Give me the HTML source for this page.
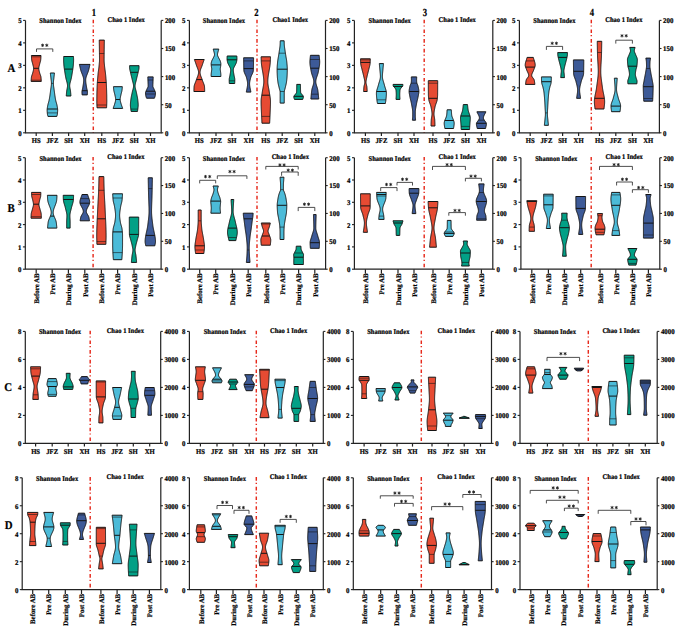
<!DOCTYPE html><html><head><meta charset="utf-8"><style>html,body{margin:0;padding:0;background:#fff;}svg{display:block;font-family:"Liberation Serif",serif;}text{stroke:#000;stroke-width:0.22px;fill:#000;text-rendering:geometricPrecision;}text.r{stroke-width:0.2px;}</style></head><body><svg width="685" height="626" viewBox="0 0 685 626" font-family="Liberation Serif, serif" font-weight="bold" fill="#111"><rect width="685" height="626" fill="#fff"/><g><line x1="93.3" y1="19.7" x2="93.3" y2="132.8" stroke="#E62A1C" stroke-width="1.45" stroke-dasharray="3.6 2.1 1.2 2.8"/><path d="M25.5,20.4 V132.8 H161.2 V20.4" fill="none" stroke="#222" stroke-width="1.2"/><line x1="23.1" y1="132.8" x2="25.5" y2="132.8" stroke="#222" stroke-width="1.1"/><text transform="translate(21.6,135.7) scale(0.95,1)" font-size="7.2" text-anchor="end">0</text><line x1="23.1" y1="110.32" x2="25.5" y2="110.32" stroke="#222" stroke-width="1.1"/><text transform="translate(21.6,113.22) scale(0.95,1)" font-size="7.2" text-anchor="end">1</text><line x1="23.1" y1="87.84" x2="25.5" y2="87.84" stroke="#222" stroke-width="1.1"/><text transform="translate(21.6,90.74) scale(0.95,1)" font-size="7.2" text-anchor="end">2</text><line x1="23.1" y1="65.36" x2="25.5" y2="65.36" stroke="#222" stroke-width="1.1"/><text transform="translate(21.6,68.26) scale(0.95,1)" font-size="7.2" text-anchor="end">3</text><line x1="23.1" y1="42.88" x2="25.5" y2="42.88" stroke="#222" stroke-width="1.1"/><text transform="translate(21.6,45.78) scale(0.95,1)" font-size="7.2" text-anchor="end">4</text><line x1="23.1" y1="20.4" x2="25.5" y2="20.4" stroke="#222" stroke-width="1.1"/><text transform="translate(21.6,23.3) scale(0.95,1)" font-size="7.2" text-anchor="end">5</text><line x1="161.2" y1="132.8" x2="163.29999999999998" y2="132.8" stroke="#222" stroke-width="1.1"/><text transform="translate(164.9,135.7) scale(0.95,1)" font-size="7.2">0</text><line x1="161.2" y1="104.7" x2="163.29999999999998" y2="104.7" stroke="#222" stroke-width="1.1"/><text transform="translate(164.9,107.6) scale(0.95,1)" font-size="7.2">50</text><line x1="161.2" y1="76.6" x2="163.29999999999998" y2="76.6" stroke="#222" stroke-width="1.1"/><text transform="translate(164.9,79.5) scale(0.95,1)" font-size="7.2">100</text><line x1="161.2" y1="48.5" x2="163.29999999999998" y2="48.5" stroke="#222" stroke-width="1.1"/><text transform="translate(164.9,51.4) scale(0.95,1)" font-size="7.2">150</text><line x1="161.2" y1="20.4" x2="163.29999999999998" y2="20.4" stroke="#222" stroke-width="1.1"/><text transform="translate(164.9,23.3) scale(0.95,1)" font-size="7.2">200</text><text transform="translate(60.45,23.3) scale(0.906,1)" font-size="7.2" text-anchor="middle">Shannon Index</text><text transform="translate(126.15,21.7) scale(0.906,1)" font-size="7.2" text-anchor="middle">Chao 1 Index</text><line x1="36.2" y1="132.8" x2="36.2" y2="136.0" stroke="#222" stroke-width="1.2"/><text transform="translate(36.2,142.5) scale(0.93,1)" font-size="7.2" text-anchor="middle">HS</text><path d="M41,55.5 L40.96,56.1 L40.93,56.7 L40.9,57.31 L40.86,57.91 L40.83,58.51 L40.78,59.11 L40.73,59.72 L40.66,60.32 L40.54,60.92 L40.39,61.52 L40.22,62.13 L40.04,62.73 L39.87,63.33 L39.72,63.93 L39.57,64.53 L39.42,65.14 L39.25,65.74 L39.1,66.34 L38.97,66.94 L38.87,67.55 L38.81,68.15 L38.8,68.75 L38.85,69.35 L38.94,69.96 L39.07,70.56 L39.21,71.16 L39.37,71.76 L39.54,72.37 L39.69,72.97 L39.86,73.57 L40.07,74.17 L40.3,74.77 L40.52,75.38 L40.72,75.98 L40.88,76.58 L40.97,77.18 L41.04,77.79 L41.09,78.39 L41.14,78.99 L41.18,79.59 L41.22,80.2 L41.26,80.8 L41.3,81.4 L31.1,81.4 L31.14,80.8 L31.18,80.2 L31.22,79.59 L31.26,78.99 L31.31,78.39 L31.36,77.79 L31.43,77.18 L31.52,76.58 L31.68,75.98 L31.88,75.38 L32.1,74.77 L32.33,74.17 L32.54,73.57 L32.71,72.97 L32.86,72.37 L33.03,71.76 L33.19,71.16 L33.33,70.56 L33.46,69.96 L33.55,69.35 L33.6,68.75 L33.59,68.15 L33.53,67.55 L33.43,66.94 L33.3,66.34 L33.15,65.74 L32.98,65.14 L32.83,64.53 L32.68,63.93 L32.53,63.33 L32.36,62.73 L32.18,62.13 L32.01,61.52 L31.86,60.92 L31.74,60.32 L31.67,59.72 L31.62,59.11 L31.57,58.51 L31.54,57.91 L31.5,57.31 L31.47,56.7 L31.44,56.1 L31.4,55.5Z" fill="#E64B33" stroke="#141414" stroke-width="1.0" stroke-linejoin="round"/><line x1="33.6" y1="68.3" x2="38.8" y2="68.3" stroke="#141414" stroke-width="1.0"/><line x1="31.48" y1="56.8" x2="40.92" y2="56.8" stroke="#141414" stroke-width="0.6"/><line x1="31.18" y1="80.2" x2="41.22" y2="80.2" stroke="#141414" stroke-width="0.6"/><line x1="52.4" y1="132.8" x2="52.4" y2="136.0" stroke="#222" stroke-width="1.2"/><text transform="translate(52.4,142.5) scale(0.93,1)" font-size="7.2" text-anchor="middle">JFZ</text><path d="M54.5,73 L54.43,73.6 L54.35,74.21 L54.28,74.81 L54.2,75.41 L54.13,76.01 L54.06,76.62 L53.99,77.22 L53.92,77.82 L53.85,78.42 L53.78,79.03 L53.7,79.63 L53.62,80.23 L53.55,80.84 L53.49,81.44 L53.44,82.04 L53.41,82.64 L53.4,83.25 L53.41,83.85 L53.44,84.45 L53.49,85.06 L53.55,85.66 L53.62,86.26 L53.7,86.86 L53.79,87.47 L53.88,88.07 L53.97,88.67 L54.05,89.28 L54.13,89.88 L54.21,90.48 L54.29,91.08 L54.37,91.69 L54.44,92.29 L54.52,92.89 L54.61,93.49 L54.69,94.1 L54.77,94.7 L54.86,95.3 L54.95,95.91 L55.05,96.51 L55.14,97.11 L55.24,97.71 L55.34,98.32 L55.45,98.92 L55.56,99.52 L55.67,100.12 L55.81,100.73 L55.96,101.33 L56.12,101.93 L56.29,102.54 L56.46,103.14 L56.63,103.74 L56.79,104.34 L56.94,104.95 L57.07,105.55 L57.18,106.15 L57.28,106.76 L57.38,107.36 L57.48,107.96 L57.56,108.56 L57.62,109.17 L57.65,109.77 L57.65,110.37 L57.63,110.97 L57.6,111.58 L57.56,112.18 L57.52,112.78 L57.46,113.39 L57.4,113.99 L57.31,114.59 L57.16,115.19 L57,115.8 L56.85,116.4 L47.95,116.4 L47.8,115.8 L47.64,115.19 L47.49,114.59 L47.4,113.99 L47.34,113.39 L47.28,112.78 L47.24,112.18 L47.2,111.58 L47.17,110.97 L47.15,110.37 L47.15,109.77 L47.18,109.17 L47.24,108.56 L47.32,107.96 L47.42,107.36 L47.52,106.76 L47.62,106.15 L47.73,105.55 L47.86,104.95 L48.01,104.34 L48.17,103.74 L48.34,103.14 L48.51,102.54 L48.68,101.93 L48.84,101.33 L48.99,100.73 L49.13,100.12 L49.24,99.52 L49.35,98.92 L49.46,98.32 L49.56,97.71 L49.66,97.11 L49.75,96.51 L49.85,95.91 L49.94,95.3 L50.03,94.7 L50.11,94.1 L50.19,93.49 L50.28,92.89 L50.36,92.29 L50.43,91.69 L50.51,91.08 L50.59,90.48 L50.67,89.88 L50.75,89.28 L50.83,88.67 L50.92,88.07 L51.01,87.47 L51.1,86.86 L51.18,86.26 L51.25,85.66 L51.31,85.06 L51.36,84.45 L51.39,83.85 L51.4,83.25 L51.39,82.64 L51.36,82.04 L51.31,81.44 L51.25,80.84 L51.18,80.23 L51.1,79.63 L51.02,79.03 L50.95,78.42 L50.88,77.82 L50.81,77.22 L50.74,76.62 L50.67,76.01 L50.6,75.41 L50.52,74.81 L50.45,74.21 L50.37,73.6 L50.3,73Z" fill="#4CBBD8" stroke="#141414" stroke-width="1.0" stroke-linejoin="round"/><line x1="47.2" y1="109" x2="57.6" y2="109" stroke="#141414" stroke-width="1.0"/><line x1="47.29" y1="112.9" x2="57.51" y2="112.9" stroke="#141414" stroke-width="0.6"/><line x1="51.4" y1="83.4" x2="53.4" y2="83.4" stroke="#141414" stroke-width="0.6"/><line x1="68.6" y1="132.8" x2="68.6" y2="136.0" stroke="#222" stroke-width="1.2"/><text transform="translate(68.6,142.5) scale(0.93,1)" font-size="7.2" text-anchor="middle">SH</text><path d="M73.5,56.5 L73.52,57.11 L73.54,57.72 L73.57,58.32 L73.58,58.93 L73.6,59.54 L73.6,60.15 L73.59,60.75 L73.57,61.36 L73.55,61.97 L73.52,62.58 L73.48,63.18 L73.44,63.79 L73.39,64.4 L73.35,65.01 L73.3,65.62 L73.23,66.22 L73.16,66.83 L73.08,67.44 L72.99,68.05 L72.9,68.65 L72.81,69.26 L72.72,69.87 L72.63,70.48 L72.54,71.08 L72.44,71.69 L72.35,72.3 L72.25,72.91 L72.15,73.52 L72.05,74.12 L71.94,74.73 L71.84,75.34 L71.73,75.95 L71.62,76.55 L71.51,77.16 L71.39,77.77 L71.27,78.38 L71.14,78.98 L70.98,79.59 L70.82,80.2 L70.65,80.81 L70.48,81.42 L70.31,82.02 L70.15,82.63 L70.01,83.24 L69.89,83.85 L69.79,84.45 L69.73,85.06 L69.7,85.67 L69.71,86.28 L69.77,86.88 L69.86,87.49 L69.97,88.1 L70.09,88.71 L70.22,89.32 L70.33,89.92 L70.44,90.53 L70.52,91.14 L70.58,91.75 L70.64,92.35 L70.69,92.96 L70.75,93.57 L70.8,94.18 L70.85,94.78 L70.9,95.39 L70.95,96 L66.25,96 L66.3,95.39 L66.35,94.78 L66.4,94.18 L66.45,93.57 L66.51,92.96 L66.56,92.35 L66.62,91.75 L66.68,91.14 L66.76,90.53 L66.87,89.92 L66.98,89.32 L67.11,88.71 L67.23,88.1 L67.34,87.49 L67.43,86.88 L67.49,86.28 L67.5,85.67 L67.47,85.06 L67.41,84.45 L67.31,83.85 L67.19,83.24 L67.05,82.63 L66.89,82.02 L66.72,81.42 L66.55,80.81 L66.38,80.2 L66.22,79.59 L66.06,78.98 L65.93,78.38 L65.81,77.77 L65.69,77.16 L65.58,76.55 L65.47,75.95 L65.36,75.34 L65.26,74.73 L65.15,74.12 L65.05,73.52 L64.95,72.91 L64.85,72.3 L64.76,71.69 L64.66,71.08 L64.57,70.48 L64.48,69.87 L64.39,69.26 L64.3,68.65 L64.21,68.05 L64.12,67.44 L64.04,66.83 L63.97,66.22 L63.9,65.62 L63.85,65.01 L63.81,64.4 L63.76,63.79 L63.72,63.18 L63.68,62.58 L63.65,61.97 L63.63,61.36 L63.61,60.75 L63.6,60.15 L63.6,59.54 L63.62,58.93 L63.63,58.32 L63.66,57.72 L63.68,57.11 L63.7,56.5Z" fill="#02A086" stroke="#141414" stroke-width="1.0" stroke-linejoin="round"/><line x1="64.37" y1="69.1" x2="72.83" y2="69.1" stroke="#141414" stroke-width="1.0"/><line x1="84.7" y1="132.8" x2="84.7" y2="136.0" stroke="#222" stroke-width="1.2"/><text transform="translate(84.7,142.5) scale(0.93,1)" font-size="7.2" text-anchor="middle">XH</text><path d="M90,64.4 L89.86,65.01 L89.72,65.62 L89.59,66.23 L89.45,66.84 L89.31,67.45 L89.17,68.06 L89.03,68.67 L88.88,69.28 L88.73,69.89 L88.56,70.5 L88.37,71.11 L88.16,71.72 L87.93,72.33 L87.7,72.94 L87.45,73.55 L87.21,74.16 L86.97,74.77 L86.73,75.38 L86.51,75.99 L86.31,76.6 L86.13,77.21 L85.97,77.82 L85.84,78.43 L85.76,79.04 L85.71,79.65 L85.7,80.26 L85.72,80.87 L85.76,81.48 L85.81,82.09 L85.87,82.7 L85.95,83.31 L86.03,83.92 L86.13,84.53 L86.23,85.14 L86.33,85.75 L86.43,86.36 L86.53,86.97 L86.63,87.58 L86.73,88.19 L86.86,88.8 L87,89.41 L87.16,90.02 L87.29,90.63 L87.4,91.24 L87.45,91.85 L87.44,92.46 L87.42,93.07 L87.38,93.68 L87.34,94.29 L87.3,94.9 L82.1,94.9 L82.06,94.29 L82.02,93.68 L81.98,93.07 L81.96,92.46 L81.95,91.85 L82,91.24 L82.11,90.63 L82.24,90.02 L82.4,89.41 L82.54,88.8 L82.67,88.19 L82.77,87.58 L82.87,86.97 L82.97,86.36 L83.07,85.75 L83.17,85.14 L83.27,84.53 L83.37,83.92 L83.45,83.31 L83.53,82.7 L83.59,82.09 L83.64,81.48 L83.68,80.87 L83.7,80.26 L83.69,79.65 L83.64,79.04 L83.56,78.43 L83.43,77.82 L83.27,77.21 L83.09,76.6 L82.89,75.99 L82.67,75.38 L82.43,74.77 L82.19,74.16 L81.95,73.55 L81.7,72.94 L81.47,72.33 L81.24,71.72 L81.03,71.11 L80.84,70.5 L80.67,69.89 L80.52,69.28 L80.37,68.67 L80.23,68.06 L80.09,67.45 L79.95,66.84 L79.81,66.23 L79.68,65.62 L79.54,65.01 L79.4,64.4Z" fill="#3D5A97" stroke="#141414" stroke-width="1.0" stroke-linejoin="round"/><line x1="82.09" y1="90.7" x2="87.31" y2="90.7" stroke="#141414" stroke-width="1.0"/><line x1="101.8" y1="132.8" x2="101.8" y2="136.0" stroke="#222" stroke-width="1.2"/><text transform="translate(101.8,142.5) scale(0.93,1)" font-size="7.2" text-anchor="middle">HS</text><path d="M104.35,40.1 L104.34,40.7 L104.33,41.31 L104.32,41.91 L104.31,42.52 L104.3,43.12 L104.29,43.73 L104.28,44.33 L104.27,44.94 L104.26,45.54 L104.25,46.14 L104.24,46.75 L104.24,47.35 L104.23,47.96 L104.22,48.56 L104.21,49.17 L104.2,49.77 L104.2,50.38 L104.19,50.98 L104.18,51.58 L104.17,52.19 L104.16,52.79 L104.16,53.4 L104.15,54 L104.14,54.61 L104.13,55.21 L104.13,55.82 L104.12,56.42 L104.11,57.02 L104.11,57.63 L104.11,58.23 L104.1,58.84 L104.1,59.44 L104.1,60.05 L104.11,60.65 L104.13,61.26 L104.17,61.86 L104.21,62.47 L104.26,63.07 L104.32,63.67 L104.38,64.28 L104.44,64.88 L104.5,65.49 L104.56,66.09 L104.62,66.7 L104.69,67.3 L104.76,67.91 L104.84,68.51 L104.92,69.11 L105.01,69.72 L105.09,70.32 L105.18,70.93 L105.26,71.53 L105.34,72.14 L105.41,72.74 L105.48,73.35 L105.55,73.95 L105.6,74.55 L105.66,75.16 L105.72,75.76 L105.77,76.37 L105.83,76.97 L105.88,77.58 L105.93,78.18 L105.98,78.79 L106.03,79.39 L106.08,79.99 L106.13,80.6 L106.17,81.2 L106.21,81.81 L106.25,82.41 L106.29,83.02 L106.33,83.62 L106.36,84.23 L106.4,84.83 L106.42,85.43 L106.45,86.04 L106.48,86.64 L106.5,87.25 L106.53,87.85 L106.55,88.46 L106.57,89.06 L106.59,89.67 L106.61,90.27 L106.63,90.88 L106.65,91.48 L106.67,92.08 L106.68,92.69 L106.7,93.29 L106.71,93.9 L106.73,94.5 L106.74,95.11 L106.75,95.71 L106.75,96.32 L106.76,96.92 L106.77,97.52 L106.78,98.13 L106.78,98.73 L106.79,99.34 L106.79,99.94 L106.8,100.55 L106.8,101.15 L106.8,101.76 L106.79,102.36 L106.78,102.96 L106.76,103.57 L106.74,104.17 L106.72,104.78 L106.69,105.38 L106.67,105.99 L106.64,106.59 L106.62,107.2 L106.6,107.8 L97,107.8 L96.98,107.2 L96.96,106.59 L96.93,105.99 L96.91,105.38 L96.88,104.78 L96.86,104.17 L96.84,103.57 L96.82,102.96 L96.81,102.36 L96.8,101.76 L96.8,101.15 L96.8,100.55 L96.81,99.94 L96.81,99.34 L96.82,98.73 L96.82,98.13 L96.83,97.52 L96.84,96.92 L96.85,96.32 L96.85,95.71 L96.86,95.11 L96.87,94.5 L96.89,93.9 L96.9,93.29 L96.92,92.69 L96.93,92.08 L96.95,91.48 L96.97,90.88 L96.99,90.27 L97.01,89.67 L97.03,89.06 L97.05,88.46 L97.07,87.85 L97.1,87.25 L97.12,86.64 L97.15,86.04 L97.18,85.43 L97.2,84.83 L97.24,84.23 L97.27,83.62 L97.31,83.02 L97.35,82.41 L97.39,81.81 L97.43,81.2 L97.47,80.6 L97.52,79.99 L97.57,79.39 L97.62,78.79 L97.67,78.18 L97.72,77.58 L97.77,76.97 L97.83,76.37 L97.88,75.76 L97.94,75.16 L98,74.55 L98.05,73.95 L98.12,73.35 L98.19,72.74 L98.26,72.14 L98.34,71.53 L98.42,70.93 L98.51,70.32 L98.59,69.72 L98.68,69.11 L98.76,68.51 L98.84,67.91 L98.91,67.3 L98.98,66.7 L99.04,66.09 L99.1,65.49 L99.16,64.88 L99.22,64.28 L99.28,63.67 L99.34,63.07 L99.39,62.47 L99.43,61.86 L99.47,61.26 L99.49,60.65 L99.5,60.05 L99.5,59.44 L99.5,58.84 L99.49,58.23 L99.49,57.63 L99.49,57.02 L99.48,56.42 L99.47,55.82 L99.47,55.21 L99.46,54.61 L99.45,54 L99.44,53.4 L99.44,52.79 L99.43,52.19 L99.42,51.58 L99.41,50.98 L99.4,50.38 L99.4,49.77 L99.39,49.17 L99.38,48.56 L99.37,47.96 L99.36,47.35 L99.36,46.75 L99.35,46.14 L99.34,45.54 L99.33,44.94 L99.32,44.33 L99.31,43.73 L99.3,43.12 L99.29,42.52 L99.28,41.91 L99.27,41.31 L99.26,40.7 L99.25,40.1Z" fill="#E64B33" stroke="#141414" stroke-width="1.0" stroke-linejoin="round"/><line x1="97.34" y1="82.5" x2="106.26" y2="82.5" stroke="#141414" stroke-width="1.0"/><line x1="99.45" y1="53.5" x2="104.15" y2="53.5" stroke="#141414" stroke-width="0.6"/><line x1="96.89" y1="105" x2="106.71" y2="105" stroke="#141414" stroke-width="0.6"/><line x1="117.9" y1="132.8" x2="117.9" y2="136.0" stroke="#222" stroke-width="1.2"/><text transform="translate(117.9,142.5) scale(0.93,1)" font-size="7.2" text-anchor="middle">JFZ</text><path d="M122.35,86.7 L122.3,87.3 L122.25,87.91 L122.2,88.51 L122.15,89.11 L122.08,89.71 L122.01,90.32 L121.9,90.92 L121.76,91.52 L121.61,92.12 L121.46,92.73 L121.29,93.33 L121.14,93.93 L121,94.54 L120.87,95.14 L120.75,95.74 L120.61,96.34 L120.48,96.95 L120.36,97.55 L120.26,98.15 L120.18,98.76 L120.15,99.36 L120.17,99.96 L120.24,100.56 L120.35,101.17 L120.5,101.77 L120.67,102.37 L120.85,102.98 L121.03,103.58 L121.2,104.18 L121.38,104.78 L121.59,105.39 L121.8,105.99 L122.03,106.59 L122.26,107.19 L122.48,107.8 L122.7,108.4 L113.1,108.4 L113.32,107.8 L113.54,107.19 L113.77,106.59 L114,105.99 L114.21,105.39 L114.42,104.78 L114.6,104.18 L114.77,103.58 L114.95,102.98 L115.13,102.37 L115.3,101.77 L115.45,101.17 L115.56,100.56 L115.63,99.96 L115.65,99.36 L115.62,98.76 L115.54,98.15 L115.44,97.55 L115.32,96.95 L115.19,96.34 L115.05,95.74 L114.93,95.14 L114.8,94.54 L114.66,93.93 L114.51,93.33 L114.34,92.73 L114.19,92.12 L114.04,91.52 L113.9,90.92 L113.79,90.32 L113.72,89.71 L113.65,89.11 L113.6,88.51 L113.55,87.91 L113.5,87.3 L113.45,86.7Z" fill="#4CBBD8" stroke="#141414" stroke-width="1.0" stroke-linejoin="round"/><line x1="115.65" y1="99.5" x2="120.15" y2="99.5" stroke="#141414" stroke-width="1.0"/><line x1="134.3" y1="132.8" x2="134.3" y2="136.0" stroke="#222" stroke-width="1.2"/><text transform="translate(134.3,142.5) scale(0.93,1)" font-size="7.2" text-anchor="middle">SH</text><path d="M139.05,65.7 L139.04,66.3 L139.03,66.9 L139.02,67.5 L139,68.11 L138.94,68.71 L138.85,69.31 L138.73,69.91 L138.58,70.51 L138.43,71.11 L138.28,71.71 L138.15,72.31 L138.01,72.92 L137.88,73.52 L137.73,74.12 L137.59,74.72 L137.44,75.32 L137.29,75.92 L137.14,76.52 L136.99,77.12 L136.84,77.73 L136.69,78.33 L136.54,78.93 L136.41,79.53 L136.27,80.13 L136.13,80.73 L135.97,81.33 L135.8,81.94 L135.64,82.54 L135.48,83.14 L135.34,83.74 L135.22,84.34 L135.13,84.94 L135.07,85.54 L135.05,86.14 L135.08,86.75 L135.15,87.35 L135.26,87.95 L135.4,88.55 L135.56,89.15 L135.72,89.75 L135.89,90.35 L136.06,90.96 L136.2,91.56 L136.33,92.16 L136.45,92.76 L136.58,93.36 L136.71,93.96 L136.84,94.56 L136.97,95.16 L137.09,95.77 L137.21,96.37 L137.33,96.97 L137.44,97.57 L137.55,98.17 L137.64,98.77 L137.72,99.37 L137.8,99.97 L137.86,100.58 L137.93,101.18 L138,101.78 L138.06,102.38 L138.11,102.98 L138.15,103.58 L138.18,104.18 L138.2,104.79 L138.2,105.39 L138.17,105.99 L138.12,106.59 L138.06,107.19 L137.99,107.79 L137.91,108.39 L137.82,108.99 L137.74,109.6 L137.65,110.2 L137.57,110.8 L137.5,111.4 L131.1,111.4 L131.03,110.8 L130.95,110.2 L130.86,109.6 L130.78,108.99 L130.69,108.39 L130.61,107.79 L130.54,107.19 L130.48,106.59 L130.43,105.99 L130.4,105.39 L130.4,104.79 L130.42,104.18 L130.45,103.58 L130.49,102.98 L130.54,102.38 L130.6,101.78 L130.67,101.18 L130.74,100.58 L130.8,99.97 L130.88,99.37 L130.96,98.77 L131.05,98.17 L131.16,97.57 L131.27,96.97 L131.39,96.37 L131.51,95.77 L131.63,95.16 L131.76,94.56 L131.89,93.96 L132.02,93.36 L132.15,92.76 L132.27,92.16 L132.4,91.56 L132.54,90.96 L132.71,90.35 L132.88,89.75 L133.04,89.15 L133.2,88.55 L133.34,87.95 L133.45,87.35 L133.52,86.75 L133.55,86.14 L133.53,85.54 L133.47,84.94 L133.38,84.34 L133.26,83.74 L133.12,83.14 L132.96,82.54 L132.8,81.94 L132.63,81.33 L132.47,80.73 L132.33,80.13 L132.19,79.53 L132.06,78.93 L131.91,78.33 L131.76,77.73 L131.61,77.12 L131.46,76.52 L131.31,75.92 L131.16,75.32 L131.01,74.72 L130.87,74.12 L130.72,73.52 L130.59,72.92 L130.45,72.31 L130.32,71.71 L130.17,71.11 L130.02,70.51 L129.87,69.91 L129.75,69.31 L129.66,68.71 L129.6,68.11 L129.58,67.5 L129.57,66.9 L129.56,66.3 L129.55,65.7Z" fill="#02A086" stroke="#141414" stroke-width="1.0" stroke-linejoin="round"/><line x1="130.45" y1="72.3" x2="138.15" y2="72.3" stroke="#141414" stroke-width="1.0"/><line x1="130.79" y1="109.1" x2="137.81" y2="109.1" stroke="#141414" stroke-width="0.6"/><line x1="150.5" y1="132.8" x2="150.5" y2="136.0" stroke="#222" stroke-width="1.2"/><text transform="translate(150.5,142.5) scale(0.93,1)" font-size="7.2" text-anchor="middle">XH</text><path d="M153.2,76.9 L153.18,77.51 L153.15,78.12 L153.13,78.73 L153.1,79.33 L153.08,79.94 L153.06,80.55 L153.03,81.16 L153.01,81.77 L152.98,82.38 L152.96,82.99 L152.93,83.59 L152.9,84.2 L152.87,84.81 L152.86,85.42 L152.85,86.03 L152.92,86.64 L153.14,87.25 L153.44,87.85 L153.76,88.46 L154.03,89.07 L154.29,89.68 L154.58,90.29 L154.88,90.9 L155.14,91.51 L155.35,92.11 L155.48,92.72 L155.5,93.33 L155.46,93.94 L155.39,94.55 L155.3,95.16 L155.19,95.77 L155.07,96.37 L154.88,96.98 L154.66,97.59 L154.45,98.2 L146.55,98.2 L146.34,97.59 L146.12,96.98 L145.93,96.37 L145.81,95.77 L145.7,95.16 L145.61,94.55 L145.54,93.94 L145.5,93.33 L145.52,92.72 L145.65,92.11 L145.86,91.51 L146.12,90.9 L146.42,90.29 L146.71,89.68 L146.97,89.07 L147.24,88.46 L147.56,87.85 L147.86,87.25 L148.08,86.64 L148.15,86.03 L148.14,85.42 L148.13,84.81 L148.1,84.2 L148.07,83.59 L148.04,82.99 L148.02,82.38 L147.99,81.77 L147.97,81.16 L147.94,80.55 L147.92,79.94 L147.9,79.33 L147.87,78.73 L147.85,78.12 L147.82,77.51 L147.8,76.9Z" fill="#3D5A97" stroke="#141414" stroke-width="1.0" stroke-linejoin="round"/><line x1="145.99" y1="91.2" x2="155.01" y2="91.2" stroke="#141414" stroke-width="1.0"/><line x1="147.92" y1="80" x2="153.08" y2="80" stroke="#141414" stroke-width="0.6"/><line x1="145.55" y1="94" x2="155.45" y2="94" stroke="#141414" stroke-width="0.6"/><path d="M36.5,51.9 V48.9 H52.8 V51.9" fill="none" stroke="#222" stroke-width="0.8"/><path d="M42.6,43.65L42.6,46.95M41.17,44.47L44.03,46.12M44.03,44.47L41.17,46.12" stroke="#1a1a1a" stroke-width="0.85" fill="none"/><path d="M46.8,43.65L46.8,46.95M45.37,44.47L48.23,46.12M48.23,44.47L45.37,46.12" stroke="#1a1a1a" stroke-width="0.85" fill="none"/></g><g><line x1="257.0" y1="19.7" x2="257.0" y2="132.8" stroke="#E62A1C" stroke-width="1.45" stroke-dasharray="3.6 2.1 1.2 2.8"/><path d="M189.4,20.4 V132.8 H325.5 V20.4" fill="none" stroke="#222" stroke-width="1.2"/><line x1="187.0" y1="132.8" x2="189.4" y2="132.8" stroke="#222" stroke-width="1.1"/><text transform="translate(185.5,135.7) scale(0.95,1)" font-size="7.2" text-anchor="end">0</text><line x1="187.0" y1="110.32" x2="189.4" y2="110.32" stroke="#222" stroke-width="1.1"/><text transform="translate(185.5,113.22) scale(0.95,1)" font-size="7.2" text-anchor="end">1</text><line x1="187.0" y1="87.84" x2="189.4" y2="87.84" stroke="#222" stroke-width="1.1"/><text transform="translate(185.5,90.74) scale(0.95,1)" font-size="7.2" text-anchor="end">2</text><line x1="187.0" y1="65.36" x2="189.4" y2="65.36" stroke="#222" stroke-width="1.1"/><text transform="translate(185.5,68.26) scale(0.95,1)" font-size="7.2" text-anchor="end">3</text><line x1="187.0" y1="42.88" x2="189.4" y2="42.88" stroke="#222" stroke-width="1.1"/><text transform="translate(185.5,45.78) scale(0.95,1)" font-size="7.2" text-anchor="end">4</text><line x1="187.0" y1="20.4" x2="189.4" y2="20.4" stroke="#222" stroke-width="1.1"/><text transform="translate(185.5,23.3) scale(0.95,1)" font-size="7.2" text-anchor="end">5</text><line x1="325.5" y1="132.8" x2="327.6" y2="132.8" stroke="#222" stroke-width="1.1"/><text transform="translate(329.2,135.7) scale(0.95,1)" font-size="7.2">0</text><line x1="325.5" y1="104.7" x2="327.6" y2="104.7" stroke="#222" stroke-width="1.1"/><text transform="translate(329.2,107.6) scale(0.95,1)" font-size="7.2">50</text><line x1="325.5" y1="76.6" x2="327.6" y2="76.6" stroke="#222" stroke-width="1.1"/><text transform="translate(329.2,79.5) scale(0.95,1)" font-size="7.2">100</text><line x1="325.5" y1="48.5" x2="327.6" y2="48.5" stroke="#222" stroke-width="1.1"/><text transform="translate(329.2,51.4) scale(0.95,1)" font-size="7.2">150</text><line x1="325.5" y1="20.4" x2="327.6" y2="20.4" stroke="#222" stroke-width="1.1"/><text transform="translate(329.2,23.3) scale(0.95,1)" font-size="7.2">200</text><text transform="translate(223.95,23.3) scale(0.906,1)" font-size="7.2" text-anchor="middle">Shannon Index</text><text transform="translate(290.3,21.7) scale(0.906,1)" font-size="7.2" text-anchor="middle">Chao1 Index</text><line x1="199.3" y1="132.8" x2="199.3" y2="136.0" stroke="#222" stroke-width="1.2"/><text transform="translate(199.3,142.5) scale(0.93,1)" font-size="7.2" text-anchor="middle">HS</text><path d="M204.2,59.5 L203.99,60.1 L203.78,60.71 L203.57,61.31 L203.35,61.92 L203.14,62.52 L202.93,63.12 L202.72,63.73 L202.52,64.33 L202.32,64.93 L202.12,65.54 L201.89,66.14 L201.65,66.75 L201.41,67.35 L201.17,67.95 L200.93,68.56 L200.71,69.16 L200.51,69.76 L200.33,70.37 L200.2,70.97 L200.1,71.58 L200.05,72.18 L200.06,72.78 L200.12,73.39 L200.22,73.99 L200.37,74.59 L200.54,75.2 L200.74,75.8 L200.96,76.41 L201.19,77.01 L201.43,77.61 L201.66,78.22 L201.89,78.82 L202.11,79.42 L202.31,80.03 L202.51,80.63 L202.73,81.24 L202.97,81.84 L203.22,82.44 L203.46,83.05 L203.7,83.65 L203.93,84.25 L204.13,84.86 L204.3,85.46 L204.43,86.07 L204.52,86.67 L204.56,87.27 L204.59,87.88 L204.62,88.48 L204.63,89.08 L204.65,89.69 L204.67,90.29 L204.68,90.9 L204.7,91.5 L193.9,91.5 L193.92,90.9 L193.93,90.29 L193.95,89.69 L193.97,89.08 L193.98,88.48 L194.01,87.88 L194.04,87.27 L194.08,86.67 L194.17,86.07 L194.3,85.46 L194.47,84.86 L194.67,84.25 L194.9,83.65 L195.14,83.05 L195.38,82.44 L195.63,81.84 L195.87,81.24 L196.09,80.63 L196.29,80.03 L196.49,79.42 L196.71,78.82 L196.94,78.22 L197.17,77.61 L197.41,77.01 L197.64,76.41 L197.86,75.8 L198.06,75.2 L198.23,74.59 L198.38,73.99 L198.48,73.39 L198.54,72.78 L198.55,72.18 L198.5,71.58 L198.4,70.97 L198.27,70.37 L198.09,69.76 L197.89,69.16 L197.67,68.56 L197.43,67.95 L197.19,67.35 L196.95,66.75 L196.71,66.14 L196.48,65.54 L196.28,64.93 L196.08,64.33 L195.88,63.73 L195.67,63.12 L195.46,62.52 L195.25,61.92 L195.03,61.31 L194.82,60.71 L194.61,60.1 L194.4,59.5Z" fill="#E64B33" stroke="#141414" stroke-width="1.0" stroke-linejoin="round"/><line x1="196.43" y1="79.6" x2="202.17" y2="79.6" stroke="#141414" stroke-width="1.0"/><line x1="216.0" y1="132.8" x2="216.0" y2="136.0" stroke="#222" stroke-width="1.2"/><text transform="translate(216,142.5) scale(0.93,1)" font-size="7.2" text-anchor="middle">JFZ</text><path d="M218.8,49.1 L218.62,49.71 L218.43,50.32 L218.27,50.93 L218.11,51.54 L217.95,52.14 L217.79,52.75 L217.65,53.36 L217.55,53.97 L217.5,54.58 L217.55,55.19 L217.72,55.8 L217.97,56.41 L218.27,57.02 L218.58,57.62 L218.86,58.23 L219.18,58.84 L219.52,59.45 L219.86,60.06 L220.14,60.67 L220.33,61.28 L220.51,61.89 L220.67,62.5 L220.79,63.1 L220.85,63.71 L220.84,64.32 L220.8,64.93 L220.75,65.54 L220.68,66.15 L220.59,66.76 L220.47,67.37 L220.35,67.98 L220.27,68.58 L220.25,69.19 L220.3,69.8 L220.37,70.41 L220.47,71.02 L220.56,71.63 L220.63,72.24 L220.7,72.85 L220.78,73.46 L220.83,74.06 L220.85,74.67 L220.85,75.28 L220.85,75.89 L220.85,76.5 L211.15,76.5 L211.15,75.89 L211.15,75.28 L211.15,74.67 L211.17,74.06 L211.22,73.46 L211.3,72.85 L211.37,72.24 L211.44,71.63 L211.53,71.02 L211.63,70.41 L211.7,69.8 L211.75,69.19 L211.73,68.58 L211.65,67.98 L211.53,67.37 L211.41,66.76 L211.32,66.15 L211.25,65.54 L211.2,64.93 L211.16,64.32 L211.15,63.71 L211.21,63.1 L211.33,62.5 L211.49,61.89 L211.67,61.28 L211.86,60.67 L212.14,60.06 L212.48,59.45 L212.82,58.84 L213.14,58.23 L213.42,57.62 L213.73,57.02 L214.03,56.41 L214.28,55.8 L214.45,55.19 L214.5,54.58 L214.45,53.97 L214.35,53.36 L214.21,52.75 L214.05,52.14 L213.89,51.54 L213.73,50.93 L213.57,50.32 L213.38,49.71 L213.2,49.1Z" fill="#4CBBD8" stroke="#141414" stroke-width="1.0" stroke-linejoin="round"/><line x1="211.2" y1="64.9" x2="220.8" y2="64.9" stroke="#141414" stroke-width="1.0"/><line x1="232.0" y1="132.8" x2="232.0" y2="136.0" stroke="#222" stroke-width="1.2"/><text transform="translate(232,142.5) scale(0.93,1)" font-size="7.2" text-anchor="middle">SH</text><path d="M236.85,56 L236.87,56.61 L236.9,57.22 L236.93,57.83 L236.94,58.44 L236.95,59.06 L236.92,59.67 L236.84,60.28 L236.73,60.89 L236.6,61.5 L236.48,62.11 L236.3,62.72 L236.07,63.33 L235.8,63.94 L235.49,64.56 L235.16,65.17 L234.82,65.78 L234.48,66.39 L234.17,67 L233.88,67.61 L233.64,68.22 L233.45,68.83 L233.34,69.44 L233.3,70.06 L233.32,70.67 L233.38,71.28 L233.46,71.89 L233.55,72.5 L233.66,73.11 L233.78,73.72 L233.89,74.33 L233.99,74.94 L234.1,75.56 L234.22,76.17 L234.36,76.78 L234.5,77.39 L234.62,78 L234.72,78.61 L234.78,79.22 L234.8,79.83 L234.79,80.44 L234.78,81.06 L234.76,81.67 L234.74,82.28 L234.72,82.89 L234.7,83.5 L229.3,83.5 L229.28,82.89 L229.26,82.28 L229.24,81.67 L229.22,81.06 L229.21,80.44 L229.2,79.83 L229.22,79.22 L229.28,78.61 L229.38,78 L229.5,77.39 L229.64,76.78 L229.78,76.17 L229.9,75.56 L230.01,74.94 L230.11,74.33 L230.22,73.72 L230.34,73.11 L230.45,72.5 L230.54,71.89 L230.62,71.28 L230.68,70.67 L230.7,70.06 L230.66,69.44 L230.55,68.83 L230.36,68.22 L230.12,67.61 L229.83,67 L229.52,66.39 L229.18,65.78 L228.84,65.17 L228.51,64.56 L228.2,63.94 L227.93,63.33 L227.7,62.72 L227.52,62.11 L227.4,61.5 L227.27,60.89 L227.16,60.28 L227.08,59.67 L227.05,59.06 L227.06,58.44 L227.07,57.83 L227.1,57.22 L227.13,56.61 L227.15,56Z" fill="#02A086" stroke="#141414" stroke-width="1.0" stroke-linejoin="round"/><line x1="227.1" y1="59.8" x2="236.9" y2="59.8" stroke="#141414" stroke-width="1.0"/><line x1="229.21" y1="80.8" x2="234.79" y2="80.8" stroke="#141414" stroke-width="0.6"/><line x1="248.6" y1="132.8" x2="248.6" y2="136.0" stroke="#222" stroke-width="1.2"/><text transform="translate(248.6,142.5) scale(0.93,1)" font-size="7.2" text-anchor="middle">XH</text><path d="M253.6,57.8 L253.59,58.4 L253.58,59 L253.57,59.61 L253.56,60.21 L253.55,60.81 L253.54,61.41 L253.54,62.01 L253.53,62.61 L253.52,63.22 L253.51,63.82 L253.5,64.42 L253.49,65.02 L253.48,65.62 L253.47,66.22 L253.46,66.83 L253.44,67.43 L253.43,68.03 L253.41,68.63 L253.39,69.23 L253.37,69.84 L253.34,70.44 L253.27,71.04 L253.14,71.64 L252.95,72.24 L252.73,72.84 L252.48,73.45 L252.2,74.05 L251.92,74.65 L251.64,75.25 L251.36,75.85 L251.1,76.45 L250.88,77.06 L250.69,77.66 L250.54,78.26 L250.4,78.86 L250.25,79.46 L250.11,80.06 L249.98,80.67 L249.86,81.27 L249.76,81.87 L249.68,82.47 L249.62,83.07 L249.6,83.68 L249.61,84.28 L249.64,84.88 L249.7,85.48 L249.77,86.08 L249.86,86.68 L249.96,87.29 L250.08,87.89 L250.2,88.49 L250.32,89.09 L250.45,89.69 L250.57,90.29 L250.69,90.9 L250.8,91.5 L250.9,92.1 L246.3,92.1 L246.4,91.5 L246.51,90.9 L246.63,90.29 L246.75,89.69 L246.88,89.09 L247,88.49 L247.12,87.89 L247.24,87.29 L247.34,86.68 L247.43,86.08 L247.5,85.48 L247.56,84.88 L247.59,84.28 L247.6,83.68 L247.58,83.07 L247.52,82.47 L247.44,81.87 L247.34,81.27 L247.22,80.67 L247.09,80.06 L246.95,79.46 L246.8,78.86 L246.66,78.26 L246.51,77.66 L246.32,77.06 L246.1,76.45 L245.84,75.85 L245.56,75.25 L245.28,74.65 L245,74.05 L244.72,73.45 L244.47,72.84 L244.25,72.24 L244.06,71.64 L243.93,71.04 L243.86,70.44 L243.83,69.84 L243.81,69.23 L243.79,68.63 L243.77,68.03 L243.76,67.43 L243.74,66.83 L243.73,66.22 L243.72,65.62 L243.71,65.02 L243.7,64.42 L243.69,63.82 L243.68,63.22 L243.67,62.61 L243.66,62.01 L243.66,61.41 L243.65,60.81 L243.64,60.21 L243.63,59.61 L243.62,59 L243.61,58.4 L243.6,57.8Z" fill="#3D5A97" stroke="#141414" stroke-width="1.0" stroke-linejoin="round"/><line x1="243.79" y1="68.6" x2="253.41" y2="68.6" stroke="#141414" stroke-width="1.0"/><line x1="243.65" y1="60.9" x2="253.55" y2="60.9" stroke="#141414" stroke-width="0.6"/><line x1="265.8" y1="132.8" x2="265.8" y2="136.0" stroke="#222" stroke-width="1.2"/><text transform="translate(265.8,142.5) scale(0.93,1)" font-size="7.2" text-anchor="middle">HS</text><path d="M270.5,56.8 L270.48,57.4 L270.46,58.01 L270.44,58.61 L270.42,59.21 L270.39,59.82 L270.37,60.42 L270.35,61.03 L270.32,61.63 L270.29,62.23 L270.25,62.84 L270.2,63.44 L270.14,64.04 L270.07,64.65 L270,65.25 L269.92,65.85 L269.83,66.46 L269.74,67.06 L269.64,67.67 L269.55,68.27 L269.44,68.87 L269.34,69.48 L269.23,70.08 L269.13,70.68 L269.02,71.29 L268.91,71.89 L268.8,72.49 L268.7,73.1 L268.6,73.7 L268.5,74.31 L268.4,74.91 L268.31,75.51 L268.23,76.12 L268.15,76.72 L268.07,77.32 L268.01,77.93 L267.95,78.53 L267.9,79.13 L267.86,79.74 L267.83,80.34 L267.81,80.95 L267.8,81.55 L267.81,82.15 L267.83,82.76 L267.87,83.36 L267.93,83.96 L268.01,84.57 L268.09,85.17 L268.19,85.77 L268.29,86.38 L268.4,86.98 L268.51,87.59 L268.63,88.19 L268.75,88.79 L268.86,89.4 L268.98,90 L269.08,90.6 L269.18,91.21 L269.27,91.81 L269.36,92.41 L269.45,93.02 L269.55,93.62 L269.65,94.23 L269.75,94.83 L269.85,95.43 L269.95,96.04 L270.05,96.64 L270.14,97.24 L270.23,97.85 L270.31,98.45 L270.37,99.05 L270.43,99.66 L270.47,100.26 L270.49,100.87 L270.5,101.47 L270.5,102.07 L270.49,102.68 L270.49,103.28 L270.48,103.88 L270.46,104.49 L270.45,105.09 L270.43,105.69 L270.41,106.3 L270.39,106.9 L270.37,107.51 L270.35,108.11 L270.32,108.71 L270.3,109.32 L270.27,109.92 L270.24,110.52 L270.22,111.13 L270.19,111.73 L270.16,112.33 L270.14,112.94 L270.11,113.54 L270.09,114.15 L270.06,114.75 L270.04,115.35 L270.01,115.96 L269.98,116.56 L269.95,117.16 L269.93,117.77 L269.9,118.37 L269.87,118.97 L269.83,119.58 L269.8,120.18 L269.77,120.79 L269.74,121.39 L269.71,121.99 L269.68,122.6 L269.65,123.2 L261.95,123.2 L261.92,122.6 L261.89,121.99 L261.86,121.39 L261.83,120.79 L261.8,120.18 L261.77,119.58 L261.73,118.97 L261.7,118.37 L261.67,117.77 L261.65,117.16 L261.62,116.56 L261.59,115.96 L261.56,115.35 L261.54,114.75 L261.51,114.15 L261.49,113.54 L261.46,112.94 L261.44,112.33 L261.41,111.73 L261.38,111.13 L261.36,110.52 L261.33,109.92 L261.3,109.32 L261.28,108.71 L261.25,108.11 L261.23,107.51 L261.21,106.9 L261.19,106.3 L261.17,105.69 L261.15,105.09 L261.14,104.49 L261.12,103.88 L261.11,103.28 L261.11,102.68 L261.1,102.07 L261.1,101.47 L261.11,100.87 L261.13,100.26 L261.17,99.66 L261.23,99.05 L261.29,98.45 L261.37,97.85 L261.46,97.24 L261.55,96.64 L261.65,96.04 L261.75,95.43 L261.85,94.83 L261.95,94.23 L262.05,93.62 L262.15,93.02 L262.24,92.41 L262.33,91.81 L262.42,91.21 L262.52,90.6 L262.62,90 L262.74,89.4 L262.85,88.79 L262.97,88.19 L263.09,87.59 L263.2,86.98 L263.31,86.38 L263.41,85.77 L263.51,85.17 L263.59,84.57 L263.67,83.96 L263.73,83.36 L263.77,82.76 L263.79,82.15 L263.8,81.55 L263.79,80.95 L263.77,80.34 L263.74,79.74 L263.7,79.13 L263.65,78.53 L263.59,77.93 L263.53,77.32 L263.45,76.72 L263.37,76.12 L263.29,75.51 L263.2,74.91 L263.1,74.31 L263,73.7 L262.9,73.1 L262.8,72.49 L262.69,71.89 L262.58,71.29 L262.47,70.68 L262.37,70.08 L262.26,69.48 L262.16,68.87 L262.05,68.27 L261.96,67.67 L261.86,67.06 L261.77,66.46 L261.68,65.85 L261.6,65.25 L261.53,64.65 L261.46,64.04 L261.4,63.44 L261.35,62.84 L261.31,62.23 L261.28,61.63 L261.25,61.03 L261.23,60.42 L261.21,59.82 L261.18,59.21 L261.16,58.61 L261.14,58.01 L261.12,57.4 L261.1,56.8Z" fill="#E64B33" stroke="#141414" stroke-width="1.0" stroke-linejoin="round"/><line x1="261.79" y1="95.2" x2="269.81" y2="95.2" stroke="#141414" stroke-width="1.0"/><line x1="261.25" y1="60.9" x2="270.35" y2="60.9" stroke="#141414" stroke-width="0.6"/><line x1="261.61" y1="116.4" x2="269.99" y2="116.4" stroke="#141414" stroke-width="0.6"/><line x1="282.2" y1="132.8" x2="282.2" y2="136.0" stroke="#222" stroke-width="1.2"/><text transform="translate(282.2,142.5) scale(0.93,1)" font-size="7.2" text-anchor="middle">JFZ</text><path d="M284.15,40.8 L284.17,41.4 L284.19,42.01 L284.21,42.61 L284.22,43.22 L284.25,43.82 L284.27,44.43 L284.3,45.03 L284.35,45.64 L284.41,46.24 L284.48,46.85 L284.57,47.45 L284.66,48.06 L284.75,48.66 L284.84,49.27 L284.93,49.87 L285.02,50.48 L285.1,51.08 L285.19,51.69 L285.28,52.29 L285.38,52.9 L285.47,53.5 L285.56,54.11 L285.66,54.71 L285.75,55.32 L285.85,55.92 L285.95,56.53 L286.06,57.13 L286.17,57.74 L286.27,58.34 L286.38,58.95 L286.48,59.55 L286.57,60.16 L286.66,60.76 L286.73,61.37 L286.8,61.97 L286.85,62.57 L286.91,63.18 L286.97,63.78 L287.02,64.39 L287.08,64.99 L287.13,65.6 L287.17,66.2 L287.21,66.81 L287.24,67.41 L287.27,68.02 L287.29,68.62 L287.3,69.23 L287.3,69.83 L287.29,70.44 L287.28,71.04 L287.27,71.65 L287.25,72.25 L287.23,72.86 L287.21,73.46 L287.19,74.07 L287.16,74.67 L287.13,75.28 L287.11,75.88 L287.07,76.49 L287.03,77.09 L286.99,77.7 L286.93,78.3 L286.87,78.91 L286.81,79.51 L286.74,80.12 L286.66,80.72 L286.58,81.33 L286.5,81.93 L286.42,82.53 L286.31,83.14 L286.2,83.74 L286.07,84.35 L285.93,84.95 L285.78,85.56 L285.64,86.16 L285.49,86.77 L285.34,87.37 L285.2,87.98 L285.05,88.58 L284.88,89.19 L284.7,89.79 L284.53,90.4 L284.38,91 L284.29,91.61 L284.25,92.21 L284.25,92.82 L284.25,93.42 L284.25,94.03 L284.25,94.63 L284.25,95.24 L284.25,95.84 L284.25,96.45 L284.25,97.05 L284.25,97.66 L284.25,98.26 L284.25,98.87 L284.25,99.47 L284.25,100.08 L284.25,100.68 L284.25,101.29 L284.25,101.89 L284.25,102.5 L284.25,103.1 L280.15,103.1 L280.15,102.5 L280.15,101.89 L280.15,101.29 L280.15,100.68 L280.15,100.08 L280.15,99.47 L280.15,98.87 L280.15,98.26 L280.15,97.66 L280.15,97.05 L280.15,96.45 L280.15,95.84 L280.15,95.24 L280.15,94.63 L280.15,94.03 L280.15,93.42 L280.15,92.82 L280.15,92.21 L280.11,91.61 L280.02,91 L279.87,90.4 L279.7,89.79 L279.52,89.19 L279.35,88.58 L279.2,87.98 L279.06,87.37 L278.91,86.77 L278.76,86.16 L278.62,85.56 L278.47,84.95 L278.33,84.35 L278.2,83.74 L278.09,83.14 L277.98,82.53 L277.9,81.93 L277.82,81.33 L277.74,80.72 L277.66,80.12 L277.59,79.51 L277.53,78.91 L277.47,78.3 L277.41,77.7 L277.37,77.09 L277.33,76.49 L277.29,75.88 L277.27,75.28 L277.24,74.67 L277.21,74.07 L277.19,73.46 L277.17,72.86 L277.15,72.25 L277.13,71.65 L277.12,71.04 L277.11,70.44 L277.1,69.83 L277.1,69.23 L277.11,68.62 L277.13,68.02 L277.16,67.41 L277.19,66.81 L277.23,66.2 L277.27,65.6 L277.32,64.99 L277.38,64.39 L277.43,63.78 L277.49,63.18 L277.55,62.57 L277.6,61.97 L277.67,61.37 L277.74,60.76 L277.83,60.16 L277.92,59.55 L278.02,58.95 L278.13,58.34 L278.23,57.74 L278.34,57.13 L278.45,56.53 L278.55,55.92 L278.65,55.32 L278.74,54.71 L278.84,54.11 L278.93,53.5 L279.02,52.9 L279.12,52.29 L279.21,51.69 L279.3,51.08 L279.38,50.48 L279.47,49.87 L279.56,49.27 L279.65,48.66 L279.74,48.06 L279.83,47.45 L279.92,46.85 L279.99,46.24 L280.05,45.64 L280.1,45.03 L280.13,44.43 L280.15,43.82 L280.18,43.22 L280.19,42.61 L280.21,42.01 L280.23,41.4 L280.25,40.8Z" fill="#4CBBD8" stroke="#141414" stroke-width="1.0" stroke-linejoin="round"/><line x1="277.1" y1="69.2" x2="287.3" y2="69.2" stroke="#141414" stroke-width="1.0"/><line x1="278.98" y1="53.2" x2="285.42" y2="53.2" stroke="#141414" stroke-width="0.6"/><line x1="280.1" y1="91.5" x2="284.3" y2="91.5" stroke="#141414" stroke-width="0.6"/><line x1="298.6" y1="132.8" x2="298.6" y2="136.0" stroke="#222" stroke-width="1.2"/><text transform="translate(298.6,142.5) scale(0.93,1)" font-size="7.2" text-anchor="middle">SH</text><path d="M300.45,84.4 L300.46,85 L300.47,85.6 L300.48,86.2 L300.49,86.8 L300.49,87.4 L300.5,88 L300.51,88.6 L300.52,89.2 L300.53,89.8 L300.55,90.4 L300.56,91 L300.58,91.6 L300.61,92.2 L300.78,92.8 L301.13,93.4 L301.6,94 L302.11,94.6 L302.61,95.2 L303.03,95.8 L303.32,96.4 L303.4,97 L303.31,97.6 L303.14,98.2 L302.93,98.8 L302.75,99.4 L294.45,99.4 L294.27,98.8 L294.06,98.2 L293.89,97.6 L293.8,97 L293.88,96.4 L294.17,95.8 L294.59,95.2 L295.09,94.6 L295.6,94 L296.07,93.4 L296.42,92.8 L296.59,92.2 L296.62,91.6 L296.64,91 L296.65,90.4 L296.67,89.8 L296.68,89.2 L296.69,88.6 L296.7,88 L296.71,87.4 L296.71,86.8 L296.72,86.2 L296.73,85.6 L296.74,85 L296.75,84.4Z" fill="#02A086" stroke="#141414" stroke-width="1.0" stroke-linejoin="round"/><line x1="293.92" y1="96.3" x2="303.28" y2="96.3" stroke="#141414" stroke-width="1.0"/><line x1="314.8" y1="132.8" x2="314.8" y2="136.0" stroke="#222" stroke-width="1.2"/><text transform="translate(314.8,142.5) scale(0.93,1)" font-size="7.2" text-anchor="middle">XH</text><path d="M319.15,55.3 L319.2,55.91 L319.26,56.51 L319.33,57.12 L319.4,57.73 L319.46,58.33 L319.52,58.94 L319.58,59.55 L319.63,60.16 L319.67,60.76 L319.69,61.37 L319.7,61.98 L319.69,62.58 L319.67,63.19 L319.63,63.8 L319.58,64.4 L319.51,65.01 L319.43,65.62 L319.35,66.22 L319.25,66.83 L319.15,67.44 L319.05,68.05 L318.93,68.65 L318.82,69.26 L318.7,69.87 L318.59,70.47 L318.47,71.08 L318.36,71.69 L318.24,72.29 L318.1,72.9 L317.94,73.51 L317.76,74.12 L317.56,74.72 L317.36,75.33 L317.15,75.94 L316.94,76.54 L316.73,77.15 L316.53,77.76 L316.35,78.36 L316.18,78.97 L316.04,79.58 L315.93,80.18 L315.85,80.79 L315.81,81.4 L315.81,82.01 L315.85,82.61 L315.94,83.22 L316.07,83.83 L316.22,84.43 L316.39,85.04 L316.58,85.65 L316.78,86.25 L316.98,86.86 L317.17,87.47 L317.36,88.08 L317.53,88.68 L317.67,89.29 L317.78,89.9 L317.87,90.5 L317.95,91.11 L318.03,91.72 L318.1,92.32 L318.17,92.93 L318.23,93.54 L318.29,94.14 L318.35,94.75 L318.4,95.36 L318.46,95.97 L318.51,96.57 L318.57,97.18 L318.63,97.79 L318.69,98.39 L318.75,99 L310.85,99 L310.91,98.39 L310.97,97.79 L311.03,97.18 L311.09,96.57 L311.14,95.97 L311.2,95.36 L311.25,94.75 L311.31,94.14 L311.37,93.54 L311.43,92.93 L311.5,92.32 L311.57,91.72 L311.65,91.11 L311.73,90.5 L311.82,89.9 L311.93,89.29 L312.07,88.68 L312.24,88.08 L312.43,87.47 L312.62,86.86 L312.82,86.25 L313.02,85.65 L313.21,85.04 L313.38,84.43 L313.53,83.83 L313.66,83.22 L313.75,82.61 L313.79,82.01 L313.79,81.4 L313.75,80.79 L313.67,80.18 L313.56,79.58 L313.42,78.97 L313.25,78.36 L313.07,77.76 L312.87,77.15 L312.66,76.54 L312.45,75.94 L312.24,75.33 L312.04,74.72 L311.84,74.12 L311.66,73.51 L311.5,72.9 L311.36,72.29 L311.24,71.69 L311.13,71.08 L311.01,70.47 L310.9,69.87 L310.78,69.26 L310.67,68.65 L310.55,68.05 L310.45,67.44 L310.35,66.83 L310.25,66.22 L310.17,65.62 L310.09,65.01 L310.02,64.4 L309.97,63.8 L309.93,63.19 L309.91,62.58 L309.9,61.98 L309.91,61.37 L309.93,60.76 L309.97,60.16 L310.02,59.55 L310.08,58.94 L310.14,58.33 L310.2,57.73 L310.27,57.12 L310.34,56.51 L310.4,55.91 L310.45,55.3Z" fill="#3D5A97" stroke="#141414" stroke-width="1.0" stroke-linejoin="round"/><line x1="310.58" y1="68.2" x2="319.02" y2="68.2" stroke="#141414" stroke-width="1.0"/><line x1="310.02" y1="59.5" x2="319.58" y2="59.5" stroke="#141414" stroke-width="0.6"/><line x1="311.31" y1="94.2" x2="318.29" y2="94.2" stroke="#141414" stroke-width="0.6"/></g><g><line x1="424.2" y1="19.7" x2="424.2" y2="132.8" stroke="#E62A1C" stroke-width="1.45" stroke-dasharray="3.6 2.1 1.2 2.8"/><path d="M354.4,20.4 V132.8 H492.8 V20.4" fill="none" stroke="#222" stroke-width="1.2"/><line x1="352.0" y1="132.8" x2="354.4" y2="132.8" stroke="#222" stroke-width="1.1"/><text transform="translate(350.5,135.7) scale(0.95,1)" font-size="7.2" text-anchor="end">0</text><line x1="352.0" y1="110.32" x2="354.4" y2="110.32" stroke="#222" stroke-width="1.1"/><text transform="translate(350.5,113.22) scale(0.95,1)" font-size="7.2" text-anchor="end">1</text><line x1="352.0" y1="87.84" x2="354.4" y2="87.84" stroke="#222" stroke-width="1.1"/><text transform="translate(350.5,90.74) scale(0.95,1)" font-size="7.2" text-anchor="end">2</text><line x1="352.0" y1="65.36" x2="354.4" y2="65.36" stroke="#222" stroke-width="1.1"/><text transform="translate(350.5,68.26) scale(0.95,1)" font-size="7.2" text-anchor="end">3</text><line x1="352.0" y1="42.88" x2="354.4" y2="42.88" stroke="#222" stroke-width="1.1"/><text transform="translate(350.5,45.78) scale(0.95,1)" font-size="7.2" text-anchor="end">4</text><line x1="352.0" y1="20.4" x2="354.4" y2="20.4" stroke="#222" stroke-width="1.1"/><text transform="translate(350.5,23.3) scale(0.95,1)" font-size="7.2" text-anchor="end">5</text><line x1="492.8" y1="132.8" x2="494.90000000000003" y2="132.8" stroke="#222" stroke-width="1.1"/><text transform="translate(496.5,135.7) scale(0.95,1)" font-size="7.2">0</text><line x1="492.8" y1="104.7" x2="494.90000000000003" y2="104.7" stroke="#222" stroke-width="1.1"/><text transform="translate(496.5,107.6) scale(0.95,1)" font-size="7.2">50</text><line x1="492.8" y1="76.6" x2="494.90000000000003" y2="76.6" stroke="#222" stroke-width="1.1"/><text transform="translate(496.5,79.5) scale(0.95,1)" font-size="7.2">100</text><line x1="492.8" y1="48.5" x2="494.90000000000003" y2="48.5" stroke="#222" stroke-width="1.1"/><text transform="translate(496.5,51.4) scale(0.95,1)" font-size="7.2">150</text><line x1="492.8" y1="20.4" x2="494.90000000000003" y2="20.4" stroke="#222" stroke-width="1.1"/><text transform="translate(496.5,23.3) scale(0.95,1)" font-size="7.2">200</text><text transform="translate(389.7,23.3) scale(0.906,1)" font-size="7.2" text-anchor="middle">Shannon Index</text><text transform="translate(457.2,21.7) scale(0.906,1)" font-size="7.2" text-anchor="middle">Chao 1 Index</text><line x1="365.4" y1="132.8" x2="365.4" y2="136.0" stroke="#222" stroke-width="1.2"/><text transform="translate(365.4,142.5) scale(0.93,1)" font-size="7.2" text-anchor="middle">HS</text><path d="M370.3,58.8 L370.28,59.41 L370.26,60.01 L370.24,60.62 L370.23,61.22 L370.21,61.83 L370.18,62.43 L370.15,63.04 L370.1,63.64 L370.02,64.25 L369.92,64.86 L369.79,65.46 L369.66,66.07 L369.51,66.67 L369.35,67.28 L369.19,67.88 L369.03,68.49 L368.87,69.09 L368.72,69.7 L368.58,70.31 L368.43,70.91 L368.28,71.52 L368.12,72.12 L367.96,72.73 L367.8,73.33 L367.64,73.94 L367.49,74.54 L367.34,75.15 L367.2,75.76 L367.07,76.36 L366.93,76.97 L366.79,77.57 L366.64,78.18 L366.5,78.78 L366.37,79.39 L366.25,79.99 L366.15,80.6 L366.07,81.21 L366.02,81.81 L366,82.42 L366.04,83.02 L366.13,83.63 L366.27,84.23 L366.43,84.84 L366.59,85.44 L366.74,86.05 L366.86,86.66 L366.92,87.26 L366.98,87.87 L367.02,88.47 L367.06,89.08 L367.09,89.68 L367.13,90.29 L367.16,90.89 L367.2,91.5 L363.6,91.5 L363.64,90.89 L363.67,90.29 L363.71,89.68 L363.74,89.08 L363.78,88.47 L363.82,87.87 L363.88,87.26 L363.94,86.66 L364.06,86.05 L364.21,85.44 L364.37,84.84 L364.53,84.23 L364.67,83.63 L364.76,83.02 L364.8,82.42 L364.78,81.81 L364.73,81.21 L364.65,80.6 L364.55,79.99 L364.43,79.39 L364.3,78.78 L364.16,78.18 L364.01,77.57 L363.87,76.97 L363.73,76.36 L363.6,75.76 L363.46,75.15 L363.31,74.54 L363.16,73.94 L363,73.33 L362.84,72.73 L362.68,72.12 L362.52,71.52 L362.37,70.91 L362.22,70.31 L362.08,69.7 L361.93,69.09 L361.77,68.49 L361.61,67.88 L361.45,67.28 L361.29,66.67 L361.14,66.07 L361.01,65.46 L360.88,64.86 L360.78,64.25 L360.7,63.64 L360.65,63.04 L360.62,62.43 L360.59,61.83 L360.57,61.22 L360.56,60.62 L360.54,60.01 L360.52,59.41 L360.5,58.8Z" fill="#E64B33" stroke="#141414" stroke-width="1.0" stroke-linejoin="round"/><line x1="360.62" y1="62.4" x2="370.18" y2="62.4" stroke="#141414" stroke-width="1.0"/><line x1="360.53" y1="59.9" x2="370.27" y2="59.9" stroke="#141414" stroke-width="0.6"/><line x1="381.4" y1="132.8" x2="381.4" y2="136.0" stroke="#222" stroke-width="1.2"/><text transform="translate(381.4,142.5) scale(0.93,1)" font-size="7.2" text-anchor="middle">JFZ</text><path d="M383.5,63.6 L383.44,64.2 L383.38,64.81 L383.33,65.41 L383.27,66.02 L383.21,66.62 L383.15,67.23 L383.09,67.83 L383.04,68.44 L382.98,69.04 L382.93,69.65 L382.88,70.25 L382.82,70.85 L382.76,71.46 L382.7,72.06 L382.64,72.67 L382.58,73.27 L382.53,73.88 L382.48,74.48 L382.44,75.09 L382.41,75.69 L382.4,76.3 L382.41,76.9 L382.45,77.5 L382.53,78.11 L382.63,78.71 L382.76,79.32 L382.91,79.92 L383.08,80.53 L383.26,81.13 L383.45,81.74 L383.63,82.34 L383.82,82.95 L384.01,83.55 L384.18,84.15 L384.34,84.76 L384.49,85.36 L384.66,85.97 L384.84,86.57 L385.03,87.18 L385.23,87.78 L385.42,88.39 L385.61,88.99 L385.79,89.6 L385.96,90.2 L386.11,90.8 L386.23,91.41 L386.32,92.01 L386.38,92.62 L386.4,93.22 L386.39,93.83 L386.38,94.43 L386.35,95.04 L386.31,95.64 L386.27,96.25 L386.22,96.85 L386.16,97.45 L386.1,98.06 L386.04,98.66 L385.98,99.27 L385.91,99.87 L385.84,100.48 L385.76,101.08 L385.66,101.69 L385.55,102.29 L385.45,102.9 L385.35,103.5 L377.45,103.5 L377.35,102.9 L377.25,102.29 L377.14,101.69 L377.04,101.08 L376.96,100.48 L376.89,99.87 L376.82,99.27 L376.76,98.66 L376.7,98.06 L376.64,97.45 L376.58,96.85 L376.53,96.25 L376.49,95.64 L376.45,95.04 L376.42,94.43 L376.41,93.83 L376.4,93.22 L376.42,92.62 L376.48,92.01 L376.57,91.41 L376.69,90.8 L376.84,90.2 L377.01,89.6 L377.19,88.99 L377.38,88.39 L377.57,87.78 L377.77,87.18 L377.96,86.57 L378.14,85.97 L378.31,85.36 L378.46,84.76 L378.62,84.15 L378.79,83.55 L378.98,82.95 L379.17,82.34 L379.35,81.74 L379.54,81.13 L379.72,80.53 L379.89,79.92 L380.04,79.32 L380.17,78.71 L380.27,78.11 L380.35,77.5 L380.39,76.9 L380.4,76.3 L380.39,75.69 L380.36,75.09 L380.32,74.48 L380.27,73.88 L380.22,73.27 L380.16,72.67 L380.1,72.06 L380.04,71.46 L379.98,70.85 L379.92,70.25 L379.87,69.65 L379.82,69.04 L379.76,68.44 L379.71,67.83 L379.65,67.23 L379.59,66.62 L379.53,66.02 L379.47,65.41 L379.42,64.81 L379.36,64.2 L379.3,63.6Z" fill="#4CBBD8" stroke="#141414" stroke-width="1.0" stroke-linejoin="round"/><line x1="376.56" y1="91.5" x2="386.24" y2="91.5" stroke="#141414" stroke-width="1.0"/><line x1="376.88" y1="99.8" x2="385.92" y2="99.8" stroke="#141414" stroke-width="0.6"/><line x1="398.0" y1="132.8" x2="398.0" y2="136.0" stroke="#222" stroke-width="1.2"/><text transform="translate(398,142.5) scale(0.93,1)" font-size="7.2" text-anchor="middle">SH</text><path d="M402.9,84.4 L402.85,85 L402.8,85.6 L402.69,86.2 L402.2,86.8 L401.53,87.4 L401,88 L400.64,88.6 L400.31,89.2 L400.08,89.8 L399.98,90.4 L399.92,91 L399.88,91.6 L399.84,92.2 L399.8,92.8 L399.78,93.4 L399.76,94 L399.75,94.6 L399.75,95.2 L399.77,95.8 L399.79,96.4 L399.83,97 L399.87,97.6 L399.92,98.2 L399.96,98.8 L400,99.4 L396,99.4 L396.04,98.8 L396.08,98.2 L396.13,97.6 L396.17,97 L396.21,96.4 L396.23,95.8 L396.25,95.2 L396.25,94.6 L396.24,94 L396.22,93.4 L396.2,92.8 L396.16,92.2 L396.12,91.6 L396.08,91 L396.02,90.4 L395.92,89.8 L395.69,89.2 L395.36,88.6 L395,88 L394.47,87.4 L393.8,86.8 L393.31,86.2 L393.2,85.6 L393.15,85 L393.1,84.4Z" fill="#02A086" stroke="#141414" stroke-width="1.0" stroke-linejoin="round"/><line x1="393.51" y1="86.5" x2="402.49" y2="86.5" stroke="#141414" stroke-width="1.0"/><line x1="414.0" y1="132.8" x2="414.0" y2="136.0" stroke="#222" stroke-width="1.2"/><text transform="translate(414,142.5) scale(0.93,1)" font-size="7.2" text-anchor="middle">XH</text><path d="M416.7,76.9 L416.68,77.5 L416.65,78.1 L416.63,78.7 L416.61,79.31 L416.6,79.91 L416.61,80.51 L416.64,81.11 L416.68,81.71 L416.74,82.31 L416.84,82.91 L417.03,83.52 L417.28,84.12 L417.55,84.72 L417.79,85.32 L417.98,85.92 L418.12,86.52 L418.26,87.12 L418.4,87.73 L418.52,88.33 L418.64,88.93 L418.74,89.53 L418.82,90.13 L418.87,90.73 L418.9,91.33 L418.89,91.93 L418.84,92.54 L418.77,93.14 L418.67,93.74 L418.56,94.34 L418.45,94.94 L418.33,95.54 L418.22,96.14 L418.11,96.75 L417.99,97.35 L417.86,97.95 L417.72,98.55 L417.58,99.15 L417.44,99.75 L417.29,100.35 L417.15,100.96 L417.01,101.56 L416.87,102.16 L416.74,102.76 L416.62,103.36 L416.51,103.96 L416.4,104.56 L416.29,105.17 L416.17,105.77 L416.06,106.37 L415.94,106.97 L415.83,107.57 L415.72,108.17 L415.62,108.77 L415.53,109.38 L415.46,109.98 L415.39,110.58 L415.34,111.18 L415.31,111.78 L415.3,112.38 L415.3,112.98 L415.3,113.58 L415.3,114.19 L415.3,114.79 L415.3,115.39 L415.3,115.99 L415.31,116.59 L415.34,117.19 L415.39,117.79 L415.44,118.4 L415.5,119 L415.55,119.6 L415.6,120.2 L412.4,120.2 L412.45,119.6 L412.5,119 L412.56,118.4 L412.61,117.79 L412.66,117.19 L412.69,116.59 L412.7,115.99 L412.7,115.39 L412.7,114.79 L412.7,114.19 L412.7,113.58 L412.7,112.98 L412.7,112.38 L412.69,111.78 L412.66,111.18 L412.61,110.58 L412.54,109.98 L412.47,109.38 L412.38,108.77 L412.28,108.17 L412.17,107.57 L412.06,106.97 L411.94,106.37 L411.83,105.77 L411.71,105.17 L411.6,104.56 L411.49,103.96 L411.38,103.36 L411.26,102.76 L411.13,102.16 L410.99,101.56 L410.85,100.96 L410.71,100.35 L410.56,99.75 L410.42,99.15 L410.28,98.55 L410.14,97.95 L410.01,97.35 L409.89,96.75 L409.78,96.14 L409.67,95.54 L409.55,94.94 L409.44,94.34 L409.33,93.74 L409.23,93.14 L409.16,92.54 L409.11,91.93 L409.1,91.33 L409.13,90.73 L409.18,90.13 L409.26,89.53 L409.36,88.93 L409.48,88.33 L409.6,87.73 L409.74,87.12 L409.88,86.52 L410.02,85.92 L410.21,85.32 L410.45,84.72 L410.72,84.12 L410.97,83.52 L411.16,82.91 L411.26,82.31 L411.32,81.71 L411.36,81.11 L411.39,80.51 L411.4,79.91 L411.39,79.31 L411.37,78.7 L411.35,78.1 L411.32,77.5 L411.3,76.9Z" fill="#3D5A97" stroke="#141414" stroke-width="1.0" stroke-linejoin="round"/><line x1="409.1" y1="91.5" x2="418.9" y2="91.5" stroke="#141414" stroke-width="1.0"/><line x1="411.07" y1="83.2" x2="416.93" y2="83.2" stroke="#141414" stroke-width="0.6"/><line x1="433.0" y1="132.8" x2="433.0" y2="136.0" stroke="#222" stroke-width="1.2"/><text transform="translate(433,142.5) scale(0.93,1)" font-size="7.2" text-anchor="middle">HS</text><path d="M437.7,80.7 L437.7,81.3 L437.69,81.91 L437.69,82.51 L437.69,83.12 L437.68,83.72 L437.68,84.32 L437.68,84.93 L437.67,85.53 L437.67,86.14 L437.67,86.74 L437.67,87.34 L437.66,87.95 L437.66,88.55 L437.66,89.16 L437.65,89.76 L437.65,90.36 L437.65,90.97 L437.64,91.57 L437.63,92.18 L437.63,92.78 L437.62,93.38 L437.61,93.99 L437.61,94.59 L437.6,95.2 L437.58,95.8 L437.54,96.4 L437.5,97.01 L437.45,97.61 L437.38,98.22 L437.32,98.82 L437.25,99.42 L437.15,100.03 L437.02,100.63 L436.86,101.24 L436.67,101.84 L436.47,102.44 L436.25,103.05 L436.03,103.65 L435.81,104.26 L435.59,104.86 L435.4,105.46 L435.22,106.07 L435.07,106.67 L434.95,107.28 L434.83,107.88 L434.71,108.48 L434.59,109.09 L434.47,109.69 L434.37,110.3 L434.27,110.9 L434.18,111.5 L434.11,112.11 L434.05,112.71 L434.02,113.32 L434,113.92 L434.01,114.52 L434.06,115.13 L434.13,115.73 L434.22,116.34 L434.32,116.94 L434.42,117.54 L434.52,118.15 L434.62,118.75 L434.69,119.36 L434.75,119.96 L434.78,120.56 L434.81,121.17 L434.84,121.77 L434.87,122.38 L434.89,122.98 L434.91,123.58 L434.93,124.19 L434.95,124.79 L434.98,125.4 L435,126 L431,126 L431.02,125.4 L431.05,124.79 L431.07,124.19 L431.09,123.58 L431.11,122.98 L431.13,122.38 L431.16,121.77 L431.19,121.17 L431.22,120.56 L431.25,119.96 L431.31,119.36 L431.38,118.75 L431.48,118.15 L431.58,117.54 L431.68,116.94 L431.78,116.34 L431.87,115.73 L431.94,115.13 L431.99,114.52 L432,113.92 L431.98,113.32 L431.95,112.71 L431.89,112.11 L431.82,111.5 L431.73,110.9 L431.63,110.3 L431.53,109.69 L431.41,109.09 L431.29,108.48 L431.17,107.88 L431.05,107.28 L430.93,106.67 L430.78,106.07 L430.6,105.46 L430.41,104.86 L430.19,104.26 L429.97,103.65 L429.75,103.05 L429.53,102.44 L429.33,101.84 L429.14,101.24 L428.98,100.63 L428.85,100.03 L428.75,99.42 L428.68,98.82 L428.62,98.22 L428.55,97.61 L428.5,97.01 L428.46,96.4 L428.42,95.8 L428.4,95.2 L428.39,94.59 L428.39,93.99 L428.38,93.38 L428.37,92.78 L428.37,92.18 L428.36,91.57 L428.35,90.97 L428.35,90.36 L428.35,89.76 L428.34,89.16 L428.34,88.55 L428.34,87.95 L428.33,87.34 L428.33,86.74 L428.33,86.14 L428.33,85.53 L428.32,84.93 L428.32,84.32 L428.32,83.72 L428.31,83.12 L428.31,82.51 L428.31,81.91 L428.3,81.3 L428.3,80.7Z" fill="#E64B33" stroke="#141414" stroke-width="1.0" stroke-linejoin="round"/><line x1="428.62" y1="98.3" x2="437.38" y2="98.3" stroke="#141414" stroke-width="1.0"/><line x1="428.31" y1="83.2" x2="437.69" y2="83.2" stroke="#141414" stroke-width="0.6"/><line x1="449.2" y1="132.8" x2="449.2" y2="136.0" stroke="#222" stroke-width="1.2"/><text transform="translate(449.2,142.5) scale(0.93,1)" font-size="7.2" text-anchor="middle">JFZ</text><path d="M451.3,109.8 L451.34,110.4 L451.38,111.01 L451.42,111.61 L451.46,112.21 L451.5,112.82 L451.55,113.42 L451.6,114.02 L451.66,114.63 L451.73,115.23 L451.85,115.83 L452.01,116.44 L452.21,117.04 L452.44,117.64 L452.69,118.25 L452.94,118.85 L453.2,119.45 L453.44,120.05 L453.67,120.66 L453.87,121.26 L454.03,121.86 L454.14,122.47 L454.2,123.07 L454.19,123.67 L454.16,124.28 L454.1,124.88 L454.02,125.48 L453.93,126.09 L453.83,126.69 L453.73,127.29 L453.63,127.9 L453.55,128.5 L444.85,128.5 L444.77,127.9 L444.67,127.29 L444.57,126.69 L444.47,126.09 L444.38,125.48 L444.3,124.88 L444.24,124.28 L444.21,123.67 L444.2,123.07 L444.26,122.47 L444.37,121.86 L444.53,121.26 L444.73,120.66 L444.96,120.05 L445.2,119.45 L445.46,118.85 L445.71,118.25 L445.96,117.64 L446.19,117.04 L446.39,116.44 L446.55,115.83 L446.67,115.23 L446.74,114.63 L446.8,114.02 L446.85,113.42 L446.9,112.82 L446.94,112.21 L446.98,111.61 L447.02,111.01 L447.06,110.4 L447.1,109.8Z" fill="#4CBBD8" stroke="#141414" stroke-width="1.0" stroke-linejoin="round"/><line x1="444.79" y1="120.5" x2="453.61" y2="120.5" stroke="#141414" stroke-width="1.0"/><line x1="465.4" y1="132.8" x2="465.4" y2="136.0" stroke="#222" stroke-width="1.2"/><text transform="translate(465.4,142.5) scale(0.93,1)" font-size="7.2" text-anchor="middle">SH</text><path d="M467.5,104.6 L467.57,105.21 L467.64,105.81 L467.7,106.42 L467.77,107.03 L467.83,107.64 L467.91,108.24 L467.98,108.85 L468.07,109.46 L468.16,110.07 L468.28,110.67 L468.44,111.28 L468.63,111.89 L468.84,112.5 L469.06,113.1 L469.28,113.71 L469.5,114.32 L469.71,114.92 L469.9,115.53 L470.06,116.14 L470.19,116.75 L470.27,117.35 L470.3,117.96 L470.29,118.57 L470.27,119.18 L470.24,119.78 L470.2,120.39 L470.15,121 L470.1,121.6 L470.04,122.21 L469.99,122.82 L469.94,123.43 L469.9,124.03 L469.86,124.64 L469.82,125.25 L469.78,125.86 L469.74,126.46 L469.7,127.07 L469.67,127.68 L469.63,128.29 L469.59,128.89 L469.55,129.5 L461.25,129.5 L461.21,128.89 L461.17,128.29 L461.13,127.68 L461.1,127.07 L461.06,126.46 L461.02,125.86 L460.98,125.25 L460.94,124.64 L460.9,124.03 L460.86,123.43 L460.81,122.82 L460.76,122.21 L460.7,121.6 L460.65,121 L460.6,120.39 L460.56,119.78 L460.53,119.18 L460.51,118.57 L460.5,117.96 L460.53,117.35 L460.61,116.75 L460.74,116.14 L460.9,115.53 L461.09,114.92 L461.3,114.32 L461.52,113.71 L461.74,113.1 L461.96,112.5 L462.17,111.89 L462.36,111.28 L462.52,110.67 L462.64,110.07 L462.73,109.46 L462.82,108.85 L462.89,108.24 L462.97,107.64 L463.03,107.03 L463.1,106.42 L463.16,105.81 L463.23,105.21 L463.3,104.6Z" fill="#02A086" stroke="#141414" stroke-width="1.0" stroke-linejoin="round"/><line x1="460.78" y1="116" x2="470.02" y2="116" stroke="#141414" stroke-width="1.0"/><line x1="461.05" y1="126.4" x2="469.75" y2="126.4" stroke="#141414" stroke-width="0.6"/><line x1="481.4" y1="132.8" x2="481.4" y2="136.0" stroke="#222" stroke-width="1.2"/><text transform="translate(481.4,142.5) scale(0.93,1)" font-size="7.2" text-anchor="middle">XH</text><path d="M485.9,111.8 L485.63,112.42 L485.32,113.04 L484.99,113.66 L484.66,114.27 L484.34,114.89 L484.04,115.51 L483.79,116.13 L483.58,116.75 L483.45,117.37 L483.4,117.99 L483.49,118.6 L483.73,119.22 L484.09,119.84 L484.53,120.46 L485,121.08 L485.46,121.7 L485.87,122.31 L486.18,122.93 L486.37,123.55 L486.39,124.17 L486.34,124.79 L486.25,125.41 L486.12,126.03 L485.98,126.64 L485.82,127.26 L485.68,127.88 L485.55,128.5 L477.25,128.5 L477.12,127.88 L476.98,127.26 L476.82,126.64 L476.68,126.03 L476.55,125.41 L476.46,124.79 L476.41,124.17 L476.43,123.55 L476.62,122.93 L476.93,122.31 L477.34,121.7 L477.8,121.08 L478.27,120.46 L478.71,119.84 L479.07,119.22 L479.31,118.6 L479.4,117.99 L479.35,117.37 L479.22,116.75 L479.01,116.13 L478.76,115.51 L478.46,114.89 L478.14,114.27 L477.81,113.66 L477.48,113.04 L477.17,112.42 L476.9,111.8Z" fill="#3D5A97" stroke="#141414" stroke-width="1.0" stroke-linejoin="round"/><line x1="476.49" y1="123.3" x2="486.31" y2="123.3" stroke="#141414" stroke-width="1.0"/><line x1="478.46" y1="120.2" x2="484.34" y2="120.2" stroke="#141414" stroke-width="0.6"/></g><g><line x1="591.3" y1="19.7" x2="591.3" y2="132.8" stroke="#E62A1C" stroke-width="1.45" stroke-dasharray="3.6 2.1 1.2 2.8"/><path d="M519.4,20.4 V132.8 H659.4 V20.4" fill="none" stroke="#222" stroke-width="1.2"/><line x1="517.0" y1="132.8" x2="519.4" y2="132.8" stroke="#222" stroke-width="1.1"/><text transform="translate(515.5,135.7) scale(0.95,1)" font-size="7.2" text-anchor="end">0</text><line x1="517.0" y1="110.32" x2="519.4" y2="110.32" stroke="#222" stroke-width="1.1"/><text transform="translate(515.5,113.22) scale(0.95,1)" font-size="7.2" text-anchor="end">1</text><line x1="517.0" y1="87.84" x2="519.4" y2="87.84" stroke="#222" stroke-width="1.1"/><text transform="translate(515.5,90.74) scale(0.95,1)" font-size="7.2" text-anchor="end">2</text><line x1="517.0" y1="65.36" x2="519.4" y2="65.36" stroke="#222" stroke-width="1.1"/><text transform="translate(515.5,68.26) scale(0.95,1)" font-size="7.2" text-anchor="end">3</text><line x1="517.0" y1="42.88" x2="519.4" y2="42.88" stroke="#222" stroke-width="1.1"/><text transform="translate(515.5,45.78) scale(0.95,1)" font-size="7.2" text-anchor="end">4</text><line x1="517.0" y1="20.4" x2="519.4" y2="20.4" stroke="#222" stroke-width="1.1"/><text transform="translate(515.5,23.3) scale(0.95,1)" font-size="7.2" text-anchor="end">5</text><line x1="659.4" y1="132.8" x2="661.5" y2="132.8" stroke="#222" stroke-width="1.1"/><text transform="translate(663.1,135.7) scale(0.95,1)" font-size="7.2">0</text><line x1="659.4" y1="104.7" x2="661.5" y2="104.7" stroke="#222" stroke-width="1.1"/><text transform="translate(663.1,107.6) scale(0.95,1)" font-size="7.2">50</text><line x1="659.4" y1="76.6" x2="661.5" y2="76.6" stroke="#222" stroke-width="1.1"/><text transform="translate(663.1,79.5) scale(0.95,1)" font-size="7.2">100</text><line x1="659.4" y1="48.5" x2="661.5" y2="48.5" stroke="#222" stroke-width="1.1"/><text transform="translate(663.1,51.4) scale(0.95,1)" font-size="7.2">150</text><line x1="659.4" y1="20.4" x2="661.5" y2="20.4" stroke="#222" stroke-width="1.1"/><text transform="translate(663.1,23.3) scale(0.95,1)" font-size="7.2">200</text><text transform="translate(554.4,23.3) scale(0.906,1)" font-size="7.2" text-anchor="middle">Shannon Index</text><text transform="translate(623.85,21.7) scale(0.906,1)" font-size="7.2" text-anchor="middle">Chao 1 Index</text><line x1="530.2" y1="132.8" x2="530.2" y2="136.0" stroke="#222" stroke-width="1.2"/><text transform="translate(530.2,142.5) scale(0.93,1)" font-size="7.2" text-anchor="middle">HS</text><path d="M533.3,57.4 L533.46,58 L533.64,58.6 L533.82,59.2 L534.02,59.8 L534.22,60.4 L534.41,61 L534.59,61.6 L534.76,62.2 L534.91,62.8 L535.04,63.4 L535.13,64 L535.18,64.6 L535.2,65.2 L535.15,65.8 L535.02,66.4 L534.85,67 L534.63,67.6 L534.4,68.2 L534.15,68.8 L533.92,69.4 L533.7,70 L533.48,70.6 L533.21,71.2 L532.93,71.8 L532.64,72.4 L532.36,73 L532.11,73.6 L531.9,74.2 L531.76,74.8 L531.7,75.4 L531.77,76 L532.02,76.6 L532.4,77.2 L532.85,77.8 L533.31,78.4 L533.74,79 L534.06,79.6 L534.25,80.2 L534.37,80.8 L534.48,81.4 L534.57,82 L534.65,82.6 L534.73,83.2 L534.81,83.8 L534.9,84.4 L525.5,84.4 L525.59,83.8 L525.67,83.2 L525.75,82.6 L525.83,82 L525.92,81.4 L526.03,80.8 L526.15,80.2 L526.34,79.6 L526.66,79 L527.09,78.4 L527.55,77.8 L528,77.2 L528.38,76.6 L528.63,76 L528.7,75.4 L528.64,74.8 L528.5,74.2 L528.29,73.6 L528.04,73 L527.76,72.4 L527.47,71.8 L527.19,71.2 L526.92,70.6 L526.7,70 L526.48,69.4 L526.25,68.8 L526,68.2 L525.77,67.6 L525.55,67 L525.38,66.4 L525.25,65.8 L525.2,65.2 L525.22,64.6 L525.27,64 L525.36,63.4 L525.49,62.8 L525.64,62.2 L525.81,61.6 L525.99,61 L526.18,60.4 L526.38,59.8 L526.58,59.2 L526.76,58.6 L526.94,58 L527.1,57.4Z" fill="#E64B33" stroke="#141414" stroke-width="1.0" stroke-linejoin="round"/><line x1="525.59" y1="67.1" x2="534.81" y2="67.1" stroke="#141414" stroke-width="1.0"/><line x1="526.02" y1="60.9" x2="534.38" y2="60.9" stroke="#141414" stroke-width="0.6"/><line x1="546.4" y1="132.8" x2="546.4" y2="136.0" stroke="#222" stroke-width="1.2"/><text transform="translate(546.4,142.5) scale(0.93,1)" font-size="7.2" text-anchor="middle">JFZ</text><path d="M551.35,76.9 L551.34,77.51 L551.33,78.11 L551.33,78.72 L551.32,79.32 L551.3,79.93 L551.28,80.53 L551.24,81.14 L551.19,81.74 L551.13,82.34 L551.06,82.95 L550.95,83.56 L550.8,84.16 L550.61,84.77 L550.4,85.37 L550.2,85.98 L550.01,86.58 L549.86,87.19 L549.71,87.79 L549.57,88.4 L549.43,89 L549.3,89.61 L549.18,90.21 L549.06,90.81 L548.96,91.42 L548.87,92.03 L548.8,92.63 L548.73,93.23 L548.66,93.84 L548.6,94.44 L548.54,95.05 L548.48,95.66 L548.43,96.26 L548.38,96.87 L548.33,97.47 L548.29,98.08 L548.24,98.68 L548.2,99.28 L548.16,99.89 L548.12,100.5 L548.08,101.1 L548.04,101.7 L548,102.31 L547.97,102.92 L547.94,103.52 L547.9,104.12 L547.87,104.73 L547.84,105.34 L547.81,105.94 L547.78,106.55 L547.74,107.15 L547.71,107.75 L547.68,108.36 L547.64,108.97 L547.6,109.57 L547.56,110.17 L547.52,110.78 L547.48,111.39 L547.45,111.99 L547.43,112.59 L547.41,113.2 L547.4,113.81 L547.41,114.41 L547.43,115.02 L547.46,115.62 L547.51,116.22 L547.57,116.83 L547.63,117.44 L547.7,118.04 L547.76,118.64 L547.83,119.25 L547.89,119.85 L547.94,120.46 L548,121.06 L548.06,121.67 L548.13,122.28 L548.19,122.88 L548.26,123.48 L548.32,124.09 L548.39,124.69 L548.45,125.3 L544.35,125.3 L544.41,124.69 L544.48,124.09 L544.54,123.48 L544.61,122.88 L544.67,122.28 L544.74,121.67 L544.8,121.06 L544.86,120.46 L544.91,119.85 L544.97,119.25 L545.04,118.64 L545.1,118.04 L545.17,117.44 L545.23,116.83 L545.29,116.22 L545.34,115.62 L545.37,115.02 L545.39,114.41 L545.4,113.81 L545.39,113.2 L545.37,112.59 L545.35,111.99 L545.32,111.39 L545.28,110.78 L545.24,110.17 L545.2,109.57 L545.16,108.97 L545.12,108.36 L545.09,107.75 L545.06,107.15 L545.02,106.55 L544.99,105.94 L544.96,105.34 L544.93,104.73 L544.9,104.12 L544.86,103.52 L544.83,102.92 L544.8,102.31 L544.76,101.7 L544.72,101.1 L544.68,100.5 L544.64,99.89 L544.6,99.28 L544.56,98.68 L544.51,98.08 L544.47,97.47 L544.42,96.87 L544.37,96.26 L544.32,95.66 L544.26,95.05 L544.2,94.44 L544.14,93.84 L544.07,93.23 L544,92.63 L543.93,92.03 L543.84,91.42 L543.74,90.81 L543.62,90.21 L543.5,89.61 L543.37,89 L543.23,88.4 L543.09,87.79 L542.94,87.19 L542.79,86.58 L542.6,85.98 L542.4,85.37 L542.19,84.77 L542,84.16 L541.85,83.56 L541.74,82.95 L541.67,82.34 L541.61,81.74 L541.56,81.14 L541.52,80.53 L541.5,79.93 L541.48,79.32 L541.47,78.72 L541.47,78.11 L541.46,77.51 L541.45,76.9Z" fill="#4CBBD8" stroke="#141414" stroke-width="1.0" stroke-linejoin="round"/><line x1="541.61" y1="81.7" x2="551.19" y2="81.7" stroke="#141414" stroke-width="1.0"/><line x1="545.38" y1="112.9" x2="547.42" y2="112.9" stroke="#141414" stroke-width="0.6"/><line x1="562.6" y1="132.8" x2="562.6" y2="136.0" stroke="#222" stroke-width="1.2"/><text transform="translate(562.6,142.5) scale(0.93,1)" font-size="7.2" text-anchor="middle">SH</text><path d="M567.5,52.6 L567.48,53.21 L567.46,53.82 L567.43,54.43 L567.4,55.04 L567.33,55.65 L567.23,56.26 L567.1,56.87 L566.96,57.48 L566.83,58.09 L566.7,58.7 L566.55,59.31 L566.4,59.92 L566.24,60.53 L566.08,61.14 L565.92,61.75 L565.76,62.36 L565.61,62.97 L565.45,63.58 L565.29,64.19 L565.12,64.8 L564.96,65.4 L564.8,66.01 L564.65,66.62 L564.51,67.23 L564.38,67.84 L564.26,68.45 L564.14,69.06 L564.03,69.67 L563.94,70.28 L563.9,70.89 L563.92,71.5 L563.97,72.11 L564.04,72.72 L564.13,73.33 L564.19,73.94 L564.25,74.55 L564.3,75.16 L564.35,75.77 L564.4,76.38 L564.45,76.99 L564.5,77.6 L560.7,77.6 L560.75,76.99 L560.8,76.38 L560.85,75.77 L560.9,75.16 L560.95,74.55 L561.01,73.94 L561.07,73.33 L561.16,72.72 L561.23,72.11 L561.28,71.5 L561.3,70.89 L561.26,70.28 L561.17,69.67 L561.06,69.06 L560.94,68.45 L560.82,67.84 L560.69,67.23 L560.55,66.62 L560.4,66.01 L560.24,65.4 L560.08,64.8 L559.91,64.19 L559.75,63.58 L559.59,62.97 L559.44,62.36 L559.28,61.75 L559.12,61.14 L558.96,60.53 L558.8,59.92 L558.65,59.31 L558.5,58.7 L558.37,58.09 L558.24,57.48 L558.1,56.87 L557.97,56.26 L557.87,55.65 L557.8,55.04 L557.77,54.43 L557.74,53.82 L557.72,53.21 L557.7,52.6Z" fill="#02A086" stroke="#141414" stroke-width="1.0" stroke-linejoin="round"/><line x1="558.22" y1="57.4" x2="566.98" y2="57.4" stroke="#141414" stroke-width="1.0"/><line x1="578.6" y1="132.8" x2="578.6" y2="136.0" stroke="#222" stroke-width="1.2"/><text transform="translate(578.6,142.5) scale(0.93,1)" font-size="7.2" text-anchor="middle">XH</text><path d="M583.8,59.9 L583.79,60.5 L583.78,61.1 L583.78,61.7 L583.77,62.3 L583.76,62.9 L583.76,63.5 L583.75,64.1 L583.75,64.7 L583.74,65.3 L583.73,65.9 L583.73,66.5 L583.72,67.1 L583.71,67.7 L583.71,68.3 L583.7,68.9 L583.69,69.5 L583.68,70.1 L583.67,70.7 L583.65,71.3 L583.64,71.9 L583.63,72.5 L583.61,73.1 L583.58,73.7 L583.52,74.3 L583.42,74.9 L583.28,75.5 L583.11,76.1 L582.92,76.7 L582.71,77.3 L582.49,77.9 L582.26,78.5 L582.03,79.1 L581.81,79.7 L581.6,80.3 L581.4,80.9 L581.22,81.5 L581.08,82.1 L580.94,82.7 L580.79,83.3 L580.64,83.9 L580.48,84.5 L580.33,85.1 L580.19,85.7 L580.06,86.3 L579.93,86.9 L579.83,87.5 L579.74,88.1 L579.67,88.7 L579.62,89.3 L579.6,89.9 L579.61,90.5 L579.63,91.1 L579.68,91.7 L579.73,92.3 L579.8,92.9 L579.88,93.5 L579.97,94.1 L580.06,94.7 L580.16,95.3 L580.25,95.9 L580.35,96.5 L580.44,97.1 L580.52,97.7 L580.6,98.3 L576.6,98.3 L576.68,97.7 L576.76,97.1 L576.85,96.5 L576.95,95.9 L577.04,95.3 L577.14,94.7 L577.23,94.1 L577.32,93.5 L577.4,92.9 L577.47,92.3 L577.52,91.7 L577.57,91.1 L577.59,90.5 L577.6,89.9 L577.58,89.3 L577.53,88.7 L577.46,88.1 L577.37,87.5 L577.27,86.9 L577.14,86.3 L577.01,85.7 L576.87,85.1 L576.72,84.5 L576.56,83.9 L576.41,83.3 L576.26,82.7 L576.12,82.1 L575.98,81.5 L575.8,80.9 L575.6,80.3 L575.39,79.7 L575.17,79.1 L574.94,78.5 L574.71,77.9 L574.49,77.3 L574.28,76.7 L574.09,76.1 L573.92,75.5 L573.78,74.9 L573.68,74.3 L573.62,73.7 L573.59,73.1 L573.57,72.5 L573.56,71.9 L573.55,71.3 L573.53,70.7 L573.52,70.1 L573.51,69.5 L573.5,68.9 L573.49,68.3 L573.49,67.7 L573.48,67.1 L573.47,66.5 L573.47,65.9 L573.46,65.3 L573.45,64.7 L573.45,64.1 L573.44,63.5 L573.44,62.9 L573.43,62.3 L573.42,61.7 L573.42,61.1 L573.41,60.5 L573.4,59.9Z" fill="#3D5A97" stroke="#141414" stroke-width="1.0" stroke-linejoin="round"/><line x1="573.55" y1="71.3" x2="583.65" y2="71.3" stroke="#141414" stroke-width="1.0"/><line x1="599.5" y1="132.8" x2="599.5" y2="136.0" stroke="#222" stroke-width="1.2"/><text transform="translate(599.5,142.5) scale(0.93,1)" font-size="7.2" text-anchor="middle">HS</text><path d="M601.75,41.3 L601.74,41.9 L601.73,42.51 L601.72,43.11 L601.71,43.72 L601.7,44.32 L601.69,44.93 L601.68,45.53 L601.67,46.14 L601.66,46.74 L601.65,47.34 L601.64,47.95 L601.63,48.55 L601.62,49.16 L601.61,49.76 L601.6,50.37 L601.59,50.97 L601.58,51.58 L601.56,52.18 L601.55,52.78 L601.54,53.39 L601.52,53.99 L601.51,54.6 L601.49,55.2 L601.48,55.81 L601.45,56.41 L601.43,57.02 L601.4,57.62 L601.37,58.22 L601.34,58.83 L601.31,59.43 L601.27,60.04 L601.23,60.64 L601.2,61.25 L601.16,61.85 L601.12,62.46 L601.08,63.06 L601.05,63.67 L601.01,64.27 L600.97,64.87 L600.94,65.48 L600.91,66.08 L600.88,66.69 L600.85,67.29 L600.83,67.9 L600.8,68.5 L600.79,69.11 L600.77,69.71 L600.76,70.31 L600.75,70.92 L600.75,71.52 L600.75,72.13 L600.77,72.73 L600.79,73.34 L600.81,73.94 L600.85,74.55 L600.89,75.15 L600.94,75.75 L600.99,76.36 L601.04,76.96 L601.11,77.57 L601.17,78.17 L601.24,78.78 L601.32,79.38 L601.39,79.99 L601.47,80.59 L601.55,81.19 L601.64,81.8 L601.72,82.4 L601.81,83.01 L601.89,83.61 L601.98,84.22 L602.07,84.82 L602.15,85.43 L602.24,86.03 L602.32,86.63 L602.4,87.24 L602.48,87.84 L602.56,88.45 L602.65,89.05 L602.75,89.66 L602.86,90.26 L602.97,90.87 L603.09,91.47 L603.21,92.07 L603.34,92.68 L603.47,93.28 L603.59,93.89 L603.72,94.49 L603.84,95.1 L603.96,95.7 L604.08,96.31 L604.18,96.91 L604.28,97.52 L604.37,98.12 L604.45,98.72 L604.52,99.33 L604.58,99.93 L604.62,100.54 L604.64,101.14 L604.65,101.75 L604.64,102.35 L604.61,102.96 L604.58,103.56 L604.53,104.16 L604.47,104.77 L604.4,105.37 L604.33,105.98 L604.26,106.58 L604.19,107.19 L604.12,107.79 L604.06,108.4 L604,109 L595,109 L594.94,108.4 L594.88,107.79 L594.81,107.19 L594.74,106.58 L594.67,105.98 L594.6,105.37 L594.53,104.77 L594.47,104.16 L594.42,103.56 L594.39,102.96 L594.36,102.35 L594.35,101.75 L594.36,101.14 L594.38,100.54 L594.42,99.93 L594.48,99.33 L594.55,98.72 L594.63,98.12 L594.72,97.52 L594.82,96.91 L594.92,96.31 L595.04,95.7 L595.16,95.1 L595.28,94.49 L595.41,93.89 L595.53,93.28 L595.66,92.68 L595.79,92.07 L595.91,91.47 L596.03,90.87 L596.14,90.26 L596.25,89.66 L596.35,89.05 L596.44,88.45 L596.52,87.84 L596.6,87.24 L596.68,86.63 L596.76,86.03 L596.85,85.43 L596.93,84.82 L597.02,84.22 L597.11,83.61 L597.19,83.01 L597.28,82.4 L597.36,81.8 L597.45,81.19 L597.53,80.59 L597.61,79.99 L597.68,79.38 L597.76,78.78 L597.83,78.17 L597.89,77.57 L597.96,76.96 L598.01,76.36 L598.06,75.75 L598.11,75.15 L598.15,74.55 L598.19,73.94 L598.21,73.34 L598.23,72.73 L598.25,72.13 L598.25,71.52 L598.25,70.92 L598.24,70.31 L598.23,69.71 L598.21,69.11 L598.2,68.5 L598.17,67.9 L598.15,67.29 L598.12,66.69 L598.09,66.08 L598.06,65.48 L598.03,64.87 L597.99,64.27 L597.95,63.67 L597.92,63.06 L597.88,62.46 L597.84,61.85 L597.8,61.25 L597.77,60.64 L597.73,60.04 L597.69,59.43 L597.66,58.83 L597.63,58.22 L597.6,57.62 L597.57,57.02 L597.55,56.41 L597.52,55.81 L597.51,55.2 L597.49,54.6 L597.48,53.99 L597.46,53.39 L597.45,52.78 L597.44,52.18 L597.42,51.58 L597.41,50.97 L597.4,50.37 L597.39,49.76 L597.38,49.16 L597.37,48.55 L597.36,47.95 L597.35,47.34 L597.34,46.74 L597.33,46.14 L597.32,45.53 L597.31,44.93 L597.3,44.32 L597.29,43.72 L597.28,43.11 L597.27,42.51 L597.26,41.9 L597.25,41.3Z" fill="#E64B33" stroke="#141414" stroke-width="1.0" stroke-linejoin="round"/><line x1="594.6" y1="98.3" x2="604.4" y2="98.3" stroke="#141414" stroke-width="1.0"/><line x1="597.44" y1="52.5" x2="601.56" y2="52.5" stroke="#141414" stroke-width="0.6"/><line x1="615.8" y1="132.8" x2="615.8" y2="136.0" stroke="#222" stroke-width="1.2"/><text transform="translate(615.8,142.5) scale(0.93,1)" font-size="7.2" text-anchor="middle">JFZ</text><path d="M617.25,78.2 L617.21,78.81 L617.17,79.42 L617.12,80.03 L617.07,80.64 L617.02,81.25 L616.97,81.85 L616.92,82.46 L616.87,83.07 L616.82,83.68 L616.77,84.29 L616.73,84.9 L616.69,85.51 L616.65,86.12 L616.62,86.73 L616.59,87.34 L616.57,87.95 L616.56,88.55 L616.55,89.16 L616.56,89.77 L616.59,90.38 L616.65,90.99 L616.74,91.6 L616.84,92.21 L616.97,92.82 L617.1,93.43 L617.25,94.04 L617.41,94.65 L617.58,95.25 L617.74,95.86 L617.91,96.47 L618.07,97.08 L618.23,97.69 L618.38,98.3 L618.55,98.91 L618.75,99.52 L618.97,100.13 L619.2,100.74 L619.43,101.35 L619.66,101.95 L619.87,102.56 L620.08,103.17 L620.26,103.78 L620.4,104.39 L620.51,105 L620.58,105.61 L620.6,106.22 L620.58,106.83 L620.54,107.44 L620.49,108.05 L620.42,108.65 L620.35,109.26 L620.27,109.87 L620.19,110.48 L620.12,111.09 L620.05,111.7 L611.55,111.7 L611.48,111.09 L611.41,110.48 L611.33,109.87 L611.25,109.26 L611.18,108.65 L611.11,108.05 L611.06,107.44 L611.02,106.83 L611,106.22 L611.02,105.61 L611.09,105 L611.2,104.39 L611.34,103.78 L611.52,103.17 L611.73,102.56 L611.94,101.95 L612.17,101.35 L612.4,100.74 L612.63,100.13 L612.85,99.52 L613.05,98.91 L613.22,98.3 L613.37,97.69 L613.53,97.08 L613.69,96.47 L613.86,95.86 L614.02,95.25 L614.19,94.65 L614.35,94.04 L614.5,93.43 L614.63,92.82 L614.76,92.21 L614.86,91.6 L614.95,90.99 L615.01,90.38 L615.04,89.77 L615.05,89.16 L615.04,88.55 L615.03,87.95 L615.01,87.34 L614.98,86.73 L614.95,86.12 L614.91,85.51 L614.87,84.9 L614.83,84.29 L614.78,83.68 L614.73,83.07 L614.68,82.46 L614.63,81.85 L614.58,81.25 L614.53,80.64 L614.48,80.03 L614.43,79.42 L614.39,78.81 L614.35,78.2Z" fill="#4CBBD8" stroke="#141414" stroke-width="1.0" stroke-linejoin="round"/><line x1="611" y1="106.1" x2="620.6" y2="106.1" stroke="#141414" stroke-width="1.0"/><line x1="632.4" y1="132.8" x2="632.4" y2="136.0" stroke="#222" stroke-width="1.2"/><text transform="translate(632.4,142.5) scale(0.93,1)" font-size="7.2" text-anchor="middle">SH</text><path d="M635.05,47.4 L634.9,48.01 L634.72,48.61 L634.55,49.22 L634.41,49.83 L634.32,50.43 L634.31,51.04 L634.43,51.65 L634.65,52.25 L634.92,52.86 L635.19,53.47 L635.43,54.07 L635.66,54.68 L635.92,55.29 L636.19,55.89 L636.47,56.5 L636.73,57.11 L636.96,57.71 L637.15,58.32 L637.28,58.93 L637.35,59.53 L637.35,60.14 L637.33,60.75 L637.31,61.35 L637.28,61.96 L637.24,62.57 L637.19,63.17 L637.14,63.78 L637.08,64.39 L637.01,64.99 L636.95,65.6 L636.87,66.21 L636.76,66.81 L636.6,67.42 L636.42,68.03 L636.23,68.63 L636.06,69.24 L635.93,69.85 L635.82,70.45 L635.72,71.06 L635.62,71.67 L635.52,72.27 L635.44,72.88 L635.39,73.49 L635.35,74.09 L635.36,74.7 L635.43,75.31 L635.56,75.91 L635.73,76.52 L635.91,77.13 L636.08,77.73 L636.24,78.34 L636.45,78.95 L636.67,79.55 L636.87,80.16 L637,80.77 L637.05,81.37 L637.03,81.98 L636.99,82.59 L636.94,83.19 L636.9,83.8 L627.9,83.8 L627.86,83.19 L627.81,82.59 L627.77,81.98 L627.75,81.37 L627.8,80.77 L627.93,80.16 L628.13,79.55 L628.35,78.95 L628.56,78.34 L628.72,77.73 L628.89,77.13 L629.07,76.52 L629.24,75.91 L629.37,75.31 L629.44,74.7 L629.45,74.09 L629.41,73.49 L629.36,72.88 L629.28,72.27 L629.18,71.67 L629.08,71.06 L628.98,70.45 L628.87,69.85 L628.74,69.24 L628.57,68.63 L628.38,68.03 L628.2,67.42 L628.04,66.81 L627.93,66.21 L627.85,65.6 L627.79,64.99 L627.72,64.39 L627.66,63.78 L627.61,63.17 L627.56,62.57 L627.52,61.96 L627.49,61.35 L627.47,60.75 L627.45,60.14 L627.45,59.53 L627.52,58.93 L627.65,58.32 L627.84,57.71 L628.07,57.11 L628.33,56.5 L628.61,55.89 L628.88,55.29 L629.14,54.68 L629.37,54.07 L629.61,53.47 L629.88,52.86 L630.15,52.25 L630.37,51.65 L630.49,51.04 L630.48,50.43 L630.39,49.83 L630.25,49.22 L630.08,48.61 L629.9,48.01 L629.75,47.4Z" fill="#02A086" stroke="#141414" stroke-width="1.0" stroke-linejoin="round"/><line x1="627.93" y1="66.2" x2="636.87" y2="66.2" stroke="#141414" stroke-width="1.0"/><line x1="648.2" y1="132.8" x2="648.2" y2="136.0" stroke="#222" stroke-width="1.2"/><text transform="translate(648.2,142.5) scale(0.93,1)" font-size="7.2" text-anchor="middle">XH</text><path d="M650.55,58.1 L650.46,58.71 L650.35,59.31 L650.25,59.92 L650.15,60.53 L650.07,61.14 L650.01,61.74 L649.99,62.35 L649.96,62.96 L649.94,63.56 L649.92,64.17 L649.91,64.78 L649.9,65.38 L649.9,65.99 L649.91,66.6 L649.95,67.21 L650.02,67.81 L650.1,68.42 L650.19,69.03 L650.29,69.63 L650.4,70.24 L650.51,70.85 L650.61,71.45 L650.71,72.06 L650.81,72.67 L650.91,73.28 L651.02,73.88 L651.14,74.49 L651.26,75.1 L651.38,75.7 L651.5,76.31 L651.62,76.92 L651.74,77.53 L651.86,78.13 L651.98,78.74 L652.09,79.35 L652.19,79.95 L652.3,80.56 L652.41,81.17 L652.54,81.77 L652.66,82.38 L652.78,82.99 L652.89,83.6 L652.98,84.2 L653.06,84.81 L653.12,85.42 L653.15,86.02 L653.15,86.63 L653.15,87.24 L653.14,87.85 L653.13,88.45 L653.12,89.06 L653.11,89.67 L653.09,90.27 L653.08,90.88 L653.06,91.49 L653.04,92.09 L653.02,92.7 L653,93.31 L652.98,93.92 L652.97,94.52 L652.95,95.13 L652.92,95.74 L652.9,96.34 L652.87,96.95 L652.84,97.56 L652.81,98.16 L652.78,98.77 L652.74,99.38 L652.71,99.99 L652.68,100.59 L652.65,101.2 L643.75,101.2 L643.72,100.59 L643.69,99.99 L643.66,99.38 L643.62,98.77 L643.59,98.16 L643.56,97.56 L643.53,96.95 L643.5,96.34 L643.48,95.74 L643.45,95.13 L643.43,94.52 L643.42,93.92 L643.4,93.31 L643.38,92.7 L643.36,92.09 L643.34,91.49 L643.32,90.88 L643.31,90.27 L643.29,89.67 L643.28,89.06 L643.27,88.45 L643.26,87.85 L643.25,87.24 L643.25,86.63 L643.25,86.02 L643.28,85.42 L643.34,84.81 L643.42,84.2 L643.51,83.6 L643.62,82.99 L643.74,82.38 L643.86,81.77 L643.99,81.17 L644.1,80.56 L644.21,79.95 L644.31,79.35 L644.42,78.74 L644.54,78.13 L644.66,77.53 L644.78,76.92 L644.9,76.31 L645.02,75.7 L645.14,75.1 L645.26,74.49 L645.38,73.88 L645.49,73.28 L645.59,72.67 L645.69,72.06 L645.79,71.45 L645.89,70.85 L646,70.24 L646.11,69.63 L646.21,69.03 L646.3,68.42 L646.38,67.81 L646.45,67.21 L646.49,66.6 L646.5,65.99 L646.5,65.38 L646.49,64.78 L646.48,64.17 L646.46,63.56 L646.44,62.96 L646.41,62.35 L646.39,61.74 L646.33,61.14 L646.25,60.53 L646.15,59.92 L646.05,59.31 L645.94,58.71 L645.85,58.1Z" fill="#3D5A97" stroke="#141414" stroke-width="1.0" stroke-linejoin="round"/><line x1="643.25" y1="86.7" x2="653.15" y2="86.7" stroke="#141414" stroke-width="1.0"/><line x1="646.29" y1="68.5" x2="650.11" y2="68.5" stroke="#141414" stroke-width="0.6"/><line x1="643.61" y1="98.5" x2="652.79" y2="98.5" stroke="#141414" stroke-width="0.6"/><path d="M546.4,49.9 V46.4 H562.6 V49.9" fill="none" stroke="#222" stroke-width="0.8"/><path d="M552.2,41.65L552.2,44.95M550.77,42.47L553.63,44.12M553.63,42.47L550.77,44.12" stroke="#1a1a1a" stroke-width="0.85" fill="none"/><path d="M556.4,41.65L556.4,44.95M554.97,42.47L557.83,44.12M557.83,42.47L554.97,44.12" stroke="#1a1a1a" stroke-width="0.85" fill="none"/><path d="M615.8,43.6 V40.2 H632.4 V43.6" fill="none" stroke="#222" stroke-width="0.8"/><path d="M622,34.15L622,37.45M620.57,34.97L623.43,36.62M623.43,34.97L620.57,36.62" stroke="#1a1a1a" stroke-width="0.85" fill="none"/><path d="M626.2,34.15L626.2,37.45M624.77,34.97L627.63,36.62M627.63,34.97L624.77,36.62" stroke="#1a1a1a" stroke-width="0.85" fill="none"/></g><g><line x1="93.1" y1="157" x2="93.1" y2="269.2" stroke="#E62A1C" stroke-width="1.45" stroke-dasharray="3.6 2.1 1.2 2.8"/><path d="M25.3,157.7 V269.2 H161.1 V157.7" fill="none" stroke="#222" stroke-width="1.2"/><line x1="22.900000000000002" y1="269.2" x2="25.3" y2="269.2" stroke="#222" stroke-width="1.1"/><text transform="translate(21.4,272.1) scale(0.95,1)" font-size="7.2" text-anchor="end">0</text><line x1="22.900000000000002" y1="246.9" x2="25.3" y2="246.9" stroke="#222" stroke-width="1.1"/><text transform="translate(21.4,249.8) scale(0.95,1)" font-size="7.2" text-anchor="end">1</text><line x1="22.900000000000002" y1="224.6" x2="25.3" y2="224.6" stroke="#222" stroke-width="1.1"/><text transform="translate(21.4,227.5) scale(0.95,1)" font-size="7.2" text-anchor="end">2</text><line x1="22.900000000000002" y1="202.3" x2="25.3" y2="202.3" stroke="#222" stroke-width="1.1"/><text transform="translate(21.4,205.2) scale(0.95,1)" font-size="7.2" text-anchor="end">3</text><line x1="22.900000000000002" y1="180" x2="25.3" y2="180" stroke="#222" stroke-width="1.1"/><text transform="translate(21.4,182.9) scale(0.95,1)" font-size="7.2" text-anchor="end">4</text><line x1="22.900000000000002" y1="157.7" x2="25.3" y2="157.7" stroke="#222" stroke-width="1.1"/><text transform="translate(21.4,160.6) scale(0.95,1)" font-size="7.2" text-anchor="end">5</text><line x1="161.1" y1="269.2" x2="163.2" y2="269.2" stroke="#222" stroke-width="1.1"/><text transform="translate(164.8,272.1) scale(0.95,1)" font-size="7.2">0</text><line x1="161.1" y1="241.32" x2="163.2" y2="241.32" stroke="#222" stroke-width="1.1"/><text transform="translate(164.8,244.22) scale(0.95,1)" font-size="7.2">50</text><line x1="161.1" y1="213.45" x2="163.2" y2="213.45" stroke="#222" stroke-width="1.1"/><text transform="translate(164.8,216.35) scale(0.95,1)" font-size="7.2">100</text><line x1="161.1" y1="185.57" x2="163.2" y2="185.57" stroke="#222" stroke-width="1.1"/><text transform="translate(164.8,188.47) scale(0.95,1)" font-size="7.2">150</text><line x1="161.1" y1="157.7" x2="163.2" y2="157.7" stroke="#222" stroke-width="1.1"/><text transform="translate(164.8,160.6) scale(0.95,1)" font-size="7.2">200</text><text transform="translate(60.5,160.6) scale(0.906,1)" font-size="7.2" text-anchor="middle">Shannon Index</text><text transform="translate(125.85,159) scale(0.906,1)" font-size="7.2" text-anchor="middle">Chao 1 Index</text><line x1="36.2" y1="269.2" x2="36.2" y2="273.7" stroke="#222" stroke-width="1.2"/><text class="r" transform="translate(38.9,273.4) rotate(-90) scale(0.98,1)" font-size="7" text-anchor="end">Before AB</text><path d="M40.85,192.4 L40.83,193.01 L40.81,193.63 L40.79,194.24 L40.76,194.86 L40.73,195.47 L40.69,196.09 L40.61,196.7 L40.46,197.31 L40.29,197.93 L40.1,198.54 L39.91,199.16 L39.75,199.77 L39.62,200.39 L39.48,201 L39.35,201.61 L39.22,202.23 L39.1,202.84 L39.01,203.46 L38.96,204.07 L38.95,204.69 L39.01,205.3 L39.11,205.91 L39.26,206.53 L39.43,207.14 L39.61,207.76 L39.79,208.37 L39.95,208.99 L40.1,209.6 L40.28,210.21 L40.47,210.83 L40.66,211.44 L40.83,212.06 L40.99,212.67 L41.11,213.29 L41.19,213.9 L41.24,214.51 L41.27,215.13 L41.3,215.74 L41.33,216.36 L41.35,216.97 L41.37,217.59 L41.4,218.2 L31,218.2 L31.03,217.59 L31.05,216.97 L31.07,216.36 L31.1,215.74 L31.13,215.13 L31.16,214.51 L31.21,213.9 L31.29,213.29 L31.41,212.67 L31.57,212.06 L31.74,211.44 L31.93,210.83 L32.12,210.21 L32.3,209.6 L32.45,208.99 L32.61,208.37 L32.79,207.76 L32.97,207.14 L33.14,206.53 L33.29,205.91 L33.39,205.3 L33.45,204.69 L33.44,204.07 L33.39,203.46 L33.3,202.84 L33.18,202.23 L33.05,201.61 L32.92,201 L32.78,200.39 L32.65,199.77 L32.49,199.16 L32.3,198.54 L32.11,197.93 L31.94,197.31 L31.79,196.7 L31.71,196.09 L31.67,195.47 L31.64,194.86 L31.61,194.24 L31.59,193.63 L31.57,193.01 L31.55,192.4Z" fill="#E64B33" stroke="#141414" stroke-width="1.0" stroke-linejoin="round"/><line x1="33.44" y1="204.2" x2="38.96" y2="204.2" stroke="#141414" stroke-width="1.0"/><line x1="31.62" y1="194.5" x2="40.78" y2="194.5" stroke="#141414" stroke-width="0.6"/><line x1="31.06" y1="216.7" x2="41.34" y2="216.7" stroke="#141414" stroke-width="0.6"/><line x1="52.2" y1="269.2" x2="52.2" y2="273.7" stroke="#222" stroke-width="1.2"/><text class="r" transform="translate(54.9,273.4) rotate(-90) scale(0.98,1)" font-size="7" text-anchor="end">Pre AB</text><path d="M57,195.3 L56.96,195.91 L56.93,196.51 L56.9,197.12 L56.86,197.73 L56.83,198.34 L56.79,198.94 L56.74,199.55 L56.68,200.16 L56.6,200.77 L56.48,201.37 L56.33,201.98 L56.16,202.59 L55.97,203.2 L55.76,203.8 L55.54,204.41 L55.3,205.02 L55.07,205.63 L54.83,206.23 L54.59,206.84 L54.36,207.45 L54.14,208.06 L53.93,208.66 L53.74,209.27 L53.58,209.88 L53.43,210.49 L53.32,211.09 L53.25,211.7 L53.2,212.31 L53.21,212.91 L53.27,213.52 L53.38,214.13 L53.53,214.74 L53.73,215.34 L53.95,215.95 L54.19,216.56 L54.45,217.17 L54.72,217.77 L54.98,218.38 L55.25,218.99 L55.49,219.6 L55.72,220.2 L55.92,220.81 L56.08,221.42 L56.2,222.03 L56.3,222.63 L56.38,223.24 L56.46,223.85 L56.52,224.46 L56.59,225.06 L56.65,225.67 L56.71,226.28 L56.77,226.89 L56.83,227.49 L56.9,228.1 L47.5,228.1 L47.57,227.49 L47.63,226.89 L47.69,226.28 L47.75,225.67 L47.81,225.06 L47.88,224.46 L47.94,223.85 L48.02,223.24 L48.1,222.63 L48.2,222.03 L48.32,221.42 L48.48,220.81 L48.68,220.2 L48.91,219.6 L49.15,218.99 L49.42,218.38 L49.68,217.77 L49.95,217.17 L50.21,216.56 L50.45,215.95 L50.67,215.34 L50.87,214.74 L51.02,214.13 L51.13,213.52 L51.19,212.91 L51.2,212.31 L51.15,211.7 L51.08,211.09 L50.97,210.49 L50.82,209.88 L50.66,209.27 L50.47,208.66 L50.26,208.06 L50.04,207.45 L49.81,206.84 L49.57,206.23 L49.33,205.63 L49.1,205.02 L48.86,204.41 L48.64,203.8 L48.43,203.2 L48.24,202.59 L48.07,201.98 L47.92,201.37 L47.8,200.77 L47.72,200.16 L47.66,199.55 L47.61,198.94 L47.57,198.34 L47.54,197.73 L47.5,197.12 L47.47,196.51 L47.44,195.91 L47.4,195.3Z" fill="#4CBBD8" stroke="#141414" stroke-width="1.0" stroke-linejoin="round"/><line x1="50.4" y1="216.1" x2="54" y2="216.1" stroke="#141414" stroke-width="1.0"/><line x1="68.4" y1="269.2" x2="68.4" y2="273.7" stroke="#222" stroke-width="1.2"/><text class="r" transform="translate(71.1,273.4) rotate(-90) scale(0.98,1)" font-size="7" text-anchor="end">During AB</text><path d="M73.6,195.3 L73.58,195.91 L73.55,196.51 L73.53,197.12 L73.51,197.73 L73.49,198.34 L73.46,198.94 L73.43,199.55 L73.39,200.16 L73.32,200.77 L73.22,201.37 L73.1,201.98 L72.95,202.59 L72.79,203.2 L72.61,203.8 L72.42,204.41 L72.24,205.02 L72.05,205.63 L71.86,206.23 L71.69,206.84 L71.53,207.45 L71.39,208.06 L71.25,208.66 L71.1,209.27 L70.94,209.88 L70.78,210.49 L70.63,211.09 L70.48,211.7 L70.33,212.31 L70.21,212.91 L70.1,213.52 L70.01,214.13 L69.94,214.74 L69.91,215.34 L69.9,215.95 L69.91,216.56 L69.93,217.17 L69.96,217.77 L70,218.38 L70.03,218.99 L70.07,219.6 L70.1,220.2 L70.13,220.81 L70.14,221.42 L70.15,222.03 L70.15,222.63 L70.15,223.24 L70.15,223.85 L70.15,224.46 L70.15,225.06 L70.15,225.67 L70.15,226.28 L70.15,226.89 L70.15,227.49 L70.15,228.1 L66.65,228.1 L66.65,227.49 L66.65,226.89 L66.65,226.28 L66.65,225.67 L66.65,225.06 L66.65,224.46 L66.65,223.85 L66.65,223.24 L66.65,222.63 L66.65,222.03 L66.66,221.42 L66.67,220.81 L66.7,220.2 L66.73,219.6 L66.77,218.99 L66.8,218.38 L66.84,217.77 L66.87,217.17 L66.89,216.56 L66.9,215.95 L66.89,215.34 L66.86,214.74 L66.79,214.13 L66.7,213.52 L66.59,212.91 L66.47,212.31 L66.32,211.7 L66.17,211.09 L66.02,210.49 L65.86,209.88 L65.7,209.27 L65.55,208.66 L65.41,208.06 L65.27,207.45 L65.11,206.84 L64.94,206.23 L64.75,205.63 L64.56,205.02 L64.38,204.41 L64.19,203.8 L64.01,203.2 L63.85,202.59 L63.7,201.98 L63.58,201.37 L63.48,200.77 L63.41,200.16 L63.37,199.55 L63.34,198.94 L63.31,198.34 L63.29,197.73 L63.27,197.12 L63.25,196.51 L63.22,195.91 L63.2,195.3Z" fill="#02A086" stroke="#141414" stroke-width="1.0" stroke-linejoin="round"/><line x1="63.37" y1="199.5" x2="73.43" y2="199.5" stroke="#141414" stroke-width="1.0"/><line x1="84.8" y1="269.2" x2="84.8" y2="273.7" stroke="#222" stroke-width="1.2"/><text class="r" transform="translate(87.5,273.4) rotate(-90) scale(0.98,1)" font-size="7" text-anchor="end">Post AB</text><path d="M87.6,194.5 L87.78,195.11 L87.98,195.72 L88.19,196.33 L88.41,196.95 L88.63,197.56 L88.85,198.17 L89.06,198.78 L89.24,199.39 L89.41,200 L89.54,200.62 L89.64,201.23 L89.69,201.84 L89.69,202.45 L89.62,203.06 L89.47,203.67 L89.26,204.29 L89.01,204.9 L88.71,205.51 L88.4,206.12 L88.06,206.73 L87.73,207.34 L87.41,207.96 L87.1,208.57 L86.83,209.18 L86.6,209.79 L86.43,210.4 L86.33,211.01 L86.3,211.63 L86.4,212.24 L86.61,212.85 L86.91,213.46 L87.27,214.07 L87.64,214.68 L88.02,215.3 L88.36,215.91 L88.64,216.52 L88.83,217.13 L88.97,217.74 L89.09,218.35 L89.19,218.97 L89.29,219.58 L89.39,220.19 L89.5,220.8 L80.1,220.8 L80.21,220.19 L80.31,219.58 L80.41,218.97 L80.51,218.35 L80.63,217.74 L80.77,217.13 L80.96,216.52 L81.24,215.91 L81.58,215.3 L81.96,214.68 L82.33,214.07 L82.69,213.46 L82.99,212.85 L83.2,212.24 L83.3,211.63 L83.27,211.01 L83.17,210.4 L83,209.79 L82.77,209.18 L82.5,208.57 L82.19,207.96 L81.87,207.34 L81.54,206.73 L81.2,206.12 L80.89,205.51 L80.59,204.9 L80.34,204.29 L80.13,203.67 L79.98,203.06 L79.91,202.45 L79.91,201.84 L79.96,201.23 L80.06,200.62 L80.19,200 L80.36,199.39 L80.54,198.78 L80.75,198.17 L80.97,197.56 L81.19,196.95 L81.41,196.33 L81.62,195.72 L81.82,195.11 L82,194.5Z" fill="#3D5A97" stroke="#141414" stroke-width="1.0" stroke-linejoin="round"/><line x1="80.01" y1="203.2" x2="89.59" y2="203.2" stroke="#141414" stroke-width="1.0"/><line x1="80.6" y1="198.6" x2="89" y2="198.6" stroke="#141414" stroke-width="0.6"/><line x1="101.4" y1="269.2" x2="101.4" y2="273.7" stroke="#222" stroke-width="1.2"/><text class="r" transform="translate(104.1,273.4) rotate(-90) scale(0.98,1)" font-size="7" text-anchor="end">Before AB</text><path d="M103.8,176.6 L103.82,177.2 L103.83,177.81 L103.85,178.41 L103.86,179.02 L103.87,179.62 L103.89,180.23 L103.9,180.83 L103.92,181.44 L103.93,182.04 L103.95,182.64 L103.96,183.25 L103.98,183.85 L103.99,184.46 L104.01,185.06 L104.02,185.67 L104.04,186.27 L104.05,186.88 L104.07,187.48 L104.09,188.08 L104.11,188.69 L104.13,189.29 L104.15,189.9 L104.17,190.5 L104.19,191.11 L104.21,191.71 L104.24,192.32 L104.26,192.92 L104.29,193.53 L104.32,194.13 L104.35,194.73 L104.38,195.34 L104.41,195.94 L104.44,196.55 L104.47,197.15 L104.5,197.76 L104.54,198.36 L104.57,198.97 L104.6,199.57 L104.64,200.17 L104.67,200.78 L104.71,201.38 L104.74,201.99 L104.77,202.59 L104.81,203.2 L104.84,203.8 L104.87,204.41 L104.91,205.01 L104.94,205.61 L104.97,206.22 L105,206.82 L105.03,207.43 L105.06,208.03 L105.09,208.64 L105.12,209.24 L105.14,209.85 L105.17,210.45 L105.2,211.05 L105.22,211.66 L105.25,212.26 L105.28,212.87 L105.31,213.47 L105.33,214.08 L105.36,214.68 L105.39,215.29 L105.42,215.89 L105.45,216.49 L105.48,217.1 L105.51,217.7 L105.54,218.31 L105.57,218.91 L105.6,219.52 L105.62,220.12 L105.65,220.73 L105.68,221.33 L105.71,221.93 L105.74,222.54 L105.76,223.14 L105.79,223.75 L105.81,224.35 L105.84,224.96 L105.86,225.56 L105.88,226.17 L105.91,226.77 L105.93,227.38 L105.95,227.98 L105.97,228.58 L105.99,229.19 L106,229.79 L106.02,230.4 L106.03,231 L106.05,231.61 L106.06,232.21 L106.07,232.82 L106.08,233.42 L106.09,234.02 L106.09,234.63 L106.1,235.23 L106.1,235.84 L106.1,236.44 L106.1,237.05 L106.09,237.65 L106.08,238.26 L106.07,238.86 L106.05,239.46 L106.03,240.07 L106.01,240.67 L105.99,241.28 L105.97,241.88 L105.95,242.49 L105.93,243.09 L105.92,243.7 L105.9,244.3 L96.9,244.3 L96.88,243.7 L96.87,243.09 L96.85,242.49 L96.83,241.88 L96.81,241.28 L96.79,240.67 L96.77,240.07 L96.75,239.46 L96.73,238.86 L96.72,238.26 L96.71,237.65 L96.7,237.05 L96.7,236.44 L96.7,235.84 L96.7,235.23 L96.71,234.63 L96.71,234.02 L96.72,233.42 L96.73,232.82 L96.74,232.21 L96.75,231.61 L96.77,231 L96.78,230.4 L96.8,229.79 L96.81,229.19 L96.83,228.58 L96.85,227.98 L96.87,227.38 L96.89,226.77 L96.92,226.17 L96.94,225.56 L96.96,224.96 L96.99,224.35 L97.01,223.75 L97.04,223.14 L97.06,222.54 L97.09,221.93 L97.12,221.33 L97.15,220.73 L97.18,220.12 L97.2,219.52 L97.23,218.91 L97.26,218.31 L97.29,217.7 L97.32,217.1 L97.35,216.49 L97.38,215.89 L97.41,215.29 L97.44,214.68 L97.47,214.08 L97.49,213.47 L97.52,212.87 L97.55,212.26 L97.58,211.66 L97.6,211.05 L97.63,210.45 L97.66,209.85 L97.68,209.24 L97.71,208.64 L97.74,208.03 L97.77,207.43 L97.8,206.82 L97.83,206.22 L97.86,205.61 L97.89,205.01 L97.93,204.41 L97.96,203.8 L97.99,203.2 L98.03,202.59 L98.06,201.99 L98.09,201.38 L98.13,200.78 L98.16,200.17 L98.2,199.57 L98.23,198.97 L98.26,198.36 L98.3,197.76 L98.33,197.15 L98.36,196.55 L98.39,195.94 L98.42,195.34 L98.45,194.73 L98.48,194.13 L98.51,193.53 L98.54,192.92 L98.56,192.32 L98.59,191.71 L98.61,191.11 L98.63,190.5 L98.65,189.9 L98.67,189.29 L98.69,188.69 L98.71,188.08 L98.73,187.48 L98.75,186.88 L98.76,186.27 L98.78,185.67 L98.79,185.06 L98.81,184.46 L98.82,183.85 L98.84,183.25 L98.85,182.64 L98.87,182.04 L98.88,181.44 L98.9,180.83 L98.91,180.23 L98.93,179.62 L98.94,179.02 L98.95,178.41 L98.97,177.81 L98.98,177.2 L99,176.6Z" fill="#E64B33" stroke="#141414" stroke-width="1.0" stroke-linejoin="round"/><line x1="97.24" y1="218.8" x2="105.56" y2="218.8" stroke="#141414" stroke-width="1.0"/><line x1="98.64" y1="190.3" x2="104.16" y2="190.3" stroke="#141414" stroke-width="0.6"/><line x1="96.82" y1="241.6" x2="105.98" y2="241.6" stroke="#141414" stroke-width="0.6"/><line x1="117.6" y1="269.2" x2="117.6" y2="273.7" stroke="#222" stroke-width="1.2"/><text class="r" transform="translate(120.3,273.4) rotate(-90) scale(0.98,1)" font-size="7" text-anchor="end">Pre AB</text><path d="M122.55,193.8 L122.51,194.4 L122.47,195.01 L122.43,195.61 L122.39,196.22 L122.36,196.82 L122.32,197.43 L122.27,198.03 L122.23,198.64 L122.18,199.24 L122.12,199.85 L122.04,200.45 L121.95,201.06 L121.83,201.66 L121.69,202.26 L121.55,202.87 L121.39,203.47 L121.24,204.08 L121.08,204.68 L120.94,205.29 L120.8,205.89 L120.68,206.5 L120.58,207.1 L120.49,207.71 L120.4,208.31 L120.3,208.91 L120.21,209.52 L120.12,210.12 L120.03,210.73 L119.95,211.33 L119.88,211.94 L119.81,212.54 L119.75,213.15 L119.71,213.75 L119.67,214.36 L119.65,214.96 L119.65,215.57 L119.66,216.17 L119.7,216.77 L119.74,217.38 L119.8,217.98 L119.87,218.59 L119.94,219.19 L120.02,219.8 L120.11,220.4 L120.2,221.01 L120.29,221.61 L120.38,222.22 L120.5,222.82 L120.64,223.42 L120.8,224.03 L120.97,224.63 L121.14,225.24 L121.32,225.84 L121.5,226.45 L121.66,227.05 L121.81,227.66 L121.94,228.26 L122.03,228.87 L122.11,229.47 L122.18,230.08 L122.25,230.68 L122.32,231.28 L122.38,231.89 L122.44,232.49 L122.48,233.1 L122.52,233.7 L122.54,234.31 L122.55,234.91 L122.55,235.52 L122.55,236.12 L122.55,236.73 L122.55,237.33 L122.55,237.93 L122.55,238.54 L122.55,239.14 L122.55,239.75 L122.55,240.35 L122.55,240.96 L122.55,241.56 L122.55,242.17 L122.55,242.77 L122.55,243.38 L122.55,243.98 L122.55,244.59 L122.55,245.19 L122.55,245.79 L122.54,246.4 L122.53,247 L122.51,247.61 L122.49,248.21 L122.47,248.82 L122.45,249.42 L122.43,250.03 L122.4,250.63 L122.38,251.24 L122.36,251.84 L122.33,252.44 L122.3,253.05 L122.27,253.65 L122.23,254.26 L122.19,254.86 L122.15,255.47 L122.11,256.07 L122.06,256.68 L122.02,257.28 L121.98,257.89 L121.93,258.49 L121.89,259.1 L121.85,259.7 L113.35,259.7 L113.31,259.1 L113.27,258.49 L113.22,257.89 L113.18,257.28 L113.14,256.68 L113.09,256.07 L113.05,255.47 L113.01,254.86 L112.97,254.26 L112.93,253.65 L112.9,253.05 L112.87,252.44 L112.84,251.84 L112.82,251.24 L112.8,250.63 L112.77,250.03 L112.75,249.42 L112.73,248.82 L112.71,248.21 L112.69,247.61 L112.67,247 L112.66,246.4 L112.65,245.79 L112.65,245.19 L112.65,244.59 L112.65,243.98 L112.65,243.38 L112.65,242.77 L112.65,242.17 L112.65,241.56 L112.65,240.96 L112.65,240.35 L112.65,239.75 L112.65,239.14 L112.65,238.54 L112.65,237.93 L112.65,237.33 L112.65,236.73 L112.65,236.12 L112.65,235.52 L112.65,234.91 L112.66,234.31 L112.68,233.7 L112.72,233.1 L112.76,232.49 L112.82,231.89 L112.88,231.28 L112.95,230.68 L113.02,230.08 L113.09,229.47 L113.17,228.87 L113.26,228.26 L113.39,227.66 L113.54,227.05 L113.7,226.45 L113.88,225.84 L114.06,225.24 L114.23,224.63 L114.4,224.03 L114.56,223.42 L114.7,222.82 L114.82,222.22 L114.91,221.61 L115,221.01 L115.09,220.4 L115.18,219.8 L115.26,219.19 L115.33,218.59 L115.4,217.98 L115.46,217.38 L115.5,216.77 L115.54,216.17 L115.55,215.57 L115.55,214.96 L115.53,214.36 L115.49,213.75 L115.45,213.15 L115.39,212.54 L115.32,211.94 L115.25,211.33 L115.17,210.73 L115.08,210.12 L114.99,209.52 L114.9,208.91 L114.8,208.31 L114.71,207.71 L114.62,207.1 L114.52,206.5 L114.4,205.89 L114.26,205.29 L114.12,204.68 L113.96,204.08 L113.81,203.47 L113.65,202.87 L113.51,202.26 L113.37,201.66 L113.25,201.06 L113.16,200.45 L113.08,199.85 L113.02,199.24 L112.97,198.64 L112.93,198.03 L112.88,197.43 L112.84,196.82 L112.81,196.22 L112.77,195.61 L112.73,195.01 L112.69,194.4 L112.65,193.8Z" fill="#4CBBD8" stroke="#141414" stroke-width="1.0" stroke-linejoin="round"/><line x1="112.82" y1="231.9" x2="122.38" y2="231.9" stroke="#141414" stroke-width="1.0"/><line x1="112.92" y1="198" x2="122.28" y2="198" stroke="#141414" stroke-width="0.6"/><line x1="112.88" y1="252.6" x2="122.32" y2="252.6" stroke="#141414" stroke-width="0.6"/><line x1="134.0" y1="269.2" x2="134.0" y2="273.7" stroke="#222" stroke-width="1.2"/><text class="r" transform="translate(136.7,273.4) rotate(-90) scale(0.98,1)" font-size="7" text-anchor="end">During AB</text><path d="M138.7,217.1 L138.7,217.7 L138.69,218.31 L138.69,218.91 L138.69,219.52 L138.69,220.12 L138.68,220.72 L138.68,221.33 L138.68,221.93 L138.68,222.54 L138.68,223.14 L138.67,223.74 L138.67,224.35 L138.67,224.95 L138.67,225.56 L138.67,226.16 L138.66,226.76 L138.66,227.37 L138.66,227.97 L138.65,228.58 L138.65,229.18 L138.65,229.78 L138.64,230.39 L138.64,230.99 L138.63,231.6 L138.63,232.2 L138.62,232.8 L138.61,233.41 L138.61,234.01 L138.59,234.62 L138.54,235.22 L138.44,235.82 L138.3,236.43 L138.14,237.03 L137.95,237.64 L137.76,238.24 L137.57,238.84 L137.4,239.45 L137.24,240.05 L137.08,240.66 L136.93,241.26 L136.77,241.86 L136.6,242.47 L136.44,243.07 L136.28,243.68 L136.13,244.28 L135.99,244.88 L135.85,245.49 L135.73,246.09 L135.61,246.7 L135.47,247.3 L135.35,247.9 L135.24,248.51 L135.15,249.11 L135.11,249.72 L135.11,250.32 L135.14,250.92 L135.21,251.53 L135.3,252.13 L135.41,252.74 L135.53,253.34 L135.65,253.94 L135.77,254.55 L135.88,255.15 L135.97,255.76 L136.04,256.36 L136.11,256.96 L136.18,257.57 L136.24,258.17 L136.3,258.78 L136.36,259.38 L136.42,259.98 L136.47,260.59 L136.53,261.19 L136.59,261.8 L136.65,262.4 L131.35,262.4 L131.41,261.8 L131.47,261.19 L131.53,260.59 L131.58,259.98 L131.64,259.38 L131.7,258.78 L131.76,258.17 L131.82,257.57 L131.89,256.96 L131.96,256.36 L132.03,255.76 L132.12,255.15 L132.23,254.55 L132.35,253.94 L132.47,253.34 L132.59,252.74 L132.7,252.13 L132.79,251.53 L132.86,250.92 L132.89,250.32 L132.89,249.72 L132.85,249.11 L132.76,248.51 L132.65,247.9 L132.53,247.3 L132.39,246.7 L132.27,246.09 L132.15,245.49 L132.01,244.88 L131.87,244.28 L131.72,243.68 L131.56,243.07 L131.4,242.47 L131.23,241.86 L131.07,241.26 L130.92,240.66 L130.76,240.05 L130.6,239.45 L130.43,238.84 L130.24,238.24 L130.05,237.64 L129.86,237.03 L129.7,236.43 L129.56,235.82 L129.46,235.22 L129.41,234.62 L129.39,234.01 L129.39,233.41 L129.38,232.8 L129.37,232.2 L129.37,231.6 L129.36,230.99 L129.36,230.39 L129.35,229.78 L129.35,229.18 L129.35,228.58 L129.34,227.97 L129.34,227.37 L129.34,226.76 L129.33,226.16 L129.33,225.56 L129.33,224.95 L129.33,224.35 L129.33,223.74 L129.32,223.14 L129.32,222.54 L129.32,221.93 L129.32,221.33 L129.32,220.72 L129.31,220.12 L129.31,219.52 L129.31,218.91 L129.31,218.31 L129.3,217.7 L129.3,217.1Z" fill="#02A086" stroke="#141414" stroke-width="1.0" stroke-linejoin="round"/><line x1="129.4" y1="234.4" x2="138.6" y2="234.4" stroke="#141414" stroke-width="1.0"/><line x1="150.3" y1="269.2" x2="150.3" y2="273.7" stroke="#222" stroke-width="1.2"/><text class="r" transform="translate(153,273.4) rotate(-90) scale(0.98,1)" font-size="7" text-anchor="end">Post AB</text><path d="M152.4,177.8 L152.39,178.4 L152.38,179 L152.36,179.61 L152.35,180.21 L152.34,180.81 L152.33,181.41 L152.32,182.01 L152.31,182.61 L152.29,183.22 L152.28,183.82 L152.27,184.42 L152.26,185.02 L152.25,185.62 L152.24,186.22 L152.23,186.83 L152.21,187.43 L152.2,188.03 L152.19,188.63 L152.18,189.23 L152.17,189.84 L152.15,190.44 L152.14,191.04 L152.13,191.64 L152.11,192.24 L152.1,192.84 L152.09,193.45 L152.07,194.05 L152.06,194.65 L152.04,195.25 L152.03,195.85 L152.01,196.45 L151.99,197.06 L151.97,197.66 L151.95,198.26 L151.93,198.86 L151.9,199.46 L151.88,200.07 L151.85,200.67 L151.83,201.27 L151.81,201.87 L151.78,202.47 L151.76,203.07 L151.73,203.68 L151.71,204.28 L151.69,204.88 L151.67,205.48 L151.65,206.08 L151.63,206.68 L151.61,207.29 L151.6,207.89 L151.58,208.49 L151.57,209.09 L151.56,209.69 L151.56,210.3 L151.55,210.9 L151.55,211.5 L151.55,212.1 L151.57,212.7 L151.59,213.3 L151.61,213.91 L151.65,214.51 L151.69,215.11 L151.73,215.71 L151.78,216.31 L151.84,216.92 L151.9,217.52 L151.96,218.12 L152.03,218.72 L152.1,219.32 L152.17,219.92 L152.25,220.53 L152.32,221.13 L152.4,221.73 L152.47,222.33 L152.55,222.93 L152.62,223.53 L152.7,224.14 L152.77,224.74 L152.84,225.34 L152.92,225.94 L153.01,226.54 L153.11,227.15 L153.22,227.75 L153.33,228.35 L153.45,228.95 L153.58,229.55 L153.71,230.15 L153.84,230.76 L153.97,231.36 L154.1,231.96 L154.23,232.56 L154.36,233.16 L154.49,233.76 L154.62,234.37 L154.74,234.97 L154.85,235.57 L154.96,236.17 L155.06,236.77 L155.16,237.38 L155.24,237.98 L155.32,238.58 L155.38,239.18 L155.43,239.78 L155.47,240.38 L155.49,240.99 L155.5,241.59 L155.48,242.19 L155.41,242.79 L155.31,243.39 L155.2,243.99 L155.07,244.6 L154.95,245.2 L154.85,245.8 L145.75,245.8 L145.65,245.2 L145.53,244.6 L145.4,243.99 L145.29,243.39 L145.19,242.79 L145.12,242.19 L145.1,241.59 L145.11,240.99 L145.13,240.38 L145.17,239.78 L145.22,239.18 L145.28,238.58 L145.36,237.98 L145.44,237.38 L145.54,236.77 L145.64,236.17 L145.75,235.57 L145.86,234.97 L145.98,234.37 L146.11,233.76 L146.24,233.16 L146.37,232.56 L146.5,231.96 L146.63,231.36 L146.76,230.76 L146.89,230.15 L147.02,229.55 L147.15,228.95 L147.27,228.35 L147.38,227.75 L147.49,227.15 L147.59,226.54 L147.68,225.94 L147.76,225.34 L147.83,224.74 L147.9,224.14 L147.98,223.53 L148.05,222.93 L148.13,222.33 L148.2,221.73 L148.28,221.13 L148.35,220.53 L148.43,219.92 L148.5,219.32 L148.57,218.72 L148.64,218.12 L148.7,217.52 L148.76,216.92 L148.82,216.31 L148.87,215.71 L148.91,215.11 L148.95,214.51 L148.99,213.91 L149.01,213.3 L149.03,212.7 L149.05,212.1 L149.05,211.5 L149.05,210.9 L149.04,210.3 L149.04,209.69 L149.03,209.09 L149.02,208.49 L149,207.89 L148.99,207.29 L148.97,206.68 L148.95,206.08 L148.93,205.48 L148.91,204.88 L148.89,204.28 L148.87,203.68 L148.84,203.07 L148.82,202.47 L148.79,201.87 L148.77,201.27 L148.75,200.67 L148.72,200.07 L148.7,199.46 L148.67,198.86 L148.65,198.26 L148.63,197.66 L148.61,197.06 L148.59,196.45 L148.57,195.85 L148.56,195.25 L148.54,194.65 L148.53,194.05 L148.51,193.45 L148.5,192.84 L148.49,192.24 L148.47,191.64 L148.46,191.04 L148.45,190.44 L148.43,189.84 L148.42,189.23 L148.41,188.63 L148.4,188.03 L148.39,187.43 L148.37,186.83 L148.36,186.22 L148.35,185.62 L148.34,185.02 L148.33,184.42 L148.32,183.82 L148.31,183.22 L148.29,182.61 L148.28,182.01 L148.27,181.41 L148.26,180.81 L148.25,180.21 L148.24,179.61 L148.22,179 L148.21,178.4 L148.2,177.8Z" fill="#3D5A97" stroke="#141414" stroke-width="1.0" stroke-linejoin="round"/><line x1="145.78" y1="235.4" x2="154.82" y2="235.4" stroke="#141414" stroke-width="1.0"/><line x1="148.41" y1="188.6" x2="152.19" y2="188.6" stroke="#141414" stroke-width="0.6"/></g><g><line x1="257.0" y1="157" x2="257.0" y2="269.2" stroke="#E62A1C" stroke-width="1.45" stroke-dasharray="3.6 2.1 1.2 2.8"/><path d="M189.4,157.7 V269.2 H325.6 V157.7" fill="none" stroke="#222" stroke-width="1.2"/><line x1="187.0" y1="269.2" x2="189.4" y2="269.2" stroke="#222" stroke-width="1.1"/><text transform="translate(185.5,272.1) scale(0.95,1)" font-size="7.2" text-anchor="end">0</text><line x1="187.0" y1="246.9" x2="189.4" y2="246.9" stroke="#222" stroke-width="1.1"/><text transform="translate(185.5,249.8) scale(0.95,1)" font-size="7.2" text-anchor="end">1</text><line x1="187.0" y1="224.6" x2="189.4" y2="224.6" stroke="#222" stroke-width="1.1"/><text transform="translate(185.5,227.5) scale(0.95,1)" font-size="7.2" text-anchor="end">2</text><line x1="187.0" y1="202.3" x2="189.4" y2="202.3" stroke="#222" stroke-width="1.1"/><text transform="translate(185.5,205.2) scale(0.95,1)" font-size="7.2" text-anchor="end">3</text><line x1="187.0" y1="180" x2="189.4" y2="180" stroke="#222" stroke-width="1.1"/><text transform="translate(185.5,182.9) scale(0.95,1)" font-size="7.2" text-anchor="end">4</text><line x1="187.0" y1="157.7" x2="189.4" y2="157.7" stroke="#222" stroke-width="1.1"/><text transform="translate(185.5,160.6) scale(0.95,1)" font-size="7.2" text-anchor="end">5</text><line x1="325.6" y1="269.2" x2="327.70000000000005" y2="269.2" stroke="#222" stroke-width="1.1"/><text transform="translate(329.3,272.1) scale(0.95,1)" font-size="7.2">0</text><line x1="325.6" y1="241.32" x2="327.70000000000005" y2="241.32" stroke="#222" stroke-width="1.1"/><text transform="translate(329.3,244.22) scale(0.95,1)" font-size="7.2">50</text><line x1="325.6" y1="213.45" x2="327.70000000000005" y2="213.45" stroke="#222" stroke-width="1.1"/><text transform="translate(329.3,216.35) scale(0.95,1)" font-size="7.2">100</text><line x1="325.6" y1="185.57" x2="327.70000000000005" y2="185.57" stroke="#222" stroke-width="1.1"/><text transform="translate(329.3,188.47) scale(0.95,1)" font-size="7.2">150</text><line x1="325.6" y1="157.7" x2="327.70000000000005" y2="157.7" stroke="#222" stroke-width="1.1"/><text transform="translate(329.3,160.6) scale(0.95,1)" font-size="7.2">200</text><text transform="translate(223.95,160.6) scale(0.906,1)" font-size="7.2" text-anchor="middle">Shannon Index</text><text transform="translate(290.3,159) scale(0.906,1)" font-size="7.2" text-anchor="middle">Chao 1 Index</text><line x1="199.7" y1="269.2" x2="199.7" y2="273.7" stroke="#222" stroke-width="1.2"/><text class="r" transform="translate(202.4,273.4) rotate(-90) scale(0.98,1)" font-size="7" text-anchor="end">Before AB</text><path d="M201.2,210 L201.2,210.6 L201.2,211.21 L201.2,211.81 L201.2,212.42 L201.2,213.02 L201.2,213.62 L201.2,214.23 L201.2,214.83 L201.2,215.44 L201.2,216.04 L201.2,216.65 L201.2,217.25 L201.2,217.85 L201.2,218.46 L201.2,219.06 L201.2,219.67 L201.2,220.27 L201.21,220.88 L201.23,221.48 L201.25,222.08 L201.28,222.69 L201.31,223.29 L201.35,223.9 L201.4,224.5 L201.45,225.1 L201.5,225.71 L201.55,226.31 L201.6,226.92 L201.66,227.52 L201.71,228.12 L201.77,228.73 L201.84,229.33 L201.92,229.94 L202.01,230.54 L202.11,231.15 L202.21,231.75 L202.32,232.35 L202.43,232.96 L202.54,233.56 L202.66,234.17 L202.78,234.77 L202.9,235.38 L203.01,235.98 L203.13,236.58 L203.24,237.19 L203.35,237.79 L203.46,238.4 L203.55,239 L203.64,239.6 L203.73,240.21 L203.82,240.81 L203.91,241.42 L204.01,242.02 L204.1,242.62 L204.19,243.23 L204.28,243.83 L204.35,244.44 L204.41,245.04 L204.46,245.65 L204.49,246.25 L204.5,246.85 L204.49,247.46 L204.46,248.06 L204.41,248.67 L204.36,249.27 L204.29,249.88 L204.22,250.48 L204.14,251.08 L204.06,251.69 L203.98,252.29 L203.91,252.9 L203.85,253.5 L195.55,253.5 L195.49,252.9 L195.42,252.29 L195.34,251.69 L195.26,251.08 L195.18,250.48 L195.11,249.88 L195.04,249.27 L194.99,248.67 L194.94,248.06 L194.91,247.46 L194.9,246.85 L194.91,246.25 L194.94,245.65 L194.99,245.04 L195.05,244.44 L195.12,243.83 L195.21,243.23 L195.3,242.62 L195.39,242.02 L195.49,241.42 L195.58,240.81 L195.67,240.21 L195.76,239.6 L195.85,239 L195.94,238.4 L196.05,237.79 L196.16,237.19 L196.27,236.58 L196.39,235.98 L196.5,235.38 L196.62,234.77 L196.74,234.17 L196.86,233.56 L196.97,232.96 L197.08,232.35 L197.19,231.75 L197.29,231.15 L197.39,230.54 L197.48,229.94 L197.56,229.33 L197.63,228.73 L197.69,228.12 L197.74,227.52 L197.8,226.92 L197.85,226.31 L197.9,225.71 L197.95,225.1 L198,224.5 L198.05,223.9 L198.09,223.29 L198.12,222.69 L198.15,222.08 L198.17,221.48 L198.19,220.88 L198.2,220.27 L198.2,219.67 L198.2,219.06 L198.2,218.46 L198.2,217.85 L198.2,217.25 L198.2,216.65 L198.2,216.04 L198.2,215.44 L198.2,214.83 L198.2,214.23 L198.2,213.62 L198.2,213.02 L198.2,212.42 L198.2,211.81 L198.2,211.21 L198.2,210.6 L198.2,210Z" fill="#E64B33" stroke="#141414" stroke-width="1.0" stroke-linejoin="round"/><line x1="194.93" y1="245.8" x2="204.47" y2="245.8" stroke="#141414" stroke-width="1.0"/><line x1="198.19" y1="220.8" x2="201.21" y2="220.8" stroke="#141414" stroke-width="0.6"/><line x1="195.13" y1="250" x2="204.27" y2="250" stroke="#141414" stroke-width="0.6"/><line x1="215.7" y1="269.2" x2="215.7" y2="273.7" stroke="#222" stroke-width="1.2"/><text class="r" transform="translate(218.4,273.4) rotate(-90) scale(0.98,1)" font-size="7" text-anchor="end">Pre AB</text><path d="M218.35,186 L218.18,186.6 L217.99,187.21 L217.8,187.81 L217.63,188.42 L217.5,189.02 L217.45,189.63 L217.48,190.23 L217.56,190.84 L217.69,191.44 L217.85,192.04 L218.03,192.65 L218.22,193.25 L218.41,193.86 L218.6,194.46 L218.83,195.07 L219.08,195.67 L219.33,196.28 L219.58,196.88 L219.8,197.48 L219.97,198.09 L220.13,198.69 L220.29,199.3 L220.44,199.9 L220.55,200.51 L220.63,201.11 L220.65,201.72 L220.62,202.32 L220.57,202.92 L220.51,203.53 L220.43,204.13 L220.37,204.74 L220.32,205.34 L220.27,205.95 L220.22,206.55 L220.18,207.16 L220.15,207.76 L220.15,208.36 L220.18,208.97 L220.21,209.57 L220.26,210.18 L220.32,210.78 L220.38,211.39 L220.44,211.99 L220.5,212.6 L220.55,213.2 L210.85,213.2 L210.9,212.6 L210.96,211.99 L211.02,211.39 L211.08,210.78 L211.14,210.18 L211.19,209.57 L211.22,208.97 L211.25,208.36 L211.25,207.76 L211.22,207.16 L211.18,206.55 L211.13,205.95 L211.08,205.34 L211.03,204.74 L210.97,204.13 L210.89,203.53 L210.83,202.92 L210.78,202.32 L210.75,201.72 L210.77,201.11 L210.85,200.51 L210.96,199.9 L211.11,199.3 L211.27,198.69 L211.43,198.09 L211.6,197.48 L211.82,196.88 L212.07,196.28 L212.32,195.67 L212.57,195.07 L212.8,194.46 L212.99,193.86 L213.18,193.25 L213.37,192.65 L213.55,192.04 L213.71,191.44 L213.84,190.84 L213.92,190.23 L213.95,189.63 L213.9,189.02 L213.77,188.42 L213.6,187.81 L213.41,187.21 L213.22,186.6 L213.05,186Z" fill="#4CBBD8" stroke="#141414" stroke-width="1.0" stroke-linejoin="round"/><line x1="210.77" y1="201.1" x2="220.63" y2="201.1" stroke="#141414" stroke-width="1.0"/><line x1="232.4" y1="269.2" x2="232.4" y2="273.7" stroke="#222" stroke-width="1.2"/><text class="r" transform="translate(235.1,273.4) rotate(-90) scale(0.98,1)" font-size="7" text-anchor="end">During AB</text><path d="M233.75,199.5 L233.72,200.1 L233.68,200.71 L233.65,201.31 L233.61,201.92 L233.57,202.52 L233.53,203.13 L233.49,203.73 L233.45,204.34 L233.41,204.94 L233.37,205.54 L233.34,206.15 L233.3,206.75 L233.27,207.36 L233.24,207.96 L233.21,208.57 L233.19,209.17 L233.17,209.78 L233.16,210.38 L233.15,210.98 L233.15,211.59 L233.17,212.19 L233.22,212.8 L233.29,213.4 L233.38,214.01 L233.5,214.61 L233.63,215.21 L233.77,215.82 L233.93,216.42 L234.09,217.03 L234.26,217.63 L234.43,218.24 L234.61,218.84 L234.78,219.45 L234.94,220.05 L235.1,220.65 L235.24,221.26 L235.37,221.86 L235.5,222.47 L235.63,223.07 L235.77,223.68 L235.91,224.28 L236.06,224.89 L236.21,225.49 L236.36,226.09 L236.5,226.7 L236.64,227.3 L236.77,227.91 L236.89,228.51 L237,229.12 L237.1,229.72 L237.18,230.32 L237.24,230.93 L237.28,231.53 L237.3,232.14 L237.29,232.74 L237.26,233.35 L237.2,233.95 L237.11,234.56 L237.01,235.16 L236.9,235.76 L236.77,236.37 L236.64,236.97 L236.5,237.58 L236.36,238.18 L236.22,238.79 L236.09,239.39 L235.96,240 L235.85,240.6 L228.95,240.6 L228.84,240 L228.71,239.39 L228.58,238.79 L228.44,238.18 L228.3,237.58 L228.16,236.97 L228.03,236.37 L227.9,235.76 L227.79,235.16 L227.69,234.56 L227.6,233.95 L227.54,233.35 L227.51,232.74 L227.5,232.14 L227.52,231.53 L227.56,230.93 L227.62,230.32 L227.7,229.72 L227.8,229.12 L227.91,228.51 L228.03,227.91 L228.16,227.3 L228.3,226.7 L228.44,226.09 L228.59,225.49 L228.74,224.89 L228.89,224.28 L229.03,223.68 L229.17,223.07 L229.3,222.47 L229.43,221.86 L229.56,221.26 L229.7,220.65 L229.86,220.05 L230.02,219.45 L230.19,218.84 L230.37,218.24 L230.54,217.63 L230.71,217.03 L230.87,216.42 L231.03,215.82 L231.17,215.21 L231.3,214.61 L231.42,214.01 L231.51,213.4 L231.58,212.8 L231.63,212.19 L231.65,211.59 L231.65,210.98 L231.64,210.38 L231.63,209.78 L231.61,209.17 L231.59,208.57 L231.56,207.96 L231.53,207.36 L231.5,206.75 L231.46,206.15 L231.43,205.54 L231.39,204.94 L231.35,204.34 L231.31,203.73 L231.27,203.13 L231.23,202.52 L231.19,201.92 L231.15,201.31 L231.12,200.71 L231.08,200.1 L231.05,199.5Z" fill="#02A086" stroke="#141414" stroke-width="1.0" stroke-linejoin="round"/><line x1="227.99" y1="228.1" x2="236.81" y2="228.1" stroke="#141414" stroke-width="1.0"/><line x1="228.28" y1="237.5" x2="236.52" y2="237.5" stroke="#141414" stroke-width="0.6"/><line x1="248.2" y1="269.2" x2="248.2" y2="273.7" stroke="#222" stroke-width="1.2"/><text class="r" transform="translate(250.9,273.4) rotate(-90) scale(0.98,1)" font-size="7" text-anchor="end">Post AB</text><path d="M253.15,213.2 L253.11,213.81 L253.07,214.41 L253.03,215.02 L252.98,215.63 L252.93,216.24 L252.85,216.84 L252.77,217.45 L252.67,218.06 L252.57,218.67 L252.47,219.27 L252.38,219.88 L252.3,220.49 L252.21,221.1 L252.13,221.7 L252.05,222.31 L251.97,222.92 L251.9,223.53 L251.82,224.13 L251.74,224.74 L251.67,225.35 L251.59,225.96 L251.51,226.56 L251.43,227.17 L251.35,227.78 L251.27,228.39 L251.19,228.99 L251.1,229.6 L251.01,230.21 L250.92,230.81 L250.82,231.42 L250.73,232.03 L250.63,232.64 L250.54,233.24 L250.44,233.85 L250.35,234.46 L250.27,235.07 L250.19,235.67 L250.12,236.28 L250.05,236.89 L249.99,237.5 L249.92,238.1 L249.86,238.71 L249.8,239.32 L249.73,239.93 L249.67,240.53 L249.61,241.14 L249.55,241.75 L249.49,242.36 L249.44,242.96 L249.39,243.57 L249.35,244.18 L249.31,244.79 L249.27,245.39 L249.24,246 L249.22,246.61 L249.21,247.21 L249.2,247.82 L249.2,248.43 L249.21,249.04 L249.22,249.64 L249.24,250.25 L249.26,250.86 L249.28,251.47 L249.31,252.07 L249.33,252.68 L249.36,253.29 L249.39,253.9 L249.43,254.5 L249.46,255.11 L249.49,255.72 L249.53,256.33 L249.57,256.93 L249.62,257.54 L249.67,258.15 L249.73,258.76 L249.78,259.36 L249.84,259.97 L249.89,260.58 L249.95,261.19 L250,261.79 L250.05,262.4 L246.35,262.4 L246.4,261.79 L246.45,261.19 L246.51,260.58 L246.56,259.97 L246.62,259.36 L246.67,258.76 L246.73,258.15 L246.78,257.54 L246.83,256.93 L246.87,256.33 L246.91,255.72 L246.94,255.11 L246.97,254.5 L247.01,253.9 L247.04,253.29 L247.07,252.68 L247.09,252.07 L247.12,251.47 L247.14,250.86 L247.16,250.25 L247.18,249.64 L247.19,249.04 L247.2,248.43 L247.2,247.82 L247.19,247.21 L247.18,246.61 L247.16,246 L247.13,245.39 L247.09,244.79 L247.05,244.18 L247.01,243.57 L246.96,242.96 L246.91,242.36 L246.85,241.75 L246.79,241.14 L246.73,240.53 L246.67,239.93 L246.6,239.32 L246.54,238.71 L246.48,238.1 L246.41,237.5 L246.35,236.89 L246.28,236.28 L246.21,235.67 L246.13,235.07 L246.05,234.46 L245.96,233.85 L245.86,233.24 L245.77,232.64 L245.67,232.03 L245.58,231.42 L245.48,230.81 L245.39,230.21 L245.3,229.6 L245.21,228.99 L245.13,228.39 L245.05,227.78 L244.97,227.17 L244.89,226.56 L244.81,225.96 L244.73,225.35 L244.66,224.74 L244.58,224.13 L244.5,223.53 L244.43,222.92 L244.35,222.31 L244.27,221.7 L244.19,221.1 L244.1,220.49 L244.02,219.88 L243.93,219.27 L243.83,218.67 L243.73,218.06 L243.63,217.45 L243.55,216.84 L243.47,216.24 L243.42,215.63 L243.37,215.02 L243.33,214.41 L243.29,213.81 L243.25,213.2Z" fill="#3D5A97" stroke="#141414" stroke-width="1.0" stroke-linejoin="round"/><line x1="243.85" y1="218.8" x2="252.55" y2="218.8" stroke="#141414" stroke-width="1.0"/><line x1="247.17" y1="250" x2="249.23" y2="250" stroke="#141414" stroke-width="0.6"/><line x1="265.8" y1="269.2" x2="265.8" y2="273.7" stroke="#222" stroke-width="1.2"/><text class="r" transform="translate(268.5,273.4) rotate(-90) scale(0.98,1)" font-size="7" text-anchor="end">Before AB</text><path d="M270.35,223 L270.19,223.62 L270.03,224.23 L269.87,224.85 L269.71,225.47 L269.55,226.08 L269.38,226.7 L269.2,227.32 L268.98,227.93 L268.73,228.55 L268.49,229.17 L268.27,229.78 L268.12,230.4 L268.05,231.02 L268.09,231.63 L268.24,232.25 L268.45,232.87 L268.71,233.48 L268.97,234.1 L269.21,234.72 L269.41,235.33 L269.63,235.95 L269.86,236.57 L270.1,237.18 L270.32,237.8 L270.51,238.42 L270.65,239.03 L270.74,239.65 L270.75,240.27 L270.73,240.88 L270.69,241.5 L270.64,242.12 L270.59,242.73 L270.52,243.35 L270.46,243.97 L270.4,244.58 L270.35,245.2 L261.25,245.2 L261.2,244.58 L261.14,243.97 L261.08,243.35 L261.01,242.73 L260.96,242.12 L260.91,241.5 L260.87,240.88 L260.85,240.27 L260.86,239.65 L260.95,239.03 L261.09,238.42 L261.28,237.8 L261.5,237.18 L261.74,236.57 L261.97,235.95 L262.19,235.33 L262.39,234.72 L262.63,234.1 L262.89,233.48 L263.15,232.87 L263.36,232.25 L263.51,231.63 L263.55,231.02 L263.48,230.4 L263.33,229.78 L263.11,229.17 L262.87,228.55 L262.62,227.93 L262.4,227.32 L262.22,226.7 L262.05,226.08 L261.89,225.47 L261.73,224.85 L261.57,224.23 L261.41,223.62 L261.25,223Z" fill="#E64B33" stroke="#141414" stroke-width="1.0" stroke-linejoin="round"/><line x1="261.95" y1="236" x2="269.65" y2="236" stroke="#141414" stroke-width="1.0"/><line x1="261.51" y1="224" x2="270.09" y2="224" stroke="#141414" stroke-width="0.6"/><line x1="282.0" y1="269.2" x2="282.0" y2="273.7" stroke="#222" stroke-width="1.2"/><text class="r" transform="translate(284.7,273.4) rotate(-90) scale(0.98,1)" font-size="7" text-anchor="end">Pre AB</text><path d="M283.95,177.2 L283.91,177.8 L283.86,178.41 L283.82,179.01 L283.78,179.62 L283.73,180.22 L283.68,180.83 L283.62,181.43 L283.57,182.04 L283.52,182.64 L283.48,183.25 L283.45,183.85 L283.44,184.46 L283.43,185.06 L283.43,185.67 L283.42,186.27 L283.41,186.88 L283.41,187.48 L283.4,188.09 L283.4,188.69 L283.4,189.3 L283.41,189.9 L283.58,190.51 L283.85,191.11 L284.14,191.72 L284.36,192.32 L284.58,192.93 L284.8,193.53 L285.01,194.14 L285.2,194.74 L285.36,195.35 L285.51,195.95 L285.64,196.56 L285.77,197.16 L285.89,197.77 L286,198.37 L286.1,198.97 L286.19,199.58 L286.28,200.18 L286.36,200.79 L286.45,201.39 L286.53,202 L286.61,202.6 L286.68,203.21 L286.74,203.81 L286.78,204.42 L286.8,205.02 L286.8,205.63 L286.79,206.23 L286.78,206.84 L286.76,207.44 L286.74,208.05 L286.71,208.65 L286.68,209.26 L286.64,209.86 L286.6,210.47 L286.56,211.07 L286.52,211.68 L286.48,212.28 L286.42,212.89 L286.34,213.49 L286.24,214.1 L286.14,214.7 L286.02,215.31 L285.9,215.91 L285.78,216.52 L285.66,217.12 L285.53,217.73 L285.42,218.33 L285.31,218.93 L285.21,219.54 L285.11,220.14 L285.01,220.75 L284.9,221.35 L284.79,221.96 L284.69,222.56 L284.59,223.17 L284.5,223.77 L284.42,224.38 L284.34,224.98 L284.28,225.59 L284.24,226.19 L284.19,226.8 L284.15,227.4 L284.11,228.01 L284.07,228.61 L284.04,229.22 L284.01,229.82 L283.99,230.43 L283.97,231.03 L283.95,231.64 L283.95,232.24 L283.95,232.85 L283.95,233.45 L283.95,234.06 L283.95,234.66 L283.95,235.27 L283.95,235.87 L283.95,236.48 L283.95,237.08 L283.95,237.69 L283.95,238.29 L283.95,238.9 L283.95,239.5 L280.05,239.5 L280.05,238.9 L280.05,238.29 L280.05,237.69 L280.05,237.08 L280.05,236.48 L280.05,235.87 L280.05,235.27 L280.05,234.66 L280.05,234.06 L280.05,233.45 L280.05,232.85 L280.05,232.24 L280.05,231.64 L280.03,231.03 L280.01,230.43 L279.99,229.82 L279.96,229.22 L279.93,228.61 L279.89,228.01 L279.85,227.4 L279.81,226.8 L279.76,226.19 L279.72,225.59 L279.66,224.98 L279.58,224.38 L279.5,223.77 L279.41,223.17 L279.31,222.56 L279.21,221.96 L279.1,221.35 L278.99,220.75 L278.89,220.14 L278.79,219.54 L278.69,218.93 L278.58,218.33 L278.47,217.73 L278.34,217.12 L278.22,216.52 L278.1,215.91 L277.98,215.31 L277.86,214.7 L277.76,214.1 L277.66,213.49 L277.58,212.89 L277.52,212.28 L277.48,211.68 L277.44,211.07 L277.4,210.47 L277.36,209.86 L277.32,209.26 L277.29,208.65 L277.26,208.05 L277.24,207.44 L277.22,206.84 L277.21,206.23 L277.2,205.63 L277.2,205.02 L277.22,204.42 L277.26,203.81 L277.32,203.21 L277.39,202.6 L277.47,202 L277.55,201.39 L277.64,200.79 L277.72,200.18 L277.81,199.58 L277.9,198.97 L278,198.37 L278.11,197.77 L278.23,197.16 L278.36,196.56 L278.49,195.95 L278.64,195.35 L278.8,194.74 L278.99,194.14 L279.2,193.53 L279.42,192.93 L279.64,192.32 L279.86,191.72 L280.15,191.11 L280.42,190.51 L280.59,189.9 L280.6,189.3 L280.6,188.69 L280.6,188.09 L280.59,187.48 L280.59,186.88 L280.58,186.27 L280.57,185.67 L280.57,185.06 L280.56,184.46 L280.55,183.85 L280.52,183.25 L280.48,182.64 L280.43,182.04 L280.38,181.43 L280.32,180.83 L280.27,180.22 L280.22,179.62 L280.18,179.01 L280.14,178.41 L280.09,177.8 L280.05,177.2Z" fill="#4CBBD8" stroke="#141414" stroke-width="1.0" stroke-linejoin="round"/><line x1="277.2" y1="205.3" x2="286.8" y2="205.3" stroke="#141414" stroke-width="1.0"/><line x1="280.6" y1="189.7" x2="283.4" y2="189.7" stroke="#141414" stroke-width="0.6"/><line x1="279.83" y1="227.1" x2="284.17" y2="227.1" stroke="#141414" stroke-width="0.6"/><line x1="298.6" y1="269.2" x2="298.6" y2="273.7" stroke="#222" stroke-width="1.2"/><text class="r" transform="translate(301.3,273.4) rotate(-90) scale(0.98,1)" font-size="7" text-anchor="end">During AB</text><path d="M300.95,246.2 L300.98,246.81 L301,247.42 L301.03,248.03 L301.07,248.64 L301.14,249.25 L301.32,249.86 L301.59,250.47 L301.9,251.08 L302.21,251.69 L302.49,252.3 L302.82,252.91 L303.16,253.52 L303.43,254.13 L303.55,254.74 L303.53,255.35 L303.49,255.96 L303.43,256.57 L303.38,257.18 L303.35,257.79 L303.35,258.4 L303.38,259.01 L303.41,259.62 L303.43,260.23 L303.45,260.84 L303.45,261.45 L303.44,262.06 L303.43,262.67 L303.42,263.28 L303.41,263.89 L303.4,264.5 L293.8,264.5 L293.79,263.89 L293.78,263.28 L293.77,262.67 L293.76,262.06 L293.75,261.45 L293.75,260.84 L293.77,260.23 L293.79,259.62 L293.82,259.01 L293.85,258.4 L293.85,257.79 L293.82,257.18 L293.77,256.57 L293.71,255.96 L293.67,255.35 L293.65,254.74 L293.77,254.13 L294.04,253.52 L294.38,252.91 L294.71,252.3 L294.99,251.69 L295.3,251.08 L295.61,250.47 L295.88,249.86 L296.06,249.25 L296.13,248.64 L296.17,248.03 L296.2,247.42 L296.22,246.81 L296.25,246.2Z" fill="#02A086" stroke="#141414" stroke-width="1.0" stroke-linejoin="round"/><line x1="293.82" y1="257.2" x2="303.38" y2="257.2" stroke="#141414" stroke-width="1.0"/><line x1="294.33" y1="253" x2="302.87" y2="253" stroke="#141414" stroke-width="0.6"/><line x1="314.8" y1="269.2" x2="314.8" y2="273.7" stroke="#222" stroke-width="1.2"/><text class="r" transform="translate(317.5,273.4) rotate(-90) scale(0.98,1)" font-size="7" text-anchor="end">Post AB</text><path d="M316.15,214.6 L316.13,215.2 L316.12,215.8 L316.1,216.41 L316.08,217.01 L316.06,217.61 L316.04,218.21 L316.02,218.81 L316,219.41 L315.98,220.02 L315.96,220.62 L315.94,221.22 L315.92,221.82 L315.9,222.42 L315.88,223.03 L315.86,223.63 L315.85,224.23 L315.84,224.83 L315.82,225.43 L315.82,226.03 L315.81,226.64 L315.8,227.24 L315.8,227.84 L315.81,228.44 L315.85,229.04 L315.94,229.64 L316.06,230.25 L316.2,230.85 L316.37,231.45 L316.55,232.05 L316.75,232.65 L316.95,233.26 L317.15,233.86 L317.35,234.46 L317.54,235.06 L317.71,235.66 L317.87,236.26 L318.04,236.87 L318.24,237.47 L318.44,238.07 L318.64,238.67 L318.84,239.27 L319.02,239.88 L319.19,240.48 L319.32,241.08 L319.43,241.68 L319.49,242.28 L319.5,242.88 L319.49,243.49 L319.47,244.09 L319.45,244.69 L319.42,245.29 L319.38,245.89 L319.35,246.49 L319.31,247.1 L319.28,247.7 L319.25,248.3 L310.35,248.3 L310.32,247.7 L310.29,247.1 L310.25,246.49 L310.22,245.89 L310.18,245.29 L310.15,244.69 L310.13,244.09 L310.11,243.49 L310.1,242.88 L310.11,242.28 L310.17,241.68 L310.28,241.08 L310.41,240.48 L310.58,239.88 L310.76,239.27 L310.96,238.67 L311.16,238.07 L311.36,237.47 L311.56,236.87 L311.73,236.26 L311.89,235.66 L312.06,235.06 L312.25,234.46 L312.45,233.86 L312.65,233.26 L312.85,232.65 L313.05,232.05 L313.23,231.45 L313.4,230.85 L313.54,230.25 L313.66,229.64 L313.75,229.04 L313.79,228.44 L313.8,227.84 L313.8,227.24 L313.79,226.64 L313.78,226.03 L313.78,225.43 L313.76,224.83 L313.75,224.23 L313.74,223.63 L313.72,223.03 L313.7,222.42 L313.68,221.82 L313.66,221.22 L313.64,220.62 L313.62,220.02 L313.6,219.41 L313.58,218.81 L313.56,218.21 L313.54,217.61 L313.52,217.01 L313.5,216.41 L313.48,215.8 L313.47,215.2 L313.45,214.6Z" fill="#3D5A97" stroke="#141414" stroke-width="1.0" stroke-linejoin="round"/><line x1="310.1" y1="242.7" x2="319.5" y2="242.7" stroke="#141414" stroke-width="1.0"/><path d="M199.7,183.4 V180.3 H215.7 V183.4" fill="none" stroke="#222" stroke-width="0.8"/><path d="M205.5,174.95L205.5,178.25M204.07,175.78L206.93,177.42M206.93,175.78L204.07,177.42" stroke="#1a1a1a" stroke-width="0.85" fill="none"/><path d="M209.7,174.95L209.7,178.25M208.27,175.78L211.13,177.42M211.13,175.78L208.27,177.42" stroke="#1a1a1a" stroke-width="0.85" fill="none"/><path d="M217.3,178.9 V175.8 H246.9 V178.9" fill="none" stroke="#222" stroke-width="0.8"/><path d="M229.9,169.95L229.9,173.25M228.47,170.78L231.33,172.42M231.33,170.78L228.47,172.42" stroke="#1a1a1a" stroke-width="0.85" fill="none"/><path d="M234.1,169.95L234.1,173.25M232.67,170.78L235.53,172.42M235.53,170.78L232.67,172.42" stroke="#1a1a1a" stroke-width="0.85" fill="none"/><path d="M265.8,169.5 V166.4 H298.2 V169.5" fill="none" stroke="#222" stroke-width="0.8"/><path d="M279.9,163.35L279.9,166.65M278.47,164.18L281.33,165.82M281.33,164.18L278.47,165.82" stroke="#1a1a1a" stroke-width="0.85" fill="none"/><path d="M284.1,163.35L284.1,166.65M282.67,164.18L285.53,165.82M285.53,164.18L282.67,165.82" stroke="#1a1a1a" stroke-width="0.85" fill="none"/><path d="M281.6,175.8 V172 H298.2 V175.8" fill="none" stroke="#222" stroke-width="0.8"/><path d="M288.2,168.55L288.2,171.85M286.77,169.38L289.63,171.02M289.63,169.38L286.77,171.02" stroke="#1a1a1a" stroke-width="0.85" fill="none"/><path d="M292.4,168.55L292.4,171.85M290.97,169.38L293.83,171.02M293.83,169.38L290.97,171.02" stroke="#1a1a1a" stroke-width="0.85" fill="none"/><path d="M298.2,211.1 V207.4 H314.8 V211.1" fill="none" stroke="#222" stroke-width="0.8"/><path d="M304.4,202.55L304.4,205.85M302.97,203.38L305.83,205.02M305.83,203.38L302.97,205.02" stroke="#1a1a1a" stroke-width="0.85" fill="none"/><path d="M308.6,202.55L308.6,205.85M307.17,203.38L310.03,205.02M310.03,203.38L307.17,205.02" stroke="#1a1a1a" stroke-width="0.85" fill="none"/></g><g><line x1="424.2" y1="157" x2="424.2" y2="269.2" stroke="#E62A1C" stroke-width="1.45" stroke-dasharray="3.6 2.1 1.2 2.8"/><path d="M354.4,157.7 V269.2 H492.8 V157.7" fill="none" stroke="#222" stroke-width="1.2"/><line x1="352.0" y1="269.2" x2="354.4" y2="269.2" stroke="#222" stroke-width="1.1"/><text transform="translate(350.5,272.1) scale(0.95,1)" font-size="7.2" text-anchor="end">0</text><line x1="352.0" y1="246.9" x2="354.4" y2="246.9" stroke="#222" stroke-width="1.1"/><text transform="translate(350.5,249.8) scale(0.95,1)" font-size="7.2" text-anchor="end">1</text><line x1="352.0" y1="224.6" x2="354.4" y2="224.6" stroke="#222" stroke-width="1.1"/><text transform="translate(350.5,227.5) scale(0.95,1)" font-size="7.2" text-anchor="end">2</text><line x1="352.0" y1="202.3" x2="354.4" y2="202.3" stroke="#222" stroke-width="1.1"/><text transform="translate(350.5,205.2) scale(0.95,1)" font-size="7.2" text-anchor="end">3</text><line x1="352.0" y1="180" x2="354.4" y2="180" stroke="#222" stroke-width="1.1"/><text transform="translate(350.5,182.9) scale(0.95,1)" font-size="7.2" text-anchor="end">4</text><line x1="352.0" y1="157.7" x2="354.4" y2="157.7" stroke="#222" stroke-width="1.1"/><text transform="translate(350.5,160.6) scale(0.95,1)" font-size="7.2" text-anchor="end">5</text><line x1="492.8" y1="269.2" x2="494.90000000000003" y2="269.2" stroke="#222" stroke-width="1.1"/><text transform="translate(496.5,272.1) scale(0.95,1)" font-size="7.2">0</text><line x1="492.8" y1="241.32" x2="494.90000000000003" y2="241.32" stroke="#222" stroke-width="1.1"/><text transform="translate(496.5,244.22) scale(0.95,1)" font-size="7.2">50</text><line x1="492.8" y1="213.45" x2="494.90000000000003" y2="213.45" stroke="#222" stroke-width="1.1"/><text transform="translate(496.5,216.35) scale(0.95,1)" font-size="7.2">100</text><line x1="492.8" y1="185.57" x2="494.90000000000003" y2="185.57" stroke="#222" stroke-width="1.1"/><text transform="translate(496.5,188.47) scale(0.95,1)" font-size="7.2">150</text><line x1="492.8" y1="157.7" x2="494.90000000000003" y2="157.7" stroke="#222" stroke-width="1.1"/><text transform="translate(496.5,160.6) scale(0.95,1)" font-size="7.2">200</text><text transform="translate(389.7,160.6) scale(0.906,1)" font-size="7.2" text-anchor="middle">Shannon Index</text><text transform="translate(457.2,159) scale(0.906,1)" font-size="7.2" text-anchor="middle">Chao 1 Index</text><line x1="365.4" y1="269.2" x2="365.4" y2="273.7" stroke="#222" stroke-width="1.2"/><text class="r" transform="translate(368.1,273.4) rotate(-90) scale(0.98,1)" font-size="7" text-anchor="end">Before AB</text><path d="M370.3,193.8 L370.29,194.4 L370.29,195 L370.28,195.6 L370.28,196.21 L370.27,196.81 L370.27,197.41 L370.26,198.01 L370.26,198.61 L370.26,199.21 L370.25,199.82 L370.25,200.42 L370.24,201.02 L370.24,201.62 L370.23,202.22 L370.23,202.82 L370.22,203.43 L370.21,204.03 L370.2,204.63 L370.19,205.23 L370.18,205.83 L370.17,206.43 L370.16,207.03 L370.14,207.64 L370.08,208.24 L369.97,208.84 L369.82,209.44 L369.63,210.04 L369.43,210.64 L369.2,211.25 L368.97,211.85 L368.74,212.45 L368.51,213.05 L368.29,213.65 L368.1,214.25 L367.93,214.85 L367.79,215.46 L367.65,216.06 L367.49,216.66 L367.34,217.26 L367.19,217.86 L367.04,218.46 L366.91,219.07 L366.78,219.67 L366.66,220.27 L366.57,220.87 L366.49,221.47 L366.43,222.07 L366.4,222.68 L366.4,223.28 L366.42,223.88 L366.45,224.48 L366.5,225.08 L366.56,225.68 L366.63,226.28 L366.7,226.89 L366.79,227.49 L366.88,228.09 L366.97,228.69 L367.07,229.29 L367.16,229.89 L367.25,230.5 L367.34,231.1 L367.42,231.7 L367.5,232.3 L363.3,232.3 L363.38,231.7 L363.46,231.1 L363.55,230.5 L363.64,229.89 L363.73,229.29 L363.83,228.69 L363.92,228.09 L364.01,227.49 L364.1,226.89 L364.17,226.28 L364.24,225.68 L364.3,225.08 L364.35,224.48 L364.38,223.88 L364.4,223.28 L364.4,222.68 L364.37,222.07 L364.31,221.47 L364.23,220.87 L364.14,220.27 L364.02,219.67 L363.89,219.07 L363.76,218.46 L363.61,217.86 L363.46,217.26 L363.31,216.66 L363.15,216.06 L363.01,215.46 L362.87,214.85 L362.7,214.25 L362.51,213.65 L362.29,213.05 L362.06,212.45 L361.83,211.85 L361.6,211.25 L361.37,210.64 L361.17,210.04 L360.98,209.44 L360.83,208.84 L360.72,208.24 L360.66,207.64 L360.64,207.03 L360.63,206.43 L360.62,205.83 L360.61,205.23 L360.6,204.63 L360.59,204.03 L360.58,203.43 L360.57,202.82 L360.57,202.22 L360.56,201.62 L360.56,201.02 L360.55,200.42 L360.55,199.82 L360.54,199.21 L360.54,198.61 L360.54,198.01 L360.53,197.41 L360.53,196.81 L360.52,196.21 L360.52,195.6 L360.51,195 L360.51,194.4 L360.5,193.8Z" fill="#E64B33" stroke="#141414" stroke-width="1.0" stroke-linejoin="round"/><line x1="360.62" y1="205.9" x2="370.18" y2="205.9" stroke="#141414" stroke-width="1.0"/><line x1="381.4" y1="269.2" x2="381.4" y2="273.7" stroke="#222" stroke-width="1.2"/><text class="r" transform="translate(384.1,273.4) rotate(-90) scale(0.98,1)" font-size="7" text-anchor="end">Pre AB</text><path d="M386.2,192.4 L386.17,193 L386.14,193.6 L386.12,194.2 L386.09,194.8 L386.06,195.4 L386.03,196 L386,196.6 L385.96,197.2 L385.92,197.8 L385.86,198.4 L385.76,199 L385.63,199.6 L385.46,200.2 L385.27,200.8 L385.07,201.4 L384.84,202 L384.6,202.6 L384.36,203.2 L384.12,203.8 L383.87,204.4 L383.64,205 L383.42,205.6 L383.22,206.2 L383.04,206.8 L382.89,207.4 L382.77,208 L382.69,208.6 L382.65,209.2 L382.66,209.8 L382.72,210.4 L382.81,211 L382.92,211.6 L383.06,212.2 L383.2,212.8 L383.35,213.4 L383.48,214 L383.59,214.6 L383.68,215.2 L383.75,215.8 L383.81,216.4 L383.87,217 L383.93,217.6 L383.98,218.2 L384.04,218.8 L384.1,219.4 L378.7,219.4 L378.76,218.8 L378.82,218.2 L378.87,217.6 L378.93,217 L378.99,216.4 L379.05,215.8 L379.12,215.2 L379.21,214.6 L379.32,214 L379.45,213.4 L379.6,212.8 L379.74,212.2 L379.88,211.6 L379.99,211 L380.08,210.4 L380.14,209.8 L380.15,209.2 L380.11,208.6 L380.03,208 L379.91,207.4 L379.76,206.8 L379.58,206.2 L379.38,205.6 L379.16,205 L378.93,204.4 L378.68,203.8 L378.44,203.2 L378.2,202.6 L377.96,202 L377.73,201.4 L377.53,200.8 L377.34,200.2 L377.17,199.6 L377.04,199 L376.94,198.4 L376.88,197.8 L376.84,197.2 L376.8,196.6 L376.77,196 L376.74,195.4 L376.71,194.8 L376.68,194.2 L376.66,193.6 L376.63,193 L376.6,192.4Z" fill="#4CBBD8" stroke="#141414" stroke-width="1.0" stroke-linejoin="round"/><line x1="376.7" y1="194.5" x2="386.1" y2="194.5" stroke="#141414" stroke-width="1.0"/><line x1="376.77" y1="196" x2="386.03" y2="196" stroke="#141414" stroke-width="0.6"/><line x1="379.02" y1="216.1" x2="383.78" y2="216.1" stroke="#141414" stroke-width="0.6"/><line x1="398.0" y1="269.2" x2="398.0" y2="273.7" stroke="#222" stroke-width="1.2"/><text class="r" transform="translate(400.7,273.4) rotate(-90) scale(0.98,1)" font-size="7" text-anchor="end">During AB</text><path d="M403,220.8 L402.82,221.41 L402.64,222.02 L402.46,222.62 L402.27,223.23 L402.06,223.84 L401.8,224.45 L401.46,225.06 L401.08,225.67 L400.7,226.28 L400.37,226.88 L400.12,227.49 L400,228.1 L399.96,228.71 L399.93,229.32 L399.9,229.93 L399.88,230.53 L399.86,231.14 L399.84,231.75 L399.83,232.36 L399.81,232.97 L399.8,233.58 L399.79,234.18 L399.77,234.79 L399.75,235.4 L396.25,235.4 L396.23,234.79 L396.21,234.18 L396.2,233.58 L396.19,232.97 L396.17,232.36 L396.16,231.75 L396.14,231.14 L396.12,230.53 L396.1,229.93 L396.07,229.32 L396.04,228.71 L396,228.1 L395.88,227.49 L395.63,226.88 L395.3,226.28 L394.92,225.67 L394.54,225.06 L394.2,224.45 L393.94,223.84 L393.73,223.23 L393.54,222.62 L393.36,222.02 L393.18,221.41 L393,220.8Z" fill="#02A086" stroke="#141414" stroke-width="1.0" stroke-linejoin="round"/><line x1="393.66" y1="223" x2="402.34" y2="223" stroke="#141414" stroke-width="1.0"/><line x1="414.0" y1="269.2" x2="414.0" y2="273.7" stroke="#222" stroke-width="1.2"/><text class="r" transform="translate(416.7,273.4) rotate(-90) scale(0.98,1)" font-size="7" text-anchor="end">Post AB</text><path d="M418.9,188.6 L418.88,189.21 L418.86,189.82 L418.85,190.43 L418.83,191.04 L418.81,191.65 L418.79,192.26 L418.76,192.87 L418.7,193.48 L418.6,194.09 L418.45,194.7 L418.27,195.31 L418.06,195.92 L417.83,196.53 L417.58,197.14 L417.33,197.75 L417.09,198.36 L416.85,198.97 L416.63,199.58 L416.44,200.19 L416.24,200.8 L416.01,201.4 L415.78,202.01 L415.56,202.62 L415.36,203.23 L415.19,203.84 L415.07,204.45 L415.01,205.06 L415,205.67 L415.02,206.28 L415.06,206.89 L415.1,207.5 L415.16,208.11 L415.23,208.72 L415.3,209.33 L415.38,209.94 L415.47,210.55 L415.55,211.16 L415.63,211.77 L415.71,212.38 L415.78,212.99 L415.85,213.6 L412.15,213.6 L412.22,212.99 L412.29,212.38 L412.37,211.77 L412.45,211.16 L412.53,210.55 L412.62,209.94 L412.7,209.33 L412.77,208.72 L412.84,208.11 L412.9,207.5 L412.94,206.89 L412.98,206.28 L413,205.67 L412.99,205.06 L412.93,204.45 L412.81,203.84 L412.64,203.23 L412.44,202.62 L412.22,202.01 L411.99,201.4 L411.76,200.8 L411.56,200.19 L411.37,199.58 L411.15,198.97 L410.91,198.36 L410.67,197.75 L410.42,197.14 L410.17,196.53 L409.94,195.92 L409.73,195.31 L409.55,194.7 L409.4,194.09 L409.3,193.48 L409.24,192.87 L409.21,192.26 L409.19,191.65 L409.17,191.04 L409.15,190.43 L409.14,189.82 L409.12,189.21 L409.1,188.6Z" fill="#3D5A97" stroke="#141414" stroke-width="1.0" stroke-linejoin="round"/><line x1="409.26" y1="193.2" x2="418.74" y2="193.2" stroke="#141414" stroke-width="1.0"/><line x1="433.0" y1="269.2" x2="433.0" y2="273.7" stroke="#222" stroke-width="1.2"/><text class="r" transform="translate(435.7,273.4) rotate(-90) scale(0.98,1)" font-size="7" text-anchor="end">Before AB</text><path d="M437.9,201.5 L437.86,202.1 L437.83,202.7 L437.8,203.3 L437.77,203.91 L437.74,204.51 L437.7,205.11 L437.67,205.71 L437.63,206.31 L437.59,206.91 L437.54,207.51 L437.49,208.11 L437.42,208.72 L437.34,209.32 L437.24,209.92 L437.14,210.52 L437.02,211.12 L436.89,211.72 L436.76,212.32 L436.62,212.93 L436.48,213.53 L436.33,214.13 L436.19,214.73 L436.05,215.33 L435.91,215.93 L435.78,216.53 L435.66,217.13 L435.55,217.74 L435.44,218.34 L435.33,218.94 L435.22,219.54 L435.1,220.14 L434.98,220.74 L434.86,221.34 L434.74,221.94 L434.63,222.55 L434.52,223.15 L434.41,223.75 L434.32,224.35 L434.23,224.95 L434.16,225.55 L434.09,226.15 L434.05,226.76 L434.01,227.36 L434,227.96 L434.01,228.56 L434.04,229.16 L434.08,229.76 L434.15,230.36 L434.23,230.96 L434.33,231.57 L434.43,232.17 L434.54,232.77 L434.66,233.37 L434.78,233.97 L434.91,234.57 L435.03,235.17 L435.14,235.77 L435.25,236.38 L435.35,236.98 L435.44,237.58 L435.52,238.18 L435.59,238.78 L435.66,239.38 L435.73,239.98 L435.79,240.59 L435.86,241.19 L435.92,241.79 L435.98,242.39 L436.04,242.99 L436.09,243.59 L436.15,244.19 L436.21,244.79 L436.27,245.4 L436.33,246 L436.39,246.6 L436.45,247.2 L429.55,247.2 L429.61,246.6 L429.67,246 L429.73,245.4 L429.79,244.79 L429.85,244.19 L429.91,243.59 L429.96,242.99 L430.02,242.39 L430.08,241.79 L430.14,241.19 L430.21,240.59 L430.27,239.98 L430.34,239.38 L430.41,238.78 L430.48,238.18 L430.56,237.58 L430.65,236.98 L430.75,236.38 L430.86,235.77 L430.97,235.17 L431.09,234.57 L431.22,233.97 L431.34,233.37 L431.46,232.77 L431.57,232.17 L431.67,231.57 L431.77,230.96 L431.85,230.36 L431.92,229.76 L431.96,229.16 L431.99,228.56 L432,227.96 L431.99,227.36 L431.95,226.76 L431.91,226.15 L431.84,225.55 L431.77,224.95 L431.68,224.35 L431.59,223.75 L431.48,223.15 L431.37,222.55 L431.26,221.94 L431.14,221.34 L431.02,220.74 L430.9,220.14 L430.78,219.54 L430.67,218.94 L430.56,218.34 L430.45,217.74 L430.34,217.13 L430.22,216.53 L430.09,215.93 L429.95,215.33 L429.81,214.73 L429.67,214.13 L429.52,213.53 L429.38,212.93 L429.24,212.32 L429.11,211.72 L428.98,211.12 L428.86,210.52 L428.76,209.92 L428.66,209.32 L428.58,208.72 L428.51,208.11 L428.46,207.51 L428.41,206.91 L428.37,206.31 L428.33,205.71 L428.3,205.11 L428.26,204.51 L428.23,203.91 L428.2,203.3 L428.17,202.7 L428.14,202.1 L428.1,201.5Z" fill="#E64B33" stroke="#141414" stroke-width="1.0" stroke-linejoin="round"/><line x1="428.48" y1="207.8" x2="437.52" y2="207.8" stroke="#141414" stroke-width="1.0"/><line x1="449.2" y1="269.2" x2="449.2" y2="273.7" stroke="#222" stroke-width="1.2"/><text class="r" transform="translate(451.9,273.4) rotate(-90) scale(0.98,1)" font-size="7" text-anchor="end">Pre AB</text><path d="M451.05,220.4 L451.06,221.02 L451.07,221.63 L451.08,222.25 L451.09,222.86 L451.09,223.48 L451.1,224.09 L451.11,224.71 L451.12,225.32 L451.13,225.94 L451.15,226.55 L451.17,227.17 L451.19,227.78 L451.24,228.4 L451.46,229.02 L451.84,229.63 L452.31,230.25 L452.82,230.86 L453.32,231.48 L453.75,232.09 L454.06,232.71 L454.2,233.32 L454.13,233.94 L453.9,234.55 L453.59,235.17 L453.25,235.78 L452.95,236.4 L445.45,236.4 L445.15,235.78 L444.81,235.17 L444.5,234.55 L444.27,233.94 L444.2,233.32 L444.34,232.71 L444.65,232.09 L445.08,231.48 L445.58,230.86 L446.09,230.25 L446.56,229.63 L446.94,229.02 L447.16,228.4 L447.21,227.78 L447.23,227.17 L447.25,226.55 L447.27,225.94 L447.28,225.32 L447.29,224.71 L447.3,224.09 L447.31,223.48 L447.31,222.86 L447.32,222.25 L447.33,221.63 L447.34,221.02 L447.35,220.4Z" fill="#4CBBD8" stroke="#141414" stroke-width="1.0" stroke-linejoin="round"/><line x1="444.2" y1="233.4" x2="454.2" y2="233.4" stroke="#141414" stroke-width="1.0"/><line x1="444.71" y1="232" x2="453.69" y2="232" stroke="#141414" stroke-width="0.6"/><line x1="465.4" y1="269.2" x2="465.4" y2="273.7" stroke="#222" stroke-width="1.2"/><text class="r" transform="translate(468.1,273.4) rotate(-90) scale(0.98,1)" font-size="7" text-anchor="end">During AB</text><path d="M467.55,241 L467.46,241.61 L467.35,242.22 L467.25,242.83 L467.18,243.44 L467.15,244.05 L467.25,244.66 L467.49,245.27 L467.81,245.88 L468.15,246.49 L468.44,247.1 L468.77,247.71 L469.14,248.32 L469.53,248.93 L469.88,249.54 L470.16,250.15 L470.32,250.76 L470.35,251.37 L470.34,251.98 L470.33,252.59 L470.31,253.2 L470.28,253.8 L470.25,254.41 L470.21,255.02 L470.17,255.63 L470.13,256.24 L470.05,256.85 L469.93,257.46 L469.79,258.07 L469.64,258.68 L469.49,259.29 L469.35,259.9 L469.22,260.51 L469.13,261.12 L469.05,261.73 L468.97,262.34 L468.92,262.95 L468.9,263.56 L468.96,264.17 L469.08,264.78 L469.22,265.39 L469.35,266 L461.45,266 L461.58,265.39 L461.72,264.78 L461.84,264.17 L461.9,263.56 L461.88,262.95 L461.83,262.34 L461.75,261.73 L461.67,261.12 L461.58,260.51 L461.45,259.9 L461.31,259.29 L461.16,258.68 L461.01,258.07 L460.87,257.46 L460.75,256.85 L460.67,256.24 L460.63,255.63 L460.59,255.02 L460.55,254.41 L460.52,253.8 L460.49,253.2 L460.47,252.59 L460.46,251.98 L460.45,251.37 L460.48,250.76 L460.64,250.15 L460.92,249.54 L461.27,248.93 L461.66,248.32 L462.03,247.71 L462.36,247.1 L462.65,246.49 L462.99,245.88 L463.31,245.27 L463.55,244.66 L463.65,244.05 L463.62,243.44 L463.55,242.83 L463.45,242.22 L463.34,241.61 L463.25,241Z" fill="#02A086" stroke="#141414" stroke-width="1.0" stroke-linejoin="round"/><line x1="460.49" y1="253" x2="470.31" y2="253" stroke="#141414" stroke-width="1.0"/><line x1="461.83" y1="262.4" x2="468.97" y2="262.4" stroke="#141414" stroke-width="0.6"/><line x1="481.4" y1="269.2" x2="481.4" y2="273.7" stroke="#222" stroke-width="1.2"/><text class="r" transform="translate(484.1,273.4) rotate(-90) scale(0.98,1)" font-size="7" text-anchor="end">Post AB</text><path d="M484.1,183.9 L484.03,184.5 L483.96,185.11 L483.88,185.72 L483.79,186.32 L483.71,186.93 L483.63,187.53 L483.56,188.13 L483.5,188.74 L483.45,189.34 L483.42,189.95 L483.4,190.56 L483.42,191.16 L483.49,191.77 L483.62,192.37 L483.79,192.97 L484,193.58 L484.24,194.19 L484.5,194.79 L484.77,195.4 L485.05,196 L485.32,196.6 L485.59,197.21 L485.84,197.81 L486.07,198.42 L486.27,199.03 L486.43,199.63 L486.54,200.24 L486.59,200.84 L486.59,201.44 L486.54,202.05 L486.45,202.66 L486.33,203.26 L486.18,203.87 L486.01,204.47 L485.82,205.07 L485.62,205.68 L485.42,206.28 L485.22,206.89 L485.03,207.5 L484.86,208.1 L484.7,208.7 L484.57,209.31 L484.47,209.91 L484.42,210.52 L484.4,211.12 L484.48,211.73 L484.63,212.33 L484.85,212.94 L485.1,213.54 L485.35,214.15 L485.59,214.75 L485.78,215.36 L485.9,215.96 L485.96,216.57 L486.01,217.17 L486.05,217.78 L486.09,218.38 L486.12,218.99 L486.16,219.59 L486.2,220.2 L476.6,220.2 L476.64,219.59 L476.68,218.99 L476.71,218.38 L476.75,217.78 L476.79,217.17 L476.84,216.57 L476.9,215.96 L477.02,215.36 L477.21,214.75 L477.45,214.15 L477.7,213.54 L477.95,212.94 L478.17,212.33 L478.32,211.73 L478.4,211.12 L478.38,210.52 L478.33,209.91 L478.23,209.31 L478.1,208.7 L477.94,208.1 L477.77,207.5 L477.58,206.89 L477.38,206.28 L477.18,205.68 L476.98,205.07 L476.79,204.47 L476.62,203.87 L476.47,203.26 L476.35,202.66 L476.26,202.05 L476.21,201.44 L476.21,200.84 L476.26,200.24 L476.37,199.63 L476.53,199.03 L476.73,198.42 L476.96,197.81 L477.21,197.21 L477.48,196.6 L477.75,196 L478.03,195.4 L478.3,194.79 L478.56,194.19 L478.8,193.58 L479.01,192.97 L479.18,192.37 L479.31,191.77 L479.38,191.16 L479.4,190.56 L479.38,189.95 L479.35,189.34 L479.3,188.74 L479.24,188.13 L479.17,187.53 L479.09,186.93 L479.01,186.32 L478.92,185.72 L478.84,185.11 L478.77,184.5 L478.7,183.9Z" fill="#3D5A97" stroke="#141414" stroke-width="1.0" stroke-linejoin="round"/><line x1="476.21" y1="201.5" x2="486.59" y2="201.5" stroke="#141414" stroke-width="1.0"/><line x1="479.15" y1="192.5" x2="483.65" y2="192.5" stroke="#141414" stroke-width="0.6"/><line x1="476.69" y1="218.8" x2="486.11" y2="218.8" stroke="#141414" stroke-width="0.6"/><path d="M380.7,191.1 V187.6 H397 V191.1" fill="none" stroke="#222" stroke-width="0.8"/><path d="M386.5,182.85L386.5,186.15M385.07,183.68L387.93,185.32M387.93,183.68L385.07,185.32" stroke="#1a1a1a" stroke-width="0.85" fill="none"/><path d="M390.7,182.85L390.7,186.15M389.27,183.68L392.13,185.32M392.13,183.68L389.27,185.32" stroke="#1a1a1a" stroke-width="0.85" fill="none"/><path d="M397,185.5 V182.4 H412.5 V185.5" fill="none" stroke="#222" stroke-width="0.8"/><path d="M402.5,177.65L402.5,180.95M401.07,178.48L403.93,180.12M403.93,178.48L401.07,180.12" stroke="#1a1a1a" stroke-width="0.85" fill="none"/><path d="M406.7,177.65L406.7,180.95M405.27,178.48L408.13,180.12M408.13,178.48L405.27,180.12" stroke="#1a1a1a" stroke-width="0.85" fill="none"/><path d="M432.5,170 V166.4 H465.4 V170" fill="none" stroke="#222" stroke-width="0.8"/><path d="M447.1,163.05L447.1,166.35M445.67,163.88L448.53,165.52M448.53,163.88L445.67,165.52" stroke="#1a1a1a" stroke-width="0.85" fill="none"/><path d="M451.3,163.05L451.3,166.35M449.87,163.88L452.73,165.52M452.73,163.88L449.87,165.52" stroke="#1a1a1a" stroke-width="0.85" fill="none"/><path d="M465.4,181.4 V178.3 H481.4 V181.4" fill="none" stroke="#222" stroke-width="0.8"/><path d="M471,174.55L471,177.85M469.57,175.38L472.43,177.02M472.43,175.38L469.57,177.02" stroke="#1a1a1a" stroke-width="0.85" fill="none"/><path d="M475.2,174.55L475.2,177.85M473.77,175.38L476.63,177.02M476.63,175.38L473.77,177.02" stroke="#1a1a1a" stroke-width="0.85" fill="none"/><path d="M448.8,215.7 V212.6 H465.4 V215.7" fill="none" stroke="#222" stroke-width="0.8"/><path d="M455,208.85L455,212.15M453.57,209.68L456.43,211.32M456.43,209.68L453.57,211.32" stroke="#1a1a1a" stroke-width="0.85" fill="none"/><path d="M459.2,208.85L459.2,212.15M457.77,209.68L460.63,211.32M460.63,209.68L457.77,211.32" stroke="#1a1a1a" stroke-width="0.85" fill="none"/></g><g><line x1="591.2" y1="157" x2="591.2" y2="269.2" stroke="#E62A1C" stroke-width="1.45" stroke-dasharray="3.6 2.1 1.2 2.8"/><path d="M520.9,157.7 V269.2 H659.8 V157.7" fill="none" stroke="#222" stroke-width="1.2"/><line x1="518.5" y1="269.2" x2="520.9" y2="269.2" stroke="#222" stroke-width="1.1"/><text transform="translate(517,272.1) scale(0.95,1)" font-size="7.2" text-anchor="end">0</text><line x1="518.5" y1="246.9" x2="520.9" y2="246.9" stroke="#222" stroke-width="1.1"/><text transform="translate(517,249.8) scale(0.95,1)" font-size="7.2" text-anchor="end">1</text><line x1="518.5" y1="224.6" x2="520.9" y2="224.6" stroke="#222" stroke-width="1.1"/><text transform="translate(517,227.5) scale(0.95,1)" font-size="7.2" text-anchor="end">2</text><line x1="518.5" y1="202.3" x2="520.9" y2="202.3" stroke="#222" stroke-width="1.1"/><text transform="translate(517,205.2) scale(0.95,1)" font-size="7.2" text-anchor="end">3</text><line x1="518.5" y1="180" x2="520.9" y2="180" stroke="#222" stroke-width="1.1"/><text transform="translate(517,182.9) scale(0.95,1)" font-size="7.2" text-anchor="end">4</text><line x1="518.5" y1="157.7" x2="520.9" y2="157.7" stroke="#222" stroke-width="1.1"/><text transform="translate(517,160.6) scale(0.95,1)" font-size="7.2" text-anchor="end">5</text><line x1="659.8" y1="269.2" x2="661.9" y2="269.2" stroke="#222" stroke-width="1.1"/><text transform="translate(663.5,272.1) scale(0.95,1)" font-size="7.2">0</text><line x1="659.8" y1="241.32" x2="661.9" y2="241.32" stroke="#222" stroke-width="1.1"/><text transform="translate(663.5,244.22) scale(0.95,1)" font-size="7.2">50</text><line x1="659.8" y1="213.45" x2="661.9" y2="213.45" stroke="#222" stroke-width="1.1"/><text transform="translate(663.5,216.35) scale(0.95,1)" font-size="7.2">100</text><line x1="659.8" y1="185.57" x2="661.9" y2="185.57" stroke="#222" stroke-width="1.1"/><text transform="translate(663.5,188.47) scale(0.95,1)" font-size="7.2">150</text><line x1="659.8" y1="157.7" x2="661.9" y2="157.7" stroke="#222" stroke-width="1.1"/><text transform="translate(663.5,160.6) scale(0.95,1)" font-size="7.2">200</text><text transform="translate(556.25,160.6) scale(0.906,1)" font-size="7.2" text-anchor="middle">Shannon Index</text><text transform="translate(624.2,159) scale(0.906,1)" font-size="7.2" text-anchor="middle">Chao 1 Index</text><line x1="531.8" y1="269.2" x2="531.8" y2="273.7" stroke="#222" stroke-width="1.2"/><text class="r" transform="translate(534.5,273.4) rotate(-90) scale(0.98,1)" font-size="7" text-anchor="end">Before AB</text><path d="M536.8,200.7 L536.69,201.3 L536.58,201.9 L536.47,202.5 L536.36,203.1 L536.25,203.7 L536.13,204.3 L536.02,204.9 L535.9,205.5 L535.78,206.1 L535.65,206.7 L535.5,207.3 L535.34,207.9 L535.17,208.5 L534.99,209.1 L534.81,209.7 L534.62,210.3 L534.43,210.9 L534.25,211.5 L534.06,212.1 L533.88,212.7 L533.71,213.3 L533.54,213.9 L533.39,214.5 L533.25,215.1 L533.13,215.7 L533.02,216.3 L532.93,216.9 L532.86,217.5 L532.82,218.1 L532.8,218.7 L532.82,219.3 L532.89,219.9 L532.99,220.5 L533.13,221.1 L533.29,221.7 L533.46,222.3 L533.64,222.9 L533.82,223.5 L533.98,224.1 L534.12,224.7 L534.23,225.3 L534.29,225.9 L534.33,226.5 L534.36,227.1 L534.38,227.7 L534.4,228.3 L534.42,228.9 L534.44,229.5 L534.46,230.1 L534.48,230.7 L534.5,231.3 L529.1,231.3 L529.12,230.7 L529.14,230.1 L529.16,229.5 L529.18,228.9 L529.2,228.3 L529.22,227.7 L529.24,227.1 L529.27,226.5 L529.31,225.9 L529.37,225.3 L529.48,224.7 L529.62,224.1 L529.78,223.5 L529.96,222.9 L530.14,222.3 L530.31,221.7 L530.47,221.1 L530.61,220.5 L530.71,219.9 L530.78,219.3 L530.8,218.7 L530.78,218.1 L530.74,217.5 L530.67,216.9 L530.58,216.3 L530.47,215.7 L530.35,215.1 L530.21,214.5 L530.06,213.9 L529.89,213.3 L529.72,212.7 L529.54,212.1 L529.35,211.5 L529.17,210.9 L528.98,210.3 L528.79,209.7 L528.61,209.1 L528.43,208.5 L528.26,207.9 L528.1,207.3 L527.95,206.7 L527.82,206.1 L527.7,205.5 L527.58,204.9 L527.47,204.3 L527.35,203.7 L527.24,203.1 L527.13,202.5 L527.02,201.9 L526.91,201.3 L526.8,200.7Z" fill="#E64B33" stroke="#141414" stroke-width="1.0" stroke-linejoin="round"/><line x1="526.95" y1="201.5" x2="536.65" y2="201.5" stroke="#141414" stroke-width="1.0"/><line x1="529.24" y1="227.1" x2="534.36" y2="227.1" stroke="#141414" stroke-width="0.6"/><line x1="548.4" y1="269.2" x2="548.4" y2="273.7" stroke="#222" stroke-width="1.2"/><text class="r" transform="translate(551.1,273.4) rotate(-90) scale(0.98,1)" font-size="7" text-anchor="end">Pre AB</text><path d="M553.2,194.2 L553.19,194.8 L553.18,195.4 L553.18,196.01 L553.17,196.61 L553.16,197.21 L553.16,197.81 L553.15,198.41 L553.15,199.01 L553.14,199.62 L553.13,200.22 L553.13,200.82 L553.12,201.42 L553.11,202.02 L553.11,202.62 L553.1,203.23 L553.09,203.83 L553.08,204.43 L553.06,205.03 L553.05,205.63 L553.03,206.24 L553.02,206.84 L553,207.44 L552.94,208.04 L552.83,208.64 L552.67,209.24 L552.47,209.85 L552.25,210.45 L552.01,211.05 L551.76,211.65 L551.51,212.25 L551.28,212.85 L551.06,213.46 L550.88,214.06 L550.71,214.66 L550.52,215.26 L550.32,215.86 L550.13,216.46 L549.95,217.07 L549.78,217.67 L549.63,218.27 L549.52,218.87 L549.44,219.47 L549.4,220.08 L549.41,220.68 L549.43,221.28 L549.48,221.88 L549.54,222.48 L549.62,223.08 L549.71,223.69 L549.8,224.29 L549.9,224.89 L550.01,225.49 L550.12,226.09 L550.22,226.69 L550.32,227.3 L550.41,227.9 L550.5,228.5 L546.3,228.5 L546.39,227.9 L546.48,227.3 L546.58,226.69 L546.68,226.09 L546.79,225.49 L546.9,224.89 L547,224.29 L547.09,223.69 L547.18,223.08 L547.26,222.48 L547.32,221.88 L547.37,221.28 L547.39,220.68 L547.4,220.08 L547.36,219.47 L547.28,218.87 L547.17,218.27 L547.02,217.67 L546.85,217.07 L546.67,216.46 L546.48,215.86 L546.28,215.26 L546.09,214.66 L545.92,214.06 L545.74,213.46 L545.52,212.85 L545.29,212.25 L545.04,211.65 L544.79,211.05 L544.55,210.45 L544.33,209.85 L544.13,209.24 L543.97,208.64 L543.86,208.04 L543.8,207.44 L543.78,206.84 L543.77,206.24 L543.75,205.63 L543.74,205.03 L543.72,204.43 L543.71,203.83 L543.7,203.23 L543.69,202.62 L543.69,202.02 L543.68,201.42 L543.67,200.82 L543.67,200.22 L543.66,199.62 L543.65,199.01 L543.65,198.41 L543.64,197.81 L543.64,197.21 L543.63,196.61 L543.62,196.01 L543.62,195.4 L543.61,194.8 L543.6,194.2Z" fill="#4CBBD8" stroke="#141414" stroke-width="1.0" stroke-linejoin="round"/><line x1="543.73" y1="204.8" x2="553.07" y2="204.8" stroke="#141414" stroke-width="1.0"/><line x1="543.62" y1="195.9" x2="553.18" y2="195.9" stroke="#141414" stroke-width="0.6"/><line x1="564.4" y1="269.2" x2="564.4" y2="273.7" stroke="#222" stroke-width="1.2"/><text class="r" transform="translate(567.1,273.4) rotate(-90) scale(0.98,1)" font-size="7" text-anchor="end">During AB</text><path d="M567.15,213.2 L567.12,213.81 L567.09,214.41 L567.06,215.02 L567.03,215.62 L567.01,216.23 L567,216.83 L567.01,217.44 L567.07,218.05 L567.16,218.65 L567.26,219.26 L567.37,219.86 L567.5,220.47 L567.68,221.07 L567.89,221.68 L568.11,222.28 L568.33,222.89 L568.52,223.5 L568.67,224.1 L568.82,224.71 L568.96,225.31 L569.1,225.92 L569.21,226.52 L569.3,227.13 L569.34,227.74 L569.34,228.34 L569.31,228.95 L569.25,229.55 L569.16,230.16 L569.07,230.76 L568.96,231.37 L568.84,231.97 L568.73,232.58 L568.62,233.19 L568.49,233.79 L568.36,234.4 L568.21,235 L568.05,235.61 L567.88,236.21 L567.72,236.82 L567.55,237.43 L567.38,238.03 L567.22,238.64 L567.07,239.24 L566.93,239.85 L566.8,240.45 L566.66,241.06 L566.51,241.66 L566.36,242.27 L566.22,242.88 L566.08,243.48 L565.95,244.09 L565.84,244.69 L565.75,245.3 L565.69,245.9 L565.65,246.51 L565.65,247.12 L565.66,247.72 L565.68,248.33 L565.71,248.93 L565.74,249.54 L565.78,250.14 L565.82,250.75 L565.86,251.35 L565.9,251.96 L565.94,252.57 L566,253.17 L566.07,253.78 L566.14,254.38 L566.21,254.99 L566.28,255.59 L566.35,256.2 L562.45,256.2 L562.52,255.59 L562.59,254.99 L562.66,254.38 L562.73,253.78 L562.8,253.17 L562.86,252.57 L562.9,251.96 L562.94,251.35 L562.98,250.75 L563.02,250.14 L563.06,249.54 L563.09,248.93 L563.12,248.33 L563.14,247.72 L563.15,247.12 L563.15,246.51 L563.11,245.9 L563.05,245.3 L562.96,244.69 L562.85,244.09 L562.72,243.48 L562.58,242.88 L562.44,242.27 L562.29,241.66 L562.14,241.06 L562,240.45 L561.87,239.85 L561.73,239.24 L561.58,238.64 L561.42,238.03 L561.25,237.43 L561.08,236.82 L560.92,236.21 L560.75,235.61 L560.59,235 L560.44,234.4 L560.31,233.79 L560.18,233.19 L560.07,232.58 L559.96,231.97 L559.84,231.37 L559.73,230.76 L559.64,230.16 L559.55,229.55 L559.49,228.95 L559.46,228.34 L559.46,227.74 L559.5,227.13 L559.59,226.52 L559.7,225.92 L559.84,225.31 L559.98,224.71 L560.13,224.1 L560.28,223.5 L560.47,222.89 L560.69,222.28 L560.91,221.68 L561.12,221.07 L561.3,220.47 L561.43,219.86 L561.54,219.26 L561.64,218.65 L561.73,218.05 L561.79,217.44 L561.8,216.83 L561.79,216.23 L561.77,215.62 L561.74,215.02 L561.71,214.41 L561.68,213.81 L561.65,213.2Z" fill="#02A086" stroke="#141414" stroke-width="1.0" stroke-linejoin="round"/><line x1="559.46" y1="227.7" x2="569.34" y2="227.7" stroke="#141414" stroke-width="1.0"/><line x1="561.36" y1="220.2" x2="567.44" y2="220.2" stroke="#141414" stroke-width="0.6"/><line x1="580.7" y1="269.2" x2="580.7" y2="273.7" stroke="#222" stroke-width="1.2"/><text class="r" transform="translate(583.4,273.4) rotate(-90) scale(0.98,1)" font-size="7" text-anchor="end">Post AB</text><path d="M585.6,196.5 L585.59,197.1 L585.59,197.7 L585.58,198.3 L585.57,198.91 L585.57,199.51 L585.56,200.11 L585.56,200.71 L585.55,201.31 L585.55,201.91 L585.54,202.52 L585.54,203.12 L585.53,203.72 L585.52,204.32 L585.52,204.92 L585.51,205.52 L585.5,206.13 L585.49,206.73 L585.48,207.33 L585.46,207.93 L585.45,208.53 L585.39,209.13 L585.28,209.73 L585.14,210.34 L584.96,210.94 L584.75,211.54 L584.53,212.14 L584.29,212.74 L584.06,213.34 L583.83,213.95 L583.61,214.55 L583.42,215.15 L583.26,215.75 L583.12,216.35 L582.99,216.95 L582.85,217.56 L582.71,218.16 L582.58,218.76 L582.45,219.36 L582.32,219.96 L582.2,220.56 L582.08,221.17 L581.98,221.77 L581.89,222.37 L581.82,222.97 L581.76,223.57 L581.72,224.17 L581.7,224.77 L581.7,225.38 L581.72,225.98 L581.76,226.58 L581.8,227.18 L581.86,227.78 L581.93,228.38 L582.01,228.99 L582.1,229.59 L582.19,230.19 L582.28,230.79 L582.37,231.39 L582.46,231.99 L582.56,232.6 L582.64,233.2 L582.73,233.8 L582.8,234.4 L578.6,234.4 L578.67,233.8 L578.76,233.2 L578.84,232.6 L578.94,231.99 L579.03,231.39 L579.12,230.79 L579.21,230.19 L579.3,229.59 L579.39,228.99 L579.47,228.38 L579.54,227.78 L579.6,227.18 L579.64,226.58 L579.68,225.98 L579.7,225.38 L579.7,224.77 L579.68,224.17 L579.64,223.57 L579.58,222.97 L579.51,222.37 L579.42,221.77 L579.32,221.17 L579.2,220.56 L579.08,219.96 L578.95,219.36 L578.82,218.76 L578.69,218.16 L578.55,217.56 L578.41,216.95 L578.28,216.35 L578.14,215.75 L577.98,215.15 L577.79,214.55 L577.57,213.95 L577.34,213.34 L577.11,212.74 L576.87,212.14 L576.65,211.54 L576.44,210.94 L576.26,210.34 L576.12,209.73 L576.01,209.13 L575.95,208.53 L575.94,207.93 L575.92,207.33 L575.91,206.73 L575.9,206.13 L575.89,205.52 L575.88,204.92 L575.88,204.32 L575.87,203.72 L575.86,203.12 L575.86,202.52 L575.85,201.91 L575.85,201.31 L575.84,200.71 L575.84,200.11 L575.83,199.51 L575.83,198.91 L575.82,198.3 L575.81,197.7 L575.81,197.1 L575.8,196.5Z" fill="#3D5A97" stroke="#141414" stroke-width="1.0" stroke-linejoin="round"/><line x1="575.95" y1="208.4" x2="585.45" y2="208.4" stroke="#141414" stroke-width="1.0"/><line x1="600.0" y1="269.2" x2="600.0" y2="273.7" stroke="#222" stroke-width="1.2"/><text class="r" transform="translate(602.7,273.4) rotate(-90) scale(0.98,1)" font-size="7" text-anchor="end">Before AB</text><path d="M602.55,213.6 L602.44,214.21 L602.32,214.81 L602.2,215.42 L602.1,216.02 L602.03,216.63 L602,217.23 L602.02,217.84 L602.07,218.45 L602.15,219.05 L602.24,219.66 L602.35,220.26 L602.47,220.87 L602.63,221.47 L602.87,222.08 L603.16,222.69 L603.48,223.29 L603.8,223.9 L604.07,224.5 L604.28,225.11 L604.47,225.71 L604.66,226.32 L604.82,226.93 L604.92,227.53 L604.95,228.14 L604.93,228.74 L604.88,229.35 L604.82,229.95 L604.75,230.56 L604.68,231.17 L604.59,231.77 L604.47,232.38 L604.35,232.98 L604.21,233.59 L604.08,234.19 L603.95,234.8 L596.05,234.8 L595.92,234.19 L595.79,233.59 L595.65,232.98 L595.53,232.38 L595.41,231.77 L595.32,231.17 L595.25,230.56 L595.18,229.95 L595.12,229.35 L595.07,228.74 L595.05,228.14 L595.08,227.53 L595.18,226.93 L595.34,226.32 L595.53,225.71 L595.72,225.11 L595.93,224.5 L596.2,223.9 L596.52,223.29 L596.84,222.69 L597.13,222.08 L597.37,221.47 L597.53,220.87 L597.65,220.26 L597.76,219.66 L597.85,219.05 L597.93,218.45 L597.98,217.84 L598,217.23 L597.97,216.63 L597.9,216.02 L597.8,215.42 L597.68,214.81 L597.56,214.21 L597.45,213.6Z" fill="#E64B33" stroke="#141414" stroke-width="1.0" stroke-linejoin="round"/><line x1="595.1" y1="229.2" x2="604.9" y2="229.2" stroke="#141414" stroke-width="1.0"/><line x1="597.85" y1="215.7" x2="602.15" y2="215.7" stroke="#141414" stroke-width="0.6"/><line x1="595.51" y1="232.3" x2="604.49" y2="232.3" stroke="#141414" stroke-width="0.6"/><line x1="615.8" y1="269.2" x2="615.8" y2="273.7" stroke="#222" stroke-width="1.2"/><text class="r" transform="translate(618.5,273.4) rotate(-90) scale(0.98,1)" font-size="7" text-anchor="end">Pre AB</text><path d="M619.95,192.4 L620.02,193.01 L620.11,193.61 L620.2,194.22 L620.29,194.82 L620.38,195.43 L620.47,196.03 L620.54,196.64 L620.61,197.25 L620.66,197.85 L620.69,198.46 L620.7,199.06 L620.69,199.67 L620.67,200.27 L620.63,200.88 L620.58,201.48 L620.52,202.09 L620.45,202.7 L620.37,203.3 L620.29,203.91 L620.2,204.51 L620.1,205.12 L620,205.72 L619.9,206.33 L619.8,206.94 L619.69,207.54 L619.59,208.15 L619.49,208.75 L619.4,209.36 L619.31,209.96 L619.21,210.57 L619.11,211.17 L618.99,211.78 L618.87,212.39 L618.74,212.99 L618.61,213.6 L618.47,214.2 L618.34,214.81 L618.2,215.41 L618.07,216.02 L617.94,216.63 L617.82,217.23 L617.71,217.84 L617.61,218.44 L617.51,219.05 L617.44,219.65 L617.38,220.26 L617.33,220.86 L617.31,221.47 L617.3,222.08 L617.33,222.68 L617.41,223.29 L617.51,223.89 L617.63,224.5 L617.78,225.1 L617.95,225.71 L618.12,226.32 L618.3,226.92 L618.47,227.53 L618.64,228.13 L618.79,228.74 L618.93,229.34 L619.04,229.95 L619.14,230.55 L619.22,231.16 L619.3,231.77 L619.38,232.37 L619.45,232.98 L619.53,233.58 L619.6,234.19 L619.67,234.79 L619.75,235.4 L611.85,235.4 L611.93,234.79 L612,234.19 L612.07,233.58 L612.15,232.98 L612.22,232.37 L612.3,231.77 L612.38,231.16 L612.46,230.55 L612.56,229.95 L612.67,229.34 L612.81,228.74 L612.96,228.13 L613.13,227.53 L613.3,226.92 L613.48,226.32 L613.65,225.71 L613.82,225.1 L613.97,224.5 L614.09,223.89 L614.19,223.29 L614.27,222.68 L614.3,222.08 L614.29,221.47 L614.27,220.86 L614.22,220.26 L614.16,219.65 L614.09,219.05 L613.99,218.44 L613.89,217.84 L613.78,217.23 L613.66,216.63 L613.53,216.02 L613.4,215.41 L613.26,214.81 L613.13,214.2 L612.99,213.6 L612.86,212.99 L612.73,212.39 L612.61,211.78 L612.49,211.17 L612.39,210.57 L612.29,209.96 L612.2,209.36 L612.11,208.75 L612.01,208.15 L611.91,207.54 L611.8,206.94 L611.7,206.33 L611.6,205.72 L611.5,205.12 L611.4,204.51 L611.31,203.91 L611.23,203.3 L611.15,202.7 L611.08,202.09 L611.02,201.48 L610.97,200.88 L610.93,200.27 L610.91,199.67 L610.9,199.06 L610.91,198.46 L610.94,197.85 L610.99,197.25 L611.06,196.64 L611.13,196.03 L611.22,195.43 L611.31,194.82 L611.4,194.22 L611.49,193.61 L611.58,193.01 L611.65,192.4Z" fill="#4CBBD8" stroke="#141414" stroke-width="1.0" stroke-linejoin="round"/><line x1="611.53" y1="205.3" x2="620.07" y2="205.3" stroke="#141414" stroke-width="1.0"/><line x1="611.3" y1="194.9" x2="620.3" y2="194.9" stroke="#141414" stroke-width="0.6"/><line x1="612.46" y1="230.6" x2="619.14" y2="230.6" stroke="#141414" stroke-width="0.6"/><line x1="632.4" y1="269.2" x2="632.4" y2="273.7" stroke="#222" stroke-width="1.2"/><text class="r" transform="translate(635.1,273.4) rotate(-90) scale(0.98,1)" font-size="7" text-anchor="end">During AB</text><path d="M636.9,248.5 L636.65,249.11 L636.36,249.73 L636.06,250.34 L635.75,250.96 L635.45,251.57 L635.16,252.19 L634.9,252.8 L634.68,253.42 L634.52,254.03 L634.42,254.65 L634.41,255.26 L634.61,255.88 L634.99,256.49 L635.49,257.11 L636.03,257.72 L636.53,258.34 L636.91,258.95 L637.09,259.57 L637.08,260.18 L637.02,260.8 L636.92,261.41 L636.79,262.03 L636.65,262.64 L636.49,263.26 L636.33,263.87 L636.18,264.49 L636.05,265.1 L628.75,265.1 L628.62,264.49 L628.47,263.87 L628.31,263.26 L628.15,262.64 L628.01,262.03 L627.88,261.41 L627.78,260.8 L627.72,260.18 L627.71,259.57 L627.89,258.95 L628.27,258.34 L628.77,257.72 L629.31,257.11 L629.81,256.49 L630.19,255.88 L630.39,255.26 L630.38,254.65 L630.28,254.03 L630.12,253.42 L629.9,252.8 L629.64,252.19 L629.35,251.57 L629.05,250.96 L628.74,250.34 L628.44,249.73 L628.15,249.11 L627.9,248.5Z" fill="#02A086" stroke="#141414" stroke-width="1.0" stroke-linejoin="round"/><line x1="627.76" y1="259.3" x2="637.04" y2="259.3" stroke="#141414" stroke-width="1.0"/><line x1="628.35" y1="263.4" x2="636.45" y2="263.4" stroke="#141414" stroke-width="0.6"/><line x1="648.4" y1="269.2" x2="648.4" y2="273.7" stroke="#222" stroke-width="1.2"/><text class="r" transform="translate(651.1,273.4) rotate(-90) scale(0.98,1)" font-size="7" text-anchor="end">Post AB</text><path d="M651.05,194.5 L650.9,195.11 L650.72,195.71 L650.54,196.32 L650.37,196.92 L650.24,197.53 L650.16,198.13 L650.15,198.74 L650.16,199.34 L650.19,199.95 L650.22,200.56 L650.26,201.16 L650.31,201.77 L650.37,202.37 L650.43,202.98 L650.49,203.58 L650.56,204.19 L650.63,204.79 L650.7,205.4 L650.79,206.01 L650.91,206.61 L651.03,207.22 L651.17,207.82 L651.32,208.43 L651.47,209.03 L651.62,209.64 L651.77,210.24 L651.91,210.85 L652.04,211.46 L652.16,212.06 L652.28,212.67 L652.41,213.27 L652.54,213.88 L652.68,214.48 L652.81,215.09 L652.94,215.69 L653.05,216.3 L653.16,216.91 L653.24,217.51 L653.3,218.12 L653.34,218.72 L653.35,219.33 L653.35,219.93 L653.35,220.54 L653.35,221.14 L653.35,221.75 L653.35,222.36 L653.35,222.96 L653.35,223.57 L653.35,224.17 L653.35,224.78 L653.35,225.38 L653.35,225.99 L653.35,226.59 L653.35,227.2 L653.35,227.81 L653.35,228.41 L653.35,229.02 L653.35,229.62 L653.35,230.23 L653.35,230.83 L653.35,231.44 L653.35,232.04 L653.35,232.65 L653.35,233.26 L653.35,233.86 L653.35,234.47 L653.35,235.07 L653.35,235.68 L653.35,236.28 L653.35,236.89 L653.35,237.49 L653.35,238.1 L643.45,238.1 L643.45,237.49 L643.45,236.89 L643.45,236.28 L643.45,235.68 L643.45,235.07 L643.45,234.47 L643.45,233.86 L643.45,233.26 L643.45,232.65 L643.45,232.04 L643.45,231.44 L643.45,230.83 L643.45,230.23 L643.45,229.62 L643.45,229.02 L643.45,228.41 L643.45,227.81 L643.45,227.2 L643.45,226.59 L643.45,225.99 L643.45,225.38 L643.45,224.78 L643.45,224.17 L643.45,223.57 L643.45,222.96 L643.45,222.36 L643.45,221.75 L643.45,221.14 L643.45,220.54 L643.45,219.93 L643.45,219.33 L643.46,218.72 L643.5,218.12 L643.56,217.51 L643.64,216.91 L643.75,216.3 L643.86,215.69 L643.99,215.09 L644.12,214.48 L644.26,213.88 L644.39,213.27 L644.52,212.67 L644.64,212.06 L644.76,211.46 L644.89,210.85 L645.03,210.24 L645.18,209.64 L645.33,209.03 L645.48,208.43 L645.63,207.82 L645.77,207.22 L645.89,206.61 L646.01,206.01 L646.1,205.4 L646.17,204.79 L646.24,204.19 L646.31,203.58 L646.37,202.98 L646.43,202.37 L646.49,201.77 L646.54,201.16 L646.58,200.56 L646.61,199.95 L646.64,199.34 L646.65,198.74 L646.64,198.13 L646.56,197.53 L646.43,196.92 L646.26,196.32 L646.08,195.71 L645.9,195.11 L645.75,194.5Z" fill="#3D5A97" stroke="#141414" stroke-width="1.0" stroke-linejoin="round"/><line x1="643.45" y1="223.1" x2="653.35" y2="223.1" stroke="#141414" stroke-width="1.0"/><line x1="643.45" y1="235" x2="653.35" y2="235" stroke="#141414" stroke-width="0.6"/><path d="M599.5,170 V166.4 H632.4 V170" fill="none" stroke="#222" stroke-width="0.8"/><path d="M614.1,163.05L614.1,166.35M612.67,163.88L615.53,165.52M615.53,163.88L612.67,165.52" stroke="#1a1a1a" stroke-width="0.85" fill="none"/><path d="M618.3,163.05L618.3,166.35M616.87,163.88L619.73,165.52M619.73,163.88L616.87,165.52" stroke="#1a1a1a" stroke-width="0.85" fill="none"/><path d="M616.6,185.5 V182 H632.4 V185.5" fill="none" stroke="#222" stroke-width="0.8"/><path d="M622.4,177.65L622.4,180.95M620.97,178.48L623.83,180.12M623.83,178.48L620.97,180.12" stroke="#1a1a1a" stroke-width="0.85" fill="none"/><path d="M626.6,177.65L626.6,180.95M625.17,178.48L628.03,180.12M628.03,178.48L625.17,180.12" stroke="#1a1a1a" stroke-width="0.85" fill="none"/><path d="M632.4,192.8 V189.7 H648.4 V192.8" fill="none" stroke="#222" stroke-width="0.8"/><path d="M638.6,185.95L638.6,189.25M637.17,186.78L640.03,188.42M640.03,186.78L637.17,188.42" stroke="#1a1a1a" stroke-width="0.85" fill="none"/><path d="M642.8,185.95L642.8,189.25M641.37,186.78L644.23,188.42M644.23,186.78L641.37,188.42" stroke="#1a1a1a" stroke-width="0.85" fill="none"/></g><g><line x1="90.2" y1="330.7" x2="90.2" y2="443.4" stroke="#E62A1C" stroke-width="1.45" stroke-dasharray="3.6 2.1 1.2 2.8"/><path d="M25.3,331.4 V443.4 H160.7 V331.4" fill="none" stroke="#222" stroke-width="1.2"/><line x1="22.900000000000002" y1="443.4" x2="25.3" y2="443.4" stroke="#222" stroke-width="1.1"/><text transform="translate(21.4,446.3) scale(0.95,1)" font-size="7.2" text-anchor="end">0</text><line x1="22.900000000000002" y1="415.4" x2="25.3" y2="415.4" stroke="#222" stroke-width="1.1"/><text transform="translate(21.4,418.3) scale(0.95,1)" font-size="7.2" text-anchor="end">2</text><line x1="22.900000000000002" y1="387.4" x2="25.3" y2="387.4" stroke="#222" stroke-width="1.1"/><text transform="translate(21.4,390.3) scale(0.95,1)" font-size="7.2" text-anchor="end">4</text><line x1="22.900000000000002" y1="359.4" x2="25.3" y2="359.4" stroke="#222" stroke-width="1.1"/><text transform="translate(21.4,362.3) scale(0.95,1)" font-size="7.2" text-anchor="end">6</text><line x1="22.900000000000002" y1="331.4" x2="25.3" y2="331.4" stroke="#222" stroke-width="1.1"/><text transform="translate(21.4,334.3) scale(0.95,1)" font-size="7.2" text-anchor="end">8</text><line x1="160.7" y1="443.4" x2="162.79999999999998" y2="443.4" stroke="#222" stroke-width="1.1"/><text transform="translate(164.4,446.3) scale(0.95,1)" font-size="7.2">0</text><line x1="160.7" y1="415.4" x2="162.79999999999998" y2="415.4" stroke="#222" stroke-width="1.1"/><text transform="translate(164.4,418.3) scale(0.95,1)" font-size="7.2">1000</text><line x1="160.7" y1="387.4" x2="162.79999999999998" y2="387.4" stroke="#222" stroke-width="1.1"/><text transform="translate(164.4,390.3) scale(0.95,1)" font-size="7.2">2000</text><line x1="160.7" y1="359.4" x2="162.79999999999998" y2="359.4" stroke="#222" stroke-width="1.1"/><text transform="translate(164.4,362.3) scale(0.95,1)" font-size="7.2">3000</text><line x1="160.7" y1="331.4" x2="162.79999999999998" y2="331.4" stroke="#222" stroke-width="1.1"/><text transform="translate(164.4,334.3) scale(0.95,1)" font-size="7.2">4000</text><text transform="translate(60,334.3) scale(0.906,1)" font-size="7.2" text-anchor="middle">Shannon Index</text><text transform="translate(125.3,332.7) scale(0.906,1)" font-size="7.2" text-anchor="middle">Chao 1 Index</text><line x1="35.6" y1="443.4" x2="35.6" y2="446.59999999999997" stroke="#222" stroke-width="1.2"/><text transform="translate(35.6,454.3) scale(0.93,1)" font-size="7.2" text-anchor="middle">HS</text><path d="M40.6,366.8 L40.57,367.4 L40.55,368.01 L40.52,368.61 L40.5,369.21 L40.47,369.82 L40.45,370.42 L40.41,371.03 L40.38,371.63 L40.33,372.23 L40.26,372.84 L40.17,373.44 L40.07,374.04 L39.94,374.65 L39.81,375.25 L39.66,375.86 L39.51,376.46 L39.35,377.06 L39.19,377.67 L39.03,378.27 L38.87,378.87 L38.72,379.48 L38.58,380.08 L38.43,380.69 L38.26,381.29 L38.08,381.89 L37.89,382.5 L37.71,383.1 L37.54,383.7 L37.39,384.31 L37.26,384.91 L37.16,385.51 L37.11,386.12 L37.1,386.72 L37.13,387.33 L37.18,387.93 L37.25,388.53 L37.34,389.14 L37.44,389.74 L37.55,390.34 L37.66,390.95 L37.76,391.55 L37.87,392.16 L37.96,392.76 L38.04,393.36 L38.1,393.97 L38.14,394.57 L38.18,395.17 L38.22,395.78 L38.25,396.38 L38.28,396.99 L38.31,397.59 L38.34,398.19 L38.37,398.8 L38.4,399.4 L32.8,399.4 L32.83,398.8 L32.86,398.19 L32.89,397.59 L32.92,396.99 L32.95,396.38 L32.98,395.78 L33.02,395.17 L33.06,394.57 L33.1,393.97 L33.16,393.36 L33.24,392.76 L33.33,392.16 L33.44,391.55 L33.54,390.95 L33.65,390.34 L33.76,389.74 L33.86,389.14 L33.95,388.53 L34.02,387.93 L34.07,387.33 L34.1,386.72 L34.09,386.12 L34.04,385.51 L33.94,384.91 L33.81,384.31 L33.66,383.7 L33.49,383.1 L33.31,382.5 L33.12,381.89 L32.94,381.29 L32.77,380.69 L32.62,380.08 L32.48,379.48 L32.33,378.87 L32.17,378.27 L32.01,377.67 L31.85,377.06 L31.69,376.46 L31.54,375.86 L31.39,375.25 L31.26,374.65 L31.13,374.04 L31.03,373.44 L30.94,372.84 L30.87,372.23 L30.82,371.63 L30.79,371.03 L30.75,370.42 L30.73,369.82 L30.7,369.21 L30.68,368.61 L30.65,368.01 L30.63,367.4 L30.6,366.8Z" fill="#E64B33" stroke="#141414" stroke-width="1.0" stroke-linejoin="round"/><line x1="31.6" y1="376.1" x2="39.6" y2="376.1" stroke="#141414" stroke-width="1.0"/><line x1="30.68" y1="368.8" x2="40.52" y2="368.8" stroke="#141414" stroke-width="0.6"/><line x1="33.04" y1="394.8" x2="38.16" y2="394.8" stroke="#141414" stroke-width="0.6"/><line x1="52.2" y1="443.4" x2="52.2" y2="446.59999999999997" stroke="#222" stroke-width="1.2"/><text transform="translate(52.2,454.3) scale(0.93,1)" font-size="7.2" text-anchor="middle">JFZ</text><path d="M56.15,378.6 L56.33,379.21 L56.51,379.82 L56.69,380.43 L56.85,381.04 L56.98,381.65 L57.1,382.26 L57.22,382.87 L57.32,383.48 L57.39,384.09 L57.39,384.7 L57.23,385.31 L56.95,385.92 L56.6,386.53 L56.26,387.14 L55.99,387.76 L55.86,388.37 L55.87,388.98 L55.95,389.59 L56.07,390.2 L56.21,390.81 L56.36,391.42 L56.5,392.03 L56.6,392.64 L56.65,393.25 L56.62,393.86 L56.52,394.47 L56.36,395.08 L56.2,395.69 L56.05,396.3 L48.35,396.3 L48.2,395.69 L48.04,395.08 L47.88,394.47 L47.78,393.86 L47.75,393.25 L47.8,392.64 L47.9,392.03 L48.04,391.42 L48.19,390.81 L48.33,390.2 L48.45,389.59 L48.53,388.98 L48.54,388.37 L48.41,387.76 L48.14,387.14 L47.8,386.53 L47.45,385.92 L47.17,385.31 L47.01,384.7 L47.01,384.09 L47.08,383.48 L47.18,382.87 L47.3,382.26 L47.42,381.65 L47.55,381.04 L47.71,380.43 L47.89,379.82 L48.07,379.21 L48.25,378.6Z" fill="#4CBBD8" stroke="#141414" stroke-width="1.0" stroke-linejoin="round"/><line x1="47.78" y1="386.5" x2="56.62" y2="386.5" stroke="#141414" stroke-width="1.0"/><line x1="47.43" y1="381.6" x2="56.97" y2="381.6" stroke="#141414" stroke-width="0.6"/><line x1="47.87" y1="394.4" x2="56.53" y2="394.4" stroke="#141414" stroke-width="0.6"/><line x1="68.2" y1="443.4" x2="68.2" y2="446.59999999999997" stroke="#222" stroke-width="1.2"/><text transform="translate(68.2,454.3) scale(0.93,1)" font-size="7.2" text-anchor="middle">SH</text><path d="M70.15,373.3 L70.12,373.92 L70.08,374.54 L70.04,375.16 L70.01,375.78 L69.98,376.4 L69.96,377.02 L69.95,377.63 L70.04,378.25 L70.24,378.87 L70.49,379.49 L70.74,380.11 L71.04,380.73 L71.38,381.35 L71.72,381.97 L72.03,382.59 L72.27,383.21 L72.51,383.83 L72.73,384.45 L72.93,385.07 L73.07,385.68 L73.15,386.3 L73.13,386.92 L73.05,387.54 L72.94,388.16 L72.81,388.78 L72.7,389.4 L63.7,389.4 L63.59,388.78 L63.46,388.16 L63.35,387.54 L63.27,386.92 L63.25,386.3 L63.33,385.68 L63.47,385.07 L63.67,384.45 L63.89,383.83 L64.13,383.21 L64.37,382.59 L64.68,381.97 L65.02,381.35 L65.36,380.73 L65.66,380.11 L65.91,379.49 L66.16,378.87 L66.36,378.25 L66.45,377.63 L66.44,377.02 L66.42,376.4 L66.39,375.78 L66.36,375.16 L66.32,374.54 L66.28,373.92 L66.25,373.3Z" fill="#02A086" stroke="#141414" stroke-width="1.0" stroke-linejoin="round"/><line x1="63.27" y1="386.9" x2="73.13" y2="386.9" stroke="#141414" stroke-width="1.0"/><line x1="84.4" y1="443.4" x2="84.4" y2="446.59999999999997" stroke="#222" stroke-width="1.2"/><text transform="translate(84.4,454.3) scale(0.93,1)" font-size="7.2" text-anchor="middle">XH</text><path d="M87.35,376.6 L87.68,377.21 L88.03,377.82 L88.54,378.43 L89.2,379.03 L89.5,379.64 L89.26,380.25 L88.8,380.86 L88.41,381.47 L88.21,382.07 L88.05,382.68 L87.9,383.29 L87.75,383.9 L81.05,383.9 L80.9,383.29 L80.75,382.68 L80.59,382.07 L80.39,381.47 L80,380.86 L79.54,380.25 L79.3,379.64 L79.6,379.03 L80.26,378.43 L80.77,377.82 L81.12,377.21 L81.45,376.6Z" fill="#3D5A97" stroke="#141414" stroke-width="1.0" stroke-linejoin="round"/><line x1="79.58" y1="380.3" x2="89.22" y2="380.3" stroke="#141414" stroke-width="1.0"/><line x1="100.9" y1="443.4" x2="100.9" y2="446.59999999999997" stroke="#222" stroke-width="1.2"/><text transform="translate(100.9,454.3) scale(0.93,1)" font-size="7.2" text-anchor="middle">HS</text><path d="M105.6,380.9 L105.6,381.5 L105.59,382.1 L105.59,382.7 L105.59,383.3 L105.58,383.9 L105.58,384.5 L105.58,385.1 L105.58,385.7 L105.58,386.3 L105.57,386.9 L105.57,387.5 L105.57,388.1 L105.57,388.7 L105.56,389.3 L105.56,389.9 L105.56,390.5 L105.55,391.1 L105.55,391.7 L105.55,392.3 L105.54,392.9 L105.54,393.5 L105.53,394.1 L105.53,394.7 L105.52,395.3 L105.51,395.9 L105.51,396.5 L105.49,397.1 L105.43,397.7 L105.32,398.3 L105.17,398.9 L104.98,399.5 L104.76,400.1 L104.53,400.7 L104.29,401.3 L104.06,401.9 L103.84,402.5 L103.64,403.1 L103.47,403.7 L103.34,404.3 L103.2,404.9 L103.06,405.5 L102.93,406.1 L102.79,406.7 L102.67,407.3 L102.55,407.9 L102.44,408.5 L102.34,409.1 L102.26,409.7 L102.2,410.3 L102.16,410.9 L102.15,411.5 L102.17,412.1 L102.21,412.7 L102.28,413.3 L102.36,413.9 L102.46,414.5 L102.56,415.1 L102.65,415.7 L102.74,416.3 L102.82,416.9 L102.87,417.5 L102.9,418.1 L102.92,418.7 L102.94,419.3 L102.95,419.9 L102.96,420.5 L102.97,421.1 L102.98,421.7 L102.99,422.3 L103,422.9 L98.8,422.9 L98.81,422.3 L98.82,421.7 L98.83,421.1 L98.84,420.5 L98.85,419.9 L98.86,419.3 L98.88,418.7 L98.9,418.1 L98.93,417.5 L98.98,416.9 L99.06,416.3 L99.15,415.7 L99.24,415.1 L99.34,414.5 L99.44,413.9 L99.52,413.3 L99.59,412.7 L99.63,412.1 L99.65,411.5 L99.64,410.9 L99.6,410.3 L99.54,409.7 L99.46,409.1 L99.36,408.5 L99.25,407.9 L99.13,407.3 L99.01,406.7 L98.87,406.1 L98.74,405.5 L98.6,404.9 L98.46,404.3 L98.33,403.7 L98.16,403.1 L97.96,402.5 L97.74,401.9 L97.51,401.3 L97.27,400.7 L97.04,400.1 L96.82,399.5 L96.63,398.9 L96.48,398.3 L96.37,397.7 L96.31,397.1 L96.29,396.5 L96.29,395.9 L96.28,395.3 L96.27,394.7 L96.27,394.1 L96.26,393.5 L96.26,392.9 L96.25,392.3 L96.25,391.7 L96.25,391.1 L96.24,390.5 L96.24,389.9 L96.24,389.3 L96.23,388.7 L96.23,388.1 L96.23,387.5 L96.23,386.9 L96.22,386.3 L96.22,385.7 L96.22,385.1 L96.22,384.5 L96.22,383.9 L96.21,383.3 L96.21,382.7 L96.21,382.1 L96.2,381.5 L96.2,380.9Z" fill="#E64B33" stroke="#141414" stroke-width="1.0" stroke-linejoin="round"/><line x1="96.3" y1="396.9" x2="105.5" y2="396.9" stroke="#141414" stroke-width="1.0"/><line x1="96.21" y1="382" x2="105.59" y2="382" stroke="#141414" stroke-width="0.6"/><line x1="117.1" y1="443.4" x2="117.1" y2="446.59999999999997" stroke="#222" stroke-width="1.2"/><text transform="translate(117.1,454.3) scale(0.93,1)" font-size="7.2" text-anchor="middle">JFZ</text><path d="M121.65,387.5 L121.53,388.1 L121.4,388.7 L121.28,389.31 L121.15,389.91 L121.03,390.51 L120.91,391.11 L120.78,391.71 L120.66,392.32 L120.53,392.92 L120.41,393.52 L120.28,394.12 L120.16,394.72 L120.03,395.32 L119.88,395.93 L119.72,396.53 L119.56,397.13 L119.39,397.73 L119.22,398.33 L119.06,398.94 L118.92,399.54 L118.8,400.14 L118.7,400.74 L118.63,401.34 L118.6,401.95 L118.61,402.55 L118.66,403.15 L118.75,403.75 L118.86,404.35 L118.99,404.95 L119.15,405.56 L119.31,406.16 L119.49,406.76 L119.66,407.36 L119.83,407.96 L119.99,408.57 L120.14,409.17 L120.31,409.77 L120.49,410.37 L120.69,410.97 L120.9,411.58 L121.1,412.18 L121.3,412.78 L121.47,413.38 L121.61,413.98 L121.72,414.58 L121.79,415.19 L121.8,415.79 L121.76,416.39 L121.68,416.99 L121.58,417.59 L121.46,418.2 L121.35,418.8 L121.25,419.4 L112.95,419.4 L112.85,418.8 L112.74,418.2 L112.62,417.59 L112.52,416.99 L112.44,416.39 L112.4,415.79 L112.41,415.19 L112.48,414.58 L112.59,413.98 L112.73,413.38 L112.9,412.78 L113.1,412.18 L113.3,411.58 L113.51,410.97 L113.71,410.37 L113.89,409.77 L114.06,409.17 L114.21,408.57 L114.37,407.96 L114.54,407.36 L114.71,406.76 L114.89,406.16 L115.05,405.56 L115.21,404.95 L115.34,404.35 L115.45,403.75 L115.54,403.15 L115.59,402.55 L115.6,401.95 L115.57,401.34 L115.5,400.74 L115.4,400.14 L115.28,399.54 L115.14,398.94 L114.98,398.33 L114.81,397.73 L114.64,397.13 L114.48,396.53 L114.32,395.93 L114.17,395.32 L114.04,394.72 L113.92,394.12 L113.79,393.52 L113.67,392.92 L113.54,392.32 L113.42,391.71 L113.29,391.11 L113.17,390.51 L113.05,389.91 L112.92,389.31 L112.8,388.7 L112.67,388.1 L112.55,387.5Z" fill="#4CBBD8" stroke="#141414" stroke-width="1.0" stroke-linejoin="round"/><line x1="114.56" y1="407.3" x2="119.64" y2="407.3" stroke="#141414" stroke-width="1.0"/><line x1="112.41" y1="416" x2="121.79" y2="416" stroke="#141414" stroke-width="0.6"/><line x1="133.3" y1="443.4" x2="133.3" y2="446.59999999999997" stroke="#222" stroke-width="1.2"/><text transform="translate(133.3,454.3) scale(0.93,1)" font-size="7.2" text-anchor="middle">SH</text><path d="M135.25,371.3 L135.23,371.91 L135.2,372.52 L135.18,373.12 L135.15,373.73 L135.13,374.34 L135.11,374.95 L135.1,375.56 L135.1,376.16 L135.11,376.77 L135.13,377.38 L135.16,377.99 L135.2,378.59 L135.24,379.2 L135.29,379.81 L135.34,380.42 L135.42,381.03 L135.53,381.63 L135.65,382.24 L135.79,382.85 L135.94,383.46 L136.09,384.07 L136.24,384.67 L136.39,385.28 L136.53,385.89 L136.66,386.5 L136.8,387.11 L136.94,387.71 L137.09,388.32 L137.23,388.93 L137.37,389.54 L137.5,390.14 L137.62,390.75 L137.72,391.36 L137.8,391.97 L137.86,392.58 L137.93,393.18 L137.99,393.79 L138.04,394.4 L138.1,395.01 L138.14,395.62 L138.18,396.22 L138.22,396.83 L138.24,397.44 L138.25,398.05 L138.24,398.66 L138.18,399.26 L138.08,399.87 L137.95,400.48 L137.79,401.09 L137.63,401.69 L137.47,402.3 L137.32,402.91 L137.17,403.52 L137.01,404.13 L136.82,404.73 L136.63,405.34 L136.43,405.95 L136.25,406.56 L136.08,407.17 L135.94,407.77 L135.83,408.38 L135.76,408.99 L135.73,409.6 L135.71,410.21 L135.69,410.81 L135.67,411.42 L135.66,412.03 L135.64,412.64 L135.63,413.24 L135.62,413.85 L135.61,414.46 L135.6,415.07 L135.59,415.68 L135.58,416.28 L135.56,416.89 L135.55,417.5 L131.05,417.5 L131.04,416.89 L131.02,416.28 L131.01,415.68 L131,415.07 L130.99,414.46 L130.98,413.85 L130.97,413.24 L130.96,412.64 L130.94,412.03 L130.93,411.42 L130.91,410.81 L130.89,410.21 L130.87,409.6 L130.84,408.99 L130.77,408.38 L130.66,407.77 L130.52,407.17 L130.35,406.56 L130.17,405.95 L129.97,405.34 L129.78,404.73 L129.59,404.13 L129.43,403.52 L129.28,402.91 L129.13,402.3 L128.97,401.69 L128.81,401.09 L128.65,400.48 L128.52,399.87 L128.42,399.26 L128.36,398.66 L128.35,398.05 L128.36,397.44 L128.38,396.83 L128.42,396.22 L128.46,395.62 L128.5,395.01 L128.56,394.4 L128.61,393.79 L128.67,393.18 L128.74,392.58 L128.8,391.97 L128.88,391.36 L128.98,390.75 L129.1,390.14 L129.23,389.54 L129.37,388.93 L129.51,388.32 L129.66,387.71 L129.8,387.11 L129.94,386.5 L130.07,385.89 L130.21,385.28 L130.36,384.67 L130.51,384.07 L130.66,383.46 L130.81,382.85 L130.95,382.24 L131.07,381.63 L131.18,381.03 L131.26,380.42 L131.31,379.81 L131.36,379.2 L131.4,378.59 L131.44,377.99 L131.47,377.38 L131.49,376.77 L131.5,376.16 L131.5,375.56 L131.49,374.95 L131.47,374.34 L131.45,373.73 L131.42,373.12 L131.4,372.52 L131.37,371.91 L131.35,371.3Z" fill="#02A086" stroke="#141414" stroke-width="1.0" stroke-linejoin="round"/><line x1="128.39" y1="399" x2="138.21" y2="399" stroke="#141414" stroke-width="1.0"/><line x1="130.76" y1="408.3" x2="135.84" y2="408.3" stroke="#141414" stroke-width="0.6"/><line x1="149.7" y1="443.4" x2="149.7" y2="446.59999999999997" stroke="#222" stroke-width="1.2"/><text transform="translate(149.7,454.3) scale(0.93,1)" font-size="7.2" text-anchor="middle">XH</text><path d="M154.2,387.5 L154.27,388.1 L154.35,388.7 L154.44,389.31 L154.53,389.91 L154.62,390.51 L154.7,391.11 L154.77,391.72 L154.83,392.32 L154.87,392.92 L154.9,393.52 L154.89,394.12 L154.83,394.73 L154.72,395.33 L154.57,395.93 L154.39,396.53 L154.18,397.13 L153.96,397.74 L153.74,398.34 L153.53,398.94 L153.33,399.54 L153.16,400.15 L152.98,400.75 L152.77,401.35 L152.56,401.95 L152.34,402.55 L152.12,403.16 L151.91,403.76 L151.72,404.36 L151.54,404.96 L151.4,405.57 L151.29,406.17 L151.22,406.77 L151.2,407.37 L151.2,407.97 L151.22,408.58 L151.23,409.18 L151.26,409.78 L151.29,410.38 L151.32,410.98 L151.35,411.59 L151.39,412.19 L151.42,412.79 L151.46,413.39 L151.49,414 L151.52,414.6 L151.55,415.2 L147.85,415.2 L147.88,414.6 L147.91,414 L147.94,413.39 L147.98,412.79 L148.01,412.19 L148.05,411.59 L148.08,410.98 L148.11,410.38 L148.14,409.78 L148.17,409.18 L148.18,408.58 L148.2,407.97 L148.2,407.37 L148.18,406.77 L148.11,406.17 L148,405.57 L147.86,404.96 L147.68,404.36 L147.49,403.76 L147.28,403.16 L147.06,402.55 L146.84,401.95 L146.63,401.35 L146.42,400.75 L146.24,400.15 L146.07,399.54 L145.87,398.94 L145.66,398.34 L145.44,397.74 L145.22,397.13 L145.01,396.53 L144.83,395.93 L144.68,395.33 L144.57,394.73 L144.51,394.12 L144.5,393.52 L144.53,392.92 L144.57,392.32 L144.63,391.72 L144.7,391.11 L144.78,390.51 L144.87,389.91 L144.96,389.31 L145.05,388.7 L145.13,388.1 L145.2,387.5Z" fill="#3D5A97" stroke="#141414" stroke-width="1.0" stroke-linejoin="round"/><line x1="144.67" y1="395.3" x2="154.73" y2="395.3" stroke="#141414" stroke-width="1.0"/><line x1="144.76" y1="390.7" x2="154.64" y2="390.7" stroke="#141414" stroke-width="0.6"/></g><g><line x1="256.3" y1="330.7" x2="256.3" y2="443.4" stroke="#E62A1C" stroke-width="1.45" stroke-dasharray="3.6 2.1 1.2 2.8"/><path d="M189.4,331.4 V443.4 H323.3 V331.4" fill="none" stroke="#222" stroke-width="1.2"/><line x1="187.0" y1="443.4" x2="189.4" y2="443.4" stroke="#222" stroke-width="1.1"/><text transform="translate(185.5,446.3) scale(0.95,1)" font-size="7.2" text-anchor="end">0</text><line x1="187.0" y1="415.4" x2="189.4" y2="415.4" stroke="#222" stroke-width="1.1"/><text transform="translate(185.5,418.3) scale(0.95,1)" font-size="7.2" text-anchor="end">2</text><line x1="187.0" y1="387.4" x2="189.4" y2="387.4" stroke="#222" stroke-width="1.1"/><text transform="translate(185.5,390.3) scale(0.95,1)" font-size="7.2" text-anchor="end">4</text><line x1="187.0" y1="359.4" x2="189.4" y2="359.4" stroke="#222" stroke-width="1.1"/><text transform="translate(185.5,362.3) scale(0.95,1)" font-size="7.2" text-anchor="end">6</text><line x1="187.0" y1="331.4" x2="189.4" y2="331.4" stroke="#222" stroke-width="1.1"/><text transform="translate(185.5,334.3) scale(0.95,1)" font-size="7.2" text-anchor="end">8</text><line x1="323.3" y1="443.4" x2="325.40000000000003" y2="443.4" stroke="#222" stroke-width="1.1"/><text transform="translate(327,446.3) scale(0.95,1)" font-size="7.2">0</text><line x1="323.3" y1="415.4" x2="325.40000000000003" y2="415.4" stroke="#222" stroke-width="1.1"/><text transform="translate(327,418.3) scale(0.95,1)" font-size="7.2">1000</text><line x1="323.3" y1="387.4" x2="325.40000000000003" y2="387.4" stroke="#222" stroke-width="1.1"/><text transform="translate(327,390.3) scale(0.95,1)" font-size="7.2">2000</text><line x1="323.3" y1="359.4" x2="325.40000000000003" y2="359.4" stroke="#222" stroke-width="1.1"/><text transform="translate(327,362.3) scale(0.95,1)" font-size="7.2">3000</text><line x1="323.3" y1="331.4" x2="325.40000000000003" y2="331.4" stroke="#222" stroke-width="1.1"/><text transform="translate(327,334.3) scale(0.95,1)" font-size="7.2">4000</text><text transform="translate(224.8,334.3) scale(0.906,1)" font-size="7.2" text-anchor="middle">Shannon Index</text><text transform="translate(288.6,332.7) scale(0.906,1)" font-size="7.2" text-anchor="middle">Chao 1 Index</text><line x1="200.4" y1="443.4" x2="200.4" y2="446.59999999999997" stroke="#222" stroke-width="1.2"/><text transform="translate(200.4,454.3) scale(0.93,1)" font-size="7.2" text-anchor="middle">HS</text><path d="M205.35,366.8 L205.25,367.4 L205.15,368.01 L205.03,368.61 L204.92,369.21 L204.82,369.82 L204.73,370.42 L204.67,371.03 L204.65,371.63 L204.67,372.23 L204.71,372.84 L204.79,373.44 L204.87,374.04 L204.97,374.65 L205.06,375.25 L205.13,375.86 L205.2,376.46 L205.28,377.06 L205.36,377.67 L205.42,378.27 L205.48,378.87 L205.5,379.48 L205.47,380.08 L205.35,380.69 L205.17,381.29 L204.95,381.89 L204.71,382.5 L204.46,383.1 L204.24,383.7 L204.06,384.31 L203.85,384.91 L203.63,385.51 L203.41,386.12 L203.2,386.72 L203,387.33 L202.84,387.93 L202.72,388.53 L202.66,389.14 L202.66,389.74 L202.72,390.34 L202.82,390.95 L202.93,391.55 L203.03,392.16 L203.12,392.76 L203.15,393.36 L203.15,393.97 L203.14,394.57 L203.12,395.17 L203.1,395.78 L203.08,396.38 L203.05,396.99 L203.02,397.59 L203,398.19 L202.97,398.8 L202.95,399.4 L197.85,399.4 L197.83,398.8 L197.8,398.19 L197.78,397.59 L197.75,396.99 L197.72,396.38 L197.7,395.78 L197.68,395.17 L197.66,394.57 L197.65,393.97 L197.65,393.36 L197.68,392.76 L197.77,392.16 L197.87,391.55 L197.98,390.95 L198.08,390.34 L198.14,389.74 L198.14,389.14 L198.08,388.53 L197.96,387.93 L197.8,387.33 L197.6,386.72 L197.39,386.12 L197.17,385.51 L196.95,384.91 L196.74,384.31 L196.56,383.7 L196.34,383.1 L196.09,382.5 L195.85,381.89 L195.63,381.29 L195.45,380.69 L195.33,380.08 L195.3,379.48 L195.32,378.87 L195.38,378.27 L195.44,377.67 L195.52,377.06 L195.6,376.46 L195.67,375.86 L195.74,375.25 L195.83,374.65 L195.93,374.04 L196.01,373.44 L196.09,372.84 L196.13,372.23 L196.15,371.63 L196.13,371.03 L196.07,370.42 L195.98,369.82 L195.88,369.21 L195.77,368.61 L195.65,368.01 L195.55,367.4 L195.45,366.8Z" fill="#E64B33" stroke="#141414" stroke-width="1.0" stroke-linejoin="round"/><line x1="195.36" y1="380.3" x2="205.44" y2="380.3" stroke="#141414" stroke-width="1.0"/><line x1="197.84" y1="391.7" x2="202.96" y2="391.7" stroke="#141414" stroke-width="0.6"/><line x1="217.0" y1="443.4" x2="217.0" y2="446.59999999999997" stroke="#222" stroke-width="1.2"/><text transform="translate(217,454.3) scale(0.93,1)" font-size="7.2" text-anchor="middle">JFZ</text><path d="M221.45,367.8 L221.19,368.4 L220.9,369 L220.59,369.6 L220.27,370.2 L219.94,370.8 L219.63,371.4 L219.34,372 L219.07,372.6 L218.85,373.2 L218.67,373.8 L218.55,374.4 L218.5,375 L218.57,375.6 L218.82,376.2 L219.2,376.8 L219.68,377.4 L220.21,378 L220.73,378.6 L221.22,379.2 L221.62,379.8 L221.9,380.4 L222,381 L221.9,381.6 L221.67,382.2 L221.45,382.8 L212.55,382.8 L212.33,382.2 L212.1,381.6 L212,381 L212.1,380.4 L212.38,379.8 L212.78,379.2 L213.27,378.6 L213.79,378 L214.32,377.4 L214.8,376.8 L215.18,376.2 L215.43,375.6 L215.5,375 L215.45,374.4 L215.33,373.8 L215.15,373.2 L214.93,372.6 L214.66,372 L214.37,371.4 L214.06,370.8 L213.73,370.2 L213.41,369.6 L213.1,369 L212.81,368.4 L212.55,367.8Z" fill="#4CBBD8" stroke="#141414" stroke-width="1.0" stroke-linejoin="round"/><line x1="212.78" y1="379.2" x2="221.22" y2="379.2" stroke="#141414" stroke-width="1.0"/><line x1="212" y1="380.9" x2="222" y2="380.9" stroke="#141414" stroke-width="0.6"/><line x1="233.0" y1="443.4" x2="233.0" y2="446.59999999999997" stroke="#222" stroke-width="1.2"/><text transform="translate(233,454.3) scale(0.93,1)" font-size="7.2" text-anchor="middle">SH</text><path d="M236.3,379.2 L236.63,379.81 L237.01,380.42 L237.37,381.04 L237.65,381.65 L237.79,382.26 L237.66,382.87 L237.15,383.48 L236.49,384.09 L235.88,384.71 L235.52,385.32 L235.53,385.93 L235.69,386.54 L235.93,387.15 L236.23,387.76 L236.55,388.38 L236.87,388.99 L237.15,389.6 L228.85,389.6 L229.13,388.99 L229.45,388.38 L229.77,387.76 L230.07,387.15 L230.31,386.54 L230.47,385.93 L230.48,385.32 L230.12,384.71 L229.51,384.09 L228.85,383.48 L228.34,382.87 L228.21,382.26 L228.35,381.65 L228.63,381.04 L228.99,380.42 L229.37,379.81 L229.7,379.2Z" fill="#02A086" stroke="#141414" stroke-width="1.0" stroke-linejoin="round"/><line x1="228.24" y1="382" x2="237.76" y2="382" stroke="#141414" stroke-width="1.0"/><line x1="229.41" y1="384" x2="236.59" y2="384" stroke="#141414" stroke-width="0.6"/><line x1="249.2" y1="443.4" x2="249.2" y2="446.59999999999997" stroke="#222" stroke-width="1.2"/><text transform="translate(249.2,454.3) scale(0.93,1)" font-size="7.2" text-anchor="middle">XH</text><path d="M253.7,374.7 L253.39,375.32 L253.04,375.93 L252.68,376.55 L252.33,377.16 L252.04,377.78 L251.82,378.39 L251.71,379.01 L251.75,379.62 L251.97,380.24 L252.32,380.85 L252.75,381.47 L253.21,382.08 L253.65,382.7 L254.01,383.32 L254.24,383.93 L254.3,384.55 L254.25,385.16 L254.13,385.78 L253.96,386.39 L253.76,387.01 L253.52,387.62 L253.27,388.24 L253.01,388.85 L252.75,389.47 L252.51,390.08 L252.3,390.7 L246.1,390.7 L245.89,390.08 L245.65,389.47 L245.39,388.85 L245.13,388.24 L244.88,387.62 L244.64,387.01 L244.44,386.39 L244.27,385.78 L244.15,385.16 L244.1,384.55 L244.16,383.93 L244.39,383.32 L244.75,382.7 L245.19,382.08 L245.65,381.47 L246.08,380.85 L246.43,380.24 L246.65,379.62 L246.69,379.01 L246.58,378.39 L246.36,377.78 L246.07,377.16 L245.72,376.55 L245.36,375.93 L245.01,375.32 L244.7,374.7Z" fill="#3D5A97" stroke="#141414" stroke-width="1.0" stroke-linejoin="round"/><line x1="244.1" y1="384.4" x2="254.3" y2="384.4" stroke="#141414" stroke-width="1.0"/><line x1="244.6" y1="386.9" x2="253.8" y2="386.9" stroke="#141414" stroke-width="0.6"/><line x1="264.5" y1="443.4" x2="264.5" y2="446.59999999999997" stroke="#222" stroke-width="1.2"/><text transform="translate(264.5,454.3) scale(0.93,1)" font-size="7.2" text-anchor="middle">HS</text><path d="M269.4,369.3 L269.37,369.91 L269.33,370.51 L269.3,371.12 L269.27,371.72 L269.24,372.32 L269.21,372.93 L269.18,373.54 L269.15,374.14 L269.12,374.75 L269.09,375.35 L269.06,375.95 L269.03,376.56 L268.99,377.17 L268.96,377.77 L268.93,378.38 L268.9,378.98 L268.86,379.58 L268.83,380.19 L268.79,380.8 L268.76,381.4 L268.72,382 L268.68,382.61 L268.63,383.22 L268.59,383.82 L268.55,384.43 L268.5,385.03 L268.44,385.63 L268.38,386.24 L268.31,386.85 L268.23,387.45 L268.14,388.06 L268.05,388.66 L267.95,389.26 L267.85,389.87 L267.74,390.48 L267.63,391.08 L267.52,391.69 L267.4,392.29 L267.29,392.89 L267.17,393.5 L267.06,394.11 L266.95,394.71 L266.84,395.31 L266.73,395.92 L266.63,396.52 L266.53,397.13 L266.44,397.74 L266.35,398.34 L266.28,398.94 L266.21,399.55 L266.14,400.15 L266.09,400.76 L266.05,401.37 L266.02,401.97 L266.01,402.57 L266,403.18 L266.02,403.78 L266.08,404.39 L266.17,405 L266.28,405.6 L266.42,406.2 L266.57,406.81 L266.74,407.41 L266.91,408.02 L267.09,408.62 L267.28,409.23 L267.45,409.83 L267.62,410.44 L267.78,411.05 L267.93,411.65 L268.05,412.25 L268.17,412.86 L268.28,413.46 L268.4,414.07 L268.51,414.68 L268.61,415.28 L268.72,415.88 L268.83,416.49 L268.94,417.09 L269.05,417.7 L259.95,417.7 L260.06,417.09 L260.17,416.49 L260.28,415.88 L260.39,415.28 L260.49,414.68 L260.6,414.07 L260.72,413.46 L260.83,412.86 L260.95,412.25 L261.07,411.65 L261.22,411.05 L261.38,410.44 L261.55,409.83 L261.72,409.23 L261.91,408.62 L262.09,408.02 L262.26,407.41 L262.43,406.81 L262.58,406.2 L262.72,405.6 L262.83,405 L262.92,404.39 L262.98,403.78 L263,403.18 L262.99,402.57 L262.98,401.97 L262.95,401.37 L262.91,400.76 L262.86,400.15 L262.79,399.55 L262.72,398.94 L262.65,398.34 L262.56,397.74 L262.47,397.13 L262.37,396.52 L262.27,395.92 L262.16,395.31 L262.05,394.71 L261.94,394.11 L261.83,393.5 L261.71,392.89 L261.6,392.29 L261.48,391.69 L261.37,391.08 L261.26,390.48 L261.15,389.87 L261.05,389.26 L260.95,388.66 L260.86,388.06 L260.77,387.45 L260.69,386.85 L260.62,386.24 L260.56,385.63 L260.5,385.03 L260.45,384.43 L260.41,383.82 L260.37,383.22 L260.32,382.61 L260.28,382 L260.24,381.4 L260.21,380.8 L260.17,380.19 L260.14,379.58 L260.1,378.98 L260.07,378.38 L260.04,377.77 L260.01,377.17 L259.97,376.56 L259.94,375.95 L259.91,375.35 L259.88,374.75 L259.85,374.14 L259.82,373.54 L259.79,372.93 L259.76,372.32 L259.73,371.72 L259.7,371.12 L259.67,370.51 L259.63,369.91 L259.6,369.3Z" fill="#E64B33" stroke="#141414" stroke-width="1.0" stroke-linejoin="round"/><line x1="261.04" y1="389.2" x2="267.96" y2="389.2" stroke="#141414" stroke-width="1.0"/><line x1="259.66" y1="370.3" x2="269.34" y2="370.3" stroke="#141414" stroke-width="0.6"/><line x1="280.1" y1="443.4" x2="280.1" y2="446.59999999999997" stroke="#222" stroke-width="1.2"/><text transform="translate(280.1,454.3) scale(0.93,1)" font-size="7.2" text-anchor="middle">JFZ</text><path d="M285.3,379.2 L285.26,379.81 L285.22,380.42 L285.18,381.02 L285.13,381.63 L285.07,382.24 L284.99,382.85 L284.89,383.45 L284.78,384.06 L284.65,384.67 L284.52,385.28 L284.39,385.89 L284.26,386.49 L284.13,387.1 L284.01,387.71 L283.89,388.32 L283.77,388.93 L283.64,389.53 L283.52,390.14 L283.39,390.75 L283.26,391.36 L283.14,391.96 L283.02,392.57 L282.91,393.18 L282.8,393.79 L282.7,394.4 L282.61,395 L282.52,395.61 L282.44,396.22 L282.36,396.83 L282.29,397.43 L282.22,398.04 L282.15,398.65 L282.08,399.26 L282.02,399.87 L281.97,400.47 L281.92,401.08 L281.87,401.69 L281.83,402.3 L281.79,402.9 L281.75,403.51 L281.71,404.12 L281.67,404.73 L281.63,405.34 L281.6,405.94 L281.57,406.55 L281.55,407.16 L281.53,407.77 L281.51,408.38 L281.5,408.98 L281.5,409.59 L281.51,410.2 L281.54,410.81 L281.57,411.41 L281.62,412.02 L281.67,412.63 L281.73,413.24 L281.79,413.85 L281.86,414.45 L281.93,415.06 L282,415.67 L282.07,416.28 L282.13,416.88 L282.19,417.49 L282.25,418.1 L277.95,418.1 L278.01,417.49 L278.07,416.88 L278.13,416.28 L278.2,415.67 L278.27,415.06 L278.34,414.45 L278.41,413.85 L278.47,413.24 L278.53,412.63 L278.58,412.02 L278.63,411.41 L278.66,410.81 L278.69,410.2 L278.7,409.59 L278.7,408.98 L278.69,408.38 L278.67,407.77 L278.65,407.16 L278.63,406.55 L278.6,405.94 L278.57,405.34 L278.53,404.73 L278.49,404.12 L278.45,403.51 L278.41,402.9 L278.37,402.3 L278.33,401.69 L278.28,401.08 L278.23,400.47 L278.18,399.87 L278.12,399.26 L278.05,398.65 L277.98,398.04 L277.91,397.43 L277.84,396.83 L277.76,396.22 L277.68,395.61 L277.59,395 L277.5,394.4 L277.4,393.79 L277.29,393.18 L277.18,392.57 L277.06,391.96 L276.94,391.36 L276.81,390.75 L276.68,390.14 L276.56,389.53 L276.43,388.93 L276.31,388.32 L276.19,387.71 L276.07,387.1 L275.94,386.49 L275.81,385.89 L275.68,385.28 L275.55,384.67 L275.42,384.06 L275.31,383.45 L275.21,382.85 L275.13,382.24 L275.07,381.63 L275.02,381.02 L274.98,380.42 L274.94,379.81 L274.9,379.2Z" fill="#4CBBD8" stroke="#141414" stroke-width="1.0" stroke-linejoin="round"/><line x1="276.15" y1="387.5" x2="284.05" y2="387.5" stroke="#141414" stroke-width="1.0"/><line x1="274.99" y1="380.6" x2="285.21" y2="380.6" stroke="#141414" stroke-width="0.6"/><line x1="278.7" y1="409.4" x2="281.5" y2="409.4" stroke="#141414" stroke-width="0.6"/><line x1="296.3" y1="443.4" x2="296.3" y2="446.59999999999997" stroke="#222" stroke-width="1.2"/><text transform="translate(296.3,454.3) scale(0.93,1)" font-size="7.2" text-anchor="middle">SH</text><path d="M298.25,386.5 L298.22,387.1 L298.19,387.7 L298.15,388.31 L298.12,388.91 L298.11,389.51 L298.1,390.11 L298.12,390.71 L298.17,391.31 L298.25,391.92 L298.34,392.52 L298.45,393.12 L298.56,393.72 L298.67,394.32 L298.79,394.92 L298.9,395.53 L299.04,396.13 L299.19,396.73 L299.35,397.33 L299.52,397.93 L299.68,398.53 L299.84,399.14 L299.99,399.74 L300.13,400.34 L300.27,400.94 L300.43,401.54 L300.58,402.14 L300.73,402.75 L300.88,403.35 L301,403.95 L301.11,404.55 L301.19,405.15 L301.24,405.76 L301.25,406.36 L301.21,406.96 L301.14,407.56 L301.03,408.16 L300.9,408.76 L300.75,409.37 L300.58,409.97 L300.42,410.57 L300.25,411.17 L300.01,411.77 L299.71,412.37 L299.38,412.98 L299.07,413.58 L298.82,414.18 L298.67,414.78 L298.65,415.38 L298.65,415.98 L298.65,416.59 L298.65,417.19 L298.65,417.79 L298.65,418.39 L298.65,418.99 L298.65,419.59 L298.65,420.2 L298.65,420.8 L298.65,421.4 L293.95,421.4 L293.95,420.8 L293.95,420.2 L293.95,419.59 L293.95,418.99 L293.95,418.39 L293.95,417.79 L293.95,417.19 L293.95,416.59 L293.95,415.98 L293.95,415.38 L293.93,414.78 L293.78,414.18 L293.53,413.58 L293.22,412.98 L292.89,412.37 L292.59,411.77 L292.35,411.17 L292.18,410.57 L292.02,409.97 L291.85,409.37 L291.7,408.76 L291.57,408.16 L291.46,407.56 L291.39,406.96 L291.35,406.36 L291.36,405.76 L291.41,405.15 L291.49,404.55 L291.6,403.95 L291.72,403.35 L291.87,402.75 L292.02,402.14 L292.17,401.54 L292.33,400.94 L292.47,400.34 L292.61,399.74 L292.76,399.14 L292.92,398.53 L293.08,397.93 L293.25,397.33 L293.41,396.73 L293.56,396.13 L293.7,395.53 L293.81,394.92 L293.93,394.32 L294.04,393.72 L294.15,393.12 L294.26,392.52 L294.35,391.92 L294.43,391.31 L294.48,390.71 L294.5,390.11 L294.49,389.51 L294.48,388.91 L294.45,388.31 L294.41,387.7 L294.38,387.1 L294.35,386.5Z" fill="#02A086" stroke="#141414" stroke-width="1.0" stroke-linejoin="round"/><line x1="291.6" y1="408.3" x2="301" y2="408.3" stroke="#141414" stroke-width="1.0"/><line x1="293.9" y1="414.6" x2="298.7" y2="414.6" stroke="#141414" stroke-width="0.6"/><line x1="312.7" y1="443.4" x2="312.7" y2="446.59999999999997" stroke="#222" stroke-width="1.2"/><text transform="translate(312.7,454.3) scale(0.93,1)" font-size="7.2" text-anchor="middle">XH</text><path d="M315.3,381.3 L315.38,381.91 L315.46,382.52 L315.54,383.12 L315.62,383.73 L315.7,384.34 L315.78,384.95 L315.86,385.55 L315.94,386.16 L316.02,386.77 L316.1,387.38 L316.18,387.98 L316.26,388.59 L316.34,389.2 L316.42,389.81 L316.51,390.41 L316.61,391.02 L316.72,391.63 L316.83,392.24 L316.95,392.84 L317.06,393.45 L317.17,394.06 L317.28,394.67 L317.37,395.27 L317.46,395.88 L317.52,396.49 L317.57,397.1 L317.6,397.7 L317.6,398.31 L317.57,398.92 L317.51,399.53 L317.44,400.13 L317.34,400.74 L317.23,401.35 L317.1,401.96 L316.96,402.57 L316.82,403.17 L316.67,403.78 L316.51,404.39 L316.36,405 L316.21,405.6 L316.06,406.21 L315.93,406.82 L315.8,407.43 L315.69,408.03 L315.59,408.64 L315.47,409.25 L315.35,409.86 L315.22,410.46 L315.11,411.07 L314.99,411.68 L314.89,412.29 L314.81,412.89 L314.75,413.5 L314.71,414.11 L314.7,414.72 L314.71,415.32 L314.74,415.93 L314.78,416.54 L314.84,417.15 L314.9,417.75 L314.97,418.36 L315.04,418.97 L315.11,419.58 L315.18,420.18 L315.24,420.79 L315.3,421.4 L310.1,421.4 L310.16,420.79 L310.22,420.18 L310.29,419.58 L310.36,418.97 L310.43,418.36 L310.5,417.75 L310.56,417.15 L310.62,416.54 L310.66,415.93 L310.69,415.32 L310.7,414.72 L310.69,414.11 L310.65,413.5 L310.59,412.89 L310.51,412.29 L310.41,411.68 L310.29,411.07 L310.18,410.46 L310.05,409.86 L309.93,409.25 L309.81,408.64 L309.71,408.03 L309.6,407.43 L309.47,406.82 L309.34,406.21 L309.19,405.6 L309.04,405 L308.89,404.39 L308.73,403.78 L308.58,403.17 L308.44,402.57 L308.3,401.96 L308.17,401.35 L308.06,400.74 L307.96,400.13 L307.89,399.53 L307.83,398.92 L307.8,398.31 L307.8,397.7 L307.83,397.1 L307.88,396.49 L307.94,395.88 L308.03,395.27 L308.12,394.67 L308.23,394.06 L308.34,393.45 L308.45,392.84 L308.57,392.24 L308.68,391.63 L308.79,391.02 L308.89,390.41 L308.98,389.81 L309.06,389.2 L309.14,388.59 L309.22,387.98 L309.3,387.38 L309.38,386.77 L309.46,386.16 L309.54,385.55 L309.62,384.95 L309.7,384.34 L309.78,383.73 L309.86,383.12 L309.94,382.52 L310.02,381.91 L310.1,381.3Z" fill="#3D5A97" stroke="#141414" stroke-width="1.0" stroke-linejoin="round"/><line x1="307.81" y1="398.5" x2="317.59" y2="398.5" stroke="#141414" stroke-width="1.0"/><line x1="309.29" y1="387.5" x2="316.11" y2="387.5" stroke="#141414" stroke-width="0.6"/><line x1="310.7" y1="414.6" x2="314.7" y2="414.6" stroke="#141414" stroke-width="0.6"/></g><g><line x1="421.3" y1="330.7" x2="421.3" y2="443.4" stroke="#E62A1C" stroke-width="1.45" stroke-dasharray="3.6 2.1 1.2 2.8"/><path d="M353.3,331.4 V443.4 H491.5 V331.4" fill="none" stroke="#222" stroke-width="1.2"/><line x1="350.90000000000003" y1="443.4" x2="353.3" y2="443.4" stroke="#222" stroke-width="1.1"/><text transform="translate(349.4,446.3) scale(0.95,1)" font-size="7.2" text-anchor="end">0</text><line x1="350.90000000000003" y1="415.4" x2="353.3" y2="415.4" stroke="#222" stroke-width="1.1"/><text transform="translate(349.4,418.3) scale(0.95,1)" font-size="7.2" text-anchor="end">2</text><line x1="350.90000000000003" y1="387.4" x2="353.3" y2="387.4" stroke="#222" stroke-width="1.1"/><text transform="translate(349.4,390.3) scale(0.95,1)" font-size="7.2" text-anchor="end">4</text><line x1="350.90000000000003" y1="359.4" x2="353.3" y2="359.4" stroke="#222" stroke-width="1.1"/><text transform="translate(349.4,362.3) scale(0.95,1)" font-size="7.2" text-anchor="end">6</text><line x1="350.90000000000003" y1="331.4" x2="353.3" y2="331.4" stroke="#222" stroke-width="1.1"/><text transform="translate(349.4,334.3) scale(0.95,1)" font-size="7.2" text-anchor="end">8</text><line x1="491.5" y1="443.4" x2="493.6" y2="443.4" stroke="#222" stroke-width="1.1"/><text transform="translate(495.2,446.3) scale(0.95,1)" font-size="7.2">0</text><line x1="491.5" y1="415.4" x2="493.6" y2="415.4" stroke="#222" stroke-width="1.1"/><text transform="translate(495.2,418.3) scale(0.95,1)" font-size="7.2">1000</text><line x1="491.5" y1="387.4" x2="493.6" y2="387.4" stroke="#222" stroke-width="1.1"/><text transform="translate(495.2,390.3) scale(0.95,1)" font-size="7.2">2000</text><line x1="491.5" y1="359.4" x2="493.6" y2="359.4" stroke="#222" stroke-width="1.1"/><text transform="translate(495.2,362.3) scale(0.95,1)" font-size="7.2">3000</text><line x1="491.5" y1="331.4" x2="493.6" y2="331.4" stroke="#222" stroke-width="1.1"/><text transform="translate(495.2,334.3) scale(0.95,1)" font-size="7.2">4000</text><text transform="translate(388.3,334.3) scale(0.906,1)" font-size="7.2" text-anchor="middle">Shannon Index</text><text transform="translate(456.25,332.7) scale(0.906,1)" font-size="7.2" text-anchor="middle">Chao 1 Index</text><line x1="364.1" y1="443.4" x2="364.1" y2="446.59999999999997" stroke="#222" stroke-width="1.2"/><text transform="translate(364.1,454.3) scale(0.93,1)" font-size="7.2" text-anchor="middle">HS</text><path d="M368.85,376.5 L368.96,377.11 L369.07,377.72 L369.13,378.33 L369.17,378.94 L369.2,379.56 L369.13,380.17 L368.77,380.78 L368.28,381.39 L367.85,382 L367.48,382.61 L367.09,383.22 L366.75,383.83 L366.53,384.44 L366.48,385.06 L366.45,385.67 L366.42,386.28 L366.4,386.89 L366.38,387.5 L366.37,388.11 L366.36,388.72 L366.35,389.33 L366.35,389.94 L366.35,390.56 L366.35,391.17 L366.36,391.78 L366.36,392.39 L366.37,393 L366.38,393.61 L366.39,394.22 L366.4,394.83 L366.42,395.44 L366.46,396.06 L366.53,396.67 L366.61,397.28 L366.68,397.89 L366.75,398.5 L361.45,398.5 L361.52,397.89 L361.59,397.28 L361.67,396.67 L361.74,396.06 L361.78,395.44 L361.8,394.83 L361.81,394.22 L361.82,393.61 L361.83,393 L361.84,392.39 L361.84,391.78 L361.85,391.17 L361.85,390.56 L361.85,389.94 L361.85,389.33 L361.84,388.72 L361.83,388.11 L361.82,387.5 L361.8,386.89 L361.78,386.28 L361.75,385.67 L361.72,385.06 L361.67,384.44 L361.45,383.83 L361.11,383.22 L360.72,382.61 L360.35,382 L359.92,381.39 L359.43,380.78 L359.07,380.17 L359,379.56 L359.03,378.94 L359.07,378.33 L359.13,377.72 L359.24,377.11 L359.35,376.5Z" fill="#E64B33" stroke="#141414" stroke-width="1.0" stroke-linejoin="round"/><line x1="359.13" y1="380.3" x2="369.07" y2="380.3" stroke="#141414" stroke-width="1.0"/><line x1="359.08" y1="378.2" x2="369.12" y2="378.2" stroke="#141414" stroke-width="0.6"/><line x1="361.82" y1="393.8" x2="366.38" y2="393.8" stroke="#141414" stroke-width="0.6"/><line x1="380.7" y1="443.4" x2="380.7" y2="446.59999999999997" stroke="#222" stroke-width="1.2"/><text transform="translate(380.7,454.3) scale(0.93,1)" font-size="7.2" text-anchor="middle">JFZ</text><path d="M385.4,388.6 L385.32,389.22 L385.25,389.84 L385.18,390.46 L385.1,391.08 L385.01,391.7 L384.87,392.32 L384.64,392.94 L384.32,393.56 L383.95,394.18 L383.56,394.8 L383.16,395.42 L382.8,396.04 L382.5,396.66 L382.29,397.28 L382.2,397.9 L382.23,398.52 L382.34,399.14 L382.49,399.76 L382.66,400.38 L382.8,401 L378.6,401 L378.74,400.38 L378.91,399.76 L379.06,399.14 L379.17,398.52 L379.2,397.9 L379.11,397.28 L378.9,396.66 L378.6,396.04 L378.24,395.42 L377.84,394.8 L377.45,394.18 L377.08,393.56 L376.76,392.94 L376.53,392.32 L376.39,391.7 L376.3,391.08 L376.22,390.46 L376.15,389.84 L376.08,389.22 L376,388.6Z" fill="#4CBBD8" stroke="#141414" stroke-width="1.0" stroke-linejoin="round"/><line x1="376.3" y1="391.1" x2="385.1" y2="391.1" stroke="#141414" stroke-width="1.0"/><line x1="397.0" y1="443.4" x2="397.0" y2="446.59999999999997" stroke="#222" stroke-width="1.2"/><text transform="translate(397,454.3) scale(0.93,1)" font-size="7.2" text-anchor="middle">SH</text><path d="M399.8,382.8 L400.11,383.41 L400.45,384.03 L400.82,384.64 L401.17,385.26 L401.48,385.87 L401.73,386.49 L401.87,387.1 L401.89,387.71 L401.74,388.33 L401.46,388.94 L401.08,389.56 L400.65,390.17 L400.22,390.79 L399.82,391.4 L399.49,392.01 L399.2,392.63 L398.88,393.24 L398.58,393.86 L398.31,394.47 L398.11,395.09 L398.01,395.7 L398.02,396.31 L398.12,396.93 L398.28,397.54 L398.48,398.16 L398.7,398.77 L398.91,399.39 L399.1,400 L394.9,400 L395.09,399.39 L395.3,398.77 L395.52,398.16 L395.72,397.54 L395.88,396.93 L395.98,396.31 L395.99,395.7 L395.89,395.09 L395.69,394.47 L395.42,393.86 L395.12,393.24 L394.8,392.63 L394.51,392.01 L394.18,391.4 L393.78,390.79 L393.35,390.17 L392.92,389.56 L392.54,388.94 L392.26,388.33 L392.11,387.71 L392.13,387.1 L392.27,386.49 L392.52,385.87 L392.83,385.26 L393.18,384.64 L393.55,384.03 L393.89,383.41 L394.2,382.8Z" fill="#02A086" stroke="#141414" stroke-width="1.0" stroke-linejoin="round"/><line x1="392.1" y1="387.5" x2="401.9" y2="387.5" stroke="#141414" stroke-width="1.0"/><line x1="412.5" y1="443.4" x2="412.5" y2="446.59999999999997" stroke="#222" stroke-width="1.2"/><text transform="translate(412.5,454.3) scale(0.93,1)" font-size="7.2" text-anchor="middle">XH</text><path d="M414,379.9 L413.88,380.5 L413.77,381.1 L413.7,381.7 L413.89,382.3 L414.42,382.9 L415,383.5 L415.53,384.1 L416.09,384.7 L416.6,385.3 L417.06,385.9 L417.5,386.5 L417.7,387.1 L417.58,387.7 L417.29,388.3 L416.91,388.9 L416.52,389.5 L416.2,390.1 L415.94,390.7 L415.69,391.3 L415.44,391.9 L415.2,392.5 L414.95,393.1 L410.05,393.1 L409.8,392.5 L409.56,391.9 L409.31,391.3 L409.06,390.7 L408.8,390.1 L408.48,389.5 L408.09,388.9 L407.71,388.3 L407.42,387.7 L407.3,387.1 L407.5,386.5 L407.94,385.9 L408.4,385.3 L408.91,384.7 L409.47,384.1 L410,383.5 L410.58,382.9 L411.11,382.3 L411.3,381.7 L411.23,381.1 L411.12,380.5 L411,379.9Z" fill="#3D5A97" stroke="#141414" stroke-width="1.0" stroke-linejoin="round"/><line x1="407.33" y1="386.9" x2="417.67" y2="386.9" stroke="#141414" stroke-width="1.0"/><line x1="409.06" y1="390.7" x2="415.94" y2="390.7" stroke="#141414" stroke-width="0.6"/><line x1="432.0" y1="443.4" x2="432.0" y2="446.59999999999997" stroke="#222" stroke-width="1.2"/><text transform="translate(432,454.3) scale(0.93,1)" font-size="7.2" text-anchor="middle">HS</text><path d="M435.65,377.2 L435.62,377.81 L435.59,378.41 L435.56,379.02 L435.53,379.62 L435.49,380.23 L435.46,380.83 L435.43,381.44 L435.4,382.05 L435.37,382.65 L435.34,383.26 L435.31,383.86 L435.27,384.47 L435.24,385.07 L435.21,385.68 L435.18,386.29 L435.15,386.89 L435.12,387.5 L435.09,388.1 L435.06,388.71 L435.03,389.31 L435,389.92 L434.97,390.52 L434.94,391.13 L434.91,391.74 L434.87,392.34 L434.84,392.95 L434.8,393.55 L434.77,394.16 L434.73,394.76 L434.7,395.37 L434.67,395.98 L434.65,396.58 L434.63,397.19 L434.61,397.79 L434.6,398.4 L434.6,399 L434.6,399.61 L434.62,400.22 L434.64,400.82 L434.67,401.43 L434.71,402.03 L434.75,402.64 L434.8,403.24 L434.86,403.85 L434.91,404.46 L434.97,405.06 L435.04,405.67 L435.1,406.27 L435.17,406.88 L435.24,407.48 L435.3,408.09 L435.37,408.7 L435.43,409.3 L435.49,409.91 L435.55,410.51 L435.62,411.12 L435.7,411.72 L435.79,412.33 L435.88,412.94 L435.97,413.54 L436.07,414.15 L436.16,414.75 L436.26,415.36 L436.35,415.96 L436.44,416.57 L436.53,417.18 L436.61,417.78 L436.68,418.39 L436.75,418.99 L436.8,419.6 L436.85,420.2 L436.88,420.81 L436.9,421.41 L436.9,422.02 L436.89,422.63 L436.87,423.23 L436.85,423.84 L436.81,424.44 L436.78,425.05 L436.73,425.65 L436.68,426.26 L436.64,426.87 L436.58,427.47 L436.53,428.08 L436.48,428.68 L436.44,429.29 L436.39,429.89 L436.35,430.5 L427.65,430.5 L427.61,429.89 L427.56,429.29 L427.52,428.68 L427.47,428.08 L427.42,427.47 L427.36,426.87 L427.32,426.26 L427.27,425.65 L427.22,425.05 L427.19,424.44 L427.15,423.84 L427.13,423.23 L427.11,422.63 L427.1,422.02 L427.1,421.41 L427.12,420.81 L427.15,420.2 L427.2,419.6 L427.25,418.99 L427.32,418.39 L427.39,417.78 L427.47,417.18 L427.56,416.57 L427.65,415.96 L427.74,415.36 L427.84,414.75 L427.93,414.15 L428.03,413.54 L428.12,412.94 L428.21,412.33 L428.3,411.72 L428.38,411.12 L428.45,410.51 L428.51,409.91 L428.57,409.3 L428.63,408.7 L428.7,408.09 L428.76,407.48 L428.83,406.88 L428.9,406.27 L428.96,405.67 L429.03,405.06 L429.09,404.46 L429.14,403.85 L429.2,403.24 L429.25,402.64 L429.29,402.03 L429.33,401.43 L429.36,400.82 L429.38,400.22 L429.4,399.61 L429.4,399 L429.4,398.4 L429.39,397.79 L429.37,397.19 L429.35,396.58 L429.33,395.98 L429.3,395.37 L429.27,394.76 L429.23,394.16 L429.2,393.55 L429.16,392.95 L429.13,392.34 L429.09,391.74 L429.06,391.13 L429.03,390.52 L429,389.92 L428.97,389.31 L428.94,388.71 L428.91,388.1 L428.88,387.5 L428.85,386.89 L428.82,386.29 L428.79,385.68 L428.76,385.07 L428.73,384.47 L428.69,383.86 L428.66,383.26 L428.63,382.65 L428.6,382.05 L428.57,381.44 L428.54,380.83 L428.51,380.23 L428.47,379.62 L428.44,379.02 L428.41,378.41 L428.38,377.81 L428.35,377.2Z" fill="#E64B33" stroke="#141414" stroke-width="1.0" stroke-linejoin="round"/><line x1="428.52" y1="409.8" x2="435.48" y2="409.8" stroke="#141414" stroke-width="1.0"/><line x1="428.67" y1="383.4" x2="435.33" y2="383.4" stroke="#141414" stroke-width="0.6"/><line x1="427.29" y1="426" x2="436.71" y2="426" stroke="#141414" stroke-width="0.6"/><line x1="448.2" y1="443.4" x2="448.2" y2="446.59999999999997" stroke="#222" stroke-width="1.2"/><text transform="translate(448.2,454.3) scale(0.93,1)" font-size="7.2" text-anchor="middle">JFZ</text><path d="M453.15,413.1 L452.71,413.7 L452.21,414.31 L451.7,414.91 L451.26,415.52 L450.96,416.12 L450.85,416.73 L451.04,417.33 L451.48,417.94 L452.04,418.54 L452.57,419.15 L452.95,419.75 L453.05,420.35 L452.95,420.96 L452.77,421.56 L452.54,422.17 L452.29,422.77 L452.01,423.38 L451.6,423.98 L451.22,424.59 L451.05,425.19 L451.05,425.8 L451.05,426.4 L445.35,426.4 L445.35,425.8 L445.35,425.19 L445.18,424.59 L444.8,423.98 L444.39,423.38 L444.11,422.77 L443.86,422.17 L443.63,421.56 L443.45,420.96 L443.35,420.35 L443.45,419.75 L443.83,419.15 L444.36,418.54 L444.92,417.94 L445.36,417.33 L445.55,416.73 L445.44,416.12 L445.14,415.52 L444.7,414.91 L444.19,414.31 L443.69,413.7 L443.25,413.1Z" fill="#4CBBD8" stroke="#141414" stroke-width="1.0" stroke-linejoin="round"/><line x1="443.35" y1="420.2" x2="453.05" y2="420.2" stroke="#141414" stroke-width="1.0"/><line x1="445.19" y1="415.6" x2="451.21" y2="415.6" stroke="#141414" stroke-width="0.6"/><line x1="464.2" y1="443.4" x2="464.2" y2="446.59999999999997" stroke="#222" stroke-width="1.2"/><text transform="translate(464.2,454.3) scale(0.93,1)" font-size="7.2" text-anchor="middle">SH</text><path d="M465.2,416.4 L465.9,416.85 L467.28,417.3 L468.78,417.75 L469.3,418.2 L459.1,418.2 L459.62,417.75 L461.12,417.3 L462.5,416.85 L463.2,416.4Z" fill="#02A086" stroke="#141414" stroke-width="1.0" stroke-linejoin="round"/><line x1="459.21" y1="418.1" x2="469.19" y2="418.1" stroke="#141414" stroke-width="1.0"/><line x1="480.5" y1="443.4" x2="480.5" y2="446.59999999999997" stroke="#222" stroke-width="1.2"/><text transform="translate(480.5,454.3) scale(0.93,1)" font-size="7.2" text-anchor="middle">XH</text><path d="M485.45,414.6 L485.53,415.2 L485.59,415.81 L485.59,416.41 L485.54,417.02 L485.46,417.62 L485.35,418.23 L485.07,418.83 L484.65,419.43 L484.17,420.04 L483.72,420.64 L483.35,421.25 L482.96,421.85 L482.57,422.46 L482.22,423.06 L481.98,423.67 L481.9,424.27 L481.92,424.87 L481.95,425.48 L482,426.08 L482.07,426.69 L482.13,427.29 L482.19,427.9 L482.25,428.5 L478.75,428.5 L478.81,427.9 L478.87,427.29 L478.93,426.69 L479,426.08 L479.05,425.48 L479.08,424.87 L479.1,424.27 L479.02,423.67 L478.78,423.06 L478.43,422.46 L478.04,421.85 L477.65,421.25 L477.28,420.64 L476.83,420.04 L476.35,419.43 L475.93,418.83 L475.65,418.23 L475.54,417.62 L475.46,417.02 L475.41,416.41 L475.41,415.81 L475.47,415.2 L475.55,414.6Z" fill="#3D5A97" stroke="#141414" stroke-width="1.0" stroke-linejoin="round"/><line x1="475.42" y1="416.6" x2="485.58" y2="416.6" stroke="#141414" stroke-width="1.0"/><line x1="475.86" y1="418.7" x2="485.14" y2="418.7" stroke="#141414" stroke-width="0.6"/></g><g><line x1="588.3" y1="330.7" x2="588.3" y2="443.4" stroke="#E62A1C" stroke-width="1.45" stroke-dasharray="3.6 2.1 1.2 2.8"/><path d="M520.0,331.4 V443.4 H657.2 V331.4" fill="none" stroke="#222" stroke-width="1.2"/><line x1="517.6" y1="443.4" x2="520.0" y2="443.4" stroke="#222" stroke-width="1.1"/><text transform="translate(516.1,446.3) scale(0.95,1)" font-size="7.2" text-anchor="end">0</text><line x1="517.6" y1="415.4" x2="520.0" y2="415.4" stroke="#222" stroke-width="1.1"/><text transform="translate(516.1,418.3) scale(0.95,1)" font-size="7.2" text-anchor="end">2</text><line x1="517.6" y1="387.4" x2="520.0" y2="387.4" stroke="#222" stroke-width="1.1"/><text transform="translate(516.1,390.3) scale(0.95,1)" font-size="7.2" text-anchor="end">4</text><line x1="517.6" y1="359.4" x2="520.0" y2="359.4" stroke="#222" stroke-width="1.1"/><text transform="translate(516.1,362.3) scale(0.95,1)" font-size="7.2" text-anchor="end">6</text><line x1="517.6" y1="331.4" x2="520.0" y2="331.4" stroke="#222" stroke-width="1.1"/><text transform="translate(516.1,334.3) scale(0.95,1)" font-size="7.2" text-anchor="end">8</text><line x1="657.2" y1="443.4" x2="659.3000000000001" y2="443.4" stroke="#222" stroke-width="1.1"/><text transform="translate(660.9,446.3) scale(0.95,1)" font-size="7.2">0</text><line x1="657.2" y1="415.4" x2="659.3000000000001" y2="415.4" stroke="#222" stroke-width="1.1"/><text transform="translate(660.9,418.3) scale(0.95,1)" font-size="7.2">1000</text><line x1="657.2" y1="387.4" x2="659.3000000000001" y2="387.4" stroke="#222" stroke-width="1.1"/><text transform="translate(660.9,390.3) scale(0.95,1)" font-size="7.2">2000</text><line x1="657.2" y1="359.4" x2="659.3000000000001" y2="359.4" stroke="#222" stroke-width="1.1"/><text transform="translate(660.9,362.3) scale(0.95,1)" font-size="7.2">3000</text><line x1="657.2" y1="331.4" x2="659.3000000000001" y2="331.4" stroke="#222" stroke-width="1.1"/><text transform="translate(660.9,334.3) scale(0.95,1)" font-size="7.2">4000</text><text transform="translate(554.9,334.3) scale(0.906,1)" font-size="7.2" text-anchor="middle">Shannon Index</text><text transform="translate(621.05,332.7) scale(0.906,1)" font-size="7.2" text-anchor="middle">Chao 1 Index</text><line x1="530.8" y1="443.4" x2="530.8" y2="446.59999999999997" stroke="#222" stroke-width="1.2"/><text transform="translate(530.8,454.3) scale(0.93,1)" font-size="7.2" text-anchor="middle">HS</text><path d="M534.55,366.8 L534.69,367.41 L534.85,368.02 L535.02,368.63 L535.19,369.25 L535.36,369.86 L535.53,370.47 L535.68,371.08 L535.8,371.69 L535.9,372.3 L535.97,372.92 L536,373.53 L535.97,374.14 L535.86,374.75 L535.7,375.36 L535.48,375.97 L535.23,376.59 L534.96,377.2 L534.68,377.81 L534.41,378.42 L534.15,379.03 L533.92,379.64 L533.72,380.26 L533.52,380.87 L533.3,381.48 L533.08,382.09 L532.87,382.7 L532.66,383.31 L532.47,383.93 L532.31,384.54 L532.18,385.15 L532.09,385.76 L532.05,386.37 L532.06,386.98 L532.09,387.6 L532.15,388.21 L532.22,388.82 L532.31,389.43 L532.41,390.04 L532.51,390.65 L532.62,391.27 L532.72,391.88 L532.81,392.49 L532.9,393.1 L528.7,393.1 L528.79,392.49 L528.88,391.88 L528.98,391.27 L529.09,390.65 L529.19,390.04 L529.29,389.43 L529.38,388.82 L529.45,388.21 L529.51,387.6 L529.54,386.98 L529.55,386.37 L529.51,385.76 L529.42,385.15 L529.29,384.54 L529.13,383.93 L528.94,383.31 L528.73,382.7 L528.52,382.09 L528.3,381.48 L528.08,380.87 L527.88,380.26 L527.68,379.64 L527.45,379.03 L527.19,378.42 L526.92,377.81 L526.64,377.2 L526.37,376.59 L526.12,375.97 L525.9,375.36 L525.74,374.75 L525.63,374.14 L525.6,373.53 L525.63,372.92 L525.7,372.3 L525.8,371.69 L525.92,371.08 L526.07,370.47 L526.24,369.86 L526.41,369.25 L526.58,368.63 L526.75,368.02 L526.91,367.41 L527.05,366.8Z" fill="#E64B33" stroke="#141414" stroke-width="1.0" stroke-linejoin="round"/><line x1="525.82" y1="375.1" x2="535.78" y2="375.1" stroke="#141414" stroke-width="1.0"/><line x1="526.53" y1="368.8" x2="535.07" y2="368.8" stroke="#141414" stroke-width="0.6"/><line x1="547.4" y1="443.4" x2="547.4" y2="446.59999999999997" stroke="#222" stroke-width="1.2"/><text transform="translate(547.4,454.3) scale(0.93,1)" font-size="7.2" text-anchor="middle">JFZ</text><path d="M550.15,369.3 L550.16,369.9 L550.16,370.51 L550.17,371.11 L550.17,371.71 L550.18,372.32 L550.19,372.92 L550.2,373.52 L550.32,374.12 L550.65,374.73 L551.11,375.33 L551.6,375.93 L552.03,376.54 L552.3,377.14 L552.34,377.74 L552.23,378.35 L552.05,378.95 L551.82,379.55 L551.59,380.16 L551.23,380.76 L550.81,381.36 L550.47,381.97 L550.35,382.57 L550.47,383.17 L550.75,383.78 L551.1,384.38 L551.46,384.98 L551.76,385.58 L551.94,386.19 L552.06,386.79 L552.16,387.39 L552.25,388 L552.35,388.6 L542.45,388.6 L542.55,388 L542.64,387.39 L542.74,386.79 L542.86,386.19 L543.04,385.58 L543.34,384.98 L543.7,384.38 L544.05,383.78 L544.33,383.17 L544.45,382.57 L544.33,381.97 L543.99,381.36 L543.57,380.76 L543.21,380.16 L542.98,379.55 L542.75,378.95 L542.57,378.35 L542.46,377.74 L542.5,377.14 L542.77,376.54 L543.2,375.93 L543.69,375.33 L544.15,374.73 L544.48,374.12 L544.6,373.52 L544.61,372.92 L544.62,372.32 L544.63,371.71 L544.63,371.11 L544.64,370.51 L544.64,369.9 L544.65,369.3Z" fill="#4CBBD8" stroke="#141414" stroke-width="1.0" stroke-linejoin="round"/><line x1="544.3" y1="374.5" x2="550.5" y2="374.5" stroke="#141414" stroke-width="1.0"/><line x1="544.62" y1="372.6" x2="550.18" y2="372.6" stroke="#141414" stroke-width="0.6"/><line x1="563.0" y1="443.4" x2="563.0" y2="446.59999999999997" stroke="#222" stroke-width="1.2"/><text transform="translate(563,454.3) scale(0.93,1)" font-size="7.2" text-anchor="middle">SH</text><path d="M566.85,367.4 L566.47,368.02 L566.04,368.64 L565.62,369.26 L565.27,369.88 L565.04,370.51 L565.03,371.13 L565.32,371.75 L565.84,372.37 L566.49,372.99 L567.14,373.61 L567.67,374.23 L567.97,374.85 L567.97,375.47 L567.82,376.09 L567.58,376.72 L567.26,377.34 L566.92,377.96 L566.59,378.58 L566.3,379.2 L559.7,379.2 L559.41,378.58 L559.08,377.96 L558.74,377.34 L558.42,376.72 L558.18,376.09 L558.03,375.47 L558.03,374.85 L558.33,374.23 L558.86,373.61 L559.51,372.99 L560.16,372.37 L560.68,371.75 L560.97,371.13 L560.96,370.51 L560.73,369.88 L560.38,369.26 L559.96,368.64 L559.53,368.02 L559.15,367.4Z" fill="#02A086" stroke="#141414" stroke-width="1.0" stroke-linejoin="round"/><line x1="558" y1="375.1" x2="568" y2="375.1" stroke="#141414" stroke-width="1.0"/><line x1="579.0" y1="443.4" x2="579.0" y2="446.59999999999997" stroke="#222" stroke-width="1.2"/><text transform="translate(579,454.3) scale(0.93,1)" font-size="7.2" text-anchor="middle">XH</text><path d="M583.7,368.2 L583.38,368.88 L582.96,369.55 L582.07,370.22 L581,370.9 L577,370.9 L575.93,370.22 L575.04,369.55 L574.62,368.88 L574.3,368.2Z" fill="#3D5A97" stroke="#141414" stroke-width="1.0" stroke-linejoin="round"/><line x1="574.86" y1="369.3" x2="583.14" y2="369.3" stroke="#141414" stroke-width="1.0"/><line x1="596.8" y1="443.4" x2="596.8" y2="446.59999999999997" stroke="#222" stroke-width="1.2"/><text transform="translate(596.8,454.3) scale(0.93,1)" font-size="7.2" text-anchor="middle">HS</text><path d="M601.7,386.5 L601.55,387.11 L601.39,387.72 L601.24,388.32 L601.09,388.93 L600.93,389.54 L600.76,390.15 L600.57,390.76 L600.37,391.37 L600.14,391.97 L599.91,392.58 L599.68,393.19 L599.44,393.8 L599.21,394.41 L598.99,395.01 L598.78,395.62 L598.59,396.23 L598.42,396.84 L598.28,397.45 L598.17,398.06 L598.09,398.66 L598.04,399.27 L597.99,399.88 L597.93,400.49 L597.89,401.1 L597.84,401.7 L597.8,402.31 L597.76,402.92 L597.72,403.53 L597.68,404.14 L597.65,404.74 L597.63,405.35 L597.6,405.96 L597.58,406.57 L597.57,407.18 L597.56,407.79 L597.55,408.39 L597.55,409 L597.57,409.61 L597.61,410.22 L597.67,410.83 L597.75,411.43 L597.85,412.04 L597.95,412.65 L598.06,413.26 L598.18,413.87 L598.29,414.48 L598.4,415.08 L598.51,415.69 L598.6,416.3 L595,416.3 L595.09,415.69 L595.2,415.08 L595.31,414.48 L595.42,413.87 L595.54,413.26 L595.65,412.65 L595.75,412.04 L595.85,411.43 L595.93,410.83 L595.99,410.22 L596.03,409.61 L596.05,409 L596.05,408.39 L596.04,407.79 L596.03,407.18 L596.02,406.57 L596,405.96 L595.97,405.35 L595.95,404.74 L595.92,404.14 L595.88,403.53 L595.84,402.92 L595.8,402.31 L595.76,401.7 L595.71,401.1 L595.67,400.49 L595.61,399.88 L595.56,399.27 L595.51,398.66 L595.43,398.06 L595.32,397.45 L595.18,396.84 L595.01,396.23 L594.82,395.62 L594.61,395.01 L594.39,394.41 L594.16,393.8 L593.92,393.19 L593.69,392.58 L593.46,391.97 L593.23,391.37 L593.03,390.76 L592.84,390.15 L592.67,389.54 L592.51,388.93 L592.36,388.32 L592.21,387.72 L592.05,387.11 L591.9,386.5Z" fill="#E64B33" stroke="#141414" stroke-width="1.0" stroke-linejoin="round"/><line x1="592.15" y1="387.5" x2="601.45" y2="387.5" stroke="#141414" stroke-width="1.0"/><line x1="612.9" y1="443.4" x2="612.9" y2="446.59999999999997" stroke="#222" stroke-width="1.2"/><text transform="translate(612.9,454.3) scale(0.93,1)" font-size="7.2" text-anchor="middle">JFZ</text><path d="M616.85,381.4 L616.91,382.01 L616.98,382.61 L617.05,383.22 L617.12,383.82 L617.2,384.43 L617.27,385.03 L617.35,385.64 L617.42,386.24 L617.49,386.85 L617.55,387.46 L617.61,388.06 L617.66,388.67 L617.7,389.27 L617.73,389.88 L617.74,390.48 L617.75,391.09 L617.72,391.69 L617.65,392.3 L617.55,392.91 L617.44,393.51 L617.31,394.12 L617.17,394.72 L617.04,395.33 L616.93,395.93 L616.83,396.54 L616.72,397.14 L616.61,397.75 L616.49,398.36 L616.39,398.96 L616.29,399.57 L616.2,400.17 L616.13,400.78 L616.09,401.38 L616.05,401.99 L616.01,402.59 L615.97,403.2 L615.94,403.81 L615.9,404.41 L615.87,405.02 L615.84,405.62 L615.81,406.23 L615.78,406.83 L615.76,407.44 L615.74,408.04 L615.72,408.65 L615.7,409.26 L615.68,409.86 L615.67,410.47 L615.66,411.07 L615.65,411.68 L615.65,412.28 L615.65,412.89 L615.67,413.49 L615.69,414.1 L615.74,414.71 L615.79,415.31 L615.84,415.92 L615.9,416.52 L615.96,417.13 L616.02,417.73 L616.07,418.34 L616.11,418.94 L616.14,419.55 L616.15,420.16 L616.16,420.76 L616.17,421.37 L616.17,421.97 L616.18,422.58 L616.18,423.18 L616.19,423.79 L616.19,424.39 L616.2,425 L609.6,425 L609.61,424.39 L609.61,423.79 L609.62,423.18 L609.62,422.58 L609.63,421.97 L609.63,421.37 L609.64,420.76 L609.65,420.16 L609.66,419.55 L609.69,418.94 L609.73,418.34 L609.78,417.73 L609.84,417.13 L609.9,416.52 L609.96,415.92 L610.01,415.31 L610.06,414.71 L610.11,414.1 L610.13,413.49 L610.15,412.89 L610.15,412.28 L610.15,411.68 L610.14,411.07 L610.13,410.47 L610.12,409.86 L610.1,409.26 L610.08,408.65 L610.06,408.04 L610.04,407.44 L610.02,406.83 L609.99,406.23 L609.96,405.62 L609.93,405.02 L609.9,404.41 L609.86,403.81 L609.83,403.2 L609.79,402.59 L609.75,401.99 L609.71,401.38 L609.67,400.78 L609.6,400.17 L609.51,399.57 L609.41,398.96 L609.31,398.36 L609.19,397.75 L609.08,397.14 L608.97,396.54 L608.87,395.93 L608.76,395.33 L608.63,394.72 L608.49,394.12 L608.36,393.51 L608.25,392.91 L608.15,392.3 L608.08,391.69 L608.05,391.09 L608.06,390.48 L608.07,389.88 L608.1,389.27 L608.14,388.67 L608.19,388.06 L608.25,387.46 L608.31,386.85 L608.38,386.24 L608.45,385.64 L608.53,385.03 L608.6,384.43 L608.68,383.82 L608.75,383.22 L608.82,382.61 L608.89,382.01 L608.95,381.4Z" fill="#4CBBD8" stroke="#141414" stroke-width="1.0" stroke-linejoin="round"/><line x1="608.9" y1="396.1" x2="616.9" y2="396.1" stroke="#141414" stroke-width="1.0"/><line x1="608.42" y1="385.9" x2="617.38" y2="385.9" stroke="#141414" stroke-width="0.6"/><line x1="609.7" y1="418.8" x2="616.1" y2="418.8" stroke="#141414" stroke-width="0.6"/><line x1="629.1" y1="443.4" x2="629.1" y2="446.59999999999997" stroke="#222" stroke-width="1.2"/><text transform="translate(629.1,454.3) scale(0.93,1)" font-size="7.2" text-anchor="middle">SH</text><path d="M634,355.2 L633.98,355.8 L633.97,356.4 L633.96,357 L633.94,357.6 L633.93,358.2 L633.92,358.8 L633.9,359.4 L633.89,360 L633.87,360.6 L633.86,361.2 L633.84,361.8 L633.82,362.4 L633.8,363 L633.78,363.6 L633.75,364.2 L633.72,364.8 L633.67,365.4 L633.61,366 L633.54,366.6 L633.46,367.2 L633.38,367.8 L633.28,368.4 L633.19,369 L633.08,369.6 L632.97,370.2 L632.86,370.8 L632.75,371.4 L632.63,372 L632.52,372.6 L632.4,373.2 L632.29,373.8 L632.19,374.4 L632.08,375 L631.99,375.6 L631.9,376.2 L631.81,376.8 L631.74,377.4 L631.66,378 L631.58,378.6 L631.5,379.2 L631.42,379.8 L631.34,380.4 L631.26,381 L631.18,381.6 L631.1,382.2 L631.03,382.8 L630.96,383.4 L630.88,384 L630.82,384.6 L630.75,385.2 L630.69,385.8 L630.63,386.4 L630.58,387 L630.53,387.6 L630.49,388.2 L630.45,388.8 L630.41,389.4 L630.39,390 L630.36,390.6 L630.33,391.2 L630.31,391.8 L630.28,392.4 L630.26,393 L630.24,393.6 L630.21,394.2 L630.19,394.8 L630.17,395.4 L630.16,396 L630.14,396.6 L630.13,397.2 L630.12,397.8 L630.11,398.4 L630.1,399 L630.1,399.6 L630.1,400.2 L630.1,400.8 L630.11,401.4 L630.12,402 L630.14,402.6 L630.16,403.2 L630.18,403.8 L630.21,404.4 L630.24,405 L630.27,405.6 L630.3,406.2 L630.33,406.8 L630.37,407.4 L630.41,408 L630.44,408.6 L630.48,409.2 L630.52,409.8 L630.56,410.4 L630.6,411 L630.63,411.6 L630.67,412.2 L630.7,412.8 L630.74,413.4 L630.77,414 L630.8,414.6 L627.4,414.6 L627.43,414 L627.46,413.4 L627.5,412.8 L627.53,412.2 L627.57,411.6 L627.6,411 L627.64,410.4 L627.68,409.8 L627.72,409.2 L627.76,408.6 L627.79,408 L627.83,407.4 L627.87,406.8 L627.9,406.2 L627.93,405.6 L627.96,405 L627.99,404.4 L628.02,403.8 L628.04,403.2 L628.06,402.6 L628.08,402 L628.09,401.4 L628.1,400.8 L628.1,400.2 L628.1,399.6 L628.1,399 L628.09,398.4 L628.08,397.8 L628.07,397.2 L628.06,396.6 L628.04,396 L628.03,395.4 L628.01,394.8 L627.99,394.2 L627.96,393.6 L627.94,393 L627.92,392.4 L627.89,391.8 L627.87,391.2 L627.84,390.6 L627.81,390 L627.79,389.4 L627.75,388.8 L627.71,388.2 L627.67,387.6 L627.62,387 L627.57,386.4 L627.51,385.8 L627.45,385.2 L627.38,384.6 L627.32,384 L627.24,383.4 L627.17,382.8 L627.1,382.2 L627.02,381.6 L626.94,381 L626.86,380.4 L626.78,379.8 L626.7,379.2 L626.62,378.6 L626.54,378 L626.46,377.4 L626.39,376.8 L626.3,376.2 L626.21,375.6 L626.12,375 L626.01,374.4 L625.91,373.8 L625.8,373.2 L625.68,372.6 L625.57,372 L625.45,371.4 L625.34,370.8 L625.23,370.2 L625.12,369.6 L625.01,369 L624.92,368.4 L624.82,367.8 L624.74,367.2 L624.66,366.6 L624.59,366 L624.53,365.4 L624.48,364.8 L624.45,364.2 L624.42,363.6 L624.4,363 L624.38,362.4 L624.36,361.8 L624.34,361.2 L624.33,360.6 L624.31,360 L624.3,359.4 L624.28,358.8 L624.27,358.2 L624.26,357.6 L624.24,357 L624.23,356.4 L624.22,355.8 L624.2,355.2Z" fill="#02A086" stroke="#141414" stroke-width="1.0" stroke-linejoin="round"/><line x1="624.42" y1="363.5" x2="633.78" y2="363.5" stroke="#141414" stroke-width="1.0"/><line x1="624.26" y1="357.8" x2="633.94" y2="357.8" stroke="#141414" stroke-width="0.6"/><line x1="645.3" y1="443.4" x2="645.3" y2="446.59999999999997" stroke="#222" stroke-width="1.2"/><text transform="translate(645.3,454.3) scale(0.93,1)" font-size="7.2" text-anchor="middle">XH</text><path d="M650.4,380.1 L650.39,380.71 L650.38,381.31 L650.37,381.92 L650.36,382.52 L650.34,383.13 L650.33,383.73 L650.3,384.34 L650.22,384.94 L650.02,385.55 L649.74,386.15 L649.42,386.76 L649.1,387.36 L648.81,387.97 L648.55,388.57 L648.28,389.18 L648.01,389.78 L647.76,390.39 L647.55,390.99 L647.38,391.6 L647.21,392.2 L647.06,392.81 L646.94,393.41 L646.84,394.02 L646.76,394.62 L646.7,395.23 L646.64,395.83 L646.59,396.44 L646.54,397.04 L646.5,397.65 L646.47,398.26 L646.44,398.86 L646.41,399.47 L646.4,400.07 L646.39,400.68 L646.37,401.28 L646.36,401.89 L646.35,402.49 L646.34,403.1 L646.33,403.7 L646.32,404.31 L646.32,404.91 L646.31,405.52 L646.31,406.12 L646.3,406.73 L646.3,407.33 L646.3,407.94 L646.31,408.54 L646.33,409.15 L646.37,409.75 L646.43,410.36 L646.49,410.96 L646.56,411.57 L646.63,412.17 L646.71,412.78 L646.79,413.38 L646.87,413.99 L646.94,414.59 L647,415.2 L643.6,415.2 L643.66,414.59 L643.73,413.99 L643.81,413.38 L643.89,412.78 L643.97,412.17 L644.04,411.57 L644.11,410.96 L644.17,410.36 L644.23,409.75 L644.27,409.15 L644.29,408.54 L644.3,407.94 L644.3,407.33 L644.3,406.73 L644.29,406.12 L644.29,405.52 L644.28,404.91 L644.28,404.31 L644.27,403.7 L644.26,403.1 L644.25,402.49 L644.24,401.89 L644.23,401.28 L644.21,400.68 L644.2,400.07 L644.19,399.47 L644.16,398.86 L644.13,398.26 L644.1,397.65 L644.06,397.04 L644.01,396.44 L643.96,395.83 L643.9,395.23 L643.84,394.62 L643.76,394.02 L643.66,393.41 L643.54,392.81 L643.39,392.2 L643.22,391.6 L643.05,390.99 L642.84,390.39 L642.59,389.78 L642.32,389.18 L642.05,388.57 L641.79,387.97 L641.5,387.36 L641.18,386.76 L640.86,386.15 L640.58,385.55 L640.38,384.94 L640.3,384.34 L640.27,383.73 L640.26,383.13 L640.24,382.52 L640.23,381.92 L640.22,381.31 L640.21,380.71 L640.2,380.1Z" fill="#3D5A97" stroke="#141414" stroke-width="1.0" stroke-linejoin="round"/><line x1="640.23" y1="382" x2="650.37" y2="382" stroke="#141414" stroke-width="1.0"/><line x1="640.26" y1="383.4" x2="650.34" y2="383.4" stroke="#141414" stroke-width="0.6"/><path d="M547,361.1 V357.4 H579.6 V361.1" fill="none" stroke="#222" stroke-width="0.8"/><path d="M560.9,352.05L560.9,355.35M559.47,352.88L562.33,354.52M562.33,352.88L559.47,354.52" stroke="#1a1a1a" stroke-width="0.85" fill="none"/><path d="M565.1,352.05L565.1,355.35M563.67,352.88L566.53,354.52M566.53,352.88L563.67,354.52" stroke="#1a1a1a" stroke-width="0.85" fill="none"/></g><g><line x1="90.2" y1="477.1" x2="90.2" y2="589.6" stroke="#E62A1C" stroke-width="1.45" stroke-dasharray="3.6 2.1 1.2 2.8"/><path d="M22.2,477.8 V589.6 H160.8 V477.8" fill="none" stroke="#222" stroke-width="1.2"/><line x1="19.8" y1="589.6" x2="22.2" y2="589.6" stroke="#222" stroke-width="1.1"/><text transform="translate(18.3,592.5) scale(0.95,1)" font-size="7.2" text-anchor="end">0</text><line x1="19.8" y1="561.65" x2="22.2" y2="561.65" stroke="#222" stroke-width="1.1"/><text transform="translate(18.3,564.55) scale(0.95,1)" font-size="7.2" text-anchor="end">2</text><line x1="19.8" y1="533.7" x2="22.2" y2="533.7" stroke="#222" stroke-width="1.1"/><text transform="translate(18.3,536.6) scale(0.95,1)" font-size="7.2" text-anchor="end">4</text><line x1="19.8" y1="505.75" x2="22.2" y2="505.75" stroke="#222" stroke-width="1.1"/><text transform="translate(18.3,508.65) scale(0.95,1)" font-size="7.2" text-anchor="end">6</text><line x1="19.8" y1="477.8" x2="22.2" y2="477.8" stroke="#222" stroke-width="1.1"/><text transform="translate(18.3,480.7) scale(0.95,1)" font-size="7.2" text-anchor="end">8</text><line x1="160.8" y1="589.6" x2="162.9" y2="589.6" stroke="#222" stroke-width="1.1"/><text transform="translate(164.5,592.5) scale(0.95,1)" font-size="7.2">0</text><line x1="160.8" y1="561.65" x2="162.9" y2="561.65" stroke="#222" stroke-width="1.1"/><text transform="translate(164.5,564.55) scale(0.95,1)" font-size="7.2">1000</text><line x1="160.8" y1="533.7" x2="162.9" y2="533.7" stroke="#222" stroke-width="1.1"/><text transform="translate(164.5,536.6) scale(0.95,1)" font-size="7.2">2000</text><line x1="160.8" y1="505.75" x2="162.9" y2="505.75" stroke="#222" stroke-width="1.1"/><text transform="translate(164.5,508.65) scale(0.95,1)" font-size="7.2">3000</text><line x1="160.8" y1="477.8" x2="162.9" y2="477.8" stroke="#222" stroke-width="1.1"/><text transform="translate(164.5,480.7) scale(0.95,1)" font-size="7.2">4000</text><text transform="translate(57.1,480.7) scale(0.906,1)" font-size="7.2" text-anchor="middle">Shannon Index</text><text transform="translate(125.15,479.1) scale(0.906,1)" font-size="7.2" text-anchor="middle">Chao 1 Index</text><line x1="32.7" y1="589.6" x2="32.7" y2="594.1" stroke="#222" stroke-width="1.2"/><text class="r" transform="translate(35.4,593.8) rotate(-90) scale(0.98,1)" font-size="7" text-anchor="end">Before AB</text><path d="M37.9,512.4 L37.84,513 L37.78,513.61 L37.72,514.21 L37.63,514.81 L37.48,515.42 L37.21,516.02 L36.87,516.63 L36.53,517.23 L36.25,517.83 L36.08,518.44 L35.92,519.04 L35.78,519.64 L35.65,520.25 L35.54,520.85 L35.44,521.45 L35.37,522.06 L35.3,522.66 L35.25,523.27 L35.19,523.87 L35.15,524.47 L35.1,525.08 L35.06,525.68 L35.03,526.28 L35,526.89 L34.97,527.49 L34.95,528.09 L34.92,528.7 L34.9,529.3 L34.88,529.91 L34.86,530.51 L34.84,531.11 L34.82,531.72 L34.81,532.32 L34.8,532.92 L34.8,533.53 L34.81,534.13 L34.84,534.73 L34.89,535.34 L34.95,535.94 L35.02,536.55 L35.09,537.15 L35.18,537.75 L35.26,538.36 L35.33,538.96 L35.41,539.56 L35.47,540.17 L35.52,540.77 L35.58,541.37 L35.63,541.98 L35.68,542.58 L35.74,543.19 L35.79,543.79 L35.84,544.39 L35.9,545 L35.95,545.6 L29.45,545.6 L29.5,545 L29.56,544.39 L29.61,543.79 L29.66,543.19 L29.72,542.58 L29.77,541.98 L29.82,541.37 L29.88,540.77 L29.93,540.17 L29.99,539.56 L30.07,538.96 L30.14,538.36 L30.22,537.75 L30.31,537.15 L30.38,536.55 L30.45,535.94 L30.51,535.34 L30.56,534.73 L30.59,534.13 L30.6,533.53 L30.6,532.92 L30.59,532.32 L30.58,531.72 L30.56,531.11 L30.54,530.51 L30.52,529.91 L30.5,529.3 L30.48,528.7 L30.45,528.09 L30.43,527.49 L30.4,526.89 L30.37,526.28 L30.34,525.68 L30.3,525.08 L30.25,524.47 L30.21,523.87 L30.15,523.27 L30.1,522.66 L30.03,522.06 L29.96,521.45 L29.86,520.85 L29.75,520.25 L29.62,519.64 L29.48,519.04 L29.32,518.44 L29.15,517.83 L28.87,517.23 L28.53,516.63 L28.19,516.02 L27.92,515.42 L27.77,514.81 L27.68,514.21 L27.62,513.61 L27.56,513 L27.5,512.4Z" fill="#E64B33" stroke="#141414" stroke-width="1.0" stroke-linejoin="round"/><line x1="30.05" y1="522.2" x2="35.35" y2="522.2" stroke="#141414" stroke-width="1.0"/><line x1="27.72" y1="514.5" x2="37.68" y2="514.5" stroke="#141414" stroke-width="0.6"/><line x1="29.81" y1="541.5" x2="35.59" y2="541.5" stroke="#141414" stroke-width="0.6"/><line x1="48.7" y1="589.6" x2="48.7" y2="594.1" stroke="#222" stroke-width="1.2"/><text class="r" transform="translate(51.4,593.8) rotate(-90) scale(0.98,1)" font-size="7" text-anchor="end">Pre AB</text><path d="M53.6,512.4 L53.46,513.01 L53.3,513.62 L53.13,514.23 L52.96,514.84 L52.79,515.44 L52.63,516.05 L52.49,516.66 L52.37,517.27 L52.27,517.88 L52.22,518.49 L52.2,519.1 L52.23,519.71 L52.31,520.32 L52.43,520.92 L52.58,521.53 L52.75,522.14 L52.93,522.75 L53.11,523.36 L53.3,523.97 L53.47,524.58 L53.63,525.19 L53.75,525.8 L53.85,526.41 L53.89,527.01 L53.89,527.62 L53.83,528.23 L53.72,528.84 L53.56,529.45 L53.36,530.06 L53.13,530.67 L52.88,531.28 L52.6,531.89 L52.32,532.49 L52.02,533.1 L51.73,533.71 L51.45,534.32 L51.17,534.93 L50.92,535.54 L50.7,536.15 L50.51,536.76 L50.36,537.37 L50.25,537.98 L50.2,538.58 L50.21,539.19 L50.24,539.8 L50.31,540.41 L50.4,541.02 L50.51,541.63 L50.63,542.24 L50.77,542.85 L50.91,543.46 L51.06,544.06 L51.21,544.67 L51.35,545.28 L51.48,545.89 L51.6,546.5 L45.8,546.5 L45.92,545.89 L46.05,545.28 L46.19,544.67 L46.34,544.06 L46.49,543.46 L46.63,542.85 L46.77,542.24 L46.89,541.63 L47,541.02 L47.09,540.41 L47.16,539.8 L47.19,539.19 L47.2,538.58 L47.15,537.98 L47.04,537.37 L46.89,536.76 L46.7,536.15 L46.48,535.54 L46.23,534.93 L45.95,534.32 L45.67,533.71 L45.38,533.1 L45.08,532.49 L44.8,531.89 L44.52,531.28 L44.27,530.67 L44.04,530.06 L43.84,529.45 L43.68,528.84 L43.57,528.23 L43.51,527.62 L43.51,527.01 L43.55,526.41 L43.65,525.8 L43.77,525.19 L43.93,524.58 L44.1,523.97 L44.29,523.36 L44.47,522.75 L44.65,522.14 L44.82,521.53 L44.97,520.92 L45.09,520.32 L45.17,519.71 L45.2,519.1 L45.18,518.49 L45.13,517.88 L45.03,517.27 L44.91,516.66 L44.77,516.05 L44.61,515.44 L44.44,514.84 L44.27,514.23 L44.1,513.62 L43.94,513.01 L43.8,512.4Z" fill="#4CBBD8" stroke="#141414" stroke-width="1.0" stroke-linejoin="round"/><line x1="43.51" y1="526.9" x2="53.89" y2="526.9" stroke="#141414" stroke-width="1.0"/><line x1="47.17" y1="538.2" x2="50.23" y2="538.2" stroke="#141414" stroke-width="0.6"/><line x1="65.3" y1="589.6" x2="65.3" y2="594.1" stroke="#222" stroke-width="1.2"/><text class="r" transform="translate(68,593.8) rotate(-90) scale(0.98,1)" font-size="7" text-anchor="end">During AB</text><path d="M70.25,522.8 L70.23,523.4 L70.21,524 L70.18,524.6 L70.12,525.2 L69.88,525.8 L69.51,526.4 L69.1,527 L68.75,527.6 L68.4,528.2 L68.05,528.8 L67.83,529.4 L67.77,530 L67.73,530.6 L67.7,531.2 L67.67,531.8 L67.64,532.4 L67.63,533 L67.61,533.6 L67.6,534.2 L67.6,534.8 L67.6,535.4 L67.6,536 L67.61,536.6 L67.61,537.2 L67.62,537.8 L67.63,538.4 L67.63,539 L67.64,539.6 L67.65,540.2 L67.67,540.8 L67.7,541.4 L67.74,542 L67.78,542.6 L67.82,543.2 L67.87,543.8 L67.91,544.4 L67.95,545 L62.65,545 L62.69,544.4 L62.73,543.8 L62.78,543.2 L62.82,542.6 L62.86,542 L62.9,541.4 L62.93,540.8 L62.95,540.2 L62.96,539.6 L62.97,539 L62.97,538.4 L62.98,537.8 L62.99,537.2 L62.99,536.6 L63,536 L63,535.4 L63,534.8 L63,534.2 L62.99,533.6 L62.97,533 L62.96,532.4 L62.93,531.8 L62.9,531.2 L62.87,530.6 L62.83,530 L62.77,529.4 L62.55,528.8 L62.2,528.2 L61.85,527.6 L61.5,527 L61.09,526.4 L60.72,525.8 L60.48,525.2 L60.42,524.6 L60.39,524 L60.37,523.4 L60.35,522.8Z" fill="#02A086" stroke="#141414" stroke-width="1.0" stroke-linejoin="round"/><line x1="60.48" y1="525.2" x2="70.12" y2="525.2" stroke="#141414" stroke-width="1.0"/><line x1="62.9" y1="541.4" x2="67.7" y2="541.4" stroke="#141414" stroke-width="0.6"/><line x1="81.5" y1="589.6" x2="81.5" y2="594.1" stroke="#222" stroke-width="1.2"/><text class="r" transform="translate(84.2,593.8) rotate(-90) scale(0.98,1)" font-size="7" text-anchor="end">Post AB</text><path d="M84.6,513.2 L84.74,513.81 L84.9,514.42 L85.06,515.03 L85.24,515.64 L85.41,516.25 L85.58,516.86 L85.75,517.47 L85.9,518.07 L86.03,518.68 L86.14,519.29 L86.23,519.9 L86.28,520.51 L86.3,521.12 L86.28,521.73 L86.21,522.34 L86.11,522.95 L85.97,523.56 L85.8,524.17 L85.61,524.78 L85.39,525.39 L85.16,526 L84.92,526.6 L84.67,527.21 L84.41,527.82 L84.15,528.43 L83.9,529.04 L83.66,529.65 L83.43,530.26 L83.21,530.87 L83.02,531.48 L82.85,532.09 L82.71,532.7 L82.6,533.31 L82.53,533.92 L82.5,534.53 L82.53,535.13 L82.61,535.74 L82.74,536.35 L82.9,536.96 L83.08,537.57 L83.27,538.18 L83.44,538.79 L83.6,539.4 L79.4,539.4 L79.56,538.79 L79.73,538.18 L79.92,537.57 L80.1,536.96 L80.26,536.35 L80.39,535.74 L80.47,535.13 L80.5,534.53 L80.47,533.92 L80.4,533.31 L80.29,532.7 L80.15,532.09 L79.98,531.48 L79.79,530.87 L79.57,530.26 L79.34,529.65 L79.1,529.04 L78.85,528.43 L78.59,527.82 L78.33,527.21 L78.08,526.6 L77.84,526 L77.61,525.39 L77.39,524.78 L77.2,524.17 L77.03,523.56 L76.89,522.95 L76.79,522.34 L76.72,521.73 L76.7,521.12 L76.72,520.51 L76.77,519.9 L76.86,519.29 L76.97,518.68 L77.1,518.07 L77.25,517.47 L77.42,516.86 L77.59,516.25 L77.76,515.64 L77.94,515.03 L78.1,514.42 L78.26,513.81 L78.4,513.2Z" fill="#3D5A97" stroke="#141414" stroke-width="1.0" stroke-linejoin="round"/><line x1="76.71" y1="520.7" x2="86.29" y2="520.7" stroke="#141414" stroke-width="1.0"/><line x1="77.97" y1="514.9" x2="85.03" y2="514.9" stroke="#141414" stroke-width="0.6"/><line x1="100.9" y1="589.6" x2="100.9" y2="594.1" stroke="#222" stroke-width="1.2"/><text class="r" transform="translate(103.6,593.8) rotate(-90) scale(0.98,1)" font-size="7" text-anchor="end">Before AB</text><path d="M105.5,527.3 L105.5,527.9 L105.5,528.51 L105.51,529.11 L105.51,529.71 L105.51,530.31 L105.51,530.92 L105.52,531.52 L105.52,532.12 L105.52,532.73 L105.53,533.33 L105.53,533.93 L105.53,534.53 L105.53,535.14 L105.54,535.74 L105.54,536.34 L105.54,536.95 L105.54,537.55 L105.54,538.15 L105.55,538.76 L105.55,539.36 L105.55,539.96 L105.55,540.56 L105.55,541.17 L105.55,541.77 L105.55,542.37 L105.55,542.98 L105.55,543.58 L105.55,544.18 L105.5,544.78 L105.39,545.39 L105.24,545.99 L105.05,546.59 L104.84,547.2 L104.62,547.8 L104.4,548.4 L104.19,549 L104.01,549.61 L103.85,550.21 L103.7,550.81 L103.56,551.42 L103.42,552.02 L103.28,552.62 L103.15,553.22 L103.02,553.83 L102.88,554.43 L102.75,555.03 L102.61,555.64 L102.47,556.24 L102.29,556.84 L102.1,557.44 L101.95,558.05 L101.9,558.65 L101.92,559.25 L101.97,559.86 L102.05,560.46 L102.15,561.06 L102.25,561.67 L102.36,562.27 L102.47,562.87 L102.57,563.47 L102.66,564.08 L102.74,564.68 L102.81,565.28 L102.89,565.89 L102.96,566.49 L103.03,567.09 L103.1,567.69 L103.18,568.3 L103.25,568.9 L98.55,568.9 L98.62,568.3 L98.7,567.69 L98.77,567.09 L98.84,566.49 L98.91,565.89 L98.99,565.28 L99.06,564.68 L99.14,564.08 L99.23,563.47 L99.33,562.87 L99.44,562.27 L99.55,561.67 L99.65,561.06 L99.75,560.46 L99.83,559.86 L99.88,559.25 L99.9,558.65 L99.85,558.05 L99.7,557.44 L99.51,556.84 L99.33,556.24 L99.19,555.64 L99.05,555.03 L98.92,554.43 L98.78,553.83 L98.65,553.22 L98.52,552.62 L98.38,552.02 L98.24,551.42 L98.1,550.81 L97.95,550.21 L97.79,549.61 L97.61,549 L97.4,548.4 L97.18,547.8 L96.96,547.2 L96.75,546.59 L96.56,545.99 L96.41,545.39 L96.3,544.78 L96.25,544.18 L96.25,543.58 L96.25,542.98 L96.25,542.37 L96.25,541.77 L96.25,541.17 L96.25,540.56 L96.25,539.96 L96.25,539.36 L96.25,538.76 L96.26,538.15 L96.26,537.55 L96.26,536.95 L96.26,536.34 L96.26,535.74 L96.27,535.14 L96.27,534.53 L96.27,533.93 L96.27,533.33 L96.28,532.73 L96.28,532.12 L96.28,531.52 L96.29,530.92 L96.29,530.31 L96.29,529.71 L96.29,529.11 L96.3,528.51 L96.3,527.9 L96.3,527.3Z" fill="#E64B33" stroke="#141414" stroke-width="1.0" stroke-linejoin="round"/><line x1="96.25" y1="543.3" x2="105.55" y2="543.3" stroke="#141414" stroke-width="1.0"/><line x1="96.3" y1="528.6" x2="105.5" y2="528.6" stroke="#141414" stroke-width="0.6"/><line x1="99.3" y1="556.1" x2="102.5" y2="556.1" stroke="#141414" stroke-width="0.6"/><line x1="117.1" y1="589.6" x2="117.1" y2="594.1" stroke="#222" stroke-width="1.2"/><text class="r" transform="translate(119.8,593.8) rotate(-90) scale(0.98,1)" font-size="7" text-anchor="end">Pre AB</text><path d="M122.1,515.2 L122.02,515.81 L121.94,516.41 L121.86,517.02 L121.78,517.62 L121.7,518.23 L121.62,518.84 L121.54,519.44 L121.45,520.05 L121.37,520.66 L121.3,521.26 L121.22,521.87 L121.14,522.48 L121.07,523.08 L121,523.69 L120.93,524.29 L120.86,524.9 L120.8,525.51 L120.74,526.11 L120.68,526.72 L120.62,527.33 L120.57,527.93 L120.51,528.54 L120.46,529.14 L120.41,529.75 L120.36,530.36 L120.31,530.96 L120.26,531.57 L120.2,532.18 L120.15,532.78 L120.1,533.39 L120.04,533.99 L119.99,534.6 L119.93,535.21 L119.87,535.81 L119.8,536.42 L119.72,537.03 L119.64,537.63 L119.56,538.24 L119.48,538.84 L119.4,539.45 L119.31,540.06 L119.23,540.66 L119.15,541.27 L119.07,541.88 L119,542.48 L118.94,543.09 L118.88,543.69 L118.82,544.3 L118.78,544.91 L118.74,545.51 L118.72,546.12 L118.7,546.73 L118.7,547.33 L118.73,547.94 L118.8,548.54 L118.89,549.15 L119,549.76 L119.14,550.36 L119.29,550.97 L119.45,551.58 L119.62,552.18 L119.79,552.79 L119.96,553.39 L120.13,554 L120.29,554.61 L120.43,555.21 L120.56,555.82 L120.68,556.43 L120.79,557.03 L120.9,557.64 L121,558.24 L121.1,558.85 L121.2,559.46 L121.3,560.06 L121.4,560.67 L121.5,561.28 L121.6,561.88 L121.7,562.49 L121.8,563.09 L121.9,563.7 L112.3,563.7 L112.4,563.09 L112.5,562.49 L112.6,561.88 L112.7,561.28 L112.8,560.67 L112.9,560.06 L113,559.46 L113.1,558.85 L113.2,558.24 L113.3,557.64 L113.41,557.03 L113.52,556.43 L113.64,555.82 L113.77,555.21 L113.91,554.61 L114.07,554 L114.24,553.39 L114.41,552.79 L114.58,552.18 L114.75,551.58 L114.91,550.97 L115.06,550.36 L115.2,549.76 L115.31,549.15 L115.4,548.54 L115.47,547.94 L115.5,547.33 L115.5,546.73 L115.48,546.12 L115.46,545.51 L115.42,544.91 L115.38,544.3 L115.32,543.69 L115.26,543.09 L115.2,542.48 L115.13,541.88 L115.05,541.27 L114.97,540.66 L114.89,540.06 L114.8,539.45 L114.72,538.84 L114.64,538.24 L114.56,537.63 L114.48,537.03 L114.4,536.42 L114.33,535.81 L114.27,535.21 L114.21,534.6 L114.16,533.99 L114.1,533.39 L114.05,532.78 L114,532.18 L113.94,531.57 L113.89,530.96 L113.84,530.36 L113.79,529.75 L113.74,529.14 L113.69,528.54 L113.63,527.93 L113.58,527.33 L113.52,526.72 L113.46,526.11 L113.4,525.51 L113.34,524.9 L113.27,524.29 L113.2,523.69 L113.13,523.08 L113.06,522.48 L112.98,521.87 L112.9,521.26 L112.83,520.66 L112.75,520.05 L112.66,519.44 L112.58,518.84 L112.5,518.23 L112.42,517.62 L112.34,517.02 L112.26,516.41 L112.18,515.81 L112.1,515.2Z" fill="#4CBBD8" stroke="#141414" stroke-width="1.0" stroke-linejoin="round"/><line x1="114.28" y1="535.3" x2="119.92" y2="535.3" stroke="#141414" stroke-width="1.0"/><line x1="112.35" y1="517.1" x2="121.85" y2="517.1" stroke="#141414" stroke-width="0.6"/><line x1="133.2" y1="589.6" x2="133.2" y2="594.1" stroke="#222" stroke-width="1.2"/><text class="r" transform="translate(135.9,593.8) rotate(-90) scale(0.98,1)" font-size="7" text-anchor="end">During AB</text><path d="M137.05,524.2 L137.01,524.8 L136.96,525.4 L136.92,526 L136.88,526.6 L136.83,527.21 L136.79,527.81 L136.74,528.41 L136.7,529.01 L136.66,529.61 L136.61,530.21 L136.57,530.81 L136.53,531.41 L136.49,532.02 L136.45,532.62 L136.41,533.22 L136.37,533.82 L136.33,534.42 L136.3,535.02 L136.26,535.62 L136.23,536.22 L136.19,536.82 L136.15,537.43 L136.11,538.03 L136.07,538.63 L136.04,539.23 L136,539.83 L135.97,540.43 L135.95,541.03 L135.93,541.63 L135.91,542.23 L135.9,542.84 L135.9,543.44 L135.91,544.04 L135.93,544.64 L135.95,545.24 L135.99,545.84 L136.04,546.44 L136.09,547.04 L136.15,547.65 L136.21,548.25 L136.28,548.85 L136.36,549.45 L136.43,550.05 L136.51,550.65 L136.59,551.25 L136.67,551.85 L136.76,552.45 L136.84,553.06 L136.92,553.66 L136.99,554.26 L137.07,554.86 L137.14,555.46 L137.21,556.06 L137.28,556.66 L137.35,557.26 L137.44,557.87 L137.52,558.47 L137.61,559.07 L137.7,559.67 L137.79,560.27 L137.87,560.87 L137.95,561.47 L138.02,562.07 L138.08,562.67 L138.13,563.28 L138.17,563.88 L138.19,564.48 L138.2,565.08 L138.2,565.68 L138.19,566.28 L138.18,566.88 L138.16,567.48 L138.14,568.08 L138.12,568.69 L138.1,569.29 L138.08,569.89 L138.05,570.49 L138.02,571.09 L137.99,571.69 L137.96,572.29 L137.93,572.89 L137.9,573.5 L137.88,574.1 L137.85,574.7 L137.82,575.3 L137.8,575.9 L128.6,575.9 L128.58,575.3 L128.55,574.7 L128.52,574.1 L128.5,573.5 L128.47,572.89 L128.44,572.29 L128.41,571.69 L128.38,571.09 L128.35,570.49 L128.32,569.89 L128.3,569.29 L128.28,568.69 L128.26,568.08 L128.24,567.48 L128.22,566.88 L128.21,566.28 L128.2,565.68 L128.2,565.08 L128.21,564.48 L128.23,563.88 L128.27,563.28 L128.32,562.67 L128.38,562.07 L128.45,561.47 L128.53,560.87 L128.61,560.27 L128.7,559.67 L128.79,559.07 L128.88,558.47 L128.96,557.87 L129.05,557.26 L129.12,556.66 L129.19,556.06 L129.26,555.46 L129.33,554.86 L129.41,554.26 L129.48,553.66 L129.56,553.06 L129.64,552.45 L129.73,551.85 L129.81,551.25 L129.89,550.65 L129.97,550.05 L130.04,549.45 L130.12,548.85 L130.19,548.25 L130.25,547.65 L130.31,547.04 L130.36,546.44 L130.41,545.84 L130.45,545.24 L130.47,544.64 L130.49,544.04 L130.5,543.44 L130.5,542.84 L130.49,542.23 L130.47,541.63 L130.45,541.03 L130.43,540.43 L130.4,539.83 L130.36,539.23 L130.33,538.63 L130.29,538.03 L130.25,537.43 L130.21,536.82 L130.17,536.22 L130.14,535.62 L130.1,535.02 L130.07,534.42 L130.03,533.82 L129.99,533.22 L129.95,532.62 L129.91,532.02 L129.87,531.41 L129.83,530.81 L129.79,530.21 L129.74,529.61 L129.7,529.01 L129.66,528.41 L129.61,527.81 L129.57,527.21 L129.52,526.6 L129.48,526 L129.44,525.4 L129.39,524.8 L129.35,524.2Z" fill="#02A086" stroke="#141414" stroke-width="1.0" stroke-linejoin="round"/><line x1="129.19" y1="556.1" x2="137.21" y2="556.1" stroke="#141414" stroke-width="1.0"/><line x1="129.76" y1="529.9" x2="136.64" y2="529.9" stroke="#141414" stroke-width="0.6"/><line x1="128.42" y1="572" x2="137.98" y2="572" stroke="#141414" stroke-width="0.6"/><line x1="149.4" y1="589.6" x2="149.4" y2="594.1" stroke="#222" stroke-width="1.2"/><text class="r" transform="translate(152.1,593.8) rotate(-90) scale(0.98,1)" font-size="7" text-anchor="end">Post AB</text><path d="M154.5,533.4 L154.31,534.01 L154.12,534.61 L153.94,535.22 L153.75,535.82 L153.57,536.43 L153.39,537.04 L153.21,537.64 L153.02,538.25 L152.82,538.86 L152.62,539.46 L152.41,540.07 L152.21,540.67 L152.01,541.28 L151.81,541.89 L151.62,542.49 L151.44,543.1 L151.28,543.71 L151.13,544.31 L151,544.92 L150.88,545.52 L150.79,546.13 L150.73,546.74 L150.69,547.34 L150.65,547.95 L150.62,548.56 L150.59,549.16 L150.56,549.77 L150.53,550.38 L150.51,550.98 L150.48,551.59 L150.46,552.19 L150.45,552.8 L150.43,553.41 L150.42,554.01 L150.41,554.62 L150.4,555.23 L150.4,555.83 L150.4,556.44 L150.44,557.04 L150.49,557.65 L150.57,558.26 L150.66,558.86 L150.77,559.47 L150.88,560.08 L150.99,560.68 L151.1,561.29 L151.21,561.89 L151.3,562.5 L147.5,562.5 L147.59,561.89 L147.7,561.29 L147.81,560.68 L147.92,560.08 L148.03,559.47 L148.14,558.86 L148.23,558.26 L148.31,557.65 L148.36,557.04 L148.4,556.44 L148.4,555.83 L148.4,555.23 L148.39,554.62 L148.38,554.01 L148.37,553.41 L148.35,552.8 L148.34,552.19 L148.32,551.59 L148.29,550.98 L148.27,550.38 L148.24,549.77 L148.21,549.16 L148.18,548.56 L148.15,547.95 L148.11,547.34 L148.07,546.74 L148.01,546.13 L147.92,545.52 L147.8,544.92 L147.67,544.31 L147.52,543.71 L147.36,543.1 L147.18,542.49 L146.99,541.89 L146.79,541.28 L146.59,540.67 L146.39,540.07 L146.18,539.46 L145.98,538.86 L145.78,538.25 L145.59,537.64 L145.41,537.04 L145.23,536.43 L145.05,535.82 L144.86,535.22 L144.68,534.61 L144.49,534.01 L144.3,533.4Z" fill="#3D5A97" stroke="#141414" stroke-width="1.0" stroke-linejoin="round"/><line x1="148.4" y1="555.4" x2="150.4" y2="555.4" stroke="#141414" stroke-width="1.0"/></g><g><line x1="256.3" y1="477.1" x2="256.3" y2="589.6" stroke="#E62A1C" stroke-width="1.45" stroke-dasharray="3.6 2.1 1.2 2.8"/><path d="M189.4,477.8 V589.6 H323.3 V477.8" fill="none" stroke="#222" stroke-width="1.2"/><line x1="187.0" y1="589.6" x2="189.4" y2="589.6" stroke="#222" stroke-width="1.1"/><text transform="translate(185.5,592.5) scale(0.95,1)" font-size="7.2" text-anchor="end">0</text><line x1="187.0" y1="561.65" x2="189.4" y2="561.65" stroke="#222" stroke-width="1.1"/><text transform="translate(185.5,564.55) scale(0.95,1)" font-size="7.2" text-anchor="end">2</text><line x1="187.0" y1="533.7" x2="189.4" y2="533.7" stroke="#222" stroke-width="1.1"/><text transform="translate(185.5,536.6) scale(0.95,1)" font-size="7.2" text-anchor="end">4</text><line x1="187.0" y1="505.75" x2="189.4" y2="505.75" stroke="#222" stroke-width="1.1"/><text transform="translate(185.5,508.65) scale(0.95,1)" font-size="7.2" text-anchor="end">6</text><line x1="187.0" y1="477.8" x2="189.4" y2="477.8" stroke="#222" stroke-width="1.1"/><text transform="translate(185.5,480.7) scale(0.95,1)" font-size="7.2" text-anchor="end">8</text><line x1="323.3" y1="589.6" x2="325.40000000000003" y2="589.6" stroke="#222" stroke-width="1.1"/><text transform="translate(327,592.5) scale(0.95,1)" font-size="7.2">0</text><line x1="323.3" y1="561.65" x2="325.40000000000003" y2="561.65" stroke="#222" stroke-width="1.1"/><text transform="translate(327,564.55) scale(0.95,1)" font-size="7.2">1000</text><line x1="323.3" y1="533.7" x2="325.40000000000003" y2="533.7" stroke="#222" stroke-width="1.1"/><text transform="translate(327,536.6) scale(0.95,1)" font-size="7.2">2000</text><line x1="323.3" y1="505.75" x2="325.40000000000003" y2="505.75" stroke="#222" stroke-width="1.1"/><text transform="translate(327,508.65) scale(0.95,1)" font-size="7.2">3000</text><line x1="323.3" y1="477.8" x2="325.40000000000003" y2="477.8" stroke="#222" stroke-width="1.1"/><text transform="translate(327,480.7) scale(0.95,1)" font-size="7.2">4000</text><text transform="translate(224.9,480.7) scale(0.906,1)" font-size="7.2" text-anchor="middle">Shannon Index</text><text transform="translate(288.35,479.1) scale(0.906,1)" font-size="7.2" text-anchor="middle">Chao 1 Index</text><line x1="200.8" y1="589.6" x2="200.8" y2="594.1" stroke="#222" stroke-width="1.2"/><text class="r" transform="translate(203.5,593.8) rotate(-90) scale(0.98,1)" font-size="7" text-anchor="end">Before AB</text><path d="M204.55,524.8 L204.63,525.4 L204.73,526.01 L204.83,526.61 L204.93,527.21 L205.03,527.82 L205.12,528.42 L205.2,529.02 L205.27,529.63 L205.32,530.23 L205.35,530.83 L205.31,531.44 L205.11,532.04 L204.79,532.64 L204.45,533.25 L204.17,533.85 L204.05,534.46 L204.11,535.06 L204.28,535.66 L204.53,536.27 L204.8,536.87 L205.05,537.47 L205.25,538.08 L205.35,538.68 L205.32,539.28 L205.22,539.89 L205.07,540.49 L204.89,541.09 L204.71,541.7 L204.55,542.3 L197.05,542.3 L196.89,541.7 L196.71,541.09 L196.53,540.49 L196.38,539.89 L196.28,539.28 L196.25,538.68 L196.35,538.08 L196.55,537.47 L196.8,536.87 L197.07,536.27 L197.32,535.66 L197.49,535.06 L197.55,534.46 L197.43,533.85 L197.15,533.25 L196.81,532.64 L196.49,532.04 L196.29,531.44 L196.25,530.83 L196.28,530.23 L196.33,529.63 L196.4,529.02 L196.48,528.42 L196.57,527.82 L196.67,527.21 L196.77,526.61 L196.87,526.01 L196.97,525.4 L197.05,524.8Z" fill="#E64B33" stroke="#141414" stroke-width="1.0" stroke-linejoin="round"/><line x1="196.79" y1="532.6" x2="204.81" y2="532.6" stroke="#141414" stroke-width="1.0"/><line x1="196.72" y1="526.9" x2="204.88" y2="526.9" stroke="#141414" stroke-width="0.6"/><line x1="196.88" y1="536.7" x2="204.72" y2="536.7" stroke="#141414" stroke-width="0.6"/><line x1="216.4" y1="589.6" x2="216.4" y2="594.1" stroke="#222" stroke-width="1.2"/><text class="r" transform="translate(219.1,593.8) rotate(-90) scale(0.98,1)" font-size="7" text-anchor="end">Pre AB</text><path d="M220.75,513.8 L220.44,514.4 L220.08,515 L219.71,515.6 L219.32,516.2 L218.94,516.8 L218.57,517.4 L218.23,518 L217.93,518.6 L217.68,519.2 L217.51,519.8 L217.41,520.4 L217.42,521 L217.58,521.6 L217.87,522.2 L218.25,522.8 L218.69,523.4 L219.15,524 L219.6,524.6 L220,525.2 L220.32,525.8 L220.54,526.4 L220.74,527 L220.91,527.6 L221.07,528.2 L221.23,528.8 L221.4,529.4 L211.4,529.4 L211.57,528.8 L211.73,528.2 L211.89,527.6 L212.06,527 L212.26,526.4 L212.48,525.8 L212.8,525.2 L213.2,524.6 L213.65,524 L214.11,523.4 L214.55,522.8 L214.93,522.2 L215.22,521.6 L215.38,521 L215.39,520.4 L215.29,519.8 L215.12,519.2 L214.87,518.6 L214.57,518 L214.23,517.4 L213.86,516.8 L213.48,516.2 L213.09,515.6 L212.72,515 L212.36,514.4 L212.05,513.8Z" fill="#4CBBD8" stroke="#141414" stroke-width="1.0" stroke-linejoin="round"/><line x1="212.29" y1="526.3" x2="220.51" y2="526.3" stroke="#141414" stroke-width="1.0"/><line x1="212.66" y1="514.9" x2="220.14" y2="514.9" stroke="#141414" stroke-width="0.6"/><line x1="233.0" y1="589.6" x2="233.0" y2="594.1" stroke="#222" stroke-width="1.2"/><text class="r" transform="translate(235.7,593.8) rotate(-90) scale(0.98,1)" font-size="7" text-anchor="end">During AB</text><path d="M237.8,534.6 L237.66,535.22 L237.53,535.85 L237.4,536.47 L237.26,537.1 L237.09,537.72 L236.86,538.34 L236.49,538.97 L236.02,539.59 L235.52,540.21 L235.06,540.84 L234.7,541.46 L234.51,542.09 L234.51,542.71 L234.54,543.33 L234.6,543.96 L234.67,544.58 L234.75,545.2 L234.84,545.83 L234.94,546.45 L235.02,547.08 L235.1,547.7 L230.9,547.7 L230.98,547.08 L231.06,546.45 L231.16,545.83 L231.25,545.2 L231.33,544.58 L231.4,543.96 L231.46,543.33 L231.49,542.71 L231.49,542.09 L231.3,541.46 L230.94,540.84 L230.48,540.21 L229.98,539.59 L229.51,538.97 L229.14,538.34 L228.91,537.72 L228.74,537.1 L228.6,536.47 L228.47,535.85 L228.34,535.22 L228.2,534.6Z" fill="#02A086" stroke="#141414" stroke-width="1.0" stroke-linejoin="round"/><line x1="228.65" y1="536.7" x2="237.35" y2="536.7" stroke="#141414" stroke-width="1.0"/><line x1="249.0" y1="589.6" x2="249.0" y2="594.1" stroke="#222" stroke-width="1.2"/><text class="r" transform="translate(251.7,593.8) rotate(-90) scale(0.98,1)" font-size="7" text-anchor="end">Post AB</text><path d="M251.8,515.9 L251.96,516.5 L252.14,517.11 L252.34,517.71 L252.54,518.31 L252.74,518.92 L252.94,519.52 L253.14,520.12 L253.32,520.73 L253.48,521.33 L253.63,521.93 L253.75,522.54 L253.84,523.14 L253.89,523.74 L253.89,524.35 L253.63,524.95 L253.13,525.55 L252.52,526.15 L251.91,526.76 L251.45,527.36 L251.25,527.96 L251.28,528.57 L251.37,529.17 L251.51,529.77 L251.7,530.38 L251.91,530.98 L252.15,531.58 L252.4,532.19 L252.66,532.79 L252.91,533.39 L253.14,534 L253.35,534.6 L244.65,534.6 L244.86,534 L245.09,533.39 L245.34,532.79 L245.6,532.19 L245.85,531.58 L246.09,530.98 L246.3,530.38 L246.49,529.77 L246.63,529.17 L246.72,528.57 L246.75,527.96 L246.55,527.36 L246.09,526.76 L245.48,526.15 L244.87,525.55 L244.37,524.95 L244.11,524.35 L244.11,523.74 L244.16,523.14 L244.25,522.54 L244.37,521.93 L244.52,521.33 L244.68,520.73 L244.86,520.12 L245.06,519.52 L245.26,518.92 L245.46,518.31 L245.66,517.71 L245.86,517.11 L246.04,516.5 L246.2,515.9Z" fill="#3D5A97" stroke="#141414" stroke-width="1.0" stroke-linejoin="round"/><line x1="244.1" y1="524.2" x2="253.9" y2="524.2" stroke="#141414" stroke-width="1.0"/><line x1="264.0" y1="589.6" x2="264.0" y2="594.1" stroke="#222" stroke-width="1.2"/><text class="r" transform="translate(266.7,593.8) rotate(-90) scale(0.98,1)" font-size="7" text-anchor="end">Before AB</text><path d="M268.7,533.2 L268.6,533.8 L268.49,534.41 L268.39,535.01 L268.3,535.61 L268.2,536.22 L268.1,536.82 L267.99,537.43 L267.89,538.03 L267.78,538.63 L267.66,539.24 L267.53,539.84 L267.39,540.44 L267.22,541.05 L267.01,541.65 L266.8,542.26 L266.57,542.86 L266.34,543.46 L266.12,544.07 L265.92,544.67 L265.75,545.27 L265.62,545.88 L265.53,546.48 L265.5,547.09 L265.52,547.69 L265.58,548.29 L265.68,548.9 L265.81,549.5 L265.97,550.1 L266.15,550.71 L266.34,551.31 L266.53,551.91 L266.74,552.52 L266.94,553.12 L267.14,553.73 L267.32,554.33 L267.48,554.93 L267.65,555.54 L267.83,556.14 L268.03,556.74 L268.23,557.35 L268.42,557.95 L268.6,558.56 L268.74,559.16 L268.84,559.76 L268.9,560.37 L268.89,560.97 L268.87,561.57 L268.81,562.18 L268.75,562.78 L268.67,563.39 L268.59,563.99 L268.5,564.59 L268.42,565.2 L268.35,565.8 L259.65,565.8 L259.58,565.2 L259.5,564.59 L259.41,563.99 L259.33,563.39 L259.25,562.78 L259.19,562.18 L259.13,561.57 L259.11,560.97 L259.1,560.37 L259.16,559.76 L259.26,559.16 L259.4,558.56 L259.58,557.95 L259.77,557.35 L259.97,556.74 L260.17,556.14 L260.35,555.54 L260.52,554.93 L260.68,554.33 L260.86,553.73 L261.06,553.12 L261.26,552.52 L261.47,551.91 L261.66,551.31 L261.85,550.71 L262.03,550.1 L262.19,549.5 L262.32,548.9 L262.42,548.29 L262.48,547.69 L262.5,547.09 L262.47,546.48 L262.38,545.88 L262.25,545.27 L262.08,544.67 L261.88,544.07 L261.66,543.46 L261.43,542.86 L261.2,542.26 L260.99,541.65 L260.78,541.05 L260.61,540.44 L260.47,539.84 L260.34,539.24 L260.22,538.63 L260.11,538.03 L260.01,537.43 L259.9,536.82 L259.8,536.22 L259.7,535.61 L259.61,535.01 L259.51,534.41 L259.4,533.8 L259.3,533.2Z" fill="#E64B33" stroke="#141414" stroke-width="1.0" stroke-linejoin="round"/><line x1="261" y1="553.3" x2="267" y2="553.3" stroke="#141414" stroke-width="1.0"/><line x1="259.19" y1="562.2" x2="268.81" y2="562.2" stroke="#141414" stroke-width="0.6"/><line x1="280.1" y1="589.6" x2="280.1" y2="594.1" stroke="#222" stroke-width="1.2"/><text class="r" transform="translate(282.8,593.8) rotate(-90) scale(0.98,1)" font-size="7" text-anchor="end">Pre AB</text><path d="M285.3,525.3 L285.26,525.91 L285.22,526.51 L285.18,527.12 L285.13,527.72 L285.06,528.33 L284.96,528.94 L284.82,529.54 L284.67,530.15 L284.51,530.76 L284.34,531.36 L284.18,531.97 L284.03,532.57 L283.9,533.18 L283.81,533.79 L283.72,534.39 L283.64,535 L283.56,535.6 L283.49,536.21 L283.43,536.82 L283.36,537.42 L283.3,538.03 L283.24,538.64 L283.18,539.24 L283.12,539.85 L283.05,540.45 L282.99,541.06 L282.93,541.67 L282.87,542.27 L282.81,542.88 L282.76,543.48 L282.7,544.09 L282.64,544.7 L282.59,545.3 L282.53,545.91 L282.48,546.52 L282.43,547.12 L282.37,547.73 L282.32,548.33 L282.26,548.94 L282.2,549.55 L282.14,550.15 L282.07,550.76 L282.01,551.36 L281.95,551.97 L281.89,552.58 L281.84,553.18 L281.79,553.79 L281.75,554.4 L281.72,555 L281.71,555.61 L281.7,556.21 L281.71,556.82 L281.72,557.43 L281.75,558.03 L281.78,558.64 L281.82,559.24 L281.86,559.85 L281.91,560.46 L281.96,561.06 L282.01,561.67 L282.06,562.28 L282.11,562.88 L282.16,563.49 L282.21,564.09 L282.25,564.7 L277.95,564.7 L277.99,564.09 L278.04,563.49 L278.09,562.88 L278.14,562.28 L278.19,561.67 L278.24,561.06 L278.29,560.46 L278.34,559.85 L278.38,559.24 L278.42,558.64 L278.45,558.03 L278.48,557.43 L278.49,556.82 L278.5,556.21 L278.49,555.61 L278.48,555 L278.45,554.4 L278.41,553.79 L278.36,553.18 L278.31,552.58 L278.25,551.97 L278.19,551.36 L278.13,550.76 L278.06,550.15 L278,549.55 L277.94,548.94 L277.88,548.33 L277.83,547.73 L277.77,547.12 L277.72,546.52 L277.67,545.91 L277.61,545.3 L277.56,544.7 L277.5,544.09 L277.44,543.48 L277.39,542.88 L277.33,542.27 L277.27,541.67 L277.21,541.06 L277.15,540.45 L277.08,539.85 L277.02,539.24 L276.96,538.64 L276.9,538.03 L276.84,537.42 L276.77,536.82 L276.71,536.21 L276.64,535.6 L276.56,535 L276.48,534.39 L276.39,533.79 L276.3,533.18 L276.17,532.57 L276.02,531.97 L275.86,531.36 L275.69,530.76 L275.53,530.15 L275.38,529.54 L275.24,528.94 L275.14,528.33 L275.07,527.72 L275.02,527.12 L274.98,526.51 L274.94,525.91 L274.9,525.3Z" fill="#4CBBD8" stroke="#141414" stroke-width="1.0" stroke-linejoin="round"/><line x1="276.49" y1="534.5" x2="283.71" y2="534.5" stroke="#141414" stroke-width="1.0"/><line x1="274.99" y1="526.6" x2="285.21" y2="526.6" stroke="#141414" stroke-width="0.6"/><line x1="296.3" y1="589.6" x2="296.3" y2="594.1" stroke="#222" stroke-width="1.2"/><text class="r" transform="translate(299,593.8) rotate(-90) scale(0.98,1)" font-size="7" text-anchor="end">During AB</text><path d="M301.3,559.6 L300.87,560.22 L300.39,560.84 L299.89,561.46 L299.43,562.08 L299.06,562.7 L298.84,563.31 L298.83,563.93 L299.14,564.55 L299.68,565.17 L300.28,565.79 L300.8,566.41 L301.08,567.03 L301.08,567.65 L300.98,568.27 L300.82,568.89 L300.61,569.5 L300.37,570.12 L300.12,570.74 L299.86,571.36 L299.61,571.98 L299.4,572.6 L293.2,572.6 L292.99,571.98 L292.74,571.36 L292.48,570.74 L292.23,570.12 L291.99,569.5 L291.78,568.89 L291.62,568.27 L291.52,567.65 L291.52,567.03 L291.8,566.41 L292.32,565.79 L292.92,565.17 L293.46,564.55 L293.77,563.93 L293.76,563.31 L293.54,562.7 L293.17,562.08 L292.71,561.46 L292.21,560.84 L291.73,560.22 L291.3,559.6Z" fill="#02A086" stroke="#141414" stroke-width="1.0" stroke-linejoin="round"/><line x1="291.81" y1="566.4" x2="300.79" y2="566.4" stroke="#141414" stroke-width="1.0"/><line x1="312.7" y1="589.6" x2="312.7" y2="594.1" stroke="#222" stroke-width="1.2"/><text class="r" transform="translate(315.4,593.8) rotate(-90) scale(0.98,1)" font-size="7" text-anchor="end">Post AB</text><path d="M317.15,527.3 L317.19,527.9 L317.23,528.51 L317.27,529.11 L317.31,529.72 L317.35,530.32 L317.39,530.92 L317.42,531.53 L317.46,532.13 L317.49,532.74 L317.53,533.34 L317.56,533.95 L317.6,534.55 L317.63,535.15 L317.66,535.76 L317.68,536.36 L317.69,536.97 L317.7,537.57 L317.7,538.17 L317.68,538.78 L317.66,539.38 L317.62,539.99 L317.58,540.59 L317.53,541.19 L317.48,541.8 L317.43,542.4 L317.37,543.01 L317.32,543.61 L317.26,544.22 L317.21,544.82 L317.17,545.42 L317.12,546.03 L317.07,546.63 L317.01,547.24 L316.96,547.84 L316.9,548.44 L316.85,549.05 L316.79,549.65 L316.74,550.26 L316.69,550.86 L316.64,551.46 L316.6,552.07 L316.55,552.67 L316.51,553.28 L316.47,553.88 L316.43,554.48 L316.39,555.09 L316.35,555.69 L316.32,556.3 L316.28,556.9 L316.25,557.51 L316.21,558.11 L316.18,558.71 L316.14,559.32 L316.11,559.92 L316.07,560.53 L316.03,561.13 L316,561.73 L315.96,562.34 L315.93,562.94 L315.9,563.55 L315.88,564.15 L315.86,564.75 L315.84,565.36 L315.83,565.96 L315.82,566.57 L315.81,567.17 L315.8,567.78 L315.79,568.38 L315.78,568.98 L315.78,569.59 L315.77,570.19 L315.76,570.8 L315.75,571.4 L309.65,571.4 L309.64,570.8 L309.63,570.19 L309.62,569.59 L309.62,568.98 L309.61,568.38 L309.6,567.78 L309.59,567.17 L309.58,566.57 L309.57,565.96 L309.56,565.36 L309.54,564.75 L309.52,564.15 L309.5,563.55 L309.47,562.94 L309.44,562.34 L309.4,561.73 L309.37,561.13 L309.33,560.53 L309.29,559.92 L309.26,559.32 L309.22,558.71 L309.19,558.11 L309.15,557.51 L309.12,556.9 L309.08,556.3 L309.05,555.69 L309.01,555.09 L308.97,554.48 L308.93,553.88 L308.89,553.28 L308.85,552.67 L308.8,552.07 L308.76,551.46 L308.71,550.86 L308.66,550.26 L308.61,549.65 L308.55,549.05 L308.5,548.44 L308.44,547.84 L308.39,547.24 L308.33,546.63 L308.28,546.03 L308.23,545.42 L308.19,544.82 L308.14,544.22 L308.08,543.61 L308.03,543.01 L307.97,542.4 L307.92,541.8 L307.87,541.19 L307.82,540.59 L307.78,539.99 L307.74,539.38 L307.72,538.78 L307.7,538.17 L307.7,537.57 L307.71,536.97 L307.72,536.36 L307.74,535.76 L307.77,535.15 L307.8,534.55 L307.84,533.95 L307.87,533.34 L307.91,532.74 L307.94,532.13 L307.98,531.53 L308.01,530.92 L308.05,530.32 L308.09,529.72 L308.13,529.11 L308.17,528.51 L308.21,527.9 L308.25,527.3Z" fill="#3D5A97" stroke="#141414" stroke-width="1.0" stroke-linejoin="round"/><line x1="308.08" y1="543.6" x2="317.32" y2="543.6" stroke="#141414" stroke-width="1.0"/><line x1="307.96" y1="531.9" x2="317.44" y2="531.9" stroke="#141414" stroke-width="0.6"/><line x1="309.57" y1="565.8" x2="315.83" y2="565.8" stroke="#141414" stroke-width="0.6"/><path d="M217,509.1 V505.5 H232.5 V509.1" fill="none" stroke="#222" stroke-width="0.8"/><path d="M222.6,500.75L222.6,504.05M221.17,501.57L224.03,503.22M224.03,501.57L221.17,503.22" stroke="#1a1a1a" stroke-width="0.85" fill="none"/><path d="M226.8,500.75L226.8,504.05M225.37,501.57L228.23,503.22M228.23,501.57L225.37,503.22" stroke="#1a1a1a" stroke-width="0.85" fill="none"/><path d="M234,513.8 V510.3 H249 V513.8" fill="none" stroke="#222" stroke-width="0.8"/><path d="M239.2,505.95L239.2,509.25M237.77,506.78L240.63,508.43M240.63,506.78L237.77,508.43" stroke="#1a1a1a" stroke-width="0.85" fill="none"/><path d="M243.4,505.95L243.4,509.25M241.97,506.78L244.83,508.43M244.83,506.78L241.97,508.43" stroke="#1a1a1a" stroke-width="0.85" fill="none"/><path d="M280.1,522.8 V519.4 H296.3 V522.8" fill="none" stroke="#222" stroke-width="0.8"/><path d="M286.3,514.85L286.3,518.15M284.87,515.67L287.73,517.33M287.73,515.67L284.87,517.33" stroke="#1a1a1a" stroke-width="0.85" fill="none"/><path d="M290.5,514.85L290.5,518.15M289.07,515.67L291.93,517.33M291.93,515.67L289.07,517.33" stroke="#1a1a1a" stroke-width="0.85" fill="none"/></g><g><line x1="421.3" y1="477.1" x2="421.3" y2="589.6" stroke="#E62A1C" stroke-width="1.45" stroke-dasharray="3.6 2.1 1.2 2.8"/><path d="M353.3,477.8 V589.6 H491.5 V477.8" fill="none" stroke="#222" stroke-width="1.2"/><line x1="350.90000000000003" y1="589.6" x2="353.3" y2="589.6" stroke="#222" stroke-width="1.1"/><text transform="translate(349.4,592.5) scale(0.95,1)" font-size="7.2" text-anchor="end">0</text><line x1="350.90000000000003" y1="561.65" x2="353.3" y2="561.65" stroke="#222" stroke-width="1.1"/><text transform="translate(349.4,564.55) scale(0.95,1)" font-size="7.2" text-anchor="end">2</text><line x1="350.90000000000003" y1="533.7" x2="353.3" y2="533.7" stroke="#222" stroke-width="1.1"/><text transform="translate(349.4,536.6) scale(0.95,1)" font-size="7.2" text-anchor="end">4</text><line x1="350.90000000000003" y1="505.75" x2="353.3" y2="505.75" stroke="#222" stroke-width="1.1"/><text transform="translate(349.4,508.65) scale(0.95,1)" font-size="7.2" text-anchor="end">6</text><line x1="350.90000000000003" y1="477.8" x2="353.3" y2="477.8" stroke="#222" stroke-width="1.1"/><text transform="translate(349.4,480.7) scale(0.95,1)" font-size="7.2" text-anchor="end">8</text><line x1="491.5" y1="589.6" x2="493.6" y2="589.6" stroke="#222" stroke-width="1.1"/><text transform="translate(495.2,592.5) scale(0.95,1)" font-size="7.2">0</text><line x1="491.5" y1="561.65" x2="493.6" y2="561.65" stroke="#222" stroke-width="1.1"/><text transform="translate(495.2,564.55) scale(0.95,1)" font-size="7.2">1000</text><line x1="491.5" y1="533.7" x2="493.6" y2="533.7" stroke="#222" stroke-width="1.1"/><text transform="translate(495.2,536.6) scale(0.95,1)" font-size="7.2">2000</text><line x1="491.5" y1="505.75" x2="493.6" y2="505.75" stroke="#222" stroke-width="1.1"/><text transform="translate(495.2,508.65) scale(0.95,1)" font-size="7.2">3000</text><line x1="491.5" y1="477.8" x2="493.6" y2="477.8" stroke="#222" stroke-width="1.1"/><text transform="translate(495.2,480.7) scale(0.95,1)" font-size="7.2">4000</text><text transform="translate(388.3,480.7) scale(0.906,1)" font-size="7.2" text-anchor="middle">Shannon Index</text><text transform="translate(456,479.1) scale(0.906,1)" font-size="7.2" text-anchor="middle">Chao 1 Index</text><line x1="364.1" y1="589.6" x2="364.1" y2="594.1" stroke="#222" stroke-width="1.2"/><text class="r" transform="translate(366.8,593.8) rotate(-90) scale(0.98,1)" font-size="7" text-anchor="end">Before AB</text><path d="M365.8,519.4 L365.77,520.02 L365.74,520.64 L365.71,521.26 L365.7,521.87 L365.73,522.49 L365.82,523.11 L365.97,523.73 L366.15,524.35 L366.34,524.97 L366.57,525.59 L366.89,526.2 L367.23,526.82 L367.58,527.44 L367.88,528.06 L368.16,528.68 L368.44,529.3 L368.7,529.91 L368.9,530.53 L369.02,531.15 L369.11,531.77 L369.18,532.39 L369.2,533.01 L369.17,533.63 L369.11,534.24 L369.02,534.86 L368.93,535.48 L368.85,536.1 L359.35,536.1 L359.27,535.48 L359.18,534.86 L359.09,534.24 L359.03,533.63 L359,533.01 L359.02,532.39 L359.09,531.77 L359.18,531.15 L359.3,530.53 L359.5,529.91 L359.76,529.3 L360.04,528.68 L360.32,528.06 L360.62,527.44 L360.97,526.82 L361.31,526.2 L361.63,525.59 L361.86,524.97 L362.05,524.35 L362.23,523.73 L362.38,523.11 L362.47,522.49 L362.5,521.87 L362.49,521.26 L362.46,520.64 L362.43,520.02 L362.4,519.4Z" fill="#E64B33" stroke="#141414" stroke-width="1.0" stroke-linejoin="round"/><line x1="359.01" y1="533.3" x2="369.19" y2="533.3" stroke="#141414" stroke-width="1.0"/><line x1="359.24" y1="530.8" x2="368.96" y2="530.8" stroke="#141414" stroke-width="0.6"/><line x1="380.7" y1="589.6" x2="380.7" y2="594.1" stroke="#222" stroke-width="1.2"/><text class="r" transform="translate(383.4,593.8) rotate(-90) scale(0.98,1)" font-size="7" text-anchor="end">Pre AB</text><path d="M383.3,525.3 L384.06,525.9 L384.86,526.5 L385.36,527.1 L385.33,527.7 L385.02,528.3 L384.56,528.9 L384.04,529.5 L383.58,530.1 L383.27,530.7 L383.21,531.3 L383.3,531.9 L383.5,532.5 L383.76,533.1 L384.08,533.7 L384.43,534.3 L384.78,534.9 L385.11,535.5 L385.4,536.1 L376,536.1 L376.29,535.5 L376.62,534.9 L376.97,534.3 L377.32,533.7 L377.64,533.1 L377.9,532.5 L378.1,531.9 L378.19,531.3 L378.13,530.7 L377.82,530.1 L377.36,529.5 L376.84,528.9 L376.38,528.3 L376.07,527.7 L376.04,527.1 L376.54,526.5 L377.34,525.9 L378.1,525.3Z" fill="#4CBBD8" stroke="#141414" stroke-width="1.0" stroke-linejoin="round"/><line x1="377.68" y1="529.9" x2="383.72" y2="529.9" stroke="#141414" stroke-width="1.0"/><line x1="396.5" y1="589.6" x2="396.5" y2="594.1" stroke="#222" stroke-width="1.2"/><text class="r" transform="translate(399.2,593.8) rotate(-90) scale(0.98,1)" font-size="7" text-anchor="end">During AB</text><path d="M399.3,529.4 L399.65,530.01 L400.04,530.63 L400.45,531.24 L400.83,531.86 L401.14,532.47 L401.34,533.09 L401.4,533.7 L401.27,534.32 L401,534.93 L400.62,535.55 L400.19,536.16 L399.74,536.78 L399.33,537.39 L399,538.01 L398.7,538.62 L398.38,539.24 L398.08,539.85 L397.81,540.47 L397.61,541.08 L397.51,541.7 L397.51,542.31 L397.56,542.93 L397.64,543.54 L397.74,544.16 L397.85,544.77 L397.96,545.39 L398.05,546 L394.95,546 L395.04,545.39 L395.15,544.77 L395.26,544.16 L395.36,543.54 L395.44,542.93 L395.49,542.31 L395.49,541.7 L395.39,541.08 L395.19,540.47 L394.92,539.85 L394.62,539.24 L394.3,538.62 L394,538.01 L393.67,537.39 L393.26,536.78 L392.81,536.16 L392.38,535.55 L392,534.93 L391.73,534.32 L391.6,533.7 L391.66,533.09 L391.86,532.47 L392.17,531.86 L392.55,531.24 L392.96,530.63 L393.35,530.01 L393.7,529.4Z" fill="#02A086" stroke="#141414" stroke-width="1.0" stroke-linejoin="round"/><line x1="391.6" y1="533.6" x2="401.4" y2="533.6" stroke="#141414" stroke-width="1.0"/><line x1="412.5" y1="589.6" x2="412.5" y2="594.1" stroke="#222" stroke-width="1.2"/><text class="r" transform="translate(415.2,593.8) rotate(-90) scale(0.98,1)" font-size="7" text-anchor="end">Post AB</text><path d="M416.45,513.8 L416.32,514.41 L416.18,515.01 L416.05,515.62 L415.97,516.22 L415.98,516.83 L416.29,517.43 L416.73,518.04 L417.06,518.64 L417.35,519.25 L417.59,519.85 L417.7,520.46 L417.63,521.06 L417.46,521.67 L417.24,522.27 L417.03,522.88 L416.88,523.48 L416.73,524.09 L416.59,524.69 L416.45,525.3 L408.55,525.3 L408.41,524.69 L408.27,524.09 L408.12,523.48 L407.97,522.88 L407.76,522.27 L407.54,521.67 L407.37,521.06 L407.3,520.46 L407.41,519.85 L407.65,519.25 L407.94,518.64 L408.27,518.04 L408.71,517.43 L409.02,516.83 L409.03,516.22 L408.95,515.62 L408.82,515.01 L408.68,514.41 L408.55,513.8Z" fill="#3D5A97" stroke="#141414" stroke-width="1.0" stroke-linejoin="round"/><line x1="407.3" y1="520.5" x2="417.7" y2="520.5" stroke="#141414" stroke-width="1.0"/><line x1="409.05" y1="516.6" x2="415.95" y2="516.6" stroke="#141414" stroke-width="0.6"/><line x1="431.7" y1="589.6" x2="431.7" y2="594.1" stroke="#222" stroke-width="1.2"/><text class="r" transform="translate(434.4,593.8) rotate(-90) scale(0.98,1)" font-size="7" text-anchor="end">Before AB</text><path d="M433.6,518.2 L433.55,518.8 L433.51,519.4 L433.46,520 L433.41,520.61 L433.36,521.21 L433.32,521.81 L433.27,522.41 L433.21,523.01 L433.15,523.61 L433.08,524.21 L433.02,524.81 L432.96,525.42 L432.9,526.02 L432.86,526.62 L432.82,527.22 L432.8,527.82 L432.8,528.42 L432.85,529.02 L432.94,529.63 L433.07,530.23 L433.23,530.83 L433.4,531.43 L433.59,532.03 L433.79,532.63 L433.98,533.23 L434.15,533.83 L434.32,534.44 L434.51,535.04 L434.7,535.64 L434.9,536.24 L435.1,536.84 L435.29,537.44 L435.47,538.04 L435.62,538.65 L435.75,539.25 L435.88,539.85 L436.01,540.45 L436.13,541.05 L436.24,541.65 L436.34,542.25 L436.42,542.85 L436.47,543.46 L436.5,544.06 L436.49,544.66 L436.44,545.26 L436.35,545.86 L436.25,546.46 L436.12,547.06 L435.99,547.67 L435.86,548.27 L435.73,548.87 L435.59,549.47 L435.42,550.07 L435.23,550.67 L435.02,551.27 L434.82,551.87 L434.62,552.48 L434.44,553.08 L434.3,553.68 L434.2,554.28 L434.15,554.88 L434.15,555.48 L434.15,556.08 L434.15,556.69 L434.15,557.29 L434.15,557.89 L434.15,558.49 L434.15,559.09 L434.15,559.69 L434.15,560.29 L434.15,560.89 L434.15,561.5 L434.15,562.1 L434.15,562.7 L434.15,563.3 L429.25,563.3 L429.25,562.7 L429.25,562.1 L429.25,561.5 L429.25,560.89 L429.25,560.29 L429.25,559.69 L429.25,559.09 L429.25,558.49 L429.25,557.89 L429.25,557.29 L429.25,556.69 L429.25,556.08 L429.25,555.48 L429.25,554.88 L429.2,554.28 L429.1,553.68 L428.96,553.08 L428.78,552.48 L428.58,551.87 L428.38,551.27 L428.17,550.67 L427.98,550.07 L427.81,549.47 L427.67,548.87 L427.54,548.27 L427.41,547.67 L427.28,547.06 L427.15,546.46 L427.05,545.86 L426.96,545.26 L426.91,544.66 L426.9,544.06 L426.93,543.46 L426.98,542.85 L427.06,542.25 L427.16,541.65 L427.27,541.05 L427.39,540.45 L427.52,539.85 L427.65,539.25 L427.78,538.65 L427.93,538.04 L428.11,537.44 L428.3,536.84 L428.5,536.24 L428.7,535.64 L428.89,535.04 L429.08,534.44 L429.25,533.83 L429.42,533.23 L429.61,532.63 L429.81,532.03 L430,531.43 L430.17,530.83 L430.33,530.23 L430.46,529.63 L430.55,529.02 L430.6,528.42 L430.6,527.82 L430.58,527.22 L430.54,526.62 L430.5,526.02 L430.44,525.42 L430.38,524.81 L430.32,524.21 L430.25,523.61 L430.19,523.01 L430.13,522.41 L430.08,521.81 L430.04,521.21 L429.99,520.61 L429.94,520 L429.89,519.4 L429.85,518.8 L429.8,518.2Z" fill="#E64B33" stroke="#141414" stroke-width="1.0" stroke-linejoin="round"/><line x1="426.98" y1="545.4" x2="436.42" y2="545.4" stroke="#141414" stroke-width="1.0"/><line x1="429.22" y1="554.4" x2="434.18" y2="554.4" stroke="#141414" stroke-width="0.6"/><line x1="448.1" y1="589.6" x2="448.1" y2="594.1" stroke="#222" stroke-width="1.2"/><text class="r" transform="translate(450.8,593.8) rotate(-90) scale(0.98,1)" font-size="7" text-anchor="end">Pre AB</text><path d="M450.2,532.9 L450.09,533.51 L449.96,534.11 L449.82,534.72 L449.7,535.33 L449.59,535.94 L449.52,536.54 L449.5,537.15 L449.52,537.76 L449.59,538.36 L449.68,538.97 L449.8,539.58 L449.93,540.18 L450.07,540.79 L450.21,541.4 L450.35,542.01 L450.5,542.61 L450.67,543.22 L450.85,543.83 L451.05,544.43 L451.25,545.04 L451.44,545.65 L451.63,546.25 L451.81,546.86 L451.98,547.47 L452.17,548.08 L452.37,548.68 L452.57,549.29 L452.76,549.9 L452.94,550.5 L453.09,551.11 L453.22,551.72 L453.31,552.32 L453.35,552.93 L453.33,553.54 L453.24,554.15 L453.09,554.75 L452.9,555.36 L452.69,555.97 L452.49,556.57 L452.29,557.18 L452.04,557.79 L451.75,558.39 L451.43,559 L451.13,559.61 L450.88,560.22 L450.71,560.82 L450.65,561.43 L450.65,562.04 L450.65,562.64 L450.65,563.25 L450.65,563.86 L450.65,564.46 L450.65,565.07 L450.65,565.68 L450.65,566.29 L450.65,566.89 L450.65,567.5 L445.55,567.5 L445.55,566.89 L445.55,566.29 L445.55,565.68 L445.55,565.07 L445.55,564.46 L445.55,563.86 L445.55,563.25 L445.55,562.64 L445.55,562.04 L445.55,561.43 L445.49,560.82 L445.32,560.22 L445.07,559.61 L444.77,559 L444.45,558.39 L444.16,557.79 L443.91,557.18 L443.71,556.57 L443.51,555.97 L443.3,555.36 L443.11,554.75 L442.96,554.15 L442.87,553.54 L442.85,552.93 L442.89,552.32 L442.98,551.72 L443.11,551.11 L443.26,550.5 L443.44,549.9 L443.63,549.29 L443.83,548.68 L444.03,548.08 L444.22,547.47 L444.39,546.86 L444.57,546.25 L444.76,545.65 L444.95,545.04 L445.15,544.43 L445.35,543.83 L445.53,543.22 L445.7,542.61 L445.85,542.01 L445.99,541.4 L446.13,540.79 L446.27,540.18 L446.4,539.58 L446.52,538.97 L446.61,538.36 L446.68,537.76 L446.7,537.15 L446.68,536.54 L446.61,535.94 L446.5,535.33 L446.38,534.72 L446.24,534.11 L446.11,533.51 L446,532.9Z" fill="#4CBBD8" stroke="#141414" stroke-width="1.0" stroke-linejoin="round"/><line x1="443.02" y1="554.4" x2="453.18" y2="554.4" stroke="#141414" stroke-width="1.0"/><line x1="445.55" y1="561.4" x2="450.65" y2="561.4" stroke="#141414" stroke-width="0.6"/><line x1="464.1" y1="589.6" x2="464.1" y2="594.1" stroke="#222" stroke-width="1.2"/><text class="r" transform="translate(466.8,593.8) rotate(-90) scale(0.98,1)" font-size="7" text-anchor="end">During AB</text><path d="M465.4,562.6 L466.17,563.15 L467.48,563.7 L468.77,564.25 L469.2,564.8 L459,564.8 L459.43,564.25 L460.72,563.7 L462.03,563.15 L462.8,562.6Z" fill="#02A086" stroke="#141414" stroke-width="1.0" stroke-linejoin="round"/><line x1="459.15" y1="564.6" x2="469.05" y2="564.6" stroke="#141414" stroke-width="1.0"/><line x1="480.3" y1="589.6" x2="480.3" y2="594.1" stroke="#222" stroke-width="1.2"/><text class="r" transform="translate(483,593.8) rotate(-90) scale(0.98,1)" font-size="7" text-anchor="end">Post AB</text><path d="M485.4,501.4 L485.39,502.01 L485.39,502.61 L485.38,503.22 L485.38,503.82 L485.37,504.43 L485.37,505.04 L485.36,505.64 L485.36,506.25 L485.35,506.86 L485.34,507.46 L485.34,508.07 L485.33,508.67 L485.32,509.28 L485.31,509.89 L485.3,510.49 L485.27,511.1 L485.23,511.7 L485.17,512.31 L485.1,512.92 L485.02,513.52 L484.93,514.13 L484.83,514.73 L484.72,515.34 L484.61,515.95 L484.5,516.55 L484.39,517.16 L484.27,517.77 L484.16,518.37 L484.05,518.98 L483.94,519.58 L483.85,520.19 L483.76,520.8 L483.66,521.4 L483.57,522.01 L483.47,522.61 L483.37,523.22 L483.27,523.83 L483.17,524.43 L483.07,525.04 L482.97,525.64 L482.87,526.25 L482.78,526.86 L482.68,527.46 L482.58,528.07 L482.49,528.68 L482.4,529.28 L482.31,529.89 L482.23,530.49 L482.15,531.1 L482.07,531.71 L482,532.31 L481.94,532.92 L481.88,533.52 L481.82,534.13 L481.76,534.74 L481.69,535.34 L481.63,535.95 L481.57,536.56 L481.51,537.16 L481.46,537.77 L481.4,538.37 L481.35,538.98 L481.31,539.59 L481.27,540.19 L481.23,540.8 L481.2,541.4 L481.18,542.01 L481.16,542.62 L481.15,543.22 L481.15,543.83 L481.16,544.43 L481.17,545.04 L481.19,545.65 L481.21,546.25 L481.24,546.86 L481.27,547.47 L481.3,548.07 L481.34,548.68 L481.38,549.28 L481.42,549.89 L481.46,550.5 L481.5,551.1 L481.55,551.71 L481.59,552.31 L481.63,552.92 L481.68,553.53 L481.73,554.13 L481.78,554.74 L481.84,555.34 L481.9,555.95 L481.96,556.56 L482.02,557.16 L482.09,557.77 L482.15,558.38 L482.22,558.98 L482.28,559.59 L482.34,560.19 L482.4,560.8 L478.2,560.8 L478.26,560.19 L478.32,559.59 L478.38,558.98 L478.45,558.38 L478.51,557.77 L478.58,557.16 L478.64,556.56 L478.7,555.95 L478.76,555.34 L478.82,554.74 L478.87,554.13 L478.92,553.53 L478.97,552.92 L479.01,552.31 L479.05,551.71 L479.1,551.1 L479.14,550.5 L479.18,549.89 L479.22,549.28 L479.26,548.68 L479.3,548.07 L479.33,547.47 L479.36,546.86 L479.39,546.25 L479.41,545.65 L479.43,545.04 L479.44,544.43 L479.45,543.83 L479.45,543.22 L479.44,542.62 L479.42,542.01 L479.4,541.4 L479.37,540.8 L479.33,540.19 L479.29,539.59 L479.25,538.98 L479.2,538.37 L479.14,537.77 L479.09,537.16 L479.03,536.56 L478.97,535.95 L478.91,535.34 L478.84,534.74 L478.78,534.13 L478.72,533.52 L478.66,532.92 L478.6,532.31 L478.53,531.71 L478.45,531.1 L478.37,530.49 L478.29,529.89 L478.2,529.28 L478.11,528.68 L478.02,528.07 L477.92,527.46 L477.82,526.86 L477.73,526.25 L477.63,525.64 L477.53,525.04 L477.43,524.43 L477.33,523.83 L477.23,523.22 L477.13,522.61 L477.03,522.01 L476.94,521.4 L476.84,520.8 L476.75,520.19 L476.66,519.58 L476.55,518.98 L476.44,518.37 L476.33,517.77 L476.21,517.16 L476.1,516.55 L475.99,515.95 L475.88,515.34 L475.77,514.73 L475.67,514.13 L475.58,513.52 L475.5,512.92 L475.43,512.31 L475.37,511.7 L475.33,511.1 L475.3,510.49 L475.29,509.89 L475.28,509.28 L475.27,508.67 L475.26,508.07 L475.26,507.46 L475.25,506.86 L475.24,506.25 L475.24,505.64 L475.23,505.04 L475.23,504.43 L475.22,503.82 L475.22,503.22 L475.21,502.61 L475.21,502.01 L475.2,501.4Z" fill="#3D5A97" stroke="#141414" stroke-width="1.0" stroke-linejoin="round"/><line x1="475.3" y1="510.3" x2="485.3" y2="510.3" stroke="#141414" stroke-width="1.0"/><line x1="475.23" y1="504.6" x2="485.37" y2="504.6" stroke="#141414" stroke-width="0.6"/><path d="M380.3,498.7 V495.8 H413.2 V498.7" fill="none" stroke="#222" stroke-width="0.8"/><path d="M394.9,491.45L394.9,494.75M393.47,492.28L396.33,493.93M396.33,492.28L393.47,493.93" stroke="#1a1a1a" stroke-width="0.85" fill="none"/><path d="M399.1,491.45L399.1,494.75M397.67,492.28L400.53,493.93M400.53,492.28L397.67,493.93" stroke="#1a1a1a" stroke-width="0.85" fill="none"/><path d="M394.5,506.6 V503.4 H413.2 V506.6" fill="none" stroke="#222" stroke-width="0.8"/><path d="M401.5,499.75L401.5,503.05M400.07,500.57L402.93,502.22M402.93,500.57L400.07,502.22" stroke="#1a1a1a" stroke-width="0.85" fill="none"/><path d="M405.7,499.75L405.7,503.05M404.27,500.57L407.13,502.22M407.13,500.57L404.27,502.22" stroke="#1a1a1a" stroke-width="0.85" fill="none"/><path d="M431.6,510.3 V506.6 H462.8 V510.3" fill="none" stroke="#222" stroke-width="0.8"/><path d="M445.1,502.45L445.1,505.75M443.67,503.28L446.53,504.93M446.53,503.28L443.67,504.93" stroke="#1a1a1a" stroke-width="0.85" fill="none"/><path d="M449.3,502.45L449.3,505.75M447.87,503.28L450.73,504.93M450.73,503.28L447.87,504.93" stroke="#1a1a1a" stroke-width="0.85" fill="none"/><path d="M462.8,497.8 V494.5 H481.1 V497.8" fill="none" stroke="#222" stroke-width="0.8"/><path d="M469.4,490.35L469.4,493.65M467.97,491.18L470.83,492.82M470.83,491.18L467.97,492.82" stroke="#1a1a1a" stroke-width="0.85" fill="none"/><path d="M473.6,490.35L473.6,493.65M472.17,491.18L475.03,492.82M475.03,491.18L472.17,492.82" stroke="#1a1a1a" stroke-width="0.85" fill="none"/></g><g><line x1="588.3" y1="477.1" x2="588.3" y2="589.6" stroke="#E62A1C" stroke-width="1.45" stroke-dasharray="3.6 2.1 1.2 2.8"/><path d="M520.0,477.8 V589.6 H657.2 V477.8" fill="none" stroke="#222" stroke-width="1.2"/><line x1="517.6" y1="589.6" x2="520.0" y2="589.6" stroke="#222" stroke-width="1.1"/><text transform="translate(516.1,592.5) scale(0.95,1)" font-size="7.2" text-anchor="end">0</text><line x1="517.6" y1="561.65" x2="520.0" y2="561.65" stroke="#222" stroke-width="1.1"/><text transform="translate(516.1,564.55) scale(0.95,1)" font-size="7.2" text-anchor="end">2</text><line x1="517.6" y1="533.7" x2="520.0" y2="533.7" stroke="#222" stroke-width="1.1"/><text transform="translate(516.1,536.6) scale(0.95,1)" font-size="7.2" text-anchor="end">4</text><line x1="517.6" y1="505.75" x2="520.0" y2="505.75" stroke="#222" stroke-width="1.1"/><text transform="translate(516.1,508.65) scale(0.95,1)" font-size="7.2" text-anchor="end">6</text><line x1="517.6" y1="477.8" x2="520.0" y2="477.8" stroke="#222" stroke-width="1.1"/><text transform="translate(516.1,480.7) scale(0.95,1)" font-size="7.2" text-anchor="end">8</text><line x1="657.2" y1="589.6" x2="659.3000000000001" y2="589.6" stroke="#222" stroke-width="1.1"/><text transform="translate(660.9,592.5) scale(0.95,1)" font-size="7.2">0</text><line x1="657.2" y1="561.65" x2="659.3000000000001" y2="561.65" stroke="#222" stroke-width="1.1"/><text transform="translate(660.9,564.55) scale(0.95,1)" font-size="7.2">1000</text><line x1="657.2" y1="533.7" x2="659.3000000000001" y2="533.7" stroke="#222" stroke-width="1.1"/><text transform="translate(660.9,536.6) scale(0.95,1)" font-size="7.2">2000</text><line x1="657.2" y1="505.75" x2="659.3000000000001" y2="505.75" stroke="#222" stroke-width="1.1"/><text transform="translate(660.9,508.65) scale(0.95,1)" font-size="7.2">3000</text><line x1="657.2" y1="477.8" x2="659.3000000000001" y2="477.8" stroke="#222" stroke-width="1.1"/><text transform="translate(660.9,480.7) scale(0.95,1)" font-size="7.2">4000</text><text transform="translate(555.5,480.7) scale(0.906,1)" font-size="7.2" text-anchor="middle">Shannon Index</text><text transform="translate(621.2,479.1) scale(0.906,1)" font-size="7.2" text-anchor="middle">Chao 1 Index</text><line x1="530.8" y1="589.6" x2="530.8" y2="594.1" stroke="#222" stroke-width="1.2"/><text class="r" transform="translate(533.5,593.8) rotate(-90) scale(0.98,1)" font-size="7" text-anchor="end">Before AB</text><path d="M533.9,523.2 L534.51,523.81 L535.18,524.42 L535.74,525.03 L536,525.63 L535.77,526.24 L535.16,526.85 L534.55,527.46 L534.3,528.07 L534.28,528.67 L534.27,529.28 L534.26,529.89 L534.25,530.5 L527.35,530.5 L527.34,529.89 L527.33,529.28 L527.32,528.67 L527.3,528.07 L527.05,527.46 L526.44,526.85 L525.83,526.24 L525.6,525.63 L525.86,525.03 L526.42,524.42 L527.09,523.81 L527.7,523.2Z" fill="#E64B33" stroke="#141414" stroke-width="1.0" stroke-linejoin="round"/><line x1="525.6" y1="525.7" x2="536" y2="525.7" stroke="#141414" stroke-width="1.0"/><line x1="527.3" y1="528" x2="534.3" y2="528" stroke="#141414" stroke-width="0.6"/><line x1="547.4" y1="589.6" x2="547.4" y2="594.1" stroke="#222" stroke-width="1.2"/><text class="r" transform="translate(550.1,593.8) rotate(-90) scale(0.98,1)" font-size="7" text-anchor="end">Pre AB</text><path d="M552.1,520.7 L551.77,521.32 L551.4,521.93 L551.01,522.55 L550.62,523.16 L550.25,523.78 L549.92,524.39 L549.65,525.01 L549.47,525.62 L549.4,526.24 L549.47,526.85 L549.69,527.47 L550.03,528.08 L550.43,528.7 L550.87,529.32 L551.29,529.93 L551.66,530.55 L551.94,531.16 L552.09,531.78 L552.07,532.39 L551.94,533.01 L551.73,533.62 L551.44,534.24 L551.12,534.85 L550.79,535.47 L550.48,536.08 L550.2,536.7 L544.6,536.7 L544.32,536.08 L544.01,535.47 L543.68,534.85 L543.36,534.24 L543.07,533.62 L542.86,533.01 L542.73,532.39 L542.71,531.78 L542.86,531.16 L543.14,530.55 L543.51,529.93 L543.93,529.32 L544.37,528.7 L544.77,528.08 L545.11,527.47 L545.33,526.85 L545.4,526.24 L545.33,525.62 L545.15,525.01 L544.88,524.39 L544.55,523.78 L544.18,523.16 L543.79,522.55 L543.4,521.93 L543.03,521.32 L542.7,520.7Z" fill="#4CBBD8" stroke="#141414" stroke-width="1.0" stroke-linejoin="round"/><line x1="543.53" y1="529.9" x2="551.27" y2="529.9" stroke="#141414" stroke-width="1.0"/><line x1="542.7" y1="532" x2="552.1" y2="532" stroke="#141414" stroke-width="0.6"/><line x1="563.6" y1="589.6" x2="563.6" y2="594.1" stroke="#222" stroke-width="1.2"/><text class="r" transform="translate(566.3,593.8) rotate(-90) scale(0.98,1)" font-size="7" text-anchor="end">During AB</text><path d="M565.1,526.3 L565.13,526.92 L565.16,527.55 L565.23,528.17 L565.52,528.8 L565.95,529.42 L566.38,530.05 L566.85,530.67 L567.4,531.3 L567.93,531.92 L568.34,532.55 L568.54,533.17 L568.49,533.8 L568.3,534.42 L568.03,535.05 L567.74,535.67 L567.47,536.3 L567.19,536.92 L566.88,537.55 L566.56,538.17 L566.25,538.8 L560.95,538.8 L560.64,538.17 L560.32,537.55 L560.01,536.92 L559.73,536.3 L559.46,535.67 L559.17,535.05 L558.9,534.42 L558.71,533.8 L558.66,533.17 L558.86,532.55 L559.27,531.92 L559.8,531.3 L560.35,530.67 L560.82,530.05 L561.25,529.42 L561.68,528.8 L561.97,528.17 L562.04,527.55 L562.07,526.92 L562.1,526.3Z" fill="#02A086" stroke="#141414" stroke-width="1.0" stroke-linejoin="round"/><line x1="558.89" y1="532.5" x2="568.31" y2="532.5" stroke="#141414" stroke-width="1.0"/><line x1="580.2" y1="589.6" x2="580.2" y2="594.1" stroke="#222" stroke-width="1.2"/><text class="r" transform="translate(582.9,593.8) rotate(-90) scale(0.98,1)" font-size="7" text-anchor="end">Post AB</text><path d="M584.7,514.5 L584.23,515 L583.7,515.5 L582.99,516 L582.2,516.5 L578.2,516.5 L577.41,516 L576.7,515.5 L576.18,515 L575.7,514.5Z" fill="#3D5A97" stroke="#141414" stroke-width="1.0" stroke-linejoin="round"/><line x1="576.18" y1="515" x2="584.23" y2="515" stroke="#141414" stroke-width="1.0"/><line x1="597.0" y1="589.6" x2="597.0" y2="594.1" stroke="#222" stroke-width="1.2"/><text class="r" transform="translate(599.7,593.8) rotate(-90) scale(0.98,1)" font-size="7" text-anchor="end">Before AB</text><path d="M600.85,533.6 L600.95,534.21 L601.07,534.82 L601.19,535.43 L601.32,536.03 L601.45,536.64 L601.57,537.25 L601.69,537.86 L601.8,538.47 L601.9,539.08 L601.98,539.69 L602.05,540.3 L602.09,540.9 L602.1,541.51 L602.06,542.12 L601.95,542.73 L601.78,543.34 L601.57,543.95 L601.33,544.56 L601.07,545.17 L600.8,545.77 L600.55,546.38 L600.31,546.99 L600.11,547.6 L599.95,548.21 L599.79,548.82 L599.63,549.43 L599.47,550.03 L599.31,550.64 L599.17,551.25 L599.04,551.86 L598.92,552.47 L598.84,553.08 L598.78,553.69 L598.75,554.3 L598.75,554.9 L598.77,555.51 L598.79,556.12 L598.81,556.73 L598.84,557.34 L598.88,557.95 L598.92,558.56 L598.96,559.17 L598.99,559.77 L599.03,560.38 L599.07,560.99 L599.1,561.6 L594.9,561.6 L594.93,560.99 L594.97,560.38 L595.01,559.77 L595.04,559.17 L595.08,558.56 L595.12,557.95 L595.16,557.34 L595.19,556.73 L595.21,556.12 L595.23,555.51 L595.25,554.9 L595.25,554.3 L595.22,553.69 L595.16,553.08 L595.08,552.47 L594.96,551.86 L594.83,551.25 L594.69,550.64 L594.53,550.03 L594.37,549.43 L594.21,548.82 L594.05,548.21 L593.89,547.6 L593.69,546.99 L593.45,546.38 L593.2,545.77 L592.93,545.17 L592.67,544.56 L592.43,543.95 L592.22,543.34 L592.05,542.73 L591.94,542.12 L591.9,541.51 L591.91,540.9 L591.95,540.3 L592.02,539.69 L592.1,539.08 L592.2,538.47 L592.31,537.86 L592.43,537.25 L592.55,536.64 L592.68,536.03 L592.81,535.43 L592.93,534.82 L593.05,534.21 L593.15,533.6Z" fill="#E64B33" stroke="#141414" stroke-width="1.0" stroke-linejoin="round"/><line x1="591.9" y1="541.5" x2="602.1" y2="541.5" stroke="#141414" stroke-width="1.0"/><line x1="592.69" y1="536" x2="601.31" y2="536" stroke="#141414" stroke-width="0.6"/><line x1="613.2" y1="589.6" x2="613.2" y2="594.1" stroke="#222" stroke-width="1.2"/><text class="r" transform="translate(615.9,593.8) rotate(-90) scale(0.98,1)" font-size="7" text-anchor="end">Pre AB</text><path d="M615.7,527 L615.77,527.6 L615.85,528.2 L615.92,528.8 L615.99,529.41 L616.07,530.01 L616.14,530.61 L616.21,531.21 L616.29,531.81 L616.36,532.41 L616.44,533.01 L616.51,533.62 L616.59,534.22 L616.68,534.82 L616.76,535.42 L616.86,536.02 L616.97,536.62 L617.09,537.23 L617.21,537.83 L617.34,538.43 L617.46,539.03 L617.58,539.63 L617.7,540.23 L617.8,540.83 L617.9,541.44 L617.98,542.04 L618.04,542.64 L618.08,543.24 L618.1,543.84 L618.09,544.44 L618.04,545.04 L617.95,545.65 L617.84,546.25 L617.7,546.85 L617.54,547.45 L617.36,548.05 L617.18,548.65 L616.98,549.25 L616.78,549.86 L616.59,550.46 L616.4,551.06 L616.23,551.66 L616.07,552.26 L615.94,552.86 L615.83,553.46 L615.75,554.07 L615.71,554.67 L615.7,555.27 L615.7,555.87 L615.7,556.47 L615.7,557.07 L615.7,557.67 L615.7,558.28 L615.7,558.88 L615.7,559.48 L615.7,560.08 L615.7,560.68 L615.7,561.28 L615.7,561.89 L615.7,562.49 L615.7,563.09 L615.7,563.69 L615.7,564.29 L615.7,564.89 L615.7,565.49 L615.7,566.1 L615.7,566.7 L615.7,567.3 L615.7,567.9 L610.7,567.9 L610.7,567.3 L610.7,566.7 L610.7,566.1 L610.7,565.49 L610.7,564.89 L610.7,564.29 L610.7,563.69 L610.7,563.09 L610.7,562.49 L610.7,561.89 L610.7,561.28 L610.7,560.68 L610.7,560.08 L610.7,559.48 L610.7,558.88 L610.7,558.28 L610.7,557.67 L610.7,557.07 L610.7,556.47 L610.7,555.87 L610.7,555.27 L610.69,554.67 L610.65,554.07 L610.57,553.46 L610.46,552.86 L610.33,552.26 L610.17,551.66 L610,551.06 L609.81,550.46 L609.62,549.86 L609.42,549.25 L609.22,548.65 L609.04,548.05 L608.86,547.45 L608.7,546.85 L608.56,546.25 L608.45,545.65 L608.36,545.04 L608.31,544.44 L608.3,543.84 L608.32,543.24 L608.36,542.64 L608.42,542.04 L608.5,541.44 L608.6,540.83 L608.7,540.23 L608.82,539.63 L608.94,539.03 L609.06,538.43 L609.19,537.83 L609.31,537.23 L609.43,536.62 L609.54,536.02 L609.64,535.42 L609.72,534.82 L609.81,534.22 L609.89,533.62 L609.96,533.01 L610.04,532.41 L610.11,531.81 L610.19,531.21 L610.26,530.61 L610.33,530.01 L610.41,529.41 L610.48,528.8 L610.55,528.2 L610.63,527.6 L610.7,527Z" fill="#4CBBD8" stroke="#141414" stroke-width="1.0" stroke-linejoin="round"/><line x1="608.3" y1="544" x2="618.1" y2="544" stroke="#141414" stroke-width="1.0"/><line x1="610.03" y1="532.5" x2="616.37" y2="532.5" stroke="#141414" stroke-width="0.6"/><line x1="610.7" y1="560.6" x2="615.7" y2="560.6" stroke="#141414" stroke-width="0.6"/><line x1="629.4" y1="589.6" x2="629.4" y2="594.1" stroke="#222" stroke-width="1.2"/><text class="r" transform="translate(632.1,593.8) rotate(-90) scale(0.98,1)" font-size="7" text-anchor="end">During AB</text><path d="M634.5,560.6 L634.56,561.21 L634.63,561.83 L634.68,562.44 L634.7,563.05 L634.52,563.67 L634.15,564.28 L633.72,564.89 L633.29,565.5 L632.76,566.12 L632.21,566.73 L631.7,567.34 L631.31,567.96 L630.94,568.57 L630.63,569.18 L630.5,569.8 L630.54,570.41 L630.64,571.02 L630.75,571.63 L630.83,572.25 L630.9,572.86 L630.97,573.47 L631.03,574.09 L631.1,574.7 L627.7,574.7 L627.77,574.09 L627.83,573.47 L627.9,572.86 L627.97,572.25 L628.05,571.63 L628.16,571.02 L628.26,570.41 L628.3,569.8 L628.17,569.18 L627.86,568.57 L627.49,567.96 L627.1,567.34 L626.59,566.73 L626.04,566.12 L625.51,565.5 L625.08,564.89 L624.65,564.28 L624.28,563.67 L624.1,563.05 L624.12,562.44 L624.17,561.83 L624.24,561.21 L624.3,560.6Z" fill="#02A086" stroke="#141414" stroke-width="1.0" stroke-linejoin="round"/><line x1="624.67" y1="564.3" x2="634.13" y2="564.3" stroke="#141414" stroke-width="1.0"/><line x1="645.4" y1="589.6" x2="645.4" y2="594.1" stroke="#222" stroke-width="1.2"/><text class="r" transform="translate(648.1,593.8) rotate(-90) scale(0.98,1)" font-size="7" text-anchor="end">Post AB</text><path d="M650.4,527 L650.36,527.61 L650.33,528.21 L650.3,528.82 L650.26,529.43 L650.22,530.03 L650.18,530.64 L650.13,531.25 L650.06,531.86 L649.98,532.46 L649.89,533.07 L649.79,533.68 L649.68,534.28 L649.56,534.89 L649.43,535.5 L649.3,536.1 L649.16,536.71 L649.02,537.32 L648.88,537.92 L648.73,538.53 L648.59,539.14 L648.44,539.74 L648.3,540.35 L648.16,540.96 L648.03,541.57 L647.9,542.17 L647.77,542.78 L647.66,543.39 L647.55,543.99 L647.46,544.6 L647.37,545.21 L647.29,545.81 L647.2,546.42 L647.11,547.03 L647.02,547.63 L646.94,548.24 L646.85,548.85 L646.77,549.46 L646.7,550.06 L646.63,550.67 L646.56,551.28 L646.51,551.88 L646.47,552.49 L646.43,553.1 L646.41,553.7 L646.4,554.31 L646.4,554.92 L646.42,555.52 L646.44,556.13 L646.48,556.74 L646.52,557.34 L646.56,557.95 L646.61,558.56 L646.66,559.17 L646.71,559.77 L646.76,560.38 L646.81,560.99 L646.86,561.59 L646.9,562.2 L643.9,562.2 L643.94,561.59 L643.99,560.99 L644.04,560.38 L644.09,559.77 L644.14,559.17 L644.19,558.56 L644.24,557.95 L644.28,557.34 L644.32,556.74 L644.36,556.13 L644.38,555.52 L644.4,554.92 L644.4,554.31 L644.39,553.7 L644.37,553.1 L644.33,552.49 L644.29,551.88 L644.24,551.28 L644.17,550.67 L644.1,550.06 L644.03,549.46 L643.95,548.85 L643.86,548.24 L643.78,547.63 L643.69,547.03 L643.6,546.42 L643.51,545.81 L643.43,545.21 L643.34,544.6 L643.25,543.99 L643.14,543.39 L643.03,542.78 L642.9,542.17 L642.77,541.57 L642.64,540.96 L642.5,540.35 L642.36,539.74 L642.21,539.14 L642.07,538.53 L641.92,537.92 L641.78,537.32 L641.64,536.71 L641.5,536.1 L641.37,535.5 L641.24,534.89 L641.12,534.28 L641.01,533.68 L640.91,533.07 L640.82,532.46 L640.74,531.86 L640.67,531.25 L640.62,530.64 L640.58,530.03 L640.54,529.43 L640.5,528.82 L640.47,528.21 L640.44,527.61 L640.4,527Z" fill="#3D5A97" stroke="#141414" stroke-width="1.0" stroke-linejoin="round"/><line x1="640.57" y1="529.9" x2="650.23" y2="529.9" stroke="#141414" stroke-width="1.0"/><path d="M530.2,493.7 V490.4 H578.2 V493.7" fill="none" stroke="#222" stroke-width="0.8"/><path d="M553.2,486.25L553.2,489.55M551.77,487.07L554.63,488.72M554.63,487.07L551.77,488.72" stroke="#1a1a1a" stroke-width="0.85" fill="none"/><path d="M557.4,486.25L557.4,489.55M555.97,487.07L558.83,488.72M558.83,487.07L555.97,488.72" stroke="#1a1a1a" stroke-width="0.85" fill="none"/><path d="M546.4,503.4 V500.3 H578.2 V503.4" fill="none" stroke="#222" stroke-width="0.8"/><path d="M559.9,495.55L559.9,498.85M558.47,496.38L561.33,498.02M561.33,496.38L558.47,498.02" stroke="#1a1a1a" stroke-width="0.85" fill="none"/><path d="M564.1,495.55L564.1,498.85M562.67,496.38L565.53,498.02M565.53,496.38L562.67,498.02" stroke="#1a1a1a" stroke-width="0.85" fill="none"/><path d="M564.4,511.1 V508.2 H578.2 V511.1" fill="none" stroke="#222" stroke-width="0.8"/><path d="M569.2,504.45L569.2,507.75M567.77,505.28L570.63,506.93M570.63,505.28L567.77,506.93" stroke="#1a1a1a" stroke-width="0.85" fill="none"/><path d="M573.4,504.45L573.4,507.75M571.97,505.28L574.83,506.93M574.83,505.28L571.97,506.93" stroke="#1a1a1a" stroke-width="0.85" fill="none"/><path d="M598.2,513.8 V510.3 H630.8 V513.8" fill="none" stroke="#222" stroke-width="0.8"/><path d="M612.1,505.95L612.1,509.25M610.67,506.78L613.53,508.43M613.53,506.78L610.67,508.43" stroke="#1a1a1a" stroke-width="0.85" fill="none"/><path d="M616.3,505.95L616.3,509.25M614.87,506.78L617.73,508.43M617.73,506.78L614.87,508.43" stroke="#1a1a1a" stroke-width="0.85" fill="none"/><path d="M630.8,525.3 V521.5 H646 V525.3" fill="none" stroke="#222" stroke-width="0.8"/><path d="M636,517.35L636,520.65M634.57,518.17L637.43,519.83M637.43,518.17L634.57,519.83" stroke="#1a1a1a" stroke-width="0.85" fill="none"/><path d="M640.2,517.35L640.2,520.65M638.77,518.17L641.63,519.83M641.63,518.17L638.77,519.83" stroke="#1a1a1a" stroke-width="0.85" fill="none"/></g><text transform="translate(93.9,16.4) scale(0.8,1)" font-size="10.8" text-anchor="middle">1</text><text transform="translate(256.3,16.4) scale(0.8,1)" font-size="10.8" text-anchor="middle">2</text><text transform="translate(424.8,16.4) scale(0.8,1)" font-size="10.8" text-anchor="middle">3</text><text transform="translate(591.8,16.4) scale(0.8,1)" font-size="10.8" text-anchor="middle">4</text><text transform="translate(11.3,71.8) scale(0.92,1)" font-size="11.8" text-anchor="middle">A</text><text transform="translate(11,212) scale(0.92,1)" font-size="11.8" text-anchor="middle">B</text><text transform="translate(8.1,391.1) scale(0.92,1)" font-size="11.8" text-anchor="middle">C</text><text transform="translate(8.6,528.6) scale(0.92,1)" font-size="11.8" text-anchor="middle">D</text></svg></body></html>
